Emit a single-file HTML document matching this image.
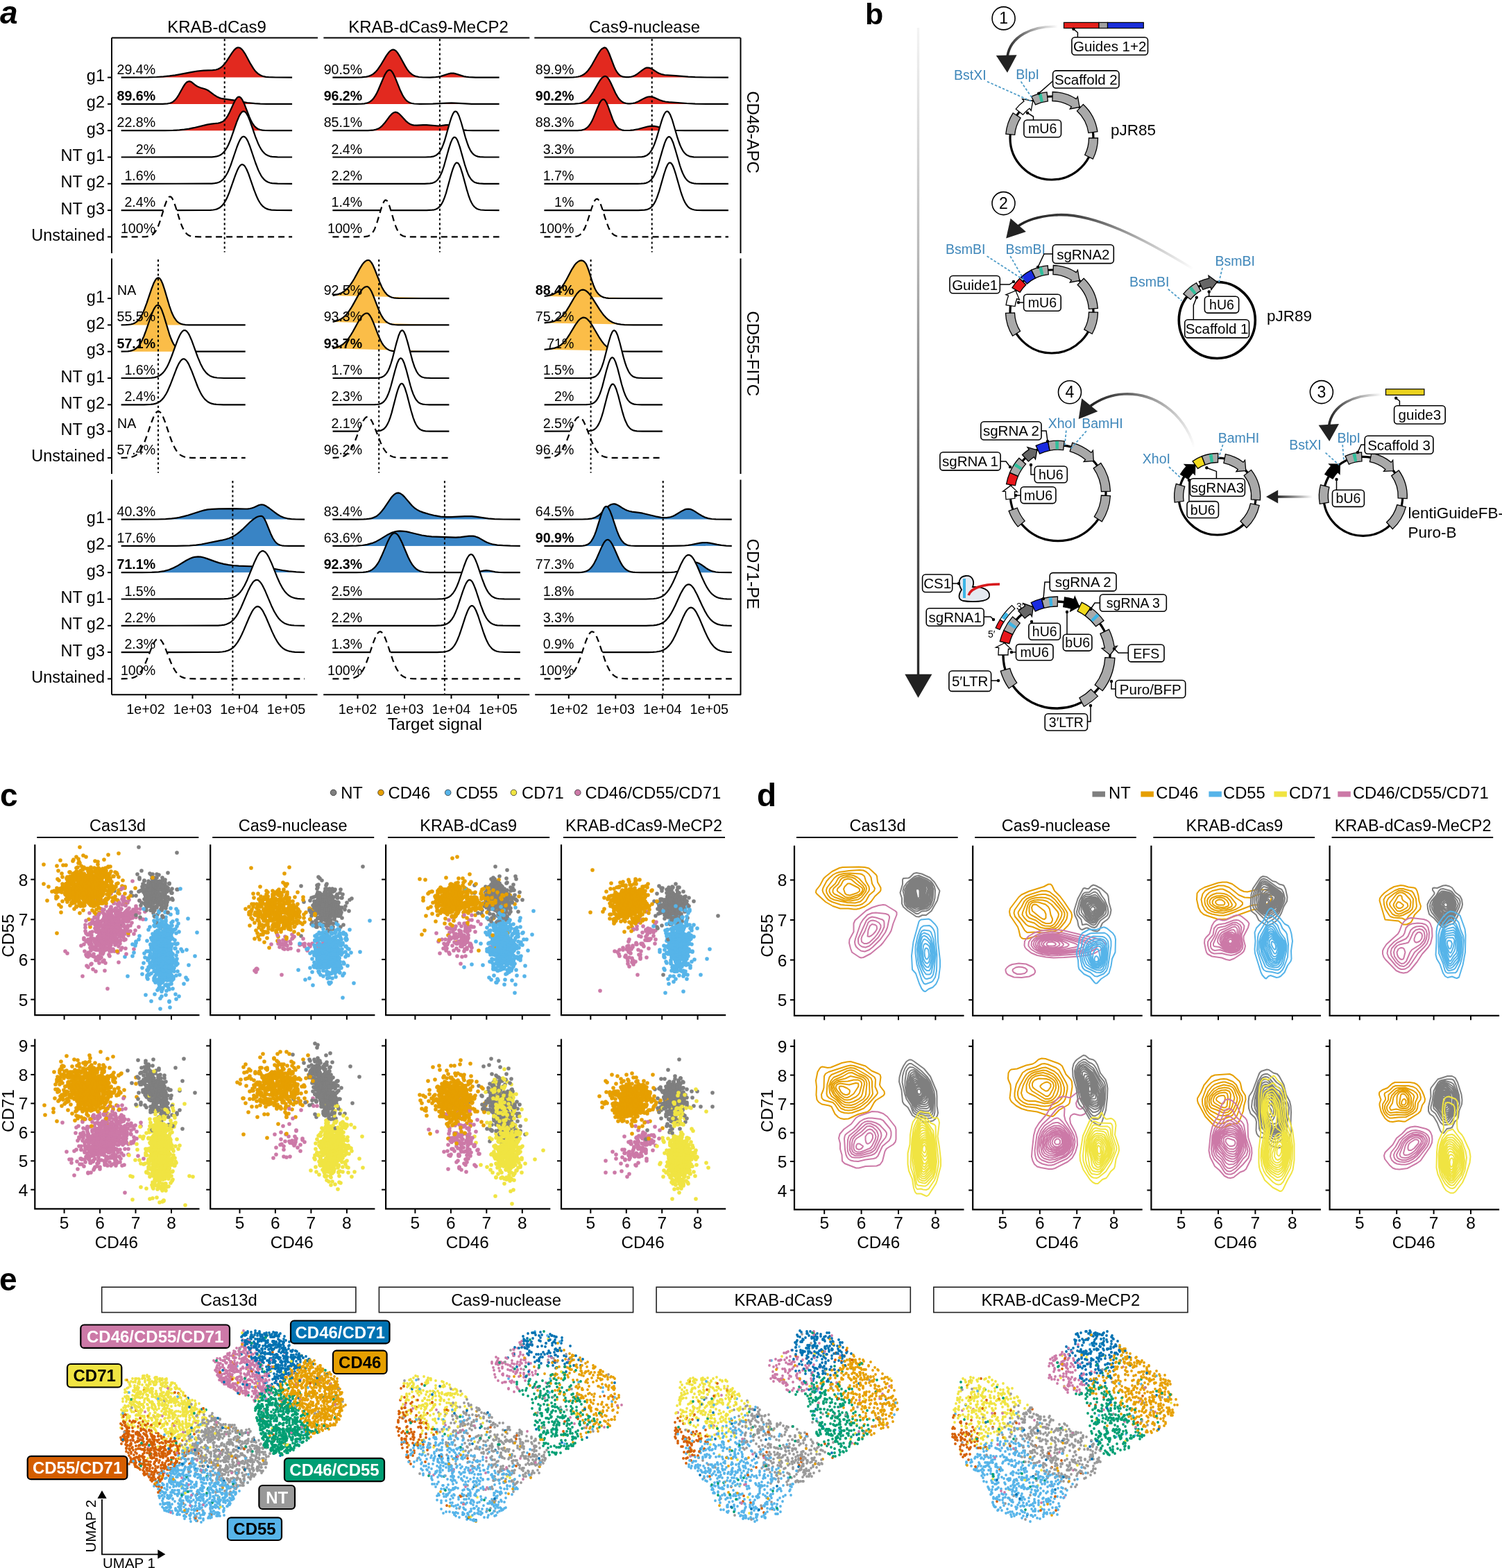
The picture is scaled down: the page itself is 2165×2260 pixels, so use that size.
<!DOCTYPE html>
<html><head><meta charset="utf-8"><title>Figure</title>
<style>html,body{margin:0;padding:0;background:#fff;}svg{display:block;}</style>
</head><body>
<svg width="2165" height="2260" viewBox="0 0 2165 2260">
<rect width="2165" height="2260" fill="#fff"/>
<text x="0" y="34" font-family="'Liberation Sans', Arial, sans-serif" font-size="46" font-weight="bold" font-style="italic">a</text>
<text x="312.6" y="46.5" font-family="'Liberation Sans', Arial, sans-serif" font-size="24" text-anchor="middle">KRAB-dCas9</text>
<text x="617.5" y="46.5" font-family="'Liberation Sans', Arial, sans-serif" font-size="24" text-anchor="middle">KRAB-dCas9-MeCP2</text>
<text x="929.0" y="46.5" font-family="'Liberation Sans', Arial, sans-serif" font-size="24" text-anchor="middle">Cas9-nuclease</text>
<line x1="161" y1="54.5" x2="458" y2="54.5" stroke="#000" stroke-width="2"/>
<line x1="466.4" y1="54.5" x2="763.3" y2="54.5" stroke="#000" stroke-width="2"/>
<line x1="770.3" y1="54.5" x2="1067.3" y2="54.5" stroke="#000" stroke-width="2"/>
<line x1="161" y1="1001.2" x2="457.6" y2="1001.2" stroke="#000" stroke-width="2"/>
<line x1="466.2" y1="1001.2" x2="763.2" y2="1001.2" stroke="#000" stroke-width="2"/>
<line x1="771.2" y1="1001.2" x2="1068.2" y2="1001.2" stroke="#000" stroke-width="2"/>
<line x1="161" y1="54.5" x2="161" y2="365" stroke="#000" stroke-width="2"/>
<line x1="1067.5" y1="54.5" x2="1067.5" y2="365" stroke="#000" stroke-width="2"/>
<line x1="161" y1="372.5" x2="161" y2="683" stroke="#000" stroke-width="2"/>
<line x1="1067.5" y1="372.5" x2="1067.5" y2="683" stroke="#000" stroke-width="2"/>
<line x1="161" y1="691.5" x2="161" y2="1001.2" stroke="#000" stroke-width="2"/>
<line x1="1067.5" y1="691.5" x2="1067.5" y2="1001.2" stroke="#000" stroke-width="2"/>
<text transform="translate(1077,190.6) rotate(90)" font-family="'Liberation Sans', Arial, sans-serif" font-size="24" text-anchor="middle">CD46-APC</text>
<text transform="translate(1077,509.7) rotate(90)" font-family="'Liberation Sans', Arial, sans-serif" font-size="24" text-anchor="middle">CD55-FITC</text>
<text transform="translate(1077,827.3) rotate(90)" font-family="'Liberation Sans', Arial, sans-serif" font-size="24" text-anchor="middle">CD71-PE</text>
<path d="M174.7 111.6l38.9-0.2 12-0.4 10-0.6 8.9-1 8-1.1 24-4.5 7.9-1.3 9-0.8 13-0.5 5-0.7 3-0.9 2-1 2.9-2 2-1.8 2-2.2 3-3.9 8-12.3 3-4 2-2 1-0.8 2-1 1-0.1 1 0 2 0.7 2 1.6 2 2.3 3 4.5 7.9 14.6 4 6.5 2 2.7 3 3.3 2 1.7 3 1.9 2 0.9 3 1 3 0.6 4 0.4 10 0.3 23.9 0.1" fill="#E2291F" stroke="#000" stroke-width="2.2" stroke-linejoin="round"/>
<path d="M174.7 149.9l59.9-0.1 6.9-0.4 4-0.9 2-0.8 2-1.1 2-1.7 2-2.1 2-2.6 2-3.2 6-10.8 3-4.8 2-2.3 1-0.8 1-0.6 2-0.5 2 0.4 2 1 5.9 4.7 3 1.8 3 1.2 7 1.9 3 1.3 3 1.8 7 5.3 4 2.6 4 1.9 3.9 1.1 16 2.2 20 3.6 10.9 1.2 8 0.4 9 0.2 36.9 0.1" fill="#E2291F" stroke="#000" stroke-width="2.2" stroke-linejoin="round"/>
<path d="M174.7 188.2l62.8-0.1 12-0.2 9-0.5 7-0.7 7-1.1 6.9-1.4 19-4.6 6-1 10-1.1 3-0.7 2.9-1.2 2-1.3 2-1.9 2-2.5 2-3.1 2-3.7 6-13.1 3-5.9 2-2.8 1-0.9 1-0.6 1-0.3 1 0.2 1 0.5 1 0.9 2 2.8 3 6.2 7 18 2.9 6.5 2 3.6 2 2.8 2 2.2 2 1.6 2 1.2 3 1 3 0.6 3 0.3 10 0.3 29.9 0" fill="#E2291F" stroke="#000" stroke-width="2.2" stroke-linejoin="round"/>
<path d="M174.7 226.5l125.7-0.1 5-0.1 4-0.4 3-0.5 3-0.9 3-1.5 2.9-2.3 3-3.5 3-4.7 2-4 3-7.1 9-25.7 3-7.4 2-3.8 2-2.6 1-0.8 1-0.5 1-0.1 1 0.3 1 0.6 1 0.9 1 1.3 2 3.5 2.9 7 8 23 4 10 2 4.2 2 3.5 2 2.9 3 3.3 2 1.6 3 1.7 3 1 3 0.6 8 0.5 20.9 0.1" fill="#fff" stroke="#000" stroke-width="2.2" stroke-linejoin="round"/>
<path d="M174.7 264.8l125.7-0.1 5-0.1 4-0.4 3-0.5 3-1 3-1.5 2.9-2.4 3-3.6 3-4.9 2-4.1 3-7.3 9-26.4 3-7.6 2-3.9 2-2.8 1-0.8 1-0.5 1-0.1 1 0.3 1 0.6 1 1 1 1.3 2 3.6 2.9 7.2 8 23.7 4 10.4 2 4.2 2 3.7 2 3 3 3.4 2 1.6 3 1.7 3 1 3 0.6 8 0.6 20.9 0.1" fill="#fff" stroke="#000" stroke-width="2.2" stroke-linejoin="round"/>
<path d="M174.7 303.1l123.7-0.1 5-0.1 4-0.4 3-0.5 3-0.9 3-1.5 2.9-2.4 3-3.4 3-4.8 2-4 3-7.1 9-25.6 3-7.4 2-3.8 2-2.6 1-0.8 1-0.5 1-0.1 1 0.3 1 0.6 1 0.9 1 1.3 2 3.5 3 7.1 7.9 22.9 4 10.1 2 4.2 2 3.5 2 2.9 3 3.3 2 1.5 3 1.7 3 1 4 0.7 8 0.4 21.9 0.1" fill="#fff" stroke="#000" stroke-width="2.2" stroke-linejoin="round"/>
<path d="M174.7 341.4l27.9 0 8-0.3 3-0.4 3-0.8 2-0.9 2-1.5 2-2 2-2.8 2-3.6 2-4.6 3-8.5 5.9-19.4 3-8 2-3.5 1-1.1 1-0.5 1-0.1 1 0.5 1 1 1 1.5 2 4.2 3 8.6 6 19.4 3 8 2 4.1 2 3.3 1 1.3 2 2.1 2 1.5 3 1.3 2 0.5 2.9 0.4 8 0.3 133.7 0" fill="#fff" stroke="#000" stroke-width="2.2" stroke-linejoin="round" stroke-dasharray="9 6"/>
<line x1="323.7" y1="56.0" x2="323.7" y2="363.5" stroke="#000" stroke-width="2" stroke-dasharray="3.2 3.6"/>
<path d="M479.4 111.6l31.9 0 10-0.2 6.9-0.8 3-0.7 3-1.1 3-1.7 2-1.5 3-2.9 2-2.3 4-5.7 8.9-14.8 3-4.1 2-2.1 2-1.4 2-0.7 1 0 1 0.2 2 1.1 1 0.9 2 2.3 3 4.7 8 14.6 2.9 4.7 2 2.6 2 2.2 3 2.5 3 1.7 3 1.1 4 0.8 6 0.5 9.9 0.1 8-0.4 4-0.5 3-0.6 11.9-3.8 3-0.6 2-0.1 2 0.1 3 0.6 12 3.8 3 0.6 3.9 0.5 10 0.4 33.9 0" fill="#E2291F" stroke="#000" stroke-width="2.2" stroke-linejoin="round"/>
<path d="M479.4 149.9l32.9 0 9-0.2 3.9-0.4 3-0.6 3-1 2-1.1 2-1.5 2-1.9 2-2.5 2-3.1 2-3.6 2-4.2 7-16.6 2.9-6.2 2-3.2 1-1.2 1-0.9 1-0.5 1-0.3 1 0.1 1 0.4 1 0.9 1 1.1 2 3.2 3 6.5 7 17.5 3 6.2 2 3.4 2 2.7 2.9 3 2 1.3 3 1.3 2 0.5 3 0.5 8 0.4 18.9-0.2 20-1.1 6.9-0.2 6 0.2 14 0.8 8.9 0.4 39.9 0.1" fill="#E2291F" stroke="#000" stroke-width="2.2" stroke-linejoin="round"/>
<path d="M479.4 188.2l50.8-0.1 7-0.4 5-1.1 4-1.7 2-1.3 2-1.7 4-4.3 6.9-9.3 3-3.4 2-1.7 1-0.6 2-0.8 1-0.1 2 0.4 1 0.4 2 1.3 3 2.9 6.9 7.6 3 2.6 2 1.3 2 1 2 0.7 2 0.5 5 0.2 9-0.4 4.9 0 17 1.3 4-0.3 7-1 2.9 0 2 0.3 3 0.9 7 3.3 3 1.2 3 0.9 4 0.6 5 0.4 8.9 0.3 37.9 0.1" fill="#E2291F" stroke="#000" stroke-width="2.2" stroke-linejoin="round"/>
<path d="M479.4 226.5l133.6 0 7.9-0.3 3-0.5 2-0.6 3-1.4 3-2.5 2-2.6 1-1.5 2-3.9 2-4.8 2-5.7 7.9-27.7 2-6.1 2-4.7 1-1.7 1-1.2 1-0.6 1-0.2 1 0.4 1 0.9 1 1.5 2 4.2 3 9 6 21.3 3 9.2 1.9 5 2 4.1 2 3.2 2 2.4 2 1.7 2 1.1 3 1.1 3 0.5 7 0.4 20.9 0" fill="#fff" stroke="#000" stroke-width="2.2" stroke-linejoin="round"/>
<path d="M479.4 264.8l132.6 0 7.9-0.4 3-0.5 2-0.6 3-1.6 3-2.7 3-4.4 2-4.1 2-5 2-6 6.9-24.8 3-9.3 2-4.5 1-1.5 1-1.1 1-0.5 1 0.1 1 0.6 1 1.1 2 3.7 3 8.6 7 24.9 3 9.2 1.9 4.9 2 4 2 3.1 2 2.2 2 1.7 2 1.1 3 0.9 3 0.5 7 0.4 21.9 0" fill="#fff" stroke="#000" stroke-width="2.2" stroke-linejoin="round"/>
<path d="M479.4 303.1l135.5 0 8-0.4 3-0.4 2-0.6 3-1.5 3-2.6 2-2.6 1-1.7 2-3.9 2-5 2-5.9 7.9-28.9 2-6.3 2-4.9 1-1.7 1-1.3 1-0.7 1-0.2 1 0.4 1 1 1 1.4 2 4.4 3 9.4 6 22 2.9 9.6 2 5.3 2 4.3 2 3.3 2 2.4 2 1.8 2 1.2 2 0.8 3 0.7 7 0.5 19.9 0.1" fill="#fff" stroke="#000" stroke-width="2.2" stroke-linejoin="round"/>
<path d="M479.4 341.4l44.9-0.1 4.9-0.6 2-0.6 2-1 2-1.6 2-2.4 2-3.4 1-2.1 3-7.9 6-20.3 2-6 2-4.5 1-1.4 0.9-0.9 1-0.2 1 0.4 1 1 1 1.6 2 4.8 2 6.1 5 17.2 2 5.9 2 4.9 2 3.7 2 2.7 2 1.9 3 1.6 3.9 0.9 7 0.3 127.6 0" fill="#fff" stroke="#000" stroke-width="2.2" stroke-linejoin="round" stroke-dasharray="9 6"/>
<line x1="633.9" y1="56.0" x2="633.9" y2="363.5" stroke="#000" stroke-width="2" stroke-dasharray="3.2 3.6"/>
<path d="M784.4 111.6l31.9 0 10-0.3 4-0.3 3-0.5 3-0.8 3-1.2 3-1.8 2-1.7 2-1.9 2-2.4 2-2.7 3-4.7 8-14.3 2.9-4.7 2-2.6 2-1.8 2-1 1-0.3 1 0.1 1 0.4 1 0.9 2 3.1 2 4.4 7 18.4 2 4.4 2 3.4 2 2.7 2 1.9 2 1.3 3 1.1 4 0.5 4-0.1 4-0.6 3-0.9 2-0.9 2.9-1.7 8-6.2 3-2 3-1.2 2-0.1 2 0.3 3 1.2 8 5.2 3 1.6 4 1.4 4 0.8 15.9 1.1 18 1.5 10 0.6 16 0.3 31.9 0.1" fill="#E2291F" stroke="#000" stroke-width="2.2" stroke-linejoin="round"/>
<path d="M784.4 149.9l33.9 0 10-0.2 7-0.7 3-0.7 3-1.2 2-1.1 2-1.4 2-1.7 2-2.2 2-2.5 3-4.5 8-13.9 2.9-4.6 2-2.4 2-1.8 2-0.9 1-0.2 1 0.1 1 0.4 1 0.8 1 1.1 2 2.9 2 3.8 7 15.2 3 5.3 2 2.9 2 2.2 3 2.4 2 1 3 0.9 3 0.4 3 0 4-0.4 3-0.7 4.9-1.9 8-4.4 3-1.4 3-1 3-0.2 2 0.2 3 0.8 9 3.9 4 1.4 4 0.9 5 0.6 25.9 1.9 12 0.6 16 0.2 31.9 0.1" fill="#E2291F" stroke="#000" stroke-width="2.2" stroke-linejoin="round"/>
<path d="M784.4 188.2l47.9-0.1 6-0.5 3-0.8 2-0.8 2-1.3 2-1.7 2-2.3 2-2.9 2-3.6 2-4.3 6-14.7 2.9-6.5 2-3.2 1-1.1 1-0.8 1-0.3 1 0 1 0.5 1 0.9 2 3.3 2 4.6 7 19.3 2 4.5 2 3.6 2 2.8 2 2 2 1.3 3 1.2 3 0.5 4 0.2 5-0.2 5-0.5 6.9-1.3 13-3.5 4-0.7 3-0.1 3 0.2 4 0.6 11 3.1 5 1.1 5 0.8 4.9 0.4 14 0.3 62.9 0" fill="#E2291F" stroke="#000" stroke-width="2.2" stroke-linejoin="round"/>
<path d="M784.4 226.5l131.8 0 8.9-0.4 3-0.5 2-0.7 3-1.5 3-2.6 3-4.1 2-3.7 2-4.6 3-8.5 7-23.7 2-6 2-4.9 1-1.8 1-1.5 1-1 1-0.4 1 0 1 0.5 1 1 2 3.3 3 7.8 6.9 23.6 2 6.2 2 5.5 2 4.6 2 3.7 2 2.9 3 3 2 1.4 3 1.2 3 0.6 3 0.4 9 0.2 40.9 0" fill="#fff" stroke="#000" stroke-width="2.2" stroke-linejoin="round"/>
<path d="M784.4 264.8l134.7 0 5-0.2 4-0.3 3-0.5 2-0.7 3-1.7 3-2.7 3-4.4 2-4 2-4.9 2-5.7 7-24.1 3-9.4 2-4.8 1-1.7 1-1.4 1-0.8 1-0.4 1 0.2 1 0.6 1 1.2 1 1.6 2 4.5 2.9 9.1 7 24.2 2 5.9 2 5.1 2 4.1 2 3.3 2 2.5 2 1.8 2 1.3 3 1.1 3 0.7 3 0.3 9 0.2 37.9 0" fill="#fff" stroke="#000" stroke-width="2.2" stroke-linejoin="round"/>
<path d="M784.4 303.1l135.7 0 9-0.4 3-0.6 2-0.6 3-1.5 3-2.7 3-4.2 2-3.9 2-4.8 3-8.8 7-24.6 3-9 2-4.3 1-1.5 1-1.1 1-0.5 1 0 1 0.5 1 1 1 1.4 1 2 1.9 5 2 6.3 7 24.5 2 6.1 2 5.3 2 4.4 2 3.4 2 2.7 2 1.9 2 1.4 3 1.3 3 0.7 3 0.3 9 0.3 36.9 0" fill="#fff" stroke="#000" stroke-width="2.2" stroke-linejoin="round"/>
<path d="M784.4 341.4l33.9 0 8-0.2 3-0.3 3-0.7 2-0.8 2-1.3 2-1.9 2-2.6 3-5.5 3-7.7 6-18.9 3-8.4 2-4 1-1.3 1-0.8 1-0.3 1 0.2 1 0.8 1 1.3 1.9 3.9 3 8.3 6 19 3 7.7 2 4 2 3 1 1.2 2 1.9 2 1.3 3 1.2 5 0.7 7 0.2 148.7 0" fill="#fff" stroke="#000" stroke-width="2.2" stroke-linejoin="round" stroke-dasharray="9 6"/>
<line x1="939.7" y1="56.0" x2="939.7" y2="363.5" stroke="#000" stroke-width="2" stroke-dasharray="3.2 3.6"/>
<path d="M174.6 468.4l7-0.2 3.9-0.3 3-0.4 3-0.8 3-1.3 2-1.3 2-1.7 2-2.2 2-2.8 1.9-3.4 2-4.1 2-4.7 3-8.1 7-20.8 3-7.7 2-3.9 1.9-2.8 1-0.8 1-0.6 1-0.1 1 0.3 1 0.7 1 1.3 1 1.6 2 4.4 3 8.9 6.9 23.4 3 8.5 2 4.6 2 3.8 3 4.3 2 1.9 3 2 2 0.8 3 0.8 2.9 0.4 5 0.2 81.6 0.1" fill="#FBBD48" stroke="#000" stroke-width="2.2" stroke-linejoin="round"/>
<path d="M174.6 506.7l9.9-0.4 3-0.4 3-0.8 3-1.2 2-1.2 3-2.6 2-2.4 2-2.9 1.9-3.6 3-6.6 3-7.9 8-23.2 3-7.1 2-3.5 1-1.3 0.9-1 1-0.6 1-0.3 1 0.1 1 0.6 1 1.1 1 1.5 2 4.1 3 8.5 7.9 26.2 2 5.5 2 4.7 2 3.9 3 4.3 2 2 3 2.1 2 0.9 3 0.7 2.9 0.5 5 0.2 82.6 0.1" fill="#FBBD48" stroke="#000" stroke-width="2.2" stroke-linejoin="round"/>
<path d="M174.6 545l33.8 0 10-0.4 4-0.5 3.9-1 3-1.4 3-1.9 3-2.9 2-2.5 3-4.7 2-3.9 1.9-4.3 3-7.5 9-24.4 3-6.6 2-3.4 2-2.3 1-0.8 0.9-0.4 1-0.1 1 0.2 1 0.5 1 0.8 2 2.4 2 3.5 3 6.8 8.9 24.4 4 9.6 3 5.9 2 3.2 3 3.8 3 2.8 3 2 2.9 1.2 3 0.8 4 0.6 10 0.5 30.8 0" fill="#fff" stroke="#000" stroke-width="2.2" stroke-linejoin="round"/>
<path d="M174.6 583.3l32.8 0 10-0.4 4-0.5 3-0.8 2.9-1.1 3-1.7 3-2.6 3-3.5 3-4.7 2-3.8 3.9-8.9 9-23.5 2-4.6 2-3.9 2-3 2-2.1 1-0.6 1-0.3 0.9 0 1 0.3 2 1.5 2 2.5 2 3.5 4 9.1 8.9 23.3 3 6.6 2 3.8 2 3.3 2 2.7 2 2.3 3 2.5 3 1.8 2.9 1.1 3 0.8 4 0.5 10 0.4 31.8 0" fill="#fff" stroke="#000" stroke-width="2.2" stroke-linejoin="round"/>
<path d="M174.6 659.9l7-0.2 3.9-0.3 3-0.4 3-0.8 3-1.3 2-1.2 2-1.7 2-2.2 2-2.7 1.9-3.4 2-4 2-4.7 3-8 7-20.5 3-7.5 2-3.9 1.9-2.7 1-0.9 1-0.5 1-0.1 1 0.2 1 0.6 1 0.9 2 2.9 2 4 3 7.6 5.9 17.7 3 8.2 3 7.1 2 4 2 3.3 3 3.8 2 1.9 3 2 2.9 1.2 3 0.8 4 0.5 4 0.2 77.6 0.1" fill="#fff" stroke="#000" stroke-width="2.2" stroke-linejoin="round" stroke-dasharray="9 6"/>
<line x1="228.0" y1="374.0" x2="228.0" y2="681.5" stroke="#000" stroke-width="2" stroke-dasharray="3.2 3.6"/>
<path d="M479.6 425.9l7-1.5 5-1.8 4-2.3 4-3.3 4-4.5 4-5.8 3-5 8-14.6 3.9-6.2 2-2.4 2-1.9 2-1.2 2-0.4 1 0 1 0.4 1 0.8 2 2.4 2 3.5 3 6.9 7 18.2 3 6.7 2 3.7 2 3.1 3 3.6 2 1.7 3 1.8 2 0.8 3 0.7 3 0.4 5 0.3 71.9 0.1" fill="#FBBD48" stroke="#000" stroke-width="2.2" stroke-linejoin="round"/>
<path d="M479.6 464l6-1.6 5-2.1 4-2.6 4-3.6 3-3.6 4-5.8 3-5.1 8-14.5 4-6.2 1.9-2.4 2-1.8 2-1.2 2-0.4 1 0 1 0.5 1 0.7 2 2.5 2 3.5 3 7 7 18.2 3 6.7 2 3.7 2 3.2 3 3.5 2 1.7 3 1.8 2 0.8 3 0.7 3 0.4 5 0.3 73.9 0.1" fill="#FBBD48" stroke="#000" stroke-width="2.2" stroke-linejoin="round"/>
<path d="M479.6 502.3l6-1.6 5-2.1 4-2.6 4-3.6 3-3.5 4-5.9 3-5 8-14.5 4-6.2 1.9-2.4 2-1.8 2-1.2 2-0.4 1 0 1 0.5 1 0.7 2 2.5 2 3.5 3 6.9 7 18.2 3 6.7 2 3.8 2 3.1 3 3.5 2 1.7 3 1.8 2 0.8 3 0.7 3 0.4 5 0.3 73.9 0.1" fill="#FBBD48" stroke="#000" stroke-width="2.2" stroke-linejoin="round"/>
<path d="M479.6 545l62.9-0.1 3-0.2 3-0.5 3-1.1 2-1.2 2-1.7 2-2.6 2-3.4 2-4.5 2-5.7 2-6.6 6-23.3 3-10.1 2-4.8 1-1.6 1-1 1-0.4 1 0.2 1 0.9 1 1.4 2 4.5 3 9.9 7 26.7 3 9.1 3 6.6 2 3.1 2 2.3 1.9 1.5 2 1.1 3 0.8 3 0.4 7 0.3 26 0" fill="#fff" stroke="#000" stroke-width="2.2" stroke-linejoin="round"/>
<path d="M479.6 583.3l60.9-0.1 3-0.2 3-0.5 3-1 2-1.2 2-1.7 2-2.5 2-3.4 2-4.4 2-5.5 2-6.5 6-22.6 3-9.9 2-4.6 1-1.5 1-1 1-0.4 1 0.2 1 0.9 1 1.4 2 4.4 3 9.6 6 22.7 2 6.6 2 5.6 3 6.4 2 3 2 2.2 2 1.5 1.9 1 3 0.8 3 0.4 7 0.3 28 0" fill="#fff" stroke="#000" stroke-width="2.2" stroke-linejoin="round"/>
<path d="M479.6 621.6l61.9-0.1 4-0.3 3-0.6 2-0.7 2-1.1 2-1.7 2-2.4 2-3.3 2-4.3 2-5.5 2-6.5 7-26.9 2-6.6 2-5.1 1-1.8 1-1.2 1-0.6 1 0 1 0.6 1 1.3 2 4.1 3 9.6 6 23.2 3 10.1 2 5.4 2 4.3 2 3.3 2 2.4 1.9 1.6 2 1.1 3 1 3 0.4 7 0.3 27 0" fill="#fff" stroke="#000" stroke-width="2.2" stroke-linejoin="round"/>
<path d="M479.6 659.8l8-0.4 3-0.4 3-0.8 3-1.2 2-1.3 2-1.6 2-2.1 2-2.6 2-3.1 3-5.9 3-6.9 7-18.1 2-4.7 1.9-4 2-3.1 1-1.1 1-0.9 1-0.5 1-0.2 1 0.1 1 0.5 1 0.7 2 2.4 2 3.4 3 6.7 9 22.9 3 6.4 2 3.5 2 2.9 3 3.5 2 1.7 3 1.7 3 1.2 3 0.6 4 0.5 4 0.2 69.9 0.1" fill="#fff" stroke="#000" stroke-width="2.2" stroke-linejoin="round" stroke-dasharray="9 6"/>
<line x1="546.2" y1="374.0" x2="546.2" y2="681.5" stroke="#000" stroke-width="2" stroke-dasharray="3.2 3.6"/>
<path d="M784.6 427l7-1.1 5-1.5 2.9-1.3 2-1.2 4-3.3 3-3.3 4-5.6 4-6.7 7.9-14.9 4-6.2 2-2.4 3-2.5 3-1.4 2-0.2 2 0.6 2 1.4 2 2.5 1 1.7 0.9 2.2 2 5.2 5 15.9 2 5.8 2 4.8 2 3.9 2 2.9 2 2.2 2 1.7 3 1.7 1.9 0.7 3 0.7 4 0.5 4 0.2 73.7 0.1" fill="#FBBD48" stroke="#000" stroke-width="2.2" stroke-linejoin="round"/>
<path d="M784.6 465.4l8-1 5.9-1.3 3-1.2 2-1 3-1.9 2-1.6 4-4.2 4-5.4 4-6.4 6.9-11.9 4-6 3-3.3 2-1.5 2-0.9 2-0.2 2 0.4 2 1 1.9 1.4 2 2 2 2.3 3 4.1 11 17.3 3 4.3 2.9 3.9 3 3.3 3 2.7 3 2.2 4 2.2 3 1.1 4 1.1 4.9 0.8 5 0.4 13 0.3 41.8 0" fill="#FBBD48" stroke="#000" stroke-width="2.2" stroke-linejoin="round"/>
<path d="M784.6 503.8l9-1 5.9-1.2 3-1 2-0.9 3-1.8 2-1.5 4-3.9 4-5.1 3.9-6.1 8-13.2 4-5.5 2-2.1 2-1.6 2-1 2-0.3 2 0.4 2 1 1.9 1.7 3 3.4 4 6.1 10 17 3 4.4 2.9 3.8 2 2.1 3 2.6 3 2.1 3 1.5 3 1 4 1 4 0.5 4.9 0.3 12 0.2 45.8 0" fill="#FBBD48" stroke="#000" stroke-width="2.2" stroke-linejoin="round"/>
<path d="M784.6 545l63.7-0.1 3-0.3 3-0.5 3-1 2-1.3 2-1.8 2-2.5 2-3.6 2-4.5 2-5.7 1.9-6.7 6-23.2 3-10 2-4.7 1-1.6 1-0.9 1-0.4 1 0.3 1 0.8 1 1.5 2 4.5 3 9.9 5.9 23.2 2 6.7 2 5.8 3 6.6 2 3.1 2 2.3 2 1.5 2 1 3 0.9 2.9 0.4 7 0.3 27.9 0" fill="#fff" stroke="#000" stroke-width="2.2" stroke-linejoin="round"/>
<path d="M784.6 583.3l60.8-0.1 2.9-0.2 3-0.5 3-1 2-1.1 2-1.7 2-2.4 2-3.4 2-4.3 2-5.5 2-6.5 5.9-22.8 3-10.1 2-5 1-1.7 1-1.1 1-0.6 1 0.1 1 0.7 1 1.3 2 4.2 3 9.4 5.9 23 3 9.9 2 5.3 2 4.2 2 3.2 2 2.3 2 1.7 2 1 3 1 3 0.4 7.9 0.3 29.9 0" fill="#fff" stroke="#000" stroke-width="2.2" stroke-linejoin="round"/>
<path d="M784.6 621.6l61.7-0.1 3-0.3 3-0.5 3-1 2-1.2 2-1.8 2-2.6 2-3.5 2-4.5 2-5.7 2-6.6 5.9-22.9 3-9.9 2-4.6 1-1.5 1-1 1-0.3 1 0.3 1 0.9 1 1.4 2 4.5 3 9.8 5.9 22.9 2 6.7 2 5.7 3 6.5 2 3 2 2.2 2 1.6 2 1 3 0.8 3 0.4 7.9 0.3 28.9 0" fill="#fff" stroke="#000" stroke-width="2.2" stroke-linejoin="round"/>
<path d="M784.6 659.8l8-0.4 3-0.4 2.9-0.7 3-1.3 2-1.2 2-1.6 2-2.1 2-2.6 2-3.1 3-5.8 3-6.9 7.9-20.5 3-6.3 2-3.2 1-1.1 1-0.9 1-0.5 1-0.3 1 0.1 1 0.4 1 0.7 2 2.3 2 3.4 3 6.5 8.9 22.9 3 6.4 2 3.6 2 3 3 3.5 2 1.7 3 1.8 2.9 1.2 3 0.7 4 0.5 4 0.2 72.7 0.1" fill="#fff" stroke="#000" stroke-width="2.2" stroke-linejoin="round" stroke-dasharray="9 6"/>
<line x1="851.6" y1="374.0" x2="851.6" y2="681.5" stroke="#000" stroke-width="2" stroke-dasharray="3.2 3.6"/>
<path d="M174.7 748.6l51.9-0.1 12-0.4 8.9-0.7 9-1.2 8-1.8 7-1.9 17.9-5.8 5-1.3 5-1 6-0.6 10-0.4 22.9-0.2 15 0.3 4-0.1 3-0.4 3-0.7 3-1.1 6.9-3.2 2-0.5 2-0.2 2 0.2 1 0.3 4 2 4 2.7 8 6.2 4 2.8 4 2.4 5 2.1 5 1.3 5.9 0.8 7 0.4 12 0.1" fill="#3984C5" stroke="#000" stroke-width="2.2" stroke-linejoin="round"/>
<path d="M174.7 786.9l77.8 0 12-0.2 9-0.3 9-0.8 7.9-1.1 29-5.8 6-1.5 4.9-1.5 4-1.7 4-2.2 4-2.7 4-3.2 4-3.7 10-9.7 5-4.2 3-2 3-1.5 2.9-0.8 2-0.2 1 0.1 1 0.4 1 0.8 2 2.8 2 4 7 17.3 3 6.3 3 4.6 2 2.3 2 1.6 2 1.1 2 0.7 2 0.5 3 0.3 7 0.3 22.9 0" fill="#3984C5" stroke="#000" stroke-width="2.2" stroke-linejoin="round"/>
<path d="M174.7 825.2l29.9 0 14-0.3 10-0.6 8-1.2 6.9-1.9 7-2.9 6-3.2 12-7.4 6-3 3-1.1 3-0.8 4.9-0.5 4 0.4 4 0.8 5 1.6 11 4 6 2 7 1.8 6.9 1.2 7 0.9 8 0.6 24 0.9 9.9 0.7 10 1.3 19 3.5 9 1.3 10.9 1.1 12 0.6" fill="#3984C5" stroke="#000" stroke-width="2.2" stroke-linejoin="round"/>
<path d="M174.7 863.5l141.7-0.1 7-0.2 5-0.4 3.9-0.7 3-0.8 4-1.8 3-2.1 2-1.8 2-2.2 3-4.1 3-5.1 4-8.3 10-24.6 4-8.6 2.9-4.9 2-2.2 2-1.2 1-0.3 1 0 2 0.8 2 1.7 2 2.6 2 3.4 4 8.6 8 20 4 9 4 7.5 2 3 2 2.6 2 2.2 3 2.6 2.9 1.9 3 1.3 3 0.8 4 0.7 4 0.4 6 0.2" fill="#fff" stroke="#000" stroke-width="2.2" stroke-linejoin="round"/>
<path d="M174.7 901.8l133.7-0.1 6-0.1 5-0.4 4-0.6 3-0.8 3.9-1.7 3-2 2-1.7 2-2 3-3.8 3-4.8 4-7.8 10-23.4 4-8.3 3-4.7 2-2.2 2-1.2 2-0.4 2 0.6 1.9 1.6 2 2.4 2 3.1 4 8.1 9 21.3 4 8.3 4 6.7 2 2.8 3 3.3 3 2.5 3 1.9 3 1.2 3 0.9 3.9 0.6 4 0.4 15 0.3" fill="#fff" stroke="#000" stroke-width="2.2" stroke-linejoin="round"/>
<path d="M174.7 940.1l134.7-0.1 6-0.1 5-0.4 4-0.6 4-1.1 3.9-1.8 3-2.1 2-1.8 2-2.2 3-4 3-5 3-5.9 3-6.6 8-18.9 4-8 2-3.1 2-2.3 2-1.5 2-0.5 1.9 0.4 2 1.4 2 2.3 2 3 4 8 9 21.2 4 8.4 4 6.9 2 2.8 3 3.5 3 2.6 3 1.9 3 1.3 2.9 0.9 4 0.7 4 0.4 14 0.3" fill="#fff" stroke="#000" stroke-width="2.2" stroke-linejoin="round"/>
<path d="M174.7 978.4l11-0.4 3-0.4 3-0.7 3-1.1 2-1.2 1.9-1.5 2-1.9 2-2.4 2-3 3-5.5 4-9.1 7-17.8 3-6.4 2-3.3 2-2.2 1-0.7 1-0.3 1-0.1 1 0.3 1 0.6 1 0.9 2 2.6 2 3.6 3 6.7 7.9 20.2 3 6.4 3 5.2 3 4 3 2.8 3 1.9 4 1.5 3 0.6 3 0.4 10 0.3 157.6 0" fill="#fff" stroke="#000" stroke-width="2.2" stroke-linejoin="round" stroke-dasharray="9 6"/>
<line x1="335.4" y1="693.0" x2="335.4" y2="999.7" stroke="#000" stroke-width="2" stroke-dasharray="3.2 3.6"/>
<path d="M479.4 748.6l34.9 0 10-0.2 4-0.2 4-0.5 3-0.6 3-1 3-1.3 3-2 2.9-2.6 2-2.1 5-6.4 9-13.4 2-2.5 2-2.1 2-1.7 2-1.1 1-0.3 2-0.2 1 0.2 2 0.7 3 2.1 3 3 8 9.4 2.9 3.2 3 2.8 4 2.8 4 2.1 5 1.9 9 2.6 8 2 8 1.4 7.9 0.5 7 0 20-0.9 10-0.1 6.9 0.7 17 2.5 9 0.8 13 0.4 23.9 0.1" fill="#3984C5" stroke="#000" stroke-width="2.2" stroke-linejoin="round"/>
<path d="M479.4 786.9l22.9 0 11-0.3 9-0.6 7-1.1 7-2 6-2.5 5.9-3.3 11-6.7 6-2.9 5-1.5 3-0.4 3-0.2 4 0.2 5 0.6 5 1 17.9 4.3 7 1.1 7 0.7 34.9 1.3 7-0.4 12-1.5 3-0.2 3 0.2 2.9 0.5 3 1 3 1.4 8 4.6 3 1.5 4 1.6 5 1.4 6 0.9 8 0.6 10.9 0.4 14 0.2" fill="#3984C5" stroke="#000" stroke-width="2.2" stroke-linejoin="round"/>
<path d="M479.4 825.2l33.9 0 10-0.3 4-0.5 3-0.6 3-1.1 3-1.6 3-2.4 2-2.1 3-4.1 2-3.3 3.9-8.1 9-21.2 3-5.8 2-3 2-1.9 1-0.6 1-0.3 1-0.1 1 0.3 2 1.3 2 2.3 2 3.3 3 6.1 9 21.2 3 6 2.9 4.9 3 3.8 3 2.8 3 1.9 3 1.3 5 1.1 8 0.6 57.9 0.1 5-0.2 3.9-0.3 4-0.7 7-1.4 4-0.4 4 0.3 9 1.8 6 0.7 7 0.2 22.9 0" fill="#3984C5" stroke="#000" stroke-width="2.2" stroke-linejoin="round"/>
<path d="M479.4 863.5l149.7 0 8.9-0.4 3-0.4 3-0.8 3-1.4 3-2.2 3-3.3 3-4.7 2-4 3-7.3 8-23.5 3-7.9 2-4.1 2-2.9 1-0.9 1-0.5 1-0.2 1 0.2 1 0.7 1 1 0.9 1.3 2 3.7 3 7.4 7 20.8 4 10.4 2 4.3 2 3.6 2 2.9 3 3.2 2 1.6 3 1.5 3 0.9 3 0.5 8 0.4 22.9 0.1" fill="#fff" stroke="#000" stroke-width="2.2" stroke-linejoin="round"/>
<path d="M479.4 901.8l147.7 0 9-0.4 2.9-0.5 3-0.8 3-1.4 3-2.2 3-3.4 3-4.9 2-4.1 3-7.4 8-24.1 3-8 2-4.2 2-3 1-0.9 1-0.6 1-0.1 1 0.3 1 0.6 1 1 1 1.4 1.9 3.8 3 7.6 7 21.3 4 10.7 2 4.3 2 3.7 2 3 3 3.2 2 1.6 3 1.6 3 0.9 3 0.5 8 0.4 24.9 0.1" fill="#fff" stroke="#000" stroke-width="2.2" stroke-linejoin="round"/>
<path d="M479.4 940.1l150.7 0 8.9-0.4 3-0.4 3-0.8 2-0.8 2-1.1 3-2.5 3-3.7 2-3.4 2-4 3-7.4 3-8.7 6-18.5 3-7.8 2-3.9 1-1.5 1-1.1 1-0.7 1-0.3 1 0.1 1 0.5 0.9 0.9 1 1.3 2 3.6 3 7.5 8 24.5 3 8 2 4.6 2 3.9 2 3.1 3 3.5 2 1.7 3 1.7 3 1 3 0.5 7.9 0.5 22 0.1" fill="#fff" stroke="#000" stroke-width="2.2" stroke-linejoin="round"/>
<path d="M479.4 978.4l20-0.1 3.9-0.2 4-0.4 3-0.7 3-1.2 3-1.8 2-1.8 3-3.6 2-3.1 2-3.8 2-4.5 4-10.7 7-20.8 3-7.6 2-3.8 2-2.6 1-0.8 0.9-0.4 1-0.1 1 0.3 1 0.7 1 1.1 2 3 2 4.2 3 7.9 8 23.7 3 7.5 3 6.1 3 4.7 3 3.3 3 2.2 3 1.5 3 0.8 3 0.5 3.9 0.3 6 0.2 149.7 0" fill="#fff" stroke="#000" stroke-width="2.2" stroke-linejoin="round" stroke-dasharray="9 6"/>
<line x1="640.9" y1="693.0" x2="640.9" y2="999.7" stroke="#000" stroke-width="2" stroke-dasharray="3.2 3.6"/>
<path d="M784.4 748.6l54.9-0.1 8-0.3 5.9-0.9 3-0.9 2-0.8 4-2.3 4-3.2 8-8.1 3-2.6 2-1.4 2-1 3-0.7 2 0.1 3 1 3 1.6 5.9 3.8 3 1.6 3 1.4 3 0.9 4 0.9 10 1.3 5 0.8 18.9 4.6 8 1.5 4 0.3 4 0 3-0.4 3-0.7 3-1 3-1.5 10-6.1 3-1.5 2.9-1 3-0.3 3 0.3 3 1.1 3 1.6 8 5.2 4 2.3 4 1.8 4 1.2 5 0.9 6 0.4 22.9 0.2" fill="#3984C5" stroke="#000" stroke-width="2.2" stroke-linejoin="round"/>
<path d="M784.4 786.9l52.9-0.1 3-0.2 3-0.5 3-1 2-1.1 2-1.6 1.9-2.3 3-5 2-4.5 2-5.3 7-22.2 2-5.6 2-4.3 1-1.6 1-1 1-0.6 1-0.1 1 0.4 1 0.9 1 1.3 2 3.7 3 7.8 7 20.9 3 7.4 2 3.9 2 3.1 2.9 3.3 2 1.5 3 1.4 2 0.6 3 0.4 7 0.4 49.9 0 14-0.2 6-0.2 5.9-0.7 5-0.8 12-2.4 4-0.5 3-0.1 3 0.1 4 0.6 10.9 2.2 6 1 7 0.7 8 0.2" fill="#3984C5" stroke="#000" stroke-width="2.2" stroke-linejoin="round"/>
<path d="M784.4 825.2l49.9-0.1 4-0.3 3-0.4 3-0.8 2-0.9 2-1.1 2-1.6 1.9-2 2-2.6 2-3.1 3-5.7 8-18.2 3-5.7 2-2.7 1-1 1-0.7 1-0.3 1-0.1 1 0.3 1 0.6 1 0.9 1 1.2 2 3.1 3 6 7 16 3 5.9 1.9 3.2 2 2.6 3 3 3 1.9 2 0.9 2 0.6 3 0.6 3 0.2 9 0.3 36.9 0 6-0.2 5-0.5 5-1 4-1.6 4-2.2 7.9-5.6 3-1.8 3-1.3 3-0.5 3 0.4 3 1.2 3 1.8 7 5 3 1.9 3 1.5 4 1.4 4 0.8 4.9 0.5 18 0.2" fill="#3984C5" stroke="#000" stroke-width="2.2" stroke-linejoin="round"/>
<path d="M784.4 863.5l146.7 0 11-0.5 3.9-0.5 3-0.7 4-1.5 2-1.1 2-1.4 2-1.7 2-2.1 3-3.9 3-4.9 3-5.7 3-6.6 8-18.6 4-7.8 2-2.9 1.9-2.2 2-1.3 2-0.3 2 0.7 2 1.5 2 2.5 2 3.2 4 8.1 7 16.4 4 8.6 3 5.6 2 3.2 2 2.8 2 2.3 2 2 3 2.3 2.9 1.6 3 1.1 3 0.7 4 0.6 5 0.3 7 0.2" fill="#fff" stroke="#000" stroke-width="2.2" stroke-linejoin="round"/>
<path d="M784.4 901.8l146.7 0 11-0.5 3.9-0.5 3-0.6 4-1.4 4-2.3 2-1.6 2-2 3-3.6 3-4.6 3-5.4 3-6.1 8-17.4 4-7.2 2-2.8 1.9-2 2-1.2 2-0.3 2 0.6 2 1.5 2 2.3 2 3 4 7.5 7 15.3 4 8.1 3 5.2 2 3 2 2.6 2 2.2 2 1.8 3 2.2 2.9 1.5 3 1 3 0.7 4 0.5 5 0.3 7 0.2" fill="#fff" stroke="#000" stroke-width="2.2" stroke-linejoin="round"/>
<path d="M784.4 940.1l149.7 0 7-0.2 4.9-0.4 4-0.6 3-0.7 4-1.7 2-1.2 2-1.5 3-2.9 3-3.8 3-4.8 3-5.8 3-6.5 8-18.9 3.9-8 2-3.2 2-2.3 2-1.5 2-0.5 2 0.5 2 1.4 2 2.3 2 3.1 4 8 8 18.9 4 8.6 4 7.1 2 2.8 2 2.5 2 2.1 2.9 2.4 2 1.2 3 1.3 3 0.9 4 0.7 4 0.4 6 0.2" fill="#fff" stroke="#000" stroke-width="2.2" stroke-linejoin="round"/>
<path d="M784.4 978.4l21-0.1 3.9-0.2 4-0.5 3-0.7 3-1.2 3-2 2-1.8 2-2.4 2-2.9 2-3.6 2-4.3 4-10.3 8-23.7 3-7.3 2-3.6 1-1.4 1-1 0.9-0.7 1-0.3 1 0.1 1 0.4 1 0.8 2 2.7 2 3.8 3 7.6 9 26.4 3 7.4 3 5.9 3 4.5 3 3.2 3 2.1 3 1.4 3 0.8 3 0.4 9.9 0.5 148.7 0" fill="#fff" stroke="#000" stroke-width="2.2" stroke-linejoin="round" stroke-dasharray="9 6"/>
<line x1="955.7" y1="693.0" x2="955.7" y2="999.7" stroke="#000" stroke-width="2" stroke-dasharray="3.2 3.6"/>
<line x1="155" y1="111.6" x2="161" y2="111.6" stroke="#000" stroke-width="2"/>
<text x="151" y="117.1" font-family="'Liberation Sans', Arial, sans-serif" font-size="23.5" text-anchor="end">g1</text>
<line x1="155" y1="149.9" x2="161" y2="149.9" stroke="#000" stroke-width="2"/>
<text x="151" y="155.4" font-family="'Liberation Sans', Arial, sans-serif" font-size="23.5" text-anchor="end">g2</text>
<line x1="155" y1="188.2" x2="161" y2="188.2" stroke="#000" stroke-width="2"/>
<text x="151" y="193.7" font-family="'Liberation Sans', Arial, sans-serif" font-size="23.5" text-anchor="end">g3</text>
<line x1="155" y1="226.5" x2="161" y2="226.5" stroke="#000" stroke-width="2"/>
<text x="151" y="232" font-family="'Liberation Sans', Arial, sans-serif" font-size="23.5" text-anchor="end">NT g1</text>
<line x1="155" y1="264.8" x2="161" y2="264.8" stroke="#000" stroke-width="2"/>
<text x="151" y="270.3" font-family="'Liberation Sans', Arial, sans-serif" font-size="23.5" text-anchor="end">NT g2</text>
<line x1="155" y1="303.1" x2="161" y2="303.1" stroke="#000" stroke-width="2"/>
<text x="151" y="308.6" font-family="'Liberation Sans', Arial, sans-serif" font-size="23.5" text-anchor="end">NT g3</text>
<line x1="155" y1="341.4" x2="161" y2="341.4" stroke="#000" stroke-width="2"/>
<text x="151" y="346.9" font-family="'Liberation Sans', Arial, sans-serif" font-size="23.5" text-anchor="end">Unstained</text>
<line x1="155" y1="430.1" x2="161" y2="430.1" stroke="#000" stroke-width="2"/>
<text x="151" y="435.6" font-family="'Liberation Sans', Arial, sans-serif" font-size="23.5" text-anchor="end">g1</text>
<line x1="155" y1="468.4" x2="161" y2="468.4" stroke="#000" stroke-width="2"/>
<text x="151" y="473.9" font-family="'Liberation Sans', Arial, sans-serif" font-size="23.5" text-anchor="end">g2</text>
<line x1="155" y1="506.7" x2="161" y2="506.7" stroke="#000" stroke-width="2"/>
<text x="151" y="512.2" font-family="'Liberation Sans', Arial, sans-serif" font-size="23.5" text-anchor="end">g3</text>
<line x1="155" y1="545" x2="161" y2="545" stroke="#000" stroke-width="2"/>
<text x="151" y="550.5" font-family="'Liberation Sans', Arial, sans-serif" font-size="23.5" text-anchor="end">NT g1</text>
<line x1="155" y1="583.3" x2="161" y2="583.3" stroke="#000" stroke-width="2"/>
<text x="151" y="588.8" font-family="'Liberation Sans', Arial, sans-serif" font-size="23.5" text-anchor="end">NT g2</text>
<line x1="155" y1="621.6" x2="161" y2="621.6" stroke="#000" stroke-width="2"/>
<text x="151" y="627.1" font-family="'Liberation Sans', Arial, sans-serif" font-size="23.5" text-anchor="end">NT g3</text>
<line x1="155" y1="659.9" x2="161" y2="659.9" stroke="#000" stroke-width="2"/>
<text x="151" y="665.4" font-family="'Liberation Sans', Arial, sans-serif" font-size="23.5" text-anchor="end">Unstained</text>
<line x1="155" y1="748.6" x2="161" y2="748.6" stroke="#000" stroke-width="2"/>
<text x="151" y="754.1" font-family="'Liberation Sans', Arial, sans-serif" font-size="23.5" text-anchor="end">g1</text>
<line x1="155" y1="786.9" x2="161" y2="786.9" stroke="#000" stroke-width="2"/>
<text x="151" y="792.4" font-family="'Liberation Sans', Arial, sans-serif" font-size="23.5" text-anchor="end">g2</text>
<line x1="155" y1="825.2" x2="161" y2="825.2" stroke="#000" stroke-width="2"/>
<text x="151" y="830.7" font-family="'Liberation Sans', Arial, sans-serif" font-size="23.5" text-anchor="end">g3</text>
<line x1="155" y1="863.5" x2="161" y2="863.5" stroke="#000" stroke-width="2"/>
<text x="151" y="869" font-family="'Liberation Sans', Arial, sans-serif" font-size="23.5" text-anchor="end">NT g1</text>
<line x1="155" y1="901.8" x2="161" y2="901.8" stroke="#000" stroke-width="2"/>
<text x="151" y="907.3" font-family="'Liberation Sans', Arial, sans-serif" font-size="23.5" text-anchor="end">NT g2</text>
<line x1="155" y1="940.1" x2="161" y2="940.1" stroke="#000" stroke-width="2"/>
<text x="151" y="945.6" font-family="'Liberation Sans', Arial, sans-serif" font-size="23.5" text-anchor="end">NT g3</text>
<line x1="155" y1="978.4" x2="161" y2="978.4" stroke="#000" stroke-width="2"/>
<text x="151" y="983.9" font-family="'Liberation Sans', Arial, sans-serif" font-size="23.5" text-anchor="end">Unstained</text>
<text x="224.1" y="106.6" font-family="'Liberation Sans', Arial, sans-serif" font-size="19.6" text-anchor="end">29.4%</text>
<text x="224.1" y="144.9" font-family="'Liberation Sans', Arial, sans-serif" font-size="19.6" text-anchor="end" font-weight="bold">89.6%</text>
<text x="224.1" y="183.2" font-family="'Liberation Sans', Arial, sans-serif" font-size="19.6" text-anchor="end">22.8%</text>
<text x="224.1" y="221.5" font-family="'Liberation Sans', Arial, sans-serif" font-size="19.6" text-anchor="end">2%</text>
<text x="224.1" y="259.8" font-family="'Liberation Sans', Arial, sans-serif" font-size="19.6" text-anchor="end">1.6%</text>
<text x="224.1" y="298.1" font-family="'Liberation Sans', Arial, sans-serif" font-size="19.6" text-anchor="end">2.4%</text>
<text x="224.1" y="336.4" font-family="'Liberation Sans', Arial, sans-serif" font-size="19.6" text-anchor="end">100%</text>
<text x="522.2" y="106.6" font-family="'Liberation Sans', Arial, sans-serif" font-size="19.6" text-anchor="end">90.5%</text>
<text x="522.2" y="144.9" font-family="'Liberation Sans', Arial, sans-serif" font-size="19.6" text-anchor="end" font-weight="bold">96.2%</text>
<text x="522.2" y="183.2" font-family="'Liberation Sans', Arial, sans-serif" font-size="19.6" text-anchor="end">85.1%</text>
<text x="522.2" y="221.5" font-family="'Liberation Sans', Arial, sans-serif" font-size="19.6" text-anchor="end">2.4%</text>
<text x="522.2" y="259.8" font-family="'Liberation Sans', Arial, sans-serif" font-size="19.6" text-anchor="end">2.2%</text>
<text x="522.2" y="298.1" font-family="'Liberation Sans', Arial, sans-serif" font-size="19.6" text-anchor="end">1.4%</text>
<text x="522.2" y="336.4" font-family="'Liberation Sans', Arial, sans-serif" font-size="19.6" text-anchor="end">100%</text>
<text x="827.4" y="106.6" font-family="'Liberation Sans', Arial, sans-serif" font-size="19.6" text-anchor="end">89.9%</text>
<text x="827.4" y="144.9" font-family="'Liberation Sans', Arial, sans-serif" font-size="19.6" text-anchor="end" font-weight="bold">90.2%</text>
<text x="827.4" y="183.2" font-family="'Liberation Sans', Arial, sans-serif" font-size="19.6" text-anchor="end">88.3%</text>
<text x="827.4" y="221.5" font-family="'Liberation Sans', Arial, sans-serif" font-size="19.6" text-anchor="end">3.3%</text>
<text x="827.4" y="259.8" font-family="'Liberation Sans', Arial, sans-serif" font-size="19.6" text-anchor="end">1.7%</text>
<text x="827.4" y="298.1" font-family="'Liberation Sans', Arial, sans-serif" font-size="19.6" text-anchor="end">1%</text>
<text x="827.4" y="336.4" font-family="'Liberation Sans', Arial, sans-serif" font-size="19.6" text-anchor="end">100%</text>
<text x="169.1" y="425.1" font-family="'Liberation Sans', Arial, sans-serif" font-size="19.6">NA</text>
<text x="224.1" y="463.4" font-family="'Liberation Sans', Arial, sans-serif" font-size="19.6" text-anchor="end">55.5%</text>
<text x="224.1" y="501.7" font-family="'Liberation Sans', Arial, sans-serif" font-size="19.6" text-anchor="end" font-weight="bold">57.1%</text>
<text x="224.1" y="540" font-family="'Liberation Sans', Arial, sans-serif" font-size="19.6" text-anchor="end">1.6%</text>
<text x="224.1" y="578.3" font-family="'Liberation Sans', Arial, sans-serif" font-size="19.6" text-anchor="end">2.4%</text>
<text x="169.1" y="616.6" font-family="'Liberation Sans', Arial, sans-serif" font-size="19.6">NA</text>
<text x="224.1" y="654.9" font-family="'Liberation Sans', Arial, sans-serif" font-size="19.6" text-anchor="end">57.4%</text>
<text x="522.2" y="425.1" font-family="'Liberation Sans', Arial, sans-serif" font-size="19.6" text-anchor="end">92.5%</text>
<text x="522.2" y="463.4" font-family="'Liberation Sans', Arial, sans-serif" font-size="19.6" text-anchor="end">93.3%</text>
<text x="522.2" y="501.7" font-family="'Liberation Sans', Arial, sans-serif" font-size="19.6" text-anchor="end" font-weight="bold">93.7%</text>
<text x="522.2" y="540" font-family="'Liberation Sans', Arial, sans-serif" font-size="19.6" text-anchor="end">1.7%</text>
<text x="522.2" y="578.3" font-family="'Liberation Sans', Arial, sans-serif" font-size="19.6" text-anchor="end">2.3%</text>
<text x="522.2" y="616.6" font-family="'Liberation Sans', Arial, sans-serif" font-size="19.6" text-anchor="end">2.1%</text>
<text x="522.2" y="654.9" font-family="'Liberation Sans', Arial, sans-serif" font-size="19.6" text-anchor="end">96.2%</text>
<text x="827.4" y="425.1" font-family="'Liberation Sans', Arial, sans-serif" font-size="19.6" text-anchor="end" font-weight="bold">88.4%</text>
<text x="827.4" y="463.4" font-family="'Liberation Sans', Arial, sans-serif" font-size="19.6" text-anchor="end">75.2%</text>
<text x="827.4" y="501.7" font-family="'Liberation Sans', Arial, sans-serif" font-size="19.6" text-anchor="end">71%</text>
<text x="827.4" y="540" font-family="'Liberation Sans', Arial, sans-serif" font-size="19.6" text-anchor="end">1.5%</text>
<text x="827.4" y="578.3" font-family="'Liberation Sans', Arial, sans-serif" font-size="19.6" text-anchor="end">2%</text>
<text x="827.4" y="616.6" font-family="'Liberation Sans', Arial, sans-serif" font-size="19.6" text-anchor="end">2.5%</text>
<text x="827.4" y="654.9" font-family="'Liberation Sans', Arial, sans-serif" font-size="19.6" text-anchor="end">96.4%</text>
<text x="224.1" y="743.6" font-family="'Liberation Sans', Arial, sans-serif" font-size="19.6" text-anchor="end">40.3%</text>
<text x="224.1" y="781.9" font-family="'Liberation Sans', Arial, sans-serif" font-size="19.6" text-anchor="end">17.6%</text>
<text x="224.1" y="820.2" font-family="'Liberation Sans', Arial, sans-serif" font-size="19.6" text-anchor="end" font-weight="bold">71.1%</text>
<text x="224.1" y="858.5" font-family="'Liberation Sans', Arial, sans-serif" font-size="19.6" text-anchor="end">1.5%</text>
<text x="224.1" y="896.8" font-family="'Liberation Sans', Arial, sans-serif" font-size="19.6" text-anchor="end">2.2%</text>
<text x="224.1" y="935.1" font-family="'Liberation Sans', Arial, sans-serif" font-size="19.6" text-anchor="end">2.3%</text>
<text x="224.1" y="973.4" font-family="'Liberation Sans', Arial, sans-serif" font-size="19.6" text-anchor="end">100%</text>
<text x="522.2" y="743.6" font-family="'Liberation Sans', Arial, sans-serif" font-size="19.6" text-anchor="end">83.4%</text>
<text x="522.2" y="781.9" font-family="'Liberation Sans', Arial, sans-serif" font-size="19.6" text-anchor="end">63.6%</text>
<text x="522.2" y="820.2" font-family="'Liberation Sans', Arial, sans-serif" font-size="19.6" text-anchor="end" font-weight="bold">92.3%</text>
<text x="522.2" y="858.5" font-family="'Liberation Sans', Arial, sans-serif" font-size="19.6" text-anchor="end">2.5%</text>
<text x="522.2" y="896.8" font-family="'Liberation Sans', Arial, sans-serif" font-size="19.6" text-anchor="end">2.2%</text>
<text x="522.2" y="935.1" font-family="'Liberation Sans', Arial, sans-serif" font-size="19.6" text-anchor="end">1.3%</text>
<text x="522.2" y="973.4" font-family="'Liberation Sans', Arial, sans-serif" font-size="19.6" text-anchor="end">100%</text>
<text x="827.4" y="743.6" font-family="'Liberation Sans', Arial, sans-serif" font-size="19.6" text-anchor="end">64.5%</text>
<text x="827.4" y="781.9" font-family="'Liberation Sans', Arial, sans-serif" font-size="19.6" text-anchor="end" font-weight="bold">90.9%</text>
<text x="827.4" y="820.2" font-family="'Liberation Sans', Arial, sans-serif" font-size="19.6" text-anchor="end">77.3%</text>
<text x="827.4" y="858.5" font-family="'Liberation Sans', Arial, sans-serif" font-size="19.6" text-anchor="end">1.8%</text>
<text x="827.4" y="896.8" font-family="'Liberation Sans', Arial, sans-serif" font-size="19.6" text-anchor="end">3.3%</text>
<text x="827.4" y="935.1" font-family="'Liberation Sans', Arial, sans-serif" font-size="19.6" text-anchor="end">0.9%</text>
<text x="827.4" y="973.4" font-family="'Liberation Sans', Arial, sans-serif" font-size="19.6" text-anchor="end">100%</text>
<line x1="210" y1="1001" x2="210" y2="1007" stroke="#000" stroke-width="2"/>
<text x="210" y="1028.5" font-family="'Liberation Sans', Arial, sans-serif" font-size="19.8" text-anchor="middle">1e+02</text>
<line x1="277.5" y1="1001" x2="277.5" y2="1007" stroke="#000" stroke-width="2"/>
<text x="277.5" y="1028.5" font-family="'Liberation Sans', Arial, sans-serif" font-size="19.8" text-anchor="middle">1e+03</text>
<line x1="345" y1="1001" x2="345" y2="1007" stroke="#000" stroke-width="2"/>
<text x="345" y="1028.5" font-family="'Liberation Sans', Arial, sans-serif" font-size="19.8" text-anchor="middle">1e+04</text>
<line x1="412.5" y1="1001" x2="412.5" y2="1007" stroke="#000" stroke-width="2"/>
<text x="412.5" y="1028.5" font-family="'Liberation Sans', Arial, sans-serif" font-size="19.8" text-anchor="middle">1e+05</text>
<line x1="515.5" y1="1001" x2="515.5" y2="1007" stroke="#000" stroke-width="2"/>
<text x="515.5" y="1028.5" font-family="'Liberation Sans', Arial, sans-serif" font-size="19.8" text-anchor="middle">1e+02</text>
<line x1="583" y1="1001" x2="583" y2="1007" stroke="#000" stroke-width="2"/>
<text x="583" y="1028.5" font-family="'Liberation Sans', Arial, sans-serif" font-size="19.8" text-anchor="middle">1e+03</text>
<line x1="650.5" y1="1001" x2="650.5" y2="1007" stroke="#000" stroke-width="2"/>
<text x="650.5" y="1028.5" font-family="'Liberation Sans', Arial, sans-serif" font-size="19.8" text-anchor="middle">1e+04</text>
<line x1="718" y1="1001" x2="718" y2="1007" stroke="#000" stroke-width="2"/>
<text x="718" y="1028.5" font-family="'Liberation Sans', Arial, sans-serif" font-size="19.8" text-anchor="middle">1e+05</text>
<line x1="819.8" y1="1001" x2="819.8" y2="1007" stroke="#000" stroke-width="2"/>
<text x="819.8" y="1028.5" font-family="'Liberation Sans', Arial, sans-serif" font-size="19.8" text-anchor="middle">1e+02</text>
<line x1="887.3" y1="1001" x2="887.3" y2="1007" stroke="#000" stroke-width="2"/>
<text x="887.3" y="1028.5" font-family="'Liberation Sans', Arial, sans-serif" font-size="19.8" text-anchor="middle">1e+03</text>
<line x1="954.8" y1="1001" x2="954.8" y2="1007" stroke="#000" stroke-width="2"/>
<text x="954.8" y="1028.5" font-family="'Liberation Sans', Arial, sans-serif" font-size="19.8" text-anchor="middle">1e+04</text>
<line x1="1022.3" y1="1001" x2="1022.3" y2="1007" stroke="#000" stroke-width="2"/>
<text x="1022.3" y="1028.5" font-family="'Liberation Sans', Arial, sans-serif" font-size="19.8" text-anchor="middle">1e+05</text>
<text x="626.8" y="1051.7" font-family="'Liberation Sans', Arial, sans-serif" font-size="24" text-anchor="middle">Target signal</text>
<text x="1247" y="35" font-family="'Liberation Sans', Arial, sans-serif" font-size="43" font-weight="bold">b</text>
<defs>
<linearGradient id="gv" x1="0" y1="40" x2="0" y2="975" gradientUnits="userSpaceOnUse"><stop offset="0" stop-color="#f4f4f4"/><stop offset="0.35" stop-color="#b8b8b8"/><stop offset="0.75" stop-color="#555"/><stop offset="1" stop-color="#2a2a2a"/></linearGradient>
<linearGradient id="g1" x1="1525" y1="0" x2="1450" y2="0" gradientUnits="userSpaceOnUse"><stop offset="0" stop-color="#fff"/><stop offset="0.45" stop-color="#aaa"/><stop offset="1" stop-color="#222"/></linearGradient>
<linearGradient id="g2" x1="1720" y1="390" x2="1470" y2="320" gradientUnits="userSpaceOnUse"><stop offset="0" stop-color="#fff"/><stop offset="0.3" stop-color="#bbb"/><stop offset="0.7" stop-color="#444"/><stop offset="1" stop-color="#222"/></linearGradient>
<linearGradient id="g4" x1="1722" y1="645" x2="1570" y2="590" gradientUnits="userSpaceOnUse"><stop offset="0" stop-color="#fff"/><stop offset="0.5" stop-color="#999"/><stop offset="1" stop-color="#222"/></linearGradient>
<linearGradient id="g3" x1="1992" y1="0" x2="1915" y2="0" gradientUnits="userSpaceOnUse"><stop offset="0" stop-color="#fff"/><stop offset="0.5" stop-color="#999"/><stop offset="1" stop-color="#222"/></linearGradient>
<linearGradient id="gh" x1="1892" y1="0" x2="1840" y2="0" gradientUnits="userSpaceOnUse"><stop offset="0" stop-color="#fff"/><stop offset="1" stop-color="#222"/></linearGradient>
</defs>
<rect x="1321.8" y="40" width="3.4" height="935" fill="url(#gv)"/>
<path d="M1304.3 971.8L1343.4 971.8L1323.5 1005.7Z" fill="#222"/>
<circle cx="1446.6" cy="26.4" r="16.5" fill="#fff" stroke="#000" stroke-width="1.6"/><text x="1446.6" y="34.4" font-family="'Liberation Sans', Arial, sans-serif" font-size="23" text-anchor="middle">1</text>
<circle cx="1446.5" cy="293.1" r="16.5" fill="#fff" stroke="#000" stroke-width="1.6"/><text x="1446.5" y="301.1" font-family="'Liberation Sans', Arial, sans-serif" font-size="23" text-anchor="middle">2</text>
<circle cx="1542" cy="565.3" r="16.5" fill="#fff" stroke="#000" stroke-width="1.6"/><text x="1542" y="573.3" font-family="'Liberation Sans', Arial, sans-serif" font-size="23" text-anchor="middle">4</text>
<circle cx="1904.9" cy="565.1" r="16.5" fill="#fff" stroke="#000" stroke-width="1.6"/><text x="1904.9" y="573.1" font-family="'Liberation Sans', Arial, sans-serif" font-size="23" text-anchor="middle">3</text>
<path d="M1524 38.3C1488 37 1456 52 1452 82" fill="none" stroke="url(#g1)" stroke-width="3.6"/>
<path d="M1435.8 80L1465.6 79.2L1452 104.8Z" fill="#222"/>
<path d="M1719 387C1650 345 1575 305 1520 310C1495 312 1478 318 1466 327" fill="none" stroke="url(#g2)" stroke-width="3.6"/>
<path d="M1456.6 314.7L1478.9 333.9L1450.2 343.5Z" fill="#222"/>
<path d="M1721.4 644C1705 592 1662 566 1620 568C1600 569 1586 575 1572 585" fill="none" stroke="url(#g4)" stroke-width="3.6"/>
<path d="M1559.2 574.3L1582.3 593L1554.7 604.1Z" fill="#222"/>
<path d="M1991 569C1952 568 1920 583 1915.5 614" fill="none" stroke="url(#g3)" stroke-width="3.6"/>
<path d="M1900.6 612.7L1930 611L1916.2 636Z" fill="#222"/>
<line x1="1891" y1="716" x2="1840" y2="716" stroke="url(#gh)" stroke-width="3.4"/>
<path d="M1825 716L1842.2 706.3L1842.2 725.6Z" fill="#222"/>
<rect x="1533.5" y="32.4" width="50.5" height="8.2" fill="#E3211C" stroke="#000" stroke-width="1.2"/>
<rect x="1584" y="32.4" width="12.5" height="8.2" fill="#A0A0A0" stroke="#000" stroke-width="1.2"/>
<rect x="1596.5" y="32.4" width="51.8" height="8.2" fill="#1B2FD8" stroke="#000" stroke-width="1.2"/>
<rect x="1997.5" y="560.8" width="55.4" height="8.6" fill="#EAD21E" stroke="#000" stroke-width="1.2"/>
<circle cx="1516" cy="199" r="60" fill="none" stroke="#000" stroke-width="3.2"/>
<path d="M1449.8 193.2A66.5 66.5 0 0 1 1460.2 162.8L1471.1 169.9A53.5 53.5 0 0 0 1462.7 194.3Z" fill="#A9A9A9" stroke="#000" stroke-width="1.3" stroke-linejoin="miter"/>
<path d="M1464.3 157.2A66.5 66.5 0 0 1 1476 145.8L1473.7 142.7L1488.8 145.5L1486.2 159.4L1483.9 156.2A53.5 53.5 0 0 0 1474.4 165.3Z" fill="#fff" stroke="#000" stroke-width="1.3" stroke-linejoin="miter"/>
<path d="M1486.8 139.2A66.5 66.5 0 0 1 1509 132.9L1510.4 145.8A53.5 53.5 0 0 0 1492.5 150.9Z" fill="#A9A9A9" stroke="#000" stroke-width="1.3" stroke-linejoin="miter"/>
<path d="M1496.6 136.1A65.8 65.8 0 0 1 1501.4 134.8L1503.9 146.2A54.2 54.2 0 0 0 1500 147.2Z" fill="#2FBF9B" stroke="#000" stroke-width="0" stroke-linejoin="miter"/>
<path d="M1517.2 132.5A66.5 66.5 0 0 1 1551.3 142.6L1553.4 139.3L1556.1 154.4L1542.3 157L1544.4 153.7A53.5 53.5 0 0 0 1516.9 145.5Z" fill="#A9A9A9" stroke="#000" stroke-width="1.3" stroke-linejoin="miter"/>
<path d="M1561.4 150.4A66.5 66.5 0 0 1 1581.9 189.7L1569 191.6A53.5 53.5 0 0 0 1552.5 159.9Z" fill="#A9A9A9" stroke="#000" stroke-width="1.3" stroke-linejoin="miter"/>
<path d="M1582.5 199A66.5 66.5 0 0 1 1575.3 229.2L1563.7 223.3A53.5 53.5 0 0 0 1569.5 199Z" fill="#A9A9A9" stroke="#000" stroke-width="1.3" stroke-linejoin="miter"/>
<circle cx="1516" cy="449" r="60" fill="none" stroke="#000" stroke-width="3.2"/>
<path d="M1459.6 484.2A66.5 66.5 0 0 1 1449.5 451.3L1462.5 450.9A53.5 53.5 0 0 0 1470.6 477.4Z" fill="#A9A9A9" stroke="#000" stroke-width="1.3" stroke-linejoin="miter"/>
<path d="M1450.1 439.7A66.5 66.5 0 0 1 1453.6 426.1L1449.9 424.8L1464 419L1469.4 432L1465.8 430.6A53.5 53.5 0 0 0 1463 441.6Z" fill="#fff" stroke="#000" stroke-width="1.3" stroke-linejoin="miter"/>
<path d="M1459 414.7A66.5 66.5 0 0 1 1469.8 401.2L1478.8 410.5A53.5 53.5 0 0 0 1470.1 421.4Z" fill="#E8161B" stroke="#000" stroke-width="1.3" stroke-linejoin="miter"/>
<path d="M1471.5 399.6A66.5 66.5 0 0 1 1486.8 389.2L1492.5 400.9A53.5 53.5 0 0 0 1480.2 409.2Z" fill="#1A2BE0" stroke="#000" stroke-width="1.3" stroke-linejoin="miter"/>
<path d="M1486.8 389.2A66.5 66.5 0 0 1 1510.2 382.8L1511.3 395.7A53.5 53.5 0 0 0 1492.5 400.9Z" fill="#A9A9A9" stroke="#000" stroke-width="1.3" stroke-linejoin="miter"/>
<path d="M1497.2 385.9A65.8 65.8 0 0 1 1502 384.7L1504.5 396A54.2 54.2 0 0 0 1500.5 397.1Z" fill="#2FBF9B" stroke="#000" stroke-width="0" stroke-linejoin="miter"/>
<path d="M1518.3 382.5A66.5 66.5 0 0 1 1551.3 392.6L1553.4 389.3L1556.1 404.4L1542.3 407L1544.4 403.7A53.5 53.5 0 0 0 1517.9 395.5Z" fill="#A9A9A9" stroke="#000" stroke-width="1.3" stroke-linejoin="miter"/>
<path d="M1562.2 401.2A66.5 66.5 0 0 1 1582.3 444.4L1569.4 445.3A53.5 53.5 0 0 0 1553.2 410.5Z" fill="#A9A9A9" stroke="#000" stroke-width="1.3" stroke-linejoin="miter"/>
<path d="M1582.5 450.2A66.5 66.5 0 0 1 1574.2 481.2L1562.8 474.9A53.5 53.5 0 0 0 1569.5 449.9Z" fill="#A9A9A9" stroke="#000" stroke-width="1.3" stroke-linejoin="miter"/>
<circle cx="1754.3" cy="461.5" r="55" fill="none" stroke="#000" stroke-width="3.6"/>
<path d="M1705.8 423.6A61.5 61.5 0 0 1 1724.5 407.7L1730.8 419.1A48.5 48.5 0 0 0 1716.1 431.6Z" fill="#A9A9A9" stroke="#000" stroke-width="1.3" stroke-linejoin="miter"/>
<path d="M1713.9 416.1A60.8 60.8 0 0 1 1717.7 412.9L1724.7 422.2A49.2 49.2 0 0 0 1721.6 424.8Z" fill="#2FBF9B" stroke="#000" stroke-width="0" stroke-linejoin="miter"/>
<path d="M1728.3 405.8A61.5 61.5 0 0 1 1742.7 401.1L1742 397.3L1754.3 406.5L1745.9 417.7L1745.2 413.9A48.5 48.5 0 0 0 1733.8 417.5Z" fill="#666666" stroke="#000" stroke-width="1.3" stroke-linejoin="miter"/>
<circle cx="1525" cy="710.7" r="69" fill="none" stroke="#000" stroke-width="3.2"/>
<path d="M1467.2 759.2A75.5 75.5 0 0 1 1454.1 736.5L1466.3 732.1A62.5 62.5 0 0 0 1477.1 750.9Z" fill="#A9A9A9" stroke="#000" stroke-width="1.3" stroke-linejoin="miter"/>
<path d="M1450.1 719.9A75.5 75.5 0 0 1 1449.5 708.3L1445.6 708.2L1456.8 699.9L1466.4 708.9L1462.5 708.7A62.5 62.5 0 0 0 1463 718.3Z" fill="#fff" stroke="#000" stroke-width="1.3" stroke-linejoin="miter"/>
<path d="M1450.6 697.6A75.5 75.5 0 0 1 1455.5 681.2L1467.5 686.3A62.5 62.5 0 0 0 1463.4 699.8Z" fill="#E8161B" stroke="#000" stroke-width="1.3" stroke-linejoin="miter"/>
<path d="M1455.5 681.2A75.5 75.5 0 0 1 1468.9 660.2L1478.6 668.9A62.5 62.5 0 0 0 1467.5 686.3Z" fill="#A9A9A9" stroke="#000" stroke-width="1.3" stroke-linejoin="miter"/>
<path d="M1461.3 671.5A74.8 74.8 0 0 1 1464 667.5L1473.4 674.2A63.2 63.2 0 0 0 1471.2 677.6Z" fill="#2FBF9B" stroke="#000" stroke-width="0" stroke-linejoin="miter"/>
<path d="M1473.5 655.5A75.5 75.5 0 0 1 1483.2 647.9L1481 644.6L1494.8 648.7L1492.5 661.9L1490.4 658.7A62.5 62.5 0 0 0 1482.4 665Z" fill="#666666" stroke="#000" stroke-width="1.3" stroke-linejoin="miter"/>
<path d="M1493.1 642.3A75.5 75.5 0 0 1 1510.6 636.6L1513.1 649.3A62.5 62.5 0 0 0 1498.6 654.1Z" fill="#1A2BE0" stroke="#000" stroke-width="1.3" stroke-linejoin="miter"/>
<path d="M1510.6 636.6A75.5 75.5 0 0 1 1534.2 635.8L1532.6 648.7A62.5 62.5 0 0 0 1513.1 649.3Z" fill="#A9A9A9" stroke="#000" stroke-width="1.3" stroke-linejoin="miter"/>
<path d="M1521.1 636A74.8 74.8 0 0 1 1526 635.9L1525.8 647.5A63.2 63.2 0 0 0 1521.7 647.6Z" fill="#2FBF9B" stroke="#000" stroke-width="0" stroke-linejoin="miter"/>
<path d="M1545.8 638.1A75.5 75.5 0 0 1 1572.9 652.3L1575.4 649.3L1576.3 664.5L1562.2 665.4L1564.6 662.4A62.5 62.5 0 0 0 1542.2 650.6Z" fill="#A9A9A9" stroke="#000" stroke-width="1.3" stroke-linejoin="miter"/>
<path d="M1586.8 667.4A75.5 75.5 0 0 1 1600.5 708.1L1587.5 708.5A62.5 62.5 0 0 0 1576.2 674.9Z" fill="#A9A9A9" stroke="#000" stroke-width="1.3" stroke-linejoin="miter"/>
<path d="M1600.4 714.7A75.5 75.5 0 0 1 1588.3 751.8L1577.4 744.7A62.5 62.5 0 0 0 1587.4 714Z" fill="#A9A9A9" stroke="#000" stroke-width="1.3" stroke-linejoin="miter"/>
<circle cx="1754.6" cy="715.5" r="55.5" fill="none" stroke="#000" stroke-width="3.2"/>
<path d="M1693.2 724.1A62 62 0 0 1 1695.3 697.4L1707.7 701.2A49 49 0 0 0 1706.1 722.3Z" fill="#A9A9A9" stroke="#000" stroke-width="1.3" stroke-linejoin="miter"/>
<path d="M1701.5 683.6A62 62 0 0 1 1710.2 672.2L1707.4 669.5L1722.8 670L1722.3 684L1719.5 681.3A49 49 0 0 0 1712.6 690.3Z" fill="#000" stroke="#000" stroke-width="1.3" stroke-linejoin="miter"/>
<path d="M1719 664.7A62 62 0 0 1 1732.4 657.6L1737 669.8A49 49 0 0 0 1726.5 675.4Z" fill="#F2DA1C" stroke="#000" stroke-width="1.3" stroke-linejoin="miter"/>
<path d="M1732.4 657.6A62 62 0 0 1 1755.7 653.5L1755.5 666.5A49 49 0 0 0 1737 669.8Z" fill="#A9A9A9" stroke="#000" stroke-width="1.3" stroke-linejoin="miter"/>
<path d="M1742.7 655.4A61.3 61.3 0 0 1 1747.6 654.6L1748.9 666.1A49.7 49.7 0 0 0 1744.9 666.8Z" fill="#2FBF9B" stroke="#000" stroke-width="0" stroke-linejoin="miter"/>
<path d="M1766.4 654.6A62 62 0 0 1 1792.1 666.2L1794.5 663.1L1795.8 678.4L1781.9 679.6L1784.3 676.5A49 49 0 0 0 1763.9 667.4Z" fill="#A9A9A9" stroke="#000" stroke-width="1.3" stroke-linejoin="miter"/>
<path d="M1803.5 677.3A62 62 0 0 1 1816.4 720.9L1803.4 719.8A49 49 0 0 0 1793.2 685.3Z" fill="#A9A9A9" stroke="#000" stroke-width="1.3" stroke-linejoin="miter"/>
<path d="M1815.2 728.4A62 62 0 0 1 1796.9 760.8L1788 751.3A49 49 0 0 0 1802.5 725.7Z" fill="#A9A9A9" stroke="#000" stroke-width="1.3" stroke-linejoin="miter"/>
<circle cx="1964.8" cy="715.3" r="57" fill="none" stroke="#000" stroke-width="3.2"/>
<path d="M1902.3 726.3A63.5 63.5 0 0 1 1903.5 698.9L1916 702.2A50.5 50.5 0 0 0 1915.1 724.1Z" fill="#A9A9A9" stroke="#000" stroke-width="1.3" stroke-linejoin="miter"/>
<path d="M1909.8 683.5A63.5 63.5 0 0 1 1918.8 671.6L1915.9 668.9L1931.3 669.2L1931 683.2L1928.2 680.5A50.5 50.5 0 0 0 1921.1 690Z" fill="#000" stroke="#000" stroke-width="1.3" stroke-linejoin="miter"/>
<path d="M1939 657.3A63.5 63.5 0 0 1 1962.6 651.8L1963 664.8A50.5 50.5 0 0 0 1944.3 669.2Z" fill="#A9A9A9" stroke="#000" stroke-width="1.3" stroke-linejoin="miter"/>
<path d="M1949.4 654.4A62.8 62.8 0 0 1 1954.3 653.4L1956.2 664.8A51.2 51.2 0 0 0 1952.3 665.7Z" fill="#2FBF9B" stroke="#000" stroke-width="0" stroke-linejoin="miter"/>
<path d="M1976.9 653A63.5 63.5 0 0 1 2005.2 666.3L2007.7 663.3L2008.5 678.7L1994.5 679.4L1997 676.4A50.5 50.5 0 0 0 1974.4 665.7Z" fill="#A9A9A9" stroke="#000" stroke-width="1.3" stroke-linejoin="miter"/>
<path d="M2016.2 678A63.5 63.5 0 0 1 2028.2 718.6L2015.2 717.9A50.5 50.5 0 0 0 2005.7 685.6Z" fill="#A9A9A9" stroke="#000" stroke-width="1.3" stroke-linejoin="miter"/>
<path d="M2026.4 730.7A63.5 63.5 0 0 1 2007.3 762.5L1998.6 752.8A50.5 50.5 0 0 0 2013.8 727.5Z" fill="#A9A9A9" stroke="#000" stroke-width="1.3" stroke-linejoin="miter"/>
<circle cx="1523" cy="944" r="77" fill="none" stroke="#000" stroke-width="3.4"/>
<path d="M1454.2 992.2A84 84 0 0 1 1442.3 967.2L1455.7 963.3A70 70 0 0 0 1465.7 984.2Z" fill="#A9A9A9" stroke="#000" stroke-width="1.3" stroke-linejoin="miter"/>
<path d="M1439 944A84 84 0 0 1 1439.7 933.5L1435.5 933L1448 926.7L1457.7 935.8L1453.5 935.3A70 70 0 0 0 1453 944Z" fill="#fff" stroke="#000" stroke-width="1.3" stroke-linejoin="miter"/>
<path d="M1441.3 924.4A84 84 0 0 1 1446.9 908.5L1459.6 914.4A70 70 0 0 0 1454.9 927.7Z" fill="#E8161B" stroke="#000" stroke-width="1.3" stroke-linejoin="miter"/>
<path d="M1446.9 908.5A84 84 0 0 1 1459.6 888.9L1470.2 898.1A70 70 0 0 0 1459.6 914.4Z" fill="#A9A9A9" stroke="#000" stroke-width="1.3" stroke-linejoin="miter"/>
<path d="M1452.5 899.7A83.3 83.3 0 0 1 1455.2 895.7L1465.4 903A70.7 70.7 0 0 0 1463.1 906.4Z" fill="#3DB5E6" stroke="#000" stroke-width="0" stroke-linejoin="miter"/>
<path d="M1467.9 880.6A84 84 0 0 1 1477.6 873.4L1475.3 869.8L1489.2 874.8L1487.4 888.7L1485.1 885.1A70 70 0 0 0 1477.1 891.2Z" fill="#666666" stroke="#000" stroke-width="1.3" stroke-linejoin="miter"/>
<path d="M1486.2 868.5A84 84 0 0 1 1501.3 862.9L1504.9 876.4A70 70 0 0 0 1492.3 881.1Z" fill="#1A2BE0" stroke="#000" stroke-width="1.3" stroke-linejoin="miter"/>
<path d="M1501.3 862.9A84 84 0 0 1 1524.5 860L1524.2 874A70 70 0 0 0 1504.9 876.4Z" fill="#A9A9A9" stroke="#000" stroke-width="1.3" stroke-linejoin="miter"/>
<path d="M1511.6 861.5A83.3 83.3 0 0 1 1516.4 861L1517.4 873.5A70.7 70.7 0 0 0 1513.3 874Z" fill="#3DB5E6" stroke="#000" stroke-width="0" stroke-linejoin="miter"/>
<path d="M1534.7 860.8A84 84 0 0 1 1548 863.8L1549.3 859.8L1555.5 874.2L1542.6 881.2L1543.9 877.2A70 70 0 0 0 1532.7 874.7Z" fill="#000" stroke="#000" stroke-width="1.3" stroke-linejoin="miter"/>
<path d="M1559.2 868.2A84 84 0 0 1 1572.4 876L1564.1 887.4A70 70 0 0 0 1553.1 880.8Z" fill="#F2DA1C" stroke="#000" stroke-width="1.3" stroke-linejoin="miter"/>
<path d="M1572.4 876A84 84 0 0 1 1591 894.6L1579.6 902.9A70 70 0 0 0 1564.1 887.4Z" fill="#A9A9A9" stroke="#000" stroke-width="1.3" stroke-linejoin="miter"/>
<path d="M1581.1 884.3A83.3 83.3 0 0 1 1584.5 887.8L1575.2 896.3A70.7 70.7 0 0 0 1572.3 893.3Z" fill="#3DB5E6" stroke="#000" stroke-width="0" stroke-linejoin="miter"/>
<path d="M1598.5 907.2A84 84 0 0 1 1606.1 931.8L1610.3 931.2L1600 944L1588.1 934.5L1592.3 933.9A70 70 0 0 0 1585.9 913.3Z" fill="#A9A9A9" stroke="#000" stroke-width="1.3" stroke-linejoin="miter"/>
<path d="M1606.9 948.4A84 84 0 0 1 1589.2 995.7L1578.2 987.1A70 70 0 0 0 1592.9 947.7Z" fill="#A9A9A9" stroke="#000" stroke-width="1.3" stroke-linejoin="miter"/>
<path d="M1582.4 1003.4A84 84 0 0 1 1562.4 1018.2L1555.9 1005.8A70 70 0 0 0 1572.5 993.5Z" fill="#A9A9A9" stroke="#000" stroke-width="1.3" stroke-linejoin="miter"/>
<path d="M1435.1 904.9A96.2 96.2 0 0 1 1441.4 893L1446.9 896.4A89.8 89.8 0 0 0 1441 907.5Z" fill="#E8161B" stroke="#000" stroke-width="1.2" stroke-linejoin="miter"/>
<path d="M1441.4 893A96.2 96.2 0 0 1 1458.6 872.5L1462.9 877.3A89.8 89.8 0 0 0 1446.9 896.4Z" fill="#f2f2f2" stroke="#000" stroke-width="1.2" stroke-linejoin="miter"/>
<path d="M1443.8 890.6A95.5 95.5 0 0 1 1449.8 882.6L1453.7 885.8A90.5 90.5 0 0 0 1448 893.4Z" fill="#3DB5E6" stroke="#000" stroke-width="0" stroke-linejoin="miter"/>
<text x="1465" y="879" font-family="'Liberation Sans', Arial, sans-serif" font-size="14">3′</text>
<text x="1424" y="919" font-family="'Liberation Sans', Arial, sans-serif" font-size="14">5′</text>
<path d="M1386 850C1380 840 1382 831 1392 830C1402 829 1405 838 1402 846C1415 845 1428 850 1426 860C1424 868 1400 868 1388 866C1380 864 1382 856 1386 850Z" fill="#e4e9f0" stroke="#000" stroke-width="1.8"/>
<path d="M1390 834L1390 862" stroke="#3DB5E6" stroke-width="4"/>
<path d="M1396 858C1400 846 1420 842 1441 842" fill="none" stroke="#D7191C" stroke-width="3.5"/>
<text x="1601" y="195" font-family="'Liberation Sans', Arial, sans-serif" font-size="22.5">pJR85</text>
<text x="1826" y="463" font-family="'Liberation Sans', Arial, sans-serif" font-size="22.5">pJR89</text>
<text x="2029.5" y="746.9" font-family="'Liberation Sans', Arial, sans-serif" font-size="22.5">lentiGuideFB-</text>
<text x="2029.5" y="775.4" font-family="'Liberation Sans', Arial, sans-serif" font-size="22.5">Puro-B</text>
<text x="1375" y="115" font-family="'Liberation Sans', Arial, sans-serif" font-size="19.5" fill="#3F87BA">BstXI</text>
<text x="1464.3" y="113.8" font-family="'Liberation Sans', Arial, sans-serif" font-size="19.5" fill="#3F87BA">BlpI</text>
<text x="1363" y="366.2" font-family="'Liberation Sans', Arial, sans-serif" font-size="19.5" fill="#3F87BA">BsmBI</text>
<text x="1449.5" y="366.2" font-family="'Liberation Sans', Arial, sans-serif" font-size="19.5" fill="#3F87BA">BsmBI</text>
<text x="1751.6" y="383.2" font-family="'Liberation Sans', Arial, sans-serif" font-size="19.5" fill="#3F87BA">BsmBI</text>
<text x="1627.9" y="413" font-family="'Liberation Sans', Arial, sans-serif" font-size="19.5" fill="#3F87BA">BsmBI</text>
<text x="1510.7" y="616.8" font-family="'Liberation Sans', Arial, sans-serif" font-size="19.5" fill="#3F87BA">XhoI</text>
<text x="1559.2" y="616.8" font-family="'Liberation Sans', Arial, sans-serif" font-size="19.5" fill="#3F87BA">BamHI</text>
<text x="1646.8" y="667.5" font-family="'Liberation Sans', Arial, sans-serif" font-size="19.5" fill="#3F87BA">XhoI</text>
<text x="1755.7" y="638.4" font-family="'Liberation Sans', Arial, sans-serif" font-size="19.5" fill="#3F87BA">BamHI</text>
<text x="1858.2" y="648.2" font-family="'Liberation Sans', Arial, sans-serif" font-size="19.5" fill="#3F87BA">BstXI</text>
<text x="1927.4" y="637.8" font-family="'Liberation Sans', Arial, sans-serif" font-size="19.5" fill="#3F87BA">BlpI</text>
<line x1="1423" y1="117.6" x2="1486" y2="145.7" stroke="#4E9CC8" stroke-width="1.8" stroke-dasharray="3.5 2.5"/>
<line x1="1471.6" y1="117.6" x2="1487.8" y2="141.4" stroke="#4E9CC8" stroke-width="1.8" stroke-dasharray="3.5 2.5"/>
<line x1="1422.6" y1="369.2" x2="1475.6" y2="403.4" stroke="#4E9CC8" stroke-width="1.8" stroke-dasharray="3.5 2.5"/>
<line x1="1456.2" y1="369.2" x2="1474.8" y2="401.2" stroke="#4E9CC8" stroke-width="1.8" stroke-dasharray="3.5 2.5"/>
<line x1="1762" y1="386" x2="1756.9" y2="407" stroke="#4E9CC8" stroke-width="1.8" stroke-dasharray="3.5 2.5"/>
<line x1="1683.8" y1="416.8" x2="1703.2" y2="433.2" stroke="#4E9CC8" stroke-width="1.8" stroke-dasharray="3.5 2.5"/>
<line x1="1536.8" y1="620.5" x2="1534.6" y2="644.4" stroke="#4E9CC8" stroke-width="1.8" stroke-dasharray="3.5 2.5"/>
<line x1="1565.9" y1="621.3" x2="1543.5" y2="646.6" stroke="#4E9CC8" stroke-width="1.8" stroke-dasharray="3.5 2.5"/>
<line x1="1685" y1="673" x2="1701" y2="688" stroke="#4E9CC8" stroke-width="1.8" stroke-dasharray="3.5 2.5"/>
<line x1="1762.6" y1="641" x2="1756.6" y2="660" stroke="#4E9CC8" stroke-width="1.8" stroke-dasharray="3.5 2.5"/>
<line x1="1910.6" y1="652.6" x2="1930" y2="670" stroke="#4E9CC8" stroke-width="1.8" stroke-dasharray="3.5 2.5"/>
<line x1="1935.2" y1="641" x2="1937" y2="664" stroke="#4E9CC8" stroke-width="1.8" stroke-dasharray="3.5 2.5"/>
<path d="M1553.4 53.7 1553.4 47 1547.4 41.7" fill="none" stroke="#000" stroke-width="1.5"/><circle cx="1547.4" cy="41.7" r="2.2" fill="#000"/>
<path d="M1517.6 116.7 1497.2 134.6" fill="none" stroke="#000" stroke-width="1.5"/><circle cx="1497.2" cy="134.6" r="2.2" fill="#000"/>
<path d="M1489.5 173 1489.5 168 1481 162.7" fill="none" stroke="#000" stroke-width="1.5"/><circle cx="1481" cy="162.7" r="2.2" fill="#000"/>
<path d="M1517.3 366 1505 366 1496 385" fill="none" stroke="#000" stroke-width="1.5"/><circle cx="1496" cy="385" r="2.2" fill="#000"/>
<path d="M1441.3 410 1455 410 1461 406" fill="none" stroke="#000" stroke-width="1.5"/><circle cx="1461" cy="406" r="2.2" fill="#000"/>
<path d="M1475.6 436 1468 436" fill="none" stroke="#000" stroke-width="1.5"/><circle cx="1468" cy="436" r="2.2" fill="#000"/>
<path d="M1742.7 427.2 1742.7 420.5" fill="none" stroke="#000" stroke-width="1.5"/><circle cx="1742.7" cy="420.5" r="2.2" fill="#000"/>
<path d="M1720.3 460.8 1720.3 440 1724.8 428.7" fill="none" stroke="#000" stroke-width="1.5"/><circle cx="1724.8" cy="428.7" r="2.2" fill="#000"/>
<path d="M1501 621 1508 621 1510 636" fill="none" stroke="#000" stroke-width="1.5"/><circle cx="1510" cy="636" r="2.2" fill="#000"/>
<path d="M1442.1 665 1450 665 1456 673" fill="none" stroke="#000" stroke-width="1.5"/><circle cx="1456" cy="673" r="2.2" fill="#000"/>
<path d="M1491.3 684 1486 684 1486 670" fill="none" stroke="#000" stroke-width="1.5"/><circle cx="1486" cy="670" r="2.2" fill="#000"/>
<path d="M1471.2 714 1464 714" fill="none" stroke="#000" stroke-width="1.5"/><circle cx="1464" cy="714" r="2.2" fill="#000"/>
<path d="M1753.4 689.8 1753.4 679.4 1739.3 674.2" fill="none" stroke="#000" stroke-width="1.5"/><circle cx="1739.3" cy="674.2" r="2.2" fill="#000"/>
<path d="M1713.9 722.6 1713.9 692" fill="none" stroke="#000" stroke-width="1.5"/><circle cx="1713.9" cy="692" r="2.2" fill="#000"/>
<path d="M2017.4 584.7 2017.4 578 2012.2 573.8" fill="none" stroke="#000" stroke-width="1.5"/><circle cx="2012.2" cy="573.8" r="2.2" fill="#000"/>
<path d="M1967.2 641 1962 641 1957 652" fill="none" stroke="#000" stroke-width="1.5"/><circle cx="1957" cy="652" r="2.2" fill="#000"/>
<path d="M1926.5 706.2 1926.5 691" fill="none" stroke="#000" stroke-width="1.5"/><circle cx="1926.5" cy="691" r="2.2" fill="#000"/>
<path d="M1372.7 841 1382 841" fill="none" stroke="#000" stroke-width="1.5"/><circle cx="1382" cy="841" r="2.2" fill="#000"/>
<path d="M1418.2 889 1428 889 1432 893" fill="none" stroke="#000" stroke-width="1.5"/><circle cx="1432" cy="893" r="2.2" fill="#000"/>
<path d="M1513.2 839 1506 839 1504 863" fill="none" stroke="#000" stroke-width="1.5"/><circle cx="1504" cy="863" r="2.2" fill="#000"/>
<path d="M1491 910 1487 910 1487 896" fill="none" stroke="#000" stroke-width="1.5"/><circle cx="1487" cy="896" r="2.2" fill="#000"/>
<path d="M1538 914.2 1538 882" fill="none" stroke="#000" stroke-width="1.5"/><circle cx="1538" cy="882" r="2.2" fill="#000"/>
<path d="M1464.5 940 1458 940" fill="none" stroke="#000" stroke-width="1.5"/><circle cx="1458" cy="940" r="2.2" fill="#000"/>
<path d="M1428.6 981 1439 981" fill="none" stroke="#000" stroke-width="1.5"/><circle cx="1439" cy="981" r="2.2" fill="#000"/>
<path d="M1585.4 869 1578 869 1572 878" fill="none" stroke="#000" stroke-width="1.5"/><circle cx="1572" cy="878" r="2.2" fill="#000"/>
<path d="M1626.3 941 1612 941 1606 935" fill="none" stroke="#000" stroke-width="1.5"/><circle cx="1606" cy="935" r="2.2" fill="#000"/>
<path d="M1608 993 1602 993 1602 982" fill="none" stroke="#000" stroke-width="1.5"/><circle cx="1602" cy="982" r="2.2" fill="#000"/>
<path d="M1567.5 1040 1572 1040 1572 1017" fill="none" stroke="#000" stroke-width="1.5"/><circle cx="1572" cy="1017" r="2.2" fill="#000"/>
<rect x="1544.9" y="53.7" width="109.6" height="25.5" rx="4.5" fill="#fff" stroke="#000" stroke-width="1.6"/><text x="1599.7" y="73.8" font-family="'Liberation Sans', Arial, sans-serif" font-size="20.5" text-anchor="middle">Guides 1+2</text>
<rect x="1517.6" y="101.9" width="95.4" height="25.1" rx="4.5" fill="#fff" stroke="#000" stroke-width="1.6"/><text x="1565.3" y="121.8" font-family="'Liberation Sans', Arial, sans-serif" font-size="20.5" text-anchor="middle">Scaffold 2</text>
<rect x="1475.9" y="173" width="53.6" height="24.7" rx="4.5" fill="#fff" stroke="#000" stroke-width="1.6"/><text x="1502.7" y="192.4" font-family="'Liberation Sans', Arial, sans-serif" font-size="19.5" text-anchor="middle">mU6</text>
<rect x="1517.3" y="352.7" width="88" height="26.9" rx="4.5" fill="#fff" stroke="#000" stroke-width="1.6"/><text x="1561.3" y="373.5" font-family="'Liberation Sans', Arial, sans-serif" font-size="20.5" text-anchor="middle">sgRNA2</text>
<rect x="1369" y="397.5" width="72.3" height="25.3" rx="4.5" fill="#fff" stroke="#000" stroke-width="1.6"/><text x="1405.2" y="417.5" font-family="'Liberation Sans', Arial, sans-serif" font-size="20.5" text-anchor="middle">Guide1</text>
<rect x="1475.6" y="424.3" width="53.6" height="23.9" rx="4.5" fill="#fff" stroke="#000" stroke-width="1.6"/><text x="1502.4" y="443.3" font-family="'Liberation Sans', Arial, sans-serif" font-size="19.5" text-anchor="middle">mU6</text>
<rect x="1736.4" y="427.2" width="49.2" height="23.9" rx="4.5" fill="#fff" stroke="#000" stroke-width="1.6"/><text x="1761" y="446.2" font-family="'Liberation Sans', Arial, sans-serif" font-size="19.5" text-anchor="middle">hU6</text>
<rect x="1707.7" y="460.8" width="92.8" height="26.1" rx="4.5" fill="#fff" stroke="#000" stroke-width="1.6"/><text x="1754.1" y="481.2" font-family="'Liberation Sans', Arial, sans-serif" font-size="20.5" text-anchor="middle">Scaffold 1</text>
<rect x="1413.8" y="607.8" width="87.2" height="26.2" rx="4.5" fill="#fff" stroke="#000" stroke-width="1.6"/><text x="1457.4" y="628.3" font-family="'Liberation Sans', Arial, sans-serif" font-size="20.5" text-anchor="middle">sgRNA 2</text>
<rect x="1354.9" y="651.8" width="87.2" height="26.1" rx="4.5" fill="#fff" stroke="#000" stroke-width="1.6"/><text x="1398.5" y="672.2" font-family="'Liberation Sans', Arial, sans-serif" font-size="20.5" text-anchor="middle">sgRNA 1</text>
<rect x="1491.3" y="672" width="47" height="23.8" rx="4.5" fill="#fff" stroke="#000" stroke-width="1.6"/><text x="1514.8" y="690.9" font-family="'Liberation Sans', Arial, sans-serif" font-size="19.5" text-anchor="middle">hU6</text>
<rect x="1471.2" y="701.8" width="50.7" height="23.8" rx="4.5" fill="#fff" stroke="#000" stroke-width="1.6"/><text x="1496.6" y="720.7" font-family="'Liberation Sans', Arial, sans-serif" font-size="19.5" text-anchor="middle">mU6</text>
<rect x="1715.4" y="689.8" width="79" height="25.4" rx="4.5" fill="#fff" stroke="#000" stroke-width="1.6"/><text x="1754.9" y="709.9" font-family="'Liberation Sans', Arial, sans-serif" font-size="20.5" text-anchor="middle">sgRNA3</text>
<rect x="1711" y="722.6" width="45.4" height="23.9" rx="4.5" fill="#fff" stroke="#000" stroke-width="1.6"/><text x="1733.7" y="741.6" font-family="'Liberation Sans', Arial, sans-serif" font-size="19.5" text-anchor="middle">bU6</text>
<rect x="2009.6" y="584.7" width="73.6" height="26.3" rx="4.5" fill="#fff" stroke="#000" stroke-width="1.6"/><text x="2046.4" y="605.2" font-family="'Liberation Sans', Arial, sans-serif" font-size="20.5" text-anchor="middle">guide3</text>
<rect x="1967.2" y="628.3" width="98.7" height="25.9" rx="4.5" fill="#fff" stroke="#000" stroke-width="1.6"/><text x="2016.6" y="648.6" font-family="'Liberation Sans', Arial, sans-serif" font-size="20.5" text-anchor="middle">Scaffold 3</text>
<rect x="1920.5" y="706.2" width="45.9" height="24.2" rx="4.5" fill="#fff" stroke="#000" stroke-width="1.6"/><text x="1943.5" y="725.3" font-family="'Liberation Sans', Arial, sans-serif" font-size="19.5" text-anchor="middle">bU6</text>
<rect x="1329.6" y="828" width="43.1" height="25.5" rx="4.5" fill="#fff" stroke="#000" stroke-width="1.6"/><text x="1351.2" y="848.1" font-family="'Liberation Sans', Arial, sans-serif" font-size="20.5" text-anchor="middle">CS1</text>
<rect x="1335.2" y="876.7" width="83" height="25.5" rx="4.5" fill="#fff" stroke="#000" stroke-width="1.6"/><text x="1376.7" y="896.8" font-family="'Liberation Sans', Arial, sans-serif" font-size="20.5" text-anchor="middle">sgRNA1</text>
<rect x="1513.2" y="825.6" width="95.8" height="26.3" rx="4.5" fill="#fff" stroke="#000" stroke-width="1.6"/><text x="1561.1" y="846.1" font-family="'Liberation Sans', Arial, sans-serif" font-size="20.5" text-anchor="middle">sgRNA 2</text>
<rect x="1482.9" y="898.2" width="45.5" height="24" rx="4.5" fill="#fff" stroke="#000" stroke-width="1.6"/><text x="1505.7" y="917.2" font-family="'Liberation Sans', Arial, sans-serif" font-size="19.5" text-anchor="middle">hU6</text>
<rect x="1532.4" y="914.2" width="41.5" height="23.9" rx="4.5" fill="#fff" stroke="#000" stroke-width="1.6"/><text x="1553.2" y="933.2" font-family="'Liberation Sans', Arial, sans-serif" font-size="19.5" text-anchor="middle">bU6</text>
<rect x="1464.5" y="928.6" width="53.5" height="23.1" rx="4.5" fill="#fff" stroke="#000" stroke-width="1.6"/><text x="1491.2" y="947.2" font-family="'Liberation Sans', Arial, sans-serif" font-size="19.5" text-anchor="middle">mU6</text>
<rect x="1367.9" y="967" width="60.7" height="29.4" rx="4.5" fill="#fff" stroke="#000" stroke-width="1.6"/><text x="1398.2" y="989.1" font-family="'Liberation Sans', Arial, sans-serif" font-size="20.5" text-anchor="middle">5′LTR</text>
<rect x="1585.4" y="856.7" width="95.9" height="24.6" rx="4.5" fill="#fff" stroke="#000" stroke-width="1.6"/><text x="1633.3" y="876" font-family="'Liberation Sans', Arial, sans-serif" font-size="19.5" text-anchor="middle">sgRNA 3</text>
<rect x="1626.3" y="929" width="51.7" height="24.9" rx="4.5" fill="#fff" stroke="#000" stroke-width="1.6"/><text x="1652.2" y="948.5" font-family="'Liberation Sans', Arial, sans-serif" font-size="19.5" text-anchor="middle">EFS</text>
<rect x="1608" y="980.5" width="100.7" height="25.3" rx="4.5" fill="#fff" stroke="#000" stroke-width="1.6"/><text x="1658.3" y="1000.5" font-family="'Liberation Sans', Arial, sans-serif" font-size="20.5" text-anchor="middle">Puro/BFP</text>
<rect x="1506.2" y="1028.8" width="61.3" height="24.2" rx="4.5" fill="#fff" stroke="#000" stroke-width="1.6"/><text x="1536.8" y="1047.9" font-family="'Liberation Sans', Arial, sans-serif" font-size="19.5" text-anchor="middle">3′LTR</text>
<text x="0" y="1162" font-family="'Liberation Sans', Arial, sans-serif" font-size="46" font-weight="bold">c</text>
<defs>
<marker id="mk0" markerWidth="7.6" markerHeight="7.6" refX="3.8" refY="3.8" markerUnits="userSpaceOnUse" overflow="visible"><circle cx="3.8" cy="3.8" r="2.8" fill="#7F7F7F"/></marker>
<marker id="mk1" markerWidth="7.6" markerHeight="7.6" refX="3.8" refY="3.8" markerUnits="userSpaceOnUse" overflow="visible"><circle cx="3.8" cy="3.8" r="2.8" fill="#E69F00"/></marker>
<marker id="mk2" markerWidth="7.6" markerHeight="7.6" refX="3.8" refY="3.8" markerUnits="userSpaceOnUse" overflow="visible"><circle cx="3.8" cy="3.8" r="2.8" fill="#56B4E9"/></marker>
<marker id="mk3" markerWidth="7.6" markerHeight="7.6" refX="3.8" refY="3.8" markerUnits="userSpaceOnUse" overflow="visible"><circle cx="3.8" cy="3.8" r="2.8" fill="#F0E442"/></marker>
<marker id="mk4" markerWidth="7.6" markerHeight="7.6" refX="3.8" refY="3.8" markerUnits="userSpaceOnUse" overflow="visible"><circle cx="3.8" cy="3.8" r="2.8" fill="#CC79A7"/></marker>
</defs>
<circle cx="480.6" cy="1142.4" r="4.3" fill="#7F7F7F" stroke="#333" stroke-width="0.8"/>
<text x="491.2" y="1151.3" font-family="'Liberation Sans', Arial, sans-serif" font-size="23.8">NT</text>
<circle cx="549" cy="1142.4" r="4.3" fill="#E69F00" stroke="#333" stroke-width="0.8"/>
<text x="559.5" y="1151.3" font-family="'Liberation Sans', Arial, sans-serif" font-size="23.8">CD46</text>
<circle cx="645.7" cy="1142.4" r="4.3" fill="#56B4E9" stroke="#333" stroke-width="0.8"/>
<text x="657" y="1151.3" font-family="'Liberation Sans', Arial, sans-serif" font-size="23.8">CD55</text>
<circle cx="740.4" cy="1142.4" r="4.3" fill="#F0E442" stroke="#333" stroke-width="0.8"/>
<text x="752" y="1151.3" font-family="'Liberation Sans', Arial, sans-serif" font-size="23.8">CD71</text>
<circle cx="832.8" cy="1142.4" r="4.3" fill="#CC79A7" stroke="#333" stroke-width="0.8"/>
<text x="843.4" y="1151.3" font-family="'Liberation Sans', Arial, sans-serif" font-size="23.8">CD46/CD55/CD71</text>
<path d="M50.3 1217.3V1463.2H287.5" fill="none" stroke="#000" stroke-width="2.2"/>
<line x1="44.3" y1="1440.6" x2="50.3" y2="1440.6" stroke="#000" stroke-width="2"/>
<text x="40.5" y="1449.6" font-family="'Liberation Sans', Arial, sans-serif" font-size="24.5" text-anchor="end">5</text>
<line x1="44.3" y1="1382.9" x2="50.3" y2="1382.9" stroke="#000" stroke-width="2"/>
<text x="40.5" y="1391.9" font-family="'Liberation Sans', Arial, sans-serif" font-size="24.5" text-anchor="end">6</text>
<line x1="44.3" y1="1325.3" x2="50.3" y2="1325.3" stroke="#000" stroke-width="2"/>
<text x="40.5" y="1334.3" font-family="'Liberation Sans', Arial, sans-serif" font-size="24.5" text-anchor="end">7</text>
<line x1="44.3" y1="1267.6" x2="50.3" y2="1267.6" stroke="#000" stroke-width="2"/>
<text x="40.5" y="1276.6" font-family="'Liberation Sans', Arial, sans-serif" font-size="24.5" text-anchor="end">8</text>
<line x1="92.6" y1="1463.2" x2="92.6" y2="1469.7" stroke="#000" stroke-width="2"/>
<line x1="144.1" y1="1463.2" x2="144.1" y2="1469.7" stroke="#000" stroke-width="2"/>
<line x1="195.5" y1="1463.2" x2="195.5" y2="1469.7" stroke="#000" stroke-width="2"/>
<line x1="247" y1="1463.2" x2="247" y2="1469.7" stroke="#000" stroke-width="2"/>
<path d="M303.2 1217.3V1463.2H540.4" fill="none" stroke="#000" stroke-width="2.2"/>
<line x1="297.2" y1="1440.6" x2="303.2" y2="1440.6" stroke="#000" stroke-width="2"/>
<line x1="297.2" y1="1382.9" x2="303.2" y2="1382.9" stroke="#000" stroke-width="2"/>
<line x1="297.2" y1="1325.3" x2="303.2" y2="1325.3" stroke="#000" stroke-width="2"/>
<line x1="297.2" y1="1267.6" x2="303.2" y2="1267.6" stroke="#000" stroke-width="2"/>
<line x1="345.5" y1="1463.2" x2="345.5" y2="1469.7" stroke="#000" stroke-width="2"/>
<line x1="396.9" y1="1463.2" x2="396.9" y2="1469.7" stroke="#000" stroke-width="2"/>
<line x1="448.4" y1="1463.2" x2="448.4" y2="1469.7" stroke="#000" stroke-width="2"/>
<line x1="499.9" y1="1463.2" x2="499.9" y2="1469.7" stroke="#000" stroke-width="2"/>
<path d="M556.1 1217.3V1463.2H793.3" fill="none" stroke="#000" stroke-width="2.2"/>
<line x1="550.1" y1="1440.6" x2="556.1" y2="1440.6" stroke="#000" stroke-width="2"/>
<line x1="550.1" y1="1382.9" x2="556.1" y2="1382.9" stroke="#000" stroke-width="2"/>
<line x1="550.1" y1="1325.3" x2="556.1" y2="1325.3" stroke="#000" stroke-width="2"/>
<line x1="550.1" y1="1267.6" x2="556.1" y2="1267.6" stroke="#000" stroke-width="2"/>
<line x1="598.4" y1="1463.2" x2="598.4" y2="1469.7" stroke="#000" stroke-width="2"/>
<line x1="649.9" y1="1463.2" x2="649.9" y2="1469.7" stroke="#000" stroke-width="2"/>
<line x1="701.3" y1="1463.2" x2="701.3" y2="1469.7" stroke="#000" stroke-width="2"/>
<line x1="752.8" y1="1463.2" x2="752.8" y2="1469.7" stroke="#000" stroke-width="2"/>
<path d="M809 1217.3V1463.2H1046.2" fill="none" stroke="#000" stroke-width="2.2"/>
<line x1="803" y1="1440.6" x2="809" y2="1440.6" stroke="#000" stroke-width="2"/>
<line x1="803" y1="1382.9" x2="809" y2="1382.9" stroke="#000" stroke-width="2"/>
<line x1="803" y1="1325.3" x2="809" y2="1325.3" stroke="#000" stroke-width="2"/>
<line x1="803" y1="1267.6" x2="809" y2="1267.6" stroke="#000" stroke-width="2"/>
<line x1="851.3" y1="1463.2" x2="851.3" y2="1469.7" stroke="#000" stroke-width="2"/>
<line x1="902.8" y1="1463.2" x2="902.8" y2="1469.7" stroke="#000" stroke-width="2"/>
<line x1="954.2" y1="1463.2" x2="954.2" y2="1469.7" stroke="#000" stroke-width="2"/>
<line x1="1005.6" y1="1463.2" x2="1005.6" y2="1469.7" stroke="#000" stroke-width="2"/>
<text transform="translate(19.5,1348.6) rotate(-90)" font-family="'Liberation Sans', Arial, sans-serif" font-size="24.3" text-anchor="middle">CD55</text>
<path d="M50.3 1497.4V1742.3H287.5" fill="none" stroke="#000" stroke-width="2.2"/>
<line x1="44.3" y1="1714.7" x2="50.3" y2="1714.7" stroke="#000" stroke-width="2"/>
<text x="40.5" y="1723.7" font-family="'Liberation Sans', Arial, sans-serif" font-size="24.5" text-anchor="end">4</text>
<line x1="44.3" y1="1673.3" x2="50.3" y2="1673.3" stroke="#000" stroke-width="2"/>
<text x="40.5" y="1682.3" font-family="'Liberation Sans', Arial, sans-serif" font-size="24.5" text-anchor="end">5</text>
<line x1="44.3" y1="1631.8" x2="50.3" y2="1631.8" stroke="#000" stroke-width="2"/>
<text x="40.5" y="1640.8" font-family="'Liberation Sans', Arial, sans-serif" font-size="24.5" text-anchor="end">6</text>
<line x1="44.3" y1="1590.4" x2="50.3" y2="1590.4" stroke="#000" stroke-width="2"/>
<text x="40.5" y="1599.4" font-family="'Liberation Sans', Arial, sans-serif" font-size="24.5" text-anchor="end">7</text>
<line x1="44.3" y1="1548.9" x2="50.3" y2="1548.9" stroke="#000" stroke-width="2"/>
<text x="40.5" y="1557.9" font-family="'Liberation Sans', Arial, sans-serif" font-size="24.5" text-anchor="end">8</text>
<line x1="44.3" y1="1507.4" x2="50.3" y2="1507.4" stroke="#000" stroke-width="2"/>
<text x="40.5" y="1516.4" font-family="'Liberation Sans', Arial, sans-serif" font-size="24.5" text-anchor="end">9</text>
<line x1="92.6" y1="1742.3" x2="92.6" y2="1748.8" stroke="#000" stroke-width="2"/>
<text x="92.6" y="1770.5" font-family="'Liberation Sans', Arial, sans-serif" font-size="24.5" text-anchor="middle">5</text>
<line x1="144.1" y1="1742.3" x2="144.1" y2="1748.8" stroke="#000" stroke-width="2"/>
<text x="144.1" y="1770.5" font-family="'Liberation Sans', Arial, sans-serif" font-size="24.5" text-anchor="middle">6</text>
<line x1="195.5" y1="1742.3" x2="195.5" y2="1748.8" stroke="#000" stroke-width="2"/>
<text x="195.5" y="1770.5" font-family="'Liberation Sans', Arial, sans-serif" font-size="24.5" text-anchor="middle">7</text>
<line x1="247" y1="1742.3" x2="247" y2="1748.8" stroke="#000" stroke-width="2"/>
<text x="247" y="1770.5" font-family="'Liberation Sans', Arial, sans-serif" font-size="24.5" text-anchor="middle">8</text>
<text x="167.9" y="1799.2" font-family="'Liberation Sans', Arial, sans-serif" font-size="24.3" text-anchor="middle">CD46</text>
<path d="M303.2 1497.4V1742.3H540.4" fill="none" stroke="#000" stroke-width="2.2"/>
<line x1="297.2" y1="1714.7" x2="303.2" y2="1714.7" stroke="#000" stroke-width="2"/>
<line x1="297.2" y1="1673.3" x2="303.2" y2="1673.3" stroke="#000" stroke-width="2"/>
<line x1="297.2" y1="1631.8" x2="303.2" y2="1631.8" stroke="#000" stroke-width="2"/>
<line x1="297.2" y1="1590.4" x2="303.2" y2="1590.4" stroke="#000" stroke-width="2"/>
<line x1="297.2" y1="1548.9" x2="303.2" y2="1548.9" stroke="#000" stroke-width="2"/>
<line x1="297.2" y1="1507.4" x2="303.2" y2="1507.4" stroke="#000" stroke-width="2"/>
<line x1="345.5" y1="1742.3" x2="345.5" y2="1748.8" stroke="#000" stroke-width="2"/>
<text x="345.5" y="1770.5" font-family="'Liberation Sans', Arial, sans-serif" font-size="24.5" text-anchor="middle">5</text>
<line x1="396.9" y1="1742.3" x2="396.9" y2="1748.8" stroke="#000" stroke-width="2"/>
<text x="396.9" y="1770.5" font-family="'Liberation Sans', Arial, sans-serif" font-size="24.5" text-anchor="middle">6</text>
<line x1="448.4" y1="1742.3" x2="448.4" y2="1748.8" stroke="#000" stroke-width="2"/>
<text x="448.4" y="1770.5" font-family="'Liberation Sans', Arial, sans-serif" font-size="24.5" text-anchor="middle">7</text>
<line x1="499.9" y1="1742.3" x2="499.9" y2="1748.8" stroke="#000" stroke-width="2"/>
<text x="499.9" y="1770.5" font-family="'Liberation Sans', Arial, sans-serif" font-size="24.5" text-anchor="middle">8</text>
<text x="420.8" y="1799.2" font-family="'Liberation Sans', Arial, sans-serif" font-size="24.3" text-anchor="middle">CD46</text>
<path d="M556.1 1497.4V1742.3H793.3" fill="none" stroke="#000" stroke-width="2.2"/>
<line x1="550.1" y1="1714.7" x2="556.1" y2="1714.7" stroke="#000" stroke-width="2"/>
<line x1="550.1" y1="1673.3" x2="556.1" y2="1673.3" stroke="#000" stroke-width="2"/>
<line x1="550.1" y1="1631.8" x2="556.1" y2="1631.8" stroke="#000" stroke-width="2"/>
<line x1="550.1" y1="1590.4" x2="556.1" y2="1590.4" stroke="#000" stroke-width="2"/>
<line x1="550.1" y1="1548.9" x2="556.1" y2="1548.9" stroke="#000" stroke-width="2"/>
<line x1="550.1" y1="1507.4" x2="556.1" y2="1507.4" stroke="#000" stroke-width="2"/>
<line x1="598.4" y1="1742.3" x2="598.4" y2="1748.8" stroke="#000" stroke-width="2"/>
<text x="598.4" y="1770.5" font-family="'Liberation Sans', Arial, sans-serif" font-size="24.5" text-anchor="middle">5</text>
<line x1="649.9" y1="1742.3" x2="649.9" y2="1748.8" stroke="#000" stroke-width="2"/>
<text x="649.9" y="1770.5" font-family="'Liberation Sans', Arial, sans-serif" font-size="24.5" text-anchor="middle">6</text>
<line x1="701.3" y1="1742.3" x2="701.3" y2="1748.8" stroke="#000" stroke-width="2"/>
<text x="701.3" y="1770.5" font-family="'Liberation Sans', Arial, sans-serif" font-size="24.5" text-anchor="middle">7</text>
<line x1="752.8" y1="1742.3" x2="752.8" y2="1748.8" stroke="#000" stroke-width="2"/>
<text x="752.8" y="1770.5" font-family="'Liberation Sans', Arial, sans-serif" font-size="24.5" text-anchor="middle">8</text>
<text x="673.7" y="1799.2" font-family="'Liberation Sans', Arial, sans-serif" font-size="24.3" text-anchor="middle">CD46</text>
<path d="M809 1497.4V1742.3H1046.2" fill="none" stroke="#000" stroke-width="2.2"/>
<line x1="803" y1="1714.7" x2="809" y2="1714.7" stroke="#000" stroke-width="2"/>
<line x1="803" y1="1673.3" x2="809" y2="1673.3" stroke="#000" stroke-width="2"/>
<line x1="803" y1="1631.8" x2="809" y2="1631.8" stroke="#000" stroke-width="2"/>
<line x1="803" y1="1590.4" x2="809" y2="1590.4" stroke="#000" stroke-width="2"/>
<line x1="803" y1="1548.9" x2="809" y2="1548.9" stroke="#000" stroke-width="2"/>
<line x1="803" y1="1507.4" x2="809" y2="1507.4" stroke="#000" stroke-width="2"/>
<line x1="851.3" y1="1742.3" x2="851.3" y2="1748.8" stroke="#000" stroke-width="2"/>
<text x="851.3" y="1770.5" font-family="'Liberation Sans', Arial, sans-serif" font-size="24.5" text-anchor="middle">5</text>
<line x1="902.8" y1="1742.3" x2="902.8" y2="1748.8" stroke="#000" stroke-width="2"/>
<text x="902.8" y="1770.5" font-family="'Liberation Sans', Arial, sans-serif" font-size="24.5" text-anchor="middle">6</text>
<line x1="954.2" y1="1742.3" x2="954.2" y2="1748.8" stroke="#000" stroke-width="2"/>
<text x="954.2" y="1770.5" font-family="'Liberation Sans', Arial, sans-serif" font-size="24.5" text-anchor="middle">7</text>
<line x1="1005.6" y1="1742.3" x2="1005.6" y2="1748.8" stroke="#000" stroke-width="2"/>
<text x="1005.6" y="1770.5" font-family="'Liberation Sans', Arial, sans-serif" font-size="24.5" text-anchor="middle">8</text>
<text x="926.6" y="1799.2" font-family="'Liberation Sans', Arial, sans-serif" font-size="24.3" text-anchor="middle">CD46</text>
<text transform="translate(19.5,1601) rotate(-90)" font-family="'Liberation Sans', Arial, sans-serif" font-size="24.3" text-anchor="middle">CD71</text>
<line x1="53.3" y1="1206.9" x2="286.3" y2="1206.9" stroke="#000" stroke-width="2"/>
<text x="169.6" y="1197.7" font-family="'Liberation Sans', Arial, sans-serif" font-size="23.5" text-anchor="middle">Cas13d</text>
<line x1="306.2" y1="1206.9" x2="539.2" y2="1206.9" stroke="#000" stroke-width="2"/>
<text x="422.2" y="1197.7" font-family="'Liberation Sans', Arial, sans-serif" font-size="23.5" text-anchor="middle">Cas9-nuclease</text>
<line x1="559.1" y1="1206.9" x2="792.1" y2="1206.9" stroke="#000" stroke-width="2"/>
<text x="675.1" y="1197.7" font-family="'Liberation Sans', Arial, sans-serif" font-size="23.5" text-anchor="middle">KRAB-dCas9</text>
<line x1="812" y1="1206.9" x2="1045" y2="1206.9" stroke="#000" stroke-width="2"/>
<text x="928" y="1197.7" font-family="'Liberation Sans', Arial, sans-serif" font-size="23.5" text-anchor="middle">KRAB-dCas9-MeCP2</text>
<path d="M177 1292l-17-4-66 0 43 15 27-3 0 2 5-5 2 5 0 4 11-5 4-4 23 17-11 1-9 3 0-4 0 4-5-5 0-2-1 7 0-1-1-2-3 4 0-2-4-7-1 8-5-6-1-1-1 6 0-6-7 6-2-6-1 6-7 1 0-7-2 3-9 4-10-2 0 16 4-6 1 2 1 2 7-1 4-1 3-3 1-3 1 5 0 1 2-3 0 6 1 0 0-6 0-2 1 1 1 1 0 5 2 1 0 1 4-7 0 6 1-10 0 3 0 3 5-4 1 8 1 0 0-8 1 4 0-4 2 9 1-2 3 1 0-2 0 0 4-6 4-1 0 6 0-1 3-3 6-3 1 20-13-2-2 2-5-6-1-2-1 2 0 4 0 1 0-6-1 3-1-1-1 1-2 0 0-3 0 6-2 1 0-3 0 2-1 1 0-6-1 3 0-2 0 0-1 6-1-8 0 3-1 3-1 3-1-5 0 3 0-6-1 3-1-3-1-2 0 2 0 4 0-5-1 8 0-6-1 3-3-3-1 1-1 4 0 0-1-5 0-2-3 9 0-2-3-8 0 10-2-2-1 2 0-9-2 4-14-5 0 9 0-5 2 19 13-2 2 2 1-6 2 2 1-3 1-1 1 2 0-1 0 3 0 2 1-7 0 5 2 4 1-10 1 6 0-2 1 6 0-8 0 2 1 2 3-7 1 3 2 6 1 0 0 0 1-3 1-2 1 1 1 1 1-6 6 0 1-1 0 6 1 6 1-10 0 4 3-5 3 1 1 8 4-6 35 18-44 0-3-6-5-3 0 3-4-2-4-2 0 6-1 5 0 0 0-9-1 7 0-3 0 1 0-4-3 7 0-7-3 0 0-1-3-1-4 4 0 5-4-3 0-2-1-3-2 7 0 2-1-11 0 2-1 9 0-2-1 3-3-7-1-4-3 2-4-2-27 17 25-3 16-2 7 5 4-3 2-3 7 3 5-3 2 3 5 2 1 14-21-3-4-4-8 4-11 10-8 13" fill="none" stroke="none" marker-start="url(#mk4)" marker-mid="url(#mk4)" marker-end="url(#mk4)"/>
<path d="M226 1260l8 9-2 2-7-1-1 2-2-3-2-9-19 7-3-7 7 23 0-5 7 3 1-2 1-6 0 2 0 6 1 0 1-2 0 1 0 0 1-5 2-2 0 8 0-9 0 0 1 10 0-5 1 4 0-4 1 1 1 3 3-3 1 4 0-1 1 2 1-1 1-8 1 6 1-8 1 2 1 5 0 1 1-4 1 7 2-2 0 1 2-1 2-1 2-6 4 7-1 6-1-3-4 9-1 1-3-2 0-5-2 2-6-1-1 1-2 3-1-1 0-6-1 8 0-2-1 0 0 4 0-2 0-1 0-5-1 9-1-3-2-7 0-1-1 5 0-4-1-2-1 8 0-1-1 4-4-4 0-5-21 5-26-7 39 17 4 1 2 2 1-2 3-2 0 3 0-6 0 2 1-1 0 8 2-10 0 8 1-1 1-5 0-2 1 3 1 2 1 0 1 6 0-8 1-1 7 4 2 4 3-6 1-1 3 6 1-5-14 18-4-6-2 1 0 3-1-7-9-1 0 4-35 19 62 7" fill="none" stroke="none" marker-start="url(#mk0)" marker-mid="url(#mk0)" marker-end="url(#mk0)"/>
<path d="M256 1313l-2-3-8 8 0-9-4 7-4-1-14 5-2 0-12 5 17 4 0-3 5 4 0-5 2 5 0-2 0-7 5 11 16-6-4 14-3 3-3-3-2-4-2 3-1-3-2-3 0 10-7-10 0 5-3-3 0-1 0 0-1 7-4-6-7 1-16 18 1-5 18 6 1-9 4-1 1 11 0-2 1-8 1 4 1 0 0-2 0 4 1-7 1 9 0-4 1-2 0 4 0 1 1 3 0-1 1-10 1 5 2 5 1-9 0 4 0 5 1-9 1 0 0 9 0-3 2-5 3 7 0-6 1 7 1-10 1 5 7 11-1 6-1 0-6 1-1-1-2 1 0-8-1-1-2-1-1 3 0 1-1-1 0 6-1-6-1-1 0-1-1 6-2 2 0-8-2 3 0 5-1 1-1-1-1 0-2-3-1-4-1 8-3-10-1 8-2 0-2 11 0-6 1 3 0 5 2-11 3 8 2 2 1-9 1 0 2 11 0-5 1 3 0-8 1-1 1-1 0 7 1-4 0 6 0 1 1-10 0 11 0-6 0 5 1-5 0 5 0-3 0-1 1-4 0 9 1-6 0-1 0-4 1 8 0-2 0-6 1 6 1-1 0 0 4 3 2 3 2-4 0-2 1 4 1-2 5 2 9-6 9 20-17-9-1 9-4-6-1-4 0 7-2 3-3-8 0 6-1-2-1 2 0-7 0 0-1 7-2-4 0 6-1-10 0 3 0 1-1-4 0 5 0-4-1-1 0 1 0-1 0 6-1-6-1 7-1-2 0-3 0-3-1 11-1-3 0 1 0-1-1-8 0 11 0 0-1-3-1-6 0 5-1-5-1 9-1-9-1 0-2 10-2 0 0 0-13-4-2 7 9 9 3-10 5 6 3 1 3-5 1 3 0 2 0 1 1-7 1 6 2-5 0 8 1-5 1-6 1 1 0 0 0 6 1-7 1 10 1-8 0 0 1 5 1 0 0-1 0 4 1-8 0 6 1-3 1 4 1-8 0 4 1 3 1-7 1-1 2 6 1-4 0 5 17 9-9-4-9 4 0-1-2 2-3 3-1-3-1-4-1 4-1-1 0 1-1-2-1-3-3 4-1 0 0 2-1-7 0 6 0 1-1 2 0-3-1-2-1 3-2 1-5 4-2-6 8 10 2-3 1 7 1 2 1-2 3-4 3 1 3 5 21-8-32 11-2 10 0 15" fill="none" stroke="none" marker-start="url(#mk2)" marker-mid="url(#mk2)" marker-end="url(#mk2)"/>
<path d="M137 1241l-32 0-18-1 13 17 5 3 11-3 2-3 1-4 6 2 6 0 5 4 0-5 2 7 5-2 0 3 3-3 1-2 1-2 2 3 0 0 2 2 4-7 2 9 11 1-8 11-2-5-2-5-1 8 0-1-2 3-3-9-5 0 0 2-3 2-2-6 0 6-1 5-1-1-1 1-3-2 0-2 0 4-2 1-1-10-2 6-1-2-1 6 0-6 0 1-2-1 0-4-1 8-1-6-1 8 0-7 0 7-1-3 0-8-2 3 0 6-2 1-1-2-1-5-1 7-2 0-2-10 0 4 0-4-2 4-2 0 0 1-1 1 0 1 0 3-1-9-4 7 0-3 0 5-3 0 0 1-1-8 0 4-12 1-2-2-20 7 19 9 4-2 8 2 1-9 0 3 1 5 2 1 0-10 4 9 2-7 1 5 2-6 0 10 2-10 1 5 0-1 0 3 1-2 1 0 1 3 0-3 0 1 1-7 1 11 0-3 3 2 0-8 1 5 0 0 0-2 0 1 1-5 0 2 1 8 1-5 0-7 3 5 1 1 0-1 1 2 1 1 1 3 1-3 0-3 0-4 2 0 2 8 0-5 1 1 2-1 0 4 0-5 1 6 1 0 0-5 1 6 0-8 0 4 1 5 0-3 1 3 0 0 1-10 1 2 0 6 0-1 1 0 0-4 1 7 0-4 1-2 1 1 1-6 1 12 1-5 6 0 2 1 1-6 2 6 1 3 5-9 3 9 3-1 6-4 8 13-8-3-14 4-7-6-2 7-4 2-6-4-2-4 0 8-1-9-1 4-1-4-1-2-1 9-1-3-1-3-2-2-1 0 0 2-3 7-1-5-2-5-1 2 0 9-1-10 0 8 0-1 0-4-2 0-1 5 0 1-1-10 0 9-1-7 0 3 0 6-1-2 0-8 0 4-1-3-1 5-3 0-1-6-2 0 0 3 0 5-4-2 0-5-1 6-1 3 0-4 0-5-1-2-1 3 0 5-1 1 0-8 0 5-1 0-3 2-1-7-1 7-1 0-2-2-1-1-11 4-2 2 15 1 4 0 4 4 0 2 3-1 7-1 1 5 5-9 1 2 0 4 2-6 0 0 2 0 4 6 1 2 2-3 3 1 0-5 3 4 1 3 1 0 1-7 1 2 2-3 1 0 6 4 15-4 4 2-27 17-4-4-6 1-13 0-13-2-25 35 87 26" fill="none" stroke="none" marker-start="url(#mk1)" marker-mid="url(#mk1)" marker-end="url(#mk1)"/>
<path d="M191 1270l-13 26-2 0-16 11 9-4 7 1 5-5 3 2 17-3 0 18-7-3-2-2-4 5-2 4-2-4-1-4-4 4-1 2-2 1-2-3-3-3-2 3-2 1-1-7-1 3-2-1-3 4-1 3-6 0-3-2-2-2-2-5-3 7-7 5 1 1 3 5 1-5 3 5 1 1 0 1 0-1 3-3 2-3 1 8 1 0 1-7 1 8 0-11 1 10 1-4 1-1 0 6 2-7 0 2 0-2 1 3 0-5 1 3 0-3 1 6 1 3 1-4 0-5 3 8 0-7 0 7 1-10 0 2 2 9 1-7 1 3 2 1 2-9 1 7 0 0 5 1 0-2 9-3 5-1 6 2 4 1-22 9-2 6-1-1-1-2 0 6-2-9-6 10-1-11-1 1-2 0-1 7 0-8 0 2-1 1-2-1 0 2-1-1-1-1-1 0-1 5 0-2 0 5 0-3-1-7-1 8-1 2 0-5-1 2-1-8 0 11-1 0 0-9-1 9-2-2 0 3-1-2-1-7-1-1-1 7-1-6-4 2-2 6 0 0 0-4-2 3-1-9-4 10-3 1-9 10 5-7 2 0 3 5 1-4 3 5 7-2 1-5 0 9 0-8 1 1 1 5 0 1 0 2 4-3 1-2 0 3 0-8 0-1 1 1 0 4 1 0 1-6 1 8 0-5 0-3 1 12 0-9 1-1 0-2 1 11 0-9 2 3 1-4 0 2 0-3 2 10 1-5 1-2 1-3 1 5 0-2 0 5 1-7 1 0 0 8 1-6 8 2 1 2 3 16-11-10-3-1-1 6-8-4 0 0-2 1-2 1-3 3-2 1-1-4-1 4 0 0 0-1-1-7 0 5-3-1 0-2-1-2-2 2-1 10-1-7-1-5-4 10-3 0 0-9-1 4-5 15 3-3 0 6 4-9 4 5 5-6 2 9 3-7 1-1 1 1 1-3 0 1 26 0 19-1-41 20-9 0-2-4-2-3-14 11 13 8 17 25" fill="none" stroke="none" marker-start="url(#mk4)" marker-mid="url(#mk4)" marker-end="url(#mk4)"/>
<path d="M255 1229l-51 26 12 4 26-1-7 11-1-4-4 5-1-9-3 10-1-1 0 0-2-5 0 7-15-3 0 1-7-5 5 14 3 3 1 2 1-2 1-4 3 5 0-6 0 5 1-10 0 12 2-8 0 5 1 1 2 0 0 1 1-4 0 0 1 5 0-11 1 9 1 0 0-3 2 0 0-3 0 2 0 3 2 0 0-3 4 3 1-2 1 2 0-5 0 4 2-2 1-4 0 4 1 5 17-1-8 13-10 0 0-6-1 0-2 1-2-2 0 6-1 1 0-3-2 2-1-2-3-1-1 4 0-2 0-2-1 2 0 2 0-3-1 4-1-8 0 1 0 2 0-6-2 0-1 8-1-6-1 3 0 0-2 5-3-1 0-3-2 1-1-3-2-3-5-2-2 1-4 6-7-5 12 12 9-1 2 4 0-3 3 2 1 3 1-1 1-2 3 2 0-5 0 2 0 8 1-10 2 1 1-1 1 11 0-7 0 5 2-5 2-3 0 3 2 2 0-2 0 2 0-6 0 1 3 4 2-1 2 3 1-1 9-6-16 15-11 0 1 9 9 16" fill="none" stroke="none" marker-start="url(#mk0)" marker-mid="url(#mk0)" marker-end="url(#mk0)"/>
<path d="M256 1316l-17-2-10 1 0-2-7 14 17-5 10 6 35 16-31-5-4 4-3-4-2 0-3-5 0 2-1 5 0 2-1-6-2 6-1-7-1-3 0 9-5-7-1 9-4-11-7 19 3 1 3 0 1-8 0 3 1 7 1-2 0-2 1 3 1-8 1 0 2 5 0 3 1-6 1 0 0 8 0-9 2 8 0-7 4 7 1-7 1-3 1 9 0-3 1 2 0-8 2 4 3 4 3 2 9 13-9-8-5 4-2-4-2-2-1-1-1 8 0-6 0 6 0-7 0 5-1 2-1-4 0-2 0 6 0-3-1-1-1 3 0 1 0 0-1-5 0 0-2 6 0-1 0 2-1-9 0 3 0 0-1 5-1-9 0 1 0 5-2-6 0 9 0-5-2 1 0 6-1-1-1 0 0-3-1-2 0 4 0-2-3 2-1-3 0 0-3-1 0-1-5-5-16 3-16 20 13-6 28-4 1 5 2-3 0 3 1-4 1 5 3-4 1 2 1 7 0-3 1-5 1-3 0 0 0 4 1 6 1-1 0 1 2-6 0-3 0 4 1 2 0 3 0-10 1 1 0 4 0-5 0 4 1-1 1 2 0-1 0 3 0 3 0-4 0 2 1 2 1-7 0 7 0-6 3 0 0-3 0 7 1-3 9-2 13-3 12 9-27 8-1 4-1-6-4-3-2 6 0-6-2 5-1-6 0 8 0-8 0 6-3 3 0-5 0 6-1-5-1-2 0 8-1-10-1 5 0-4-1 2 0 3 0-3-1-2-1 0 0 7 0-2-1-6 0 9 0 2 0-6-1 0-1 4 0-8 0-1-1 0 0 0-1 1-2 0-1-1-1 3 0 1-2 0 0 3-2-7-4 7-3-7-8 23 9-10 0 3 7-2 4-3 7 9 0 1 1-9 1 7 2-3 2-4 0 5 1-2 0 2 0-2 1-1 1-2 0 6 1-6 1 7 3 0 2-7 8 7-8 7-1-2 0 8-1-8-2 4-4 0 0 2-1 1-1-6-1 6 0-3-5 2-2-1 0-3-2 8-2-11-1 11 0-2-1-7-1 2-10 3-1-5 0 3 17 15 0-6 5 7 9-1 4-6-8 16-6 2-10-3-13 1 8 9 26 1 0-1" fill="none" stroke="none" marker-start="url(#mk2)" marker-mid="url(#mk2)" marker-end="url(#mk2)"/>
<path d="M115 1221l9 14 26 4-9 3 0 4-27-4-1 2-29 11 17 2 5 2 2-1 0 1 3-3 1-6 4 5 2 4 2-6 1 6 10 0 0-9 1 9 1-3 5-1 3 2 1-1 2-3 0 6 9-4 3-6 3 0 1 7 17 13-6-5-12 4-1-8-8 4-1-1-1-3-1 7 0-6-2 0 0 3-2 8-1-11-5 4 0 2 0 3-1-4-1-4-2 2-1-2 0 10-1-4 0 2-1-5 0 7-1-2 0-7 0 5 0-7 0 4 0 0-1-1 0 7-1-2 0-6-1 3-1 1-1-1 0 4-2-3 0 4-1-11 0 10-2 0-1-7 0 7 0-4-1 5-1-3 0 2-3 1 0-6-1 4-1-6-3 6-6-2-1 2-5-3-9 15 4 1 4 2 0-10 1 9 3-6 0 6 0-10 1 8 0 2 0 1 1-10 2 7 3-1 0 0 1-2 1 1 0 5 1-5 0 3 4-8 1 1 1 1 0 6 0 0 0 0 1-2 1 2 0-5 1-2 0 3 0-6 1 11 1-6 0 4 0 3 1-6 1-2 0 2 2-2 1 7 0-5 0 0 0 0 1 5 1-5 1 0 0-1 1-5 0 8 1-7 0-1 0 6 0 3 0-5 1 5 0-1 0 4 0-6 2-5 0 9 0-3 1 4 0-5 2-1 0 2 1 5 0-2 0-3 2-1 0 3 0-1 1-6 2 9 1-2 1-5 0 0 1 7 0-3 0-4 1 7 0-4 0 1 1 2 1-8 0 10 4-1 2-5 1-2 3 4 2-3 2 6 3-2 1-3 10-1 4 3 5 14-24-9-5 10 0-6 0-5-2 5-6 1-3-4-1 1-1 6-1-3-1-5 0 4 0 3-1-5 0-1-2 9 0-4-2 4-1-6 0 2-1-1-1-2 0-1 0 1-2-2-1 3-1-2 0-1-1 0 0 3 0 0-1 0-1-1 0-3-1 3-3 3 0-5-1 6-1-7 0 6-1 0 0 0-1 0 0 0 0 3-1-7-2 4-1 1-1-7-1 3-2-2-1 7-2-7-1 1-1 7 0-9 0 6-3-7-1 9 0-4-4 3-2-3-6-3-7 0 0 6-1 0-1-6-2-2-10 14 22 1 7 1 2-4 2 9 4-9 3 3 0 2 1-4 1 1 4-1 1 6 4 2 1 1 7-6 1-2 1 2 1-3 0 0 1 8 3 1 1-10 1 10 0-8 1-1 3 1 1 3 1 7 1-8 7-1 1 2 3-4 27 7-43 13-2-2-8 10 2 11 55 9" fill="none" stroke="none" marker-start="url(#mk1)" marker-mid="url(#mk1)" marker-end="url(#mk1)"/>
<path d="M175 1281l2-1 2 14-43 1-26 12 35-10 6 1 2 8 7 2 12-7 6-1 0-2 3 7 0 0 15 1 6 4-5 0-1-1-1 7-2-2-2 5-5-10-3 4-1 6 0-2-1-3-7-4 0 1 0 8-1 0-4-2 0 3-1-9-1-2-6 3 0 7-1-3 0-4-2 3 0-1-3 0-1 5 0 1-12-1-18 8 8 3 0 1 7-2 0 0 1 3 1-5 3 5 5-6 2 6 2-8 0 3 1 3 3-8 0 8 2-2 1 1 0-1 0-3 0-2 1 8 1-4 4-2 3 0 0 3 1-4 2 5 2 1 0-8 1 6 1-1 2-4 1 4 0-1 1 0 1-3 0 4 3-3 6 6 10 6-12 6 0-8-3 8-1-5-3 4-1-5-2-3 0 0-1 9-2-1-3 2-1-4 0-5-1 6 0-4 0-4 0 7-2 3 0-9 0 4-2 0-1 5 0-2-1-8 0 8 0 4 0-11-1 0-1 0 0 1 0 4-1 2-1 1 0 3 0-8-2-1-1 7 0-7 0-2-2 10 0-8 0 1 0 0 0 5-2-5-1 5-1-2-2 2-1-1-5-5-13-3-9 20 3-7 3 9 6-1 5 2 2 0 0-3 2-1 1-2 0 0 0 5 0-1 0 2 1-8 0 5 1 1 3-4 1 4 0 0 1 0 0 2 1-8 0 5 0 2 0 2 2-1 0-1 0 0 1-2 0-2 1-5 1 2 1-3 0 3 0-1 1 2 1 4 1-1 0-1 0-4 0 1 2 1 1 1 2 6 0-8 1 1 0 0 2 5 1 2 5 0 2-7 3 7 14-9-22 18-4-5-5-1-4-2 0 5-3 7 0-7 0-1 0-2-1 10-1-8-1 7 0-9-1 1 0-1 0 4-1-3-2 5-2-4 0 3 0-6-1 7-3-4 0 1-3-3-3-1-1 10-3-4-3-6-8 4-4 2-23 8 31 7 2-3 2 0 1 2 4 1 2 1 6-10 2 10 4-4 0-3 1-4 0 5 3-4 0 0 5 7 1 2 3-7 21 4-34 11-4-4-5-2-7 9-1 1 3 7 17 2" fill="none" stroke="none" marker-start="url(#mk4)" marker-mid="url(#mk4)" marker-end="url(#mk4)"/>
<path d="M200 1221l38 47-12 3 0-6-6 5 0 1-1-5-1 6 0-11-4 9-10 13 2-9 2 8 1-6 3 6 2 1 1-8 0 6 0 1 1 1 1-5 0-1 1 2 0-2 1-3 2 0 0 4 1 0 0 4 1 1 1 0 1 0 0-3 0-5 0 3 0 3 1-1 0 4 0-9 1 1 0 7 1-7 0 6 1-4 0-6 1 5 1-1 2 7 1-4 0-1 1 5 1-6 2-5 2 6 2 5 0-3 2-7 11 9-7 5-4 9-3-11-1 8-2 1 0 0-2-9-2 9 0-4-1-1-2 0-1 6 0-5 0 0-1-1-1-3-1 4 0 2-2-6 0 5 0 0-2-3-1 5 0 0 0-2-1 4 0-10-1 10 0-9-1 1-2 6 0-6-1 8 0 0-1-8 0 6-1 1-1-4 0-3-2 1-1 4-1-3-6 16 5-9 1 6 1-6 0 8 1-6 0-2 7 11 4-11 2 12 1-10 0 1 2-2 0 4 0 0 2 1 0 2 0-7 2 4 0-1 1 1 5 6 3-8 2 16-3-6-5 1 0 10-2-10-14 2-1 0-21 7 6 3 23 8 10-8" fill="none" stroke="none" marker-start="url(#mk0)" marker-mid="url(#mk0)" marker-end="url(#mk0)"/>
<path d="M260 1281l-53 29 16 19 3-7 13 4 0 2 8 2 10 1 14-7-13 19-3-8-7-1 0 6-3-5-3 9 0-3-4-5-1 5 0-6 0 1-6 1 0 2-2-6-1 10-4 0-1-9-1 0-8 6 4 12 3-3 1 2 2 2 2-2 2 5 1-9 0 3 0 5 0-1 1-2 0-2 0-1 1-3 0 9 0-10 0 0 1 3 0 7 0-9 2 0 0 9 0-3 1-2 0 1 1 2 0-3 0-2 0 6 1-9 1 9 0 1 4-8 0 8 2-3 3-6 7-1 2 15-8 1-4 5 0 0 0 1 0-2-1 2 0-4-2 1-2-1 0 1 0-1-1-4 0-3-3 2 0 2-1 2 0 1 0 0 0 5 0-6 0-3-2 8 0-11-1 9 0-4 0 4-1-4 0 0-1 3 0 1-1-7 0 2 0-2 0 7 0-3 0-3-1-1-1 9 0-2-1-5-1 5 0-5-1-3 0 4-5 5-22-9-1 6-4-2 0 17 17-4 3-3 3 0 7 7 1-8 0 9 1-2 2-3 1-2 1 7 0-10 1 9 0-1 1-5 0 4 1 0 0 3 0-7 0-4 1 3 1-3 0 3 0 0 1 9 0-7 0-3 0-1 2 4 0 0 0 4 0-5 1-2 0 2 0-4 1 8 0-7 0 3 1 1 0-5 0 9 1-9 0 10 1-10 0 8 0-2 1 0 0-4 1 5 0 1 1-5 1-2 1 5 1 1 1 2 0 0 9 12-9-3-4-4 0 4-2-2 0-3-2 4 0 5-1-1 0-7 0 6 0-3-1-2-1 9-1-7 0-5-1 9 0-7-2 8 0-9 0 0-1 3-1 8 0-10-1 0 0 2 0 0-1 2 0 2-2 2 0-2 0 0-1-4-1 4-4-3-3 3 0-8 0 11-3-8-1 1-4-4 3 18 1 1 3-7 2 11 6-5 1 2 1-7 1 2 0-1 1 4 0 3 0-7 1 9 4-7 0-3 0 10 0-11 1 5 0 0 0 0 1-2 0 6 1-2 0-5 1 0 1-1 0 6 1-4 1 3 1 6 2-4 1 0 0-6 4 1 1 4 21 13-16-6-4 5-2 2-5-7-2 7-3-8-3 10-1-7-2 4-1 1-1-8-4 7-4 1-7-8-31 2 43 20 3-3 1 1 3-9 6 12 0-9 4 0 5 6 9 11-4 4-1-7-8 19" fill="none" stroke="none" marker-start="url(#mk2)" marker-mid="url(#mk2)" marker-end="url(#mk2)"/>
<path d="M110 1235l10-2 36-1 15-2-56 14-2-6-7 1-11 8-4 0-9 1-19-2 26 13 21-3 0-5 7-3 0 12 4 0 0-10 6 2 0 4 1 3 1 0 0 0 0-4 2-2 0 5 7-6 1 4 2 0 1-5 5 6 2 1 3-7 2 8 12-2 2 1 52 7-56-2-1 0-3 8-1 0-1-4-1-3-3-2 0 5 0 1 0 2-1-6-6-1 0-1-1 8-2-3 0 3-2-4 0 3-2 1-1-8-1 4-1-1-1 1 0 2-2 0-1-1 0 3-1-1 0-5-1-3-2 10-1 1-1-9-1 9-2-4 0 0-1-5 0 7 0-8-1-1 0 8 0-1-1-5-1 4-1 1 0-4-1-1 0 6-1-8-2 11 0-6 0 0 0 2 0 0-1-8-1 4 0-3-6 3-2 8 0-8-1 3-3-4-2 2-9-1-20 14 12 2 6 1 2-3 0-4 3 5 1 2 1-6 2 6 0-3 1-5 1 7 0-7 1 6 1 3 4-4 1 3 2 3 0-5 1 4 1-3 0-5 1 3 0 1 0 0 2-2 3 2 1 5 0-12 1 7 2-1 0 0 1 3 1 3 0-10 1 4 2 5 1-3 1 2 0-8 2 8 0-9 3 8 0 1 0-4 1 2 0-8 0 6 1-3 0 3 1 5 2-1 0-10 2 8 2 3 2-2 0-4 1-4 0 2 0 4 1-2 1-2 1 4 0 1 1-8 0 10 0-3 1-2 3-3 1-2 3 12 2-3 1-2 3-2 0 6 5-5 3-5 25 7-23 8-2-1-8 7 0-10-4 5-2-4-7 3-3-3-1 4 0 3-1 0-2-8 0 5 0-4 0 1 0-1-2 7 0-8 0 3 0-1-1 7-1 1-1-3-1-6 0 3-2 7 0-3-1-1 0-3-1 3 0-5-2 6-1 1 0 0 0-3-1-2 0 4-1 1-1-2 0-5 0 2-1 4 0 3 0-8-1 1 0 4 0 1 0-8-1 8-1 1-1-8 0 2-1 7-2-3 0 0 0 0-1-4-2-2-1 2-2 7-1-1 0-4-1-4-2 1-1 6 0-6 0-2-1 1-1 0 0 7 0 1-8-5-2 7-1-9-8-2-11 0 10 19 3 3 15-6 7 5 0 1 4-5 2 4 0-5 4 4 0-1 1-3 1 4 2-5 4 2 3 0 2 2 1-4 1-1 7 4 0-7 3 0 1 4 0 2 2 0 3-5 1 1 1 4 9-3-19 10-28 7-27-1" fill="none" stroke="none" marker-start="url(#mk1)" marker-mid="url(#mk1)" marker-end="url(#mk1)"/>
<path d="M459 1365l0-1-1-5-13 2-26 6-5-4-1-1-1-4 0-1-1 5-2 0-1 5-1-7-4-3 27 13-61 31 2-4" fill="none" stroke="none" marker-start="url(#mk4)" marker-mid="url(#mk4)" marker-end="url(#mk4)"/>
<path d="M461 1266l-27 11 41 4 1 1 3-1 14 13-1 0-2-7-4 5-4-8-1 9-1-8-1 0 0 10-1-4-4 5-1-3 0-3-5-4-3 4-2-1-1 4-3-1 0 2-2-5-19 11 9-2 6 1 0 4 3-3 3 0 1 6 0 0 1-8 2-1 0 5 0-4 0 0 3 7 1 1 1-9 1 9 0 0 0-8 1 10 0-5 1 3 0 1 1-10 0 1 2-1 0 2 0 1 1 1 0-2 1 8 0-9 0 3 1-3 0 8 0 0 1 1 0-5 0 1 4-2 0-2 18 2-7 7-1 7-1-3 0 6-4 2-2-3-1-9-2 0-1 3-2 2 0 3 0-7 0 3-1 5 0-4 0-4 0 3-1-1 0 6-1-9 0 8 0 4-1-12 0 10-1-5 0-2-1 9 0-9 0 7-1-9 0 8 0-4-1 3-1-4 0 4 0-1 0 1-1-5-1 3-1-1 0 7-1-5-1 1 0-6 0 6-1-5-7-1-2 7 0-1-5-5-1 9 1 9 7 1 1-6 0-1 1 8 4-11 4 2 0 10 1-6 1-3 1 2 1-4 0 6 1-1 1 2 3 3 1-5 8 3-12 5-1 6 0-8-3 1-2 0-33 16 44 14-5 15 8-1" fill="none" stroke="none" marker-start="url(#mk0)" marker-mid="url(#mk0)" marker-end="url(#mk0)"/>
<path d="M484 1331l-1 10-12 2-6 1 3 0 3 9 0-7 1 1 1 8 2-5 1 5 2-9 1 7 1 2 0-2 3-8 0 7 1-2 3-1 2-3 1 4 0-2 2 6 3-8 3 7 1 0 0 11-1 0-4-3 0-2-2 3-1 1-3-6 0 2-2 7 0 0-5 0 0-4-1-2-1 7 0-11-4 11-1 0-1-7 0 2-1-3 0 6-1-7-4 2 0-3 0 4-1 5 0 2-1-6-1 4-2-3-1-3 0 6-7-10 1 18 1-2 1-3 2 10 2-7 1-1 1 3 2-2 0-4 1 9 0 0 0-1 0-1 1-5 1 8 0-8 1 4 0-1 2-3 1 0 3 6 0-1 1-3 0 6 0-9 1 1 0 5 1-2 1 5 0-10 0 12 2-3 2-5 1 3 0-2 0 0 1-1 0-3 1 8 0 2 1-4 2-1 3 2 6 3 8-6-11 14-7 3-2-5-1 0 0-5-1 10-1-6 0-3-2 6-1-2 0-3-2 7 0-4-1-3 0 10 0-2-1 2 0-9-1 4 0-4 0 7-1-10 0 1 0 7 0-2-1 4-1 2 0-7-1-1 0 2-2 3-1-7-2 6-1 1-1-9-1 4 0-4-1 8 0-4-1 3 0 3-1-7-2 3 0 5-8-9-3 13 10 0 2-1 1 6 2-5 9 5 1 3 0-2 2 3 1-2 2 1 3-4 0-3 1 2 0-1 1-3 1 9 0-2 1-8 1 5 0-4 1 6 4 2 11-10-22 18-4-1-4-4" fill="none" stroke="none" marker-start="url(#mk2)" marker-mid="url(#mk2)" marker-end="url(#mk2)"/>
<path d="M362 1251l46 21 4 5 17 9-12 8-3-8-1 4-1 3-2 2-5-2-2 3-4-8-6 1 0 6-7-9 0 10-2-12-2 12-1-3-15 1-7 13 12 0 5-10 3 0 4 6 1 4 2-2 1-1 2 2 0-5 2-4 5 0 1 6 0-4 3-2 3 1 0 3 0 3 2 2 0-8 3-1 0 2 1 9 5-11 0 0 2 2 1 3 2 5 1-1 1-1 9 12-1 0-1-2-4-6-5 2-1 4-3-4-2 0-4 1-1-3-5 0 0 8-2-6 0 8-2-4-1 4-1-4 0 1-1 0 0-1-7 2 0-8 0 0-1 9-1-9 0 7 0-2 0-2-2 3 0 0-1-4 0 6-4-5 0-2-5 6-2-4-6 6-4-7-1 12 5 7 4-4 1-5 1 6 5-7 2 7 2 0 0-5 6 5 0-6 1 4 3 1 3 0 4-1 2 6 0-1 1-10 1 8 1-1 3-3 1 3 0 2 3-5 0 3 4-1 0 4 1-7 1 5 2-3 0 6 0-10 0 0 1 4 2-4 0 10 6 0 5-1 3 2-11 3-7 2-2 2 0-5-4 0-2 4 0-4-1 2-3 3-1 0 0 4-4-8-3 8-4-11-1 5-7 7-7-8 0 6-1-9-4 0-5 8 10 6 9 19-7-8" fill="none" stroke="none" marker-start="url(#mk1)" marker-mid="url(#mk1)" marker-end="url(#mk1)"/>
<path d="M408 1355l58 3-3 8-8-3-16 1-4-3-16-1-9 8-3-6-4 3-2-5-10 1 24 7-45 28" fill="none" stroke="none" marker-start="url(#mk4)" marker-mid="url(#mk4)" marker-end="url(#mk4)"/>
<path d="M523 1249l-59 20-5-5-2 12 1 3 11 5 1 0 1-10 0 8 12 0 11 7-7 5-1-5-9 1-1-6 0 10 0-6-2 7-5-3-3 4-5-9 0 2-2 3-1-6-6 7-3 1 2 11 3-5 2 6 0-7 1 4 0-1 2 5 0-2 0-4 2 5 0 1 0-6 1 6 1-8 0 7 0-10 2 2 0 10 0-5 1 3 0-1 0 0 1 1 0 2 0-6 1-2 1 6 2-2 0-1 0-3 1 8 0-9 0 8 0-9 1 9 1 0 1-2 1-8 1 6 0 3 0-7 1 8 0-1 1 1 0-10 1 6 5 1 0 1 1-2 2-2 10 5-8 14-3-10 0-1-1 2 0 0-2 8 0-10-3 3 0-4-1 9 0-5-2 7 0-5-2-1-1 4 0-8 0 4-2 3 0 3 0-8 0-2-2-1 0 11 0-8 0-3 0 9-1 0-1-9-2 5 0-3 0 4 0-2 0 0 0 1 0 1-1 4-1-5 0 7 0-7-1-4-1 7-1 2-1-8-3 6-1 0-1 1-2 1 0-4-2 0-3 0-1-3-1 14 9 6 6-9 0 2 0-2 0 0 1 1 2 1 2 0 3-3 0 2 0 1 1 0 0 3 3-3 2 5 6-9 0 5 7-5 4 3 2 10-16 5 0 1-2-2-2 5-4-7-3-2-11 3-2-2 12 14 15 12" fill="none" stroke="none" marker-start="url(#mk0)" marker-mid="url(#mk0)" marker-end="url(#mk0)"/>
<path d="M533 1327l-44 13-2-7-33 23 0-1 2-5 1 4 2 1 1-11 3 7 1 4 3-3 1-3 6 1 0 2 1 3 3 0 1-10 2 6 2 5 8-4 8 0 0 3 0-7 2 19-9-5-5-6 0 11-2-5-1-4 0 10-1-10 0 8-1-3 0 2-1 3 0-4 0-1-1-2-1 5-1 0 0 0 0 2 0-2 0-1-1-1-1 3-1-2 0-1 0-1 0 4-1-7 0 5-2 3-2-9-1 3-1-1-2 6-1-4-1 3-5-4-12 12 6 3 0-4 0 2 3 2 1-4 4 2 0 0 1-6 2 9 3-8 1 1 0-2 1 8 0-3 0-5 1 9 1-9 0 11 1-4 0 3 0-5 4 6 1 0 1-3 0-9 1 2 0 10 3-3 0 2 0-5 1 4 2-6 1 5 2 3 2-10 8 2 2 4 2 1-6 12-5 2-1-5-1-5-1 1-5 6 0-5-3 7 0-4 0-3 0 6 0-7-2 6-1-2 0 1-1 0-1 5 0-8-1 5 0-4 0 1-1 1 0-2-2-1 0 0 0-2-1-2-1 2 0 3-1 6-6-5-3 1-1-6-3 9-25 8 22-6 7 8 4-7 3 0 5 2 3-1 6 6 1-2 3-2 12 7-12 5-9-4-3 6-6-3-15 13 24-2 19 20" fill="none" stroke="none" marker-start="url(#mk2)" marker-mid="url(#mk2)" marker-end="url(#mk2)"/>
<path d="M410 1259l7-9-42 28 36-4 0 1 3-1 23 19-21 2-2-6-1 3-7-2 0 0-1-3-2-1-3-2-3 11-1-8-3 5-9-3-11 7-1-8-9 15 2 4 1-4 4 0 5-3 2 6 2-4 0-5 4 8 3-5 0-1 0 4 0 4 3-2 0-2 2-6 2 3 1 5 2-7 1 9 5-9 0 5 1 0 1 2 1 0 2-1 2 0 7-1 1-3 0-1 6 5 4 3 2-4 23 7-6-1-5 6-3 3-6-4-2-3-5 8-1 0 0-10-6 10-1-11-1 6 0-6-1 10-4-3-1-5-2-1-1 6 0-2-1 2-2 4-2 1-1-4 0 4 0-4-1-3 0 3-1 3-1-4-1-6-2 9-1-8-1 8-5-6-1-4-1 10-1-2-3-4-1 6-7 0-5-1-1-2-6-1-1 4 13 12 6-8 2 1 1 4 9 0 3-3 0-1 2-1 0 1 1-2 3 4 1 0 0 0 9-2 1 8 0 0 1-8 0 9 5-4 2-5 2 2 2 4 0 0 3-6 2-3 2 0 1 2 7 7-15 7-6-1-5-3-4 1 0 0-1 4-6-3 0 5-1-4-6 1-2-2-6 5-4-6 0 10-6-9 0 6-4-3-13-3 11 11 1 5 2 4 11-2 14-7 2 5 21 2-22 4" fill="none" stroke="none" marker-start="url(#mk1)" marker-mid="url(#mk1)" marker-end="url(#mk1)"/>
<path d="M400 1348l2 8 9-6 10 3 0-6 3 3 13 3 53 7-40 0-3 4-8-4-7 2-14-5-6 0-7 4 38 9-76 29 2-2 37 8" fill="none" stroke="none" marker-start="url(#mk4)" marker-mid="url(#mk4)" marker-end="url(#mk4)"/>
<path d="M457 1281l2-6 10 6 1-5 1 5 20 1 16 13-21-1-1-3-9-1-1-6-2 6-1 0 0-2-1 6 0 1-3-7 0 5-5 3 0-3 0 3-2-4-1 0-5 0-3 13 6-8 0 4 0-3 0 7 1 2 1-2 1-2 0-2 1 2 0 4 1-6 0 1 0 5 0-5 1 2 1 3 0-4 1-6 0 3 2 1 0-1 0 3 0-5 1-1 0 1 1 8 1-5 0 4 1-4 0 2 2 5 0-1 1-6 0 7 0-11 1 4 0 5 1 0 1-2 1 1 2-1 0 4 0-4 1 0 2-4 1 5 2-5 0 5 1 2 16-10-1 16-6-2-6 3-1-6-1 8-3-1-2 5 0-6 0-4-2 0-1 0 0 5-1 3 0-4-4-1-1-3-2 4-1-1 0-1 0-1 0 7-1 2 0-3-1 3 0-9 0 3-1-4 0 1-1 7-1-4 0-1 0 6 0-8 0 0-3 5 0-6 0 8-1-5 0 1-3-1-3 0-1 1 0-5 0 1-1 9-1-4-1-6-2 8-2-2-1 0-2-3 9 15 0 5 5-10 3 6 2-3 1-2 4 4 1 0 2 3 2-4 2-5 3 10 2-8 9 13-11 0-17-1-7 1-1-1-1-1-5-2" fill="none" stroke="none" marker-start="url(#mk0)" marker-mid="url(#mk0)" marker-end="url(#mk0)"/>
<path d="M461 1332l43 8-9 4-6-4-2-1-3 4-6-6-12 2-1-5-14 0 3 15 3-2 2 8 0-1 1-2 1-6 3 6 1-5 2 1 1 7 1 0 2-6 1 3 5-8 6 12 1-5 3 5 3-11 8 1 2 8 3 14-10 0-2-9-1 2-2-2 0 2-3-3 0 4 0 0-1 4 0-4 0 6-2-10-1 6-1-6-1 3 0-1-1 1-2-3-1-1-3 9 0 1 0-6-2 1 0 4-2-3-2 0-2 1 0 0-3-3-7 4-1-3-9 5-2 1-10-8 18 12 5-3 0 0 2 11 1-5 1-3 1 3 1-6 2 0 3 4 0 0 0 5 1 0 1-7 0-1 1 2 2 0 0 5 1-2 1-2 1-4 1 5 0 1 0 3 0-2 1-7 1 7 0-1 1 3 1-5 0-4 2 10 0-10 0 4 0 3 2-6 1 8 0-2 3-7 0 7 2-7 0 0 2 5 3-1 25-1-30 9 0 6-1 0 0-5-2 6-3-5 0 8-1-9-1 2-2 3 0-2-1-1-2 2 0-4 0-1 0 4-1-3 0 8 0-5 0 2-1-5-2-2 0 9-1-7 0 4 0 2-2-3-1 4-1 1 0-2-1-3-3-3-3 8 0-10-3 3-4 4-3 14 3-7 7 8 3-8 3 5 1-4 1-3 3 9 7 2 3-7 1-3 1 4 5-2 0-3 1 9 0-4 3-2 2 11-20 10-12-11-16 5-6 2 35 5 2-1 33 1" fill="none" stroke="none" marker-start="url(#mk2)" marker-mid="url(#mk2)" marker-end="url(#mk2)"/>
<path d="M393 1284l9-2 7 0 16 11-16-8-6 6-2-1-5-4-1 4-9 2 0 0-10 0-11-4 9 16 1 3 2-7 1 2 2-6 4 12 1-5 1 5 1-11 1 5 0 4 1-3 0-2 0 3 2 3 0-4 1 0 1-5 1 8 2-9 1 4 4 6 1-5 1 4 1 1 1-1 1-2 2 3 3-6 2 1 4 4 0-8 3 10 2-9 1 7 14-9 17 20 0 2-23-3-2-6-3 4-1 2-1 1-1-5-1 6 0-4-2 3-3 0-3-7-1 1-1 5-3-1-5-2-1 3 0 0-5-1-1 1-1-8 0 11-1-5-1-6-2 7-1-4-4 5-2 4-2-8-2 2-5 3-1-3-3-1 0 4 0-2-2-6-1 9-1 1-8-5-1 4 0-3-5-5 10 15 9-3 5 1 1 0 2-2 1 0 1 5 2 2 1 1 4-7 6 9 4-3 2-1 1-6 0 9 1-7 0 6 1-8 1 2 2 2 0 2 0-2 2-4 1 7 5-5 2 2 1-4 7 7 4-1 8-4 9 2-11 16-12 2-5-3-3-3-1-4 0 3-16 0-1-2 0-2 0 9-3-6-2 5-1 0-5-4-1-4-6 4-5-3-8 20 9-6 4-3 4 0 29 7 0 2 17-7" fill="none" stroke="none" marker-start="url(#mk1)" marker-mid="url(#mk1)" marker-end="url(#mk1)"/>
<path d="M647 1326l5-4 10 9 9 0 22 1-10 4-10 0 0 7-1-7-15-1-1 4-3 4-5 1-19 1 8 9 13-1 10-3 2-4 2 10 1-5 4-1 0 4 1 1 0-4 4 3 37 10-4 1-34 3-5-7 0-2-1 3-1-6 0 8-1-2-1-6 0 4-4-1-2 8-13-6-3 2-3 4-7-10 11 13 5 5 23 3" fill="none" stroke="none" marker-start="url(#mk4)" marker-mid="url(#mk4)" marker-end="url(#mk4)"/>
<path d="M718 1270l-18 8 2 5 5-3 1 4 0-9 2 8 0 0 2-7 2 0 1-3 3 4 3 7 1-3 0-5 9-4 0 11 8 0 10 3-7 4-6 2-1-1-1 1 0-1-1 2 0-3-1 2-1 0-3 1-2 0 0 2-2-9 0-1-1 3 0 5-3 0-1-7-1 8-1-9 0 2-1 4 0 0 0 4-1-11-1 6-1 4-1 2-1-10 0-2-2 12-1-11 0 7-1-3-7-2 0-1-3 6-13-5 12 15 4-1 0-3 2 1 0 8 3 0 1-10 0 8 1 0 3-2 1-6 1 10 0 0 0-7 1 3 0-1 1 5 0 0 0-8 0 9 1-1 1-5 0 2 1-4 1 7 0 0 1-11 1 7 1 1 0 1 1-7 1 2 0 2 0 1 4-6 2 0 1 5 2 1 0 2 5-9 6 0 10 1-6 17-13 3-5-5-1 0-5 7-2-1 0-3 0-6-2 0 0 4-2 1-1-3-2 1-3 6-3-8-4 3 0 12 8-2 5-3 3 8 3-6 6 2" fill="none" stroke="none" marker-start="url(#mk0)" marker-mid="url(#mk0)" marker-end="url(#mk0)"/>
<path d="M710 1301l12-1 21 8-18 6-5 9 4 6 1-1 0-2 2-2 1 7 4-7 3 2 5 6 6 10-1-5-3 5-7 0 0-7-3 3 0-2-1 6-4-3-1-6 0 8-1-8-1 3 0 5-1 3 0-1-5-3 0-1-3-6-4 2-5-2-4 4-2 7 2 3 8 6 0-1 4-4 1 2 1 4 0-2 0 0 1 3 1-5 0 4 0-1 1-7 0 10 1-10 0 7 1-3 0 1 1-5 1 10 2-2 2-8 0 8 0-10 1 6 0-5 5-1 3 10 2-6 1-2 4 6 1-7 3 5 7-6-4 17-3-4-6 10-1-9 0 1-1 2-1-4-2-1-1 1 0 3-2-2-2 7 0-6 0 6-1 1 0-4-1 5 0 1-1-9 0-2 0 1 0 4-1-3 0 3-1 0 0 5-1-7 0-1-1-3-1 8-1 0-1-4-1 2-1-4-1 0 0 3 0 2-1-2-1-4-3 10 0-7-1 6 0-4-2-3-3 17 4-4 1-2 2 7 1-8 4 0 0 5 2-2 0-4 1 6 0 4 0 0 3-2 0 3 0-6 1 7 3-10 1 2 1 5 2-2 0 0 1-5 0-2 1 1 1 11 1-7 1 3 1-4 2-3 9 15-10 1 0 0-3 5-1-7-1 0 0 5-3-3 0-3-1-1 0 10-2-9 0 6-5-4 0 3-2 2-1-7-2 8-1 1 0-7-7 6-2-8 2 14 1 0 6 3 8-3 0 0 5 7 2-3 2-4 5-3 17-1-39 21-13-4 10 7 12 3 16 0" fill="none" stroke="none" marker-start="url(#mk2)" marker-mid="url(#mk2)" marker-end="url(#mk2)"/>
<path d="M659 1235l-7 2 27 34-12-5-54 2 24 16 11-1 1-8 1-1 2 4 0-1 5-1 5 7 1-4 0 4 5-11 1 10 8-8 20 7 9 1 27 7-8-1-4 7-1-5-1 2-1 3-1-2-2-3 0 6-3-9 0 4-1 4-1-2-2-8-1 9-2-1-11 3-1-8-6 6-1 0-3-1-2 2-1-8-7 9-2-5-1-6-2 8-2 2-3 1 0-2-1-1 0 0-2-6-2-2-1 10-1-5-2 2 0 3-1-2-1-9 0 5 0-4 0 9-1 0 0 1 0 0-4-1 0 1-1-1 0-2-4-1 0-5-1 9-5-1-4-1-1 2 0-8 0 4-3 0 0 3-6-9-12 13 18 1 2-3 2 10 1-1 1-7 1-1 2 8 2-1 1-3 1 6 0-3 0-1 2-5 1 0 0-2 1 7 0-6 0 4 2 0 1 2 1 3 2-3 0-2 1 5 1-6 0 0 1 7 0-9 4 4 0 3 1 0 0-5 1 2 1-1 2 2 1-3 0 4 1 1 0 3 0-4 0-3 1 4 1-3 0 5 3-1 0-5 4 5 2-4 1-2 1 4 0-8 3 8 1-5 2 0 2 8 3-7 2 1 2 4 5-3 2-1 3-1 2 3 5-2 2 0 1-4 1 4 1 1 4 5 4-5 2 4 12-6 0 0 1 0 4 3-34 6-6 6-17-3 0 7-3-10-3 4-2-3-13 0-1-1-2 3 0 0 0 2-1-4 0 6-1-5-2 6-7-5-1 0 0-1 0-3 0 7-1-5-2 3-4-2-1 4-4-4-7-2-13 0 11 19 14-4 13-2 1-2 12 1-19 11" fill="none" stroke="none" marker-start="url(#mk1)" marker-mid="url(#mk1)" marker-end="url(#mk1)"/>
<path d="M669 1331l7-5 4 0 5 17-5-7-3 5-5-1-1-2-27-1-2 17 11-3 4-5 0 5 8-5 3 4 1-2 1 8 0-1 1 0 1-4 2-7 1 8 4 12-6 2-3-7-4 3-1 0-1-5 0 7-3-7-2 3-1 0-3-2-8-1-3 10-10 7 13-1 7-3 5 8 2-8 5 9" fill="none" stroke="none" marker-start="url(#mk4)" marker-mid="url(#mk4)" marker-end="url(#mk4)"/>
<path d="M714 1249l30 18-1-4-13 3-10-3-9 2-3 2-24 9 25 3 2-1 1 5 1-9 0 5 3-4 3 5 3-1 1 4 13 1 3-4 1-5-10 16 0 0-1 3 0-8-1-1 0 3-1 3-2 4 0-11-1 3 0 3 0-1-5 2 0 3-1-10-1 12 0-4-1-7 0 11 0-2 0-3-1 4-1-4-5 1-2-1-3 4-1 0-5 11 2-3 1 5 9-4 1 2 0-9 1 2 0 3 1-1 2-4 0 8 1-4 0-1 0-1 1-3 0 9 0-5 0 0 1 6 1-4 0 5 0-9 1 1 0 7 1-4 2-2 1 2 1 3 1-6 1-1 0 0 1 1 0 2 0 7 1-3 0-1 2-4 0 7 1-10 1 9 2-6 3 1 7-3-10 12-5 0 0 4-7-5-2-1 0 6-3-4-3 1-3 0-2-2-15 3-1 5 18 3 6 8 1-7" fill="none" stroke="none" marker-start="url(#mk0)" marker-mid="url(#mk0)" marker-end="url(#mk0)"/>
<path d="M735 1301l-9 10-4 7-4 1-7 12 7-4 4-1 7 6 21-9-7 18-6-3-1-5-1 2-5 1-1 2-5 4 0-7-1-2-2 7 0 2-1 2 0-6-4 3-1-4-3 1 0 3-5 0-2 6 5 8 0-3 2 2 0 2 3-1 2-3 3-6 0 10 1-4 0 1 1-6 1 7 0 0 0-4 1-3 0-1 2 4 0 4 1-3 2 2 0 2 1-7 0 1 2 6 4-3 6 3 3-5 10 4 4 0 8-7-14 15-8 5-3-6-2 2-1 0 0 0-1-7 0 8-3 4-2-11-1 5 0-5 0 9-2 1 0-9 0-2 0 7-1 2 0-8 0 9-1-4 0-2 0 6-1-4-1-6 0 9 0-2 0-4 0 4-3-4 0 4-1 4-2-7-1 4 0-2 0-1-2 4-1-2-1-2 0 2-2 1-2-2-3-4-3 1-19-2 21 16 3-4 1 4 4 0 2 2 1 4 0-4 3 3 2-6 2 5 1-1 1 2 2-7 0 4 0-5 1 6 1-6 0 4 0-4 1 10 1 0 1-12 3 5 4-3 10 8-4 4-7 9-1-8 0 4-6-7-1 5 0 4-1-7-1 9-1-3-1-6-2 1-1 1 0-3-1 3 0 1-1 6-2-4-2 0 0 2-1-4-2 3-2-5-4 0-1 4-3-1-10 5 25 7 1-5 1 4 4-3 7 7 0-6 0 3 10 0-27 13-5-5 30 25" fill="none" stroke="none" marker-start="url(#mk2)" marker-mid="url(#mk2)" marker-end="url(#mk2)"/>
<path d="M719 1268l-42-8-34 5-38 2 26 17 2-2 1 0 5 1 1-1 1 0 2 0 1 0 3-2 1-1 5 1 0-2 2 4 0-5 2 5 2-3 0-2 1 7 1-7 2 4 0-1 4-4 5 5 3 2 28-4 19 2 13 9-10-6-1 3-1 2-2-1-3 0 0 5 0-6-4 7-1-2-1-3-6 3-3-3-1 3 0 3-1-7-2 7-5-7-9 5-4 1-2-1-2-9-3 8 0-4-2-3-2 0-3 8-1-5-3-3-1 8 0-5-1 7-2-8 0 5-1 2-1-6-2 4-1-5 0 1-3 7-2-7-2 1-1 6-1-1-1-2-2-3-1-2 0 9-2-11-2 6-3 4 0-10-2 1-9-1 10 13 6 3 0 2 1-6 2 7 1 0 1 0 1-2 1 5 0-9 1 3 1 1 1 0 0 0 1 2 1-3 1-3 0 2 0 0 0-2 0 9 1-4 1-4 1-2 1 3 0 3 1-2 0 6 1-4 0 2 1-1 1-6 0 5 1 0 0 4 4-3 2 2 1 0 3-5 4 6 0-8 3 3 2-5 1 4 2-4 1 6 1 5 2-5 0-4 0 2 1-4 4 9 1-1 2-2 6-5 7 2 1 0 2 3 1 3 4-3 8 0 0-2 2-3 0 1 3 5-14 5-4 0-15 11-16-10-5 6-3-2-4 1-5-6-2 1 0 2 0-2-1-1-1 8-2 2 0-8-2 0-2-1-1 10 0-6-1-6-3 3-4 3-3-4 0 4-4-4 0 4-4-1-2 6-8-2 31 10 2-6 12-1 6 10 36-6-36 10-66 13 38 1 85-3-16 19-57-6" fill="none" stroke="none" marker-start="url(#mk1)" marker-mid="url(#mk1)" marker-end="url(#mk1)"/>
<path d="M680 1319l-11 0 20 9-10 7-3 2-5-2-1 7-5-7-1 7-2-1-8-2-3-3-1 3-4-1 1 16 1-4 7-3 0 5 1 0 2 0 6-8 1 5 1 3 1 1 8-5 5 18-1-4-1-2-1 3-3-5-3 0 0 1-1 9 0-7-9-4 0 2-4 0-5 4-7-3-1 2-4-2 29 11 10 0-15 18" fill="none" stroke="none" marker-start="url(#mk4)" marker-mid="url(#mk4)" marker-end="url(#mk4)"/>
<path d="M731 1254l-17 16-1-3-3 4-7 13 2-6 1 1 1 2 1-5 4-1 2-3 0 5 0 5 1-3 3-7 1 10 0 2 1-4 0-7 3 9 1-1 0-3 1 6 2-3 3-8 6 6 5 4-1 11-1 1-2-1-1 0-3-2 0-3 0 1-2-1-1-2-1 4 0 1-1-7 0 7 0-1 0 5-1-10-1 6-1 1-1 1 0-4-1 2-1-1 0-5-1 1 0 8-1-4 0-4-1 7-3-8-1 9-1-4-1-4-1-1-1 9-1-9-2 4-1 5 0-7-4 4 0-1-2-1 1 8 4 8 5-1 1 2 0-5 1 4 1-9 1 10 0-7 1 7 0-6 0 3 2-2 1-1 0 0 0-2 0 6 2-7 0 3 2 6 0-11 1 0 1 11 1-6 1-5 0 6 1-3 6 6 0-4 4-1-2 14 0-5-7 1-1-1 0 9-1-10-2 7-2-5 0 5-4 2 0 1-2-10-4 2-3-2-4 9-1-7-16 6 19 12 1-5 7 6 3 1 1-2 6-5 4 3 1-5" fill="none" stroke="none" marker-start="url(#mk0)" marker-mid="url(#mk0)" marker-end="url(#mk0)"/>
<path d="M670 1280l52 27 47 6-43 6 0-7-4 6-2-2-10-6-8 13 17 9 1-9 2 8 11-2 0 0 1-1 15-1 1 9-8 3-12-3-4 1-1 6 0-2-1-4-2-2-2 1-1 5-1-1-3 4-1-10-9 8-1 4 2-1 1 5 5-2 4 6 1 1 2-10 3 3 0 1 0 4 1-2 0-1 0 4 0-1 1-2 0-5 0 8 2 1 2-4 1 1 0 4 1-11 2 4 0 4 4 2 5-10 6 1 6-1-2 13-3 8-3-3-3 0 0 4 0-2-1-1-1-1-1 1-1-8 0 9 0-7-1-2-2 12 0-3-1-3 0-3-1 8-1-3-1-2 0-5-3 5 0 1 0-3-1-1 0 2 0-2-3-2 0 3-1 2 0-4-1 9-1-8 0 3 0 4-4-8 0 5 0 4-1-6-1-5-1 1-1 1-1 4 0-1-3-1-3 6-1 1-1-7-11 0 9 11 0-3 3 4 0-2 2-2 2 7 2 1 1-1 1-3 0-2 1 1 1 4 3-7 2 5 0-1 0 0 0-1 2 0 0 1 1-3 0 6 0-4 1 6 0-6 0 8 1-1 0 2 1-3 0-2 1-1 0-2 1-3 1 2 0 7 0-6 1 5 1-3 0 6 0-5 0-2 2 1 0-2 1 3 1 5 0-5 1-6 0-1 0 1 3 2 1 6 2 2 3 1 0-1 2-6 2 6 12-9-11 11-8 0 0 8-4-6-3 5-2-6-3-1 0 1 0 3 0 3-2-2-1-4-1 0-1 6-1-2-4-2-1-2 0 1-2-3 0 5-3 4-34 1-11 4 42 3 0-4 3 4 1-2 2 4 2-6 7 2 3 9 2-6 5 0 1 1 1-3 18 11-11-1-7 7-10-1-12 4-8-4" fill="none" stroke="none" marker-start="url(#mk2)" marker-mid="url(#mk2)" marker-end="url(#mk2)"/>
<path d="M670 1270l-9-4-28 16 2-3 2 2 0 2 8 1 4-1 2-8 1 0 1 9 3-6 1 0 0-5 3-1 9 7 17-5 9 8 9-2 7 3 37 9-18-3-4 2-2-1-1 6-1-2-5-8-8 8-4-8 0-1-2 9-4 1-3-4-2-6 0 8-9-7-12 7 0 1-3-8-3 8-1-8-1 6 0-4-1 3-2 3 0 0-1-3-2 4-1-1-1-8 0 5-3 3-4-2 0 2-1-1 0 1-1-3-2 3 0-6-1 2-1-2-3-2-1 3-1 2-2 1 0 2-2-8-4 5-4 1-8-6-2 2-7 6 11 13 3-6 5 5 0-4 1 4 2-4 2-6 1 4 2 0 1-1 2-3 1 4 0 4 1-3 0 7 2-11 0 3 1 7 0-2 1-1 0-3 1 2 0-5 1 4 2-4 2 1 0 8 0-10 1 5 1 1 0-6 0 10 1-1 0-3 0-5 1-1 0-1 1 4 0-1 1 4 2-3 1 3 3-1 0 4 0-1 1-3 0-5 6 8 1-3 0 4 1-3 1 2 1-8 2 5 8-1 0 3 16 1 1-2 2-6 6 7 1-3 3 0 0-3 15 7-5 8-30-3-2 0-3-1-3 2-10 1-2 2-4-4 0-2 0 5-6-4-6 7-1 4-3-12-9 10-1-4 0 3-1-5-1-2-2 3-3-1 0-1-2 5-5-3-16 7 27 11 10-10 4 0 2-1 16 3-21 11-40 7 21 14 77-7-20 22" fill="none" stroke="none" marker-start="url(#mk1)" marker-mid="url(#mk1)" marker-end="url(#mk1)"/>
<path d="M932 1314l-10 10 22 8-7 8 0-1-3-1-7-3-9 0 6 15 6 5 3 0 11 5-16 4-2-4-1 1-1-1-7 1-5 2 0 2-6-8-8 9-8 6 2 3 16-2 12-4 3 7 0 6-9 5-2-3-8-3 15 24" fill="none" stroke="none" marker-start="url(#mk4)" marker-mid="url(#mk4)" marker-end="url(#mk4)"/>
<path d="M954 1284l1-4 6 2 15 1 9 2-4 7-6 3-2-5 0 2-1 3-1-2 0-4-1 1 0 4-1-2 0 2-3-4-1 5-2-1-1-2 0 1-8 3-11 3 5 2 2 3 1-4 3 6 2 1 1-8 2-2 1 9 1-2 1-3 3-1 1 2 1 1 1 2 0-6 0 5 1-6 1 5 1-6 0 6 2-3 0 0 0 5 1-5 0 7 0-10 0 9 1-3 1 1 0-7 0 6 1 4 3-10 1 1 2 6 8 0-3 9-6 4-1-6 0-2-2 2-3 4 0-3-1 7-1-10 0 1 0 1 0 5-1-7 0 0 0 7-1-3 0-2 0 7 0-1 0-8-2-1-2 6 0-3-1 6-1-3 0 4-1-8 0 6-1 1 0-1-2-4-2-1-2 8-2-4-11 5 21 12 1-9 1 2 0 5 0-4 0 1 0-4 4-2 4 2 3-1 0 6 0-5 2-3 1 0 9 3" fill="none" stroke="none" marker-start="url(#mk0)" marker-mid="url(#mk0)" marker-end="url(#mk0)"/>
<path d="M983 1311l-6 7-8-2-2 2-64-10 63 19 6-1 2 6 3-6 2-1 1 2 0-1 2 1 1-3 0 1 5 4 1 0 0 0 1-8 0 5 10 7-3 8-7-7-4 3 0 0-2 5 0-5 0 1-1 1-1-1 0 1 0-2-1-4-1 5-1 4-6-4-2 0 0-1-1 4-2-2-6 1-3 1 3 13 5-4 0-1 1 7 1-8 0 1 1-3 0 8 1-4 0-3 0 7 1-3 1 2 1-2 0-3 1 2 0-1 4 0 0 2 1-6 1 8 0-3 0 6 1-6 1 0 0-3 1 2 0 1 0-3 0 5 1-3 0 4 0-5 0 8 1-10 0 3 1 6 0-4 0 3 0-1 1 1 1-5 1-2 3 7 1-4 2 3 4-3-6 10-2 1-1-1-1-3-2 4 0 2-1 1 0 4-3-10 0 0-3 5 0-5-1 0 0 5 0-4-1 4 0 1-1-6 0 1 0 0-1 1 0 4-1 2 0-4 0-6 0 1 0 2 0 5-1-4 0 4 0-6-1 1-1-2 0 10 0-1-1-1 0-4-1-4 0 4-1 0 0 1-2-3-1 7 0-10-1 3-1 0-2 7-5 14 0-11 7 5 0-1 3-3 0 4 4-5 0-1 1 9 2 1 1-1 0 1 1 2 1-7 0-4 0 7 1-5 0-1 0 9 1-1 1-6 1-2 0 1 1 2 0 0 0-3 2-2 0 8 0-6 2 0 0 8 1-8 1 4 0 4 0 0 1-7 0 7 3-10 5 4 0-1-3 21-4-2-2-8-8 8-1-7-1 4-1-3 0 5-1-5 0 3-1-1-1 6-1-11 0 5-1-5-16 15 11 3 13-5 0 4 0 1 1-7 1 8 0-7-9 18-3 4-8-4 22 18" fill="none" stroke="none" marker-start="url(#mk2)" marker-mid="url(#mk2)" marker-end="url(#mk2)"/>
<path d="M922 1268l-6-1 0 3-9 1-1-3-8 3-6 7 1 0 4 5 0-7 11 6 0 1 1 0 2-1 4-2 8 4 11-10 5 10-5 6-3 1-1-2-2 7-2-7-4 7 0-2-1-8 0 5 0 4 0-10-2 10-1-9-1 7-1-2 0 0-1 3 0-9-2 4 0 0-1-4-1 9-1-8 0 5 0 0-1-5 0 6-1-4-1 5-1 3-1 0-1-6-3 5 0-6-2 0-1-1-1 1 0 6-1-4-1-2 0 2-3-1-15 4-3-9 5 17 4 2 2 3 0-9 1 2 0 0 2-1 2 0 0 1 0 2 1 4 0-7 1 3 1 0 0 3 0-3 1-4 0 8 1-9 0 10 0 0 2-3 1-3 3-4 1 11 1-9 0 2 0 3 0 0 1-7 0 6 1-6 0 10 1-5 1-5 0 9 0-8 1 0 0 7 1 1 0-4 2 0 0 5 0-1 1-7 0 0 0 6 1 2 1-6 0 0 2 4 0-8 0 6 1-2 0-1 0 1 0 5 2 0 0-10 1 7 0-7 3 10 1-1 0-8 2 2 3 5 2-1 2 2 1 2 13-8-16 9-4 1-1 0 0 1-3 1 0 4 0-7-1 2-1-1 0 2-1 3-1-1-5-2-2 4-1-2-1 5 0-8 0-2-1 11-1-4-1-2-1-4-1 10-1-8 0-1-1 0-2 4 0 2-3-5 0 5-3-4 0-1-2 4 0 1-3-8-5 6-4 4-2 0 17 3 3 0 0 5 6-5 2 8 5-5 0 2 0-1 2-1 2 7 1-7 2 1 1-3 3 8 3-3 5-2-20 11-1-4" fill="none" stroke="none" marker-start="url(#mk1)" marker-mid="url(#mk1)" marker-end="url(#mk1)"/>
<path d="M945 1341l-14-1 0 2-13-3-5 0 0 1 22 13 1 2 6-6-24 12-10 6-15 11 0-9 8 10 1-2 3-8 2 11 2-6 1-6 14 3 8 9-19 6 0 4-2-9-46 47" fill="none" stroke="none" marker-start="url(#mk4)" marker-mid="url(#mk4)" marker-end="url(#mk4)"/>
<path d="M966 1282l2 1 2-4 23 15-5-2-1 2-1-1-5 2-1-2-3-3 0-3 0-1-3 7-2 0 0 0 0-1-2-5 0 8-1-4 0 2-1 1-2 1-1-4-3 3 0-7-1 0-6 17 3-3 0-4 1 1 0 8 0-8 1 5 1 2 0-6 1 6 0 1 0-9 1 3 0 7 0 0 1-5 0 6 1-9 0 2 1 0 1-2 0 0 2 3 1 3 0-6 1 4 0 2 0-7 0 8 0-9 0 3 0 1 0 2 1-1 2 4 1 1 1-5 1 0 3 2 0-4 1-1 1 3 2-5 2 5 0 3 1-6 1-1 1 4 46 18-48-10 0 4-1-5-8 4 0 5 0-8-1 2-2 3-1-1 0-3-1 5-1 3 0-4 0-5-1 8 0-2-2-6-2 7 0-8-1 9 0-4 0 3-1-3 0-3-1-2-2 3-2 5-1-4 0-3-1 5 0 1-6 0-1-4-2 5-38-5 47 12 2-3 3 1 2-1 3 0 0 5 0 6 1-7 2-2 6 0 2 0 4 5-29 6-6 4-1-2" fill="none" stroke="none" marker-start="url(#mk0)" marker-mid="url(#mk0)" marker-end="url(#mk0)"/>
<path d="M951 1304l40 3 3 6-6-1-10 4-2 3-15 13 0 0 4-2 1 2 4-10 4 4 1 0 2 0 2 2 4-6 1 0 21 16-14-5-5 2-2 6-2-6-2 0-1 4-1-3-1 6 0 2 0-4-1 1-1-5-4 1 0 1-1-1 0 5 0 1-8-3-2 1-18-6 19 21 1-4 1-6 3 6 1 2 2-5 0-4 1 8 0-3 1 1 1 4 0-2 0 1 2-7 1 1 0-2 4 1 1-2 0 4 0 5 0-1 0-5 1 1 0 0 3-1 0 5 1-3 0-3 5 3 0 5 1-2 1-3 2 5 2-7 1 13-7 5-2-3-1-3 0 5 0-5-1 4-3-3-1-4-2 10 0-1 0-7-1 4-1 5 0-7 0 2-2-7 0 3-1-1-1 4-1-1 0 4-1-3 0 0-2-5 0 0 0-1-2 7-2 4-1-5-2-5-12 15 6 7 4-6 0 1 5-2 2 8 0-10 1 10 0-3 1-8 0 7 0 1 2-5 0 6 1 2 2-5 0 3 1-3 1-3 1 2 0 2 1-3 0 6 2-10 1 10 2 1 1-11 0 7 0 1 0-7 2 8 0-1 1-8 1 4 2-2 3 0 3 15-8 5-1-5-1-2-1-3-1 7-1-6-2-1-1 10-2-2-2 0-1-6 0 3 0 3-1-1 0-4 0 5-1-3-7-2 0 5-9 9 11-4 1 2 3-1 0 5 3 0 0-1 0-4 4-1 5 5 1 2 0 4-1 2-6-1-8 1-5 0" fill="none" stroke="none" marker-start="url(#mk2)" marker-mid="url(#mk2)" marker-end="url(#mk2)"/>
<path d="M854 1254l26 27 5 0 4-2 3 0 7-3 2 8 1-2 6-7 2 1 7-2 1 10 13-7 9 6-10 1-1 10-1 0-1 2-2-2-3-3-1-4-5-2-1 0-1 8 0 2-1-1-2-6 0-3-1 7-1-3-1 3-2-1 0 0 0 5-1-10 0 10 0-10-1 3-1 2 0 1 0-1-1 3-1-9 0 6-1 4-4-10-2 8-1 0 0-4-1 3-2 2 0-4-3-4 0 6 0 1-2-3-1 6-6-4 2 14 1-9 3 11 3-10 1 8 1 0 0-7 4 1 0-2 1-1 0 5 1-2 0-3 1 5 0-5 2 5 3 2 1-4 1 8 0-3 0-1 1-5 0-1 1 0 0 5 0 2 0 0 1 0 3 1 0-5 0-3 0 8 1-7 2 9 0-1 1-1 1 1 0-1 0 1 1-1 0-4 1 3 0-3 1 6 0-8 1 2 0-5 1 11 1-6 0-4 1-1 0 3 0 3 12 2 7-2-11 11-3 4-4 0 0-5-1 2 0-3-5 3 0 1-1-1 0 0 0 0-2-6 0 4-1 1-2 1-1-2-1 3 0-2-1 2 0-1-3-5-1-2 0 10-1-10 0 10-1-9-2 1 0 5-1-5-1 7 0-1-1 2-2-4-2-5 0 0 0 0-1 4-3 5-19-4 10 10 5 1 1 6 1-2 2-2 1-6 6 7 2-8 5 0 2 1 8 8 3-2 0 3 2-9 0 1 10 3 15 3-32 14-10 1" fill="none" stroke="none" marker-start="url(#mk1)" marker-mid="url(#mk1)" marker-end="url(#mk1)"/>
<path d="M920 1329l26 0-5 12-7 2-8 1-19 10 14-5 10 1 2 5 0-8 1 7 0 1 3-11 1 9 4-9 3 10-10 13-8-5-10-3-7 8-4-4-2 1-18 7 12-2 5-1 3 4 15 4 2 4-7 6-4-2-1 3-6 2 0-4 2 8" fill="none" stroke="none" marker-start="url(#mk4)" marker-mid="url(#mk4)" marker-end="url(#mk4)"/>
<path d="M950 1277l3 3 11-1 1 4 4-5 5-4 3 5 2 0 0 8-1 9-2-7 0 4-2-2-2 1-2-2-2 4-1-6-1 6 0-3-1 3-1 2 0-10-12 10-5-8 3 18 2-1 1 0 2-8 0 9 3-4 2-2 1 3 0-2 1-4 0 2 1 7 1-8 1 0 0 3 0 3 0 2 0-8 1 6 0-8 1 9 1-3 1 4 0-5 1 4 1 0 1-4 0 2 0-2 1-3 0 4 0 3 1-7 0 4 0-5 1 2 0 4 1-5 2 6 0 1 0-2 1-6 0 9 0-1 1 1 0-5 2 5 2 0 4-5 2-2 3 7 7-7-20 18-1-7-1 0 0 5-1 1-1-4-1 7-1-8-3 0-1 5 0-6 0 6-1 0 0-5-1 1 0-3-2 4 0-5-1 2 0 10-1-11-1 10-1-10-1 4-1 2 0-7-1 1-3 4-4-3-4 0 18 11 0 11 3-4 0-3 1-2 1 0 4-1 1 8-13 24-7 51" fill="none" stroke="none" marker-start="url(#mk0)" marker-mid="url(#mk0)" marker-end="url(#mk0)"/>
<path d="M974 1306l20 5-2 5-11-6-25 3 11 18 1 0 5-2 1-2 0-1 2 0 1-1 12 6 8 6-2 1-1-5-9 6 0 1-3-1 0-7-2 7-2-5-1 9 0-8-2 3-1 0-5 4-2-3-5 1-2 5 1 4 5-2 1 5 0-3 0-3 2 0 1 9 1-8 0 3 1-2 2 7 0-10 0 1 1 0 1 9 0-6 1 1 0-2 1 5 2-4 0 5 1 0 0 0 3 1 0-2 1-1 1 4 0-7 1 6 2-2 1-3 2 2 0 3 1-10 2 8 28 15-35-2-1-3-1 2-1 2-2-6-1 3 0-1-1-2 0-1 0 1-3-5-1 8-1-1 0 5-1-4 0-6 0 3-1-3 0 10-1-9 0 4 0 5 0-1-3-8-1 7 0-9 0 2 0 3-1 4-3-2-2-1-4 1-2-1-6 6 6 7 6-1 2-4 1-2 1 2 0 5 3-3 1 4 1 1 2-9 1 10 0-3 0-4 1 0 1-3 0 1 0 6 0-4 1-1 1 3 1-4 1-2 0 7 3-2 0-3 1 4 0 0 1 5 1-6 2 2 1-5 1 4 1 4 3-7 24 11-18 1-9 6-2-7-2 8-2-3-1 3 0-7-2 8-2-1 0-7-1-3 0 8-1-2-2 5-1-8 0 4-3-4-1-1-2 10-3-5-6 1-1-2 10 10 2 4 2-7 0 3 1-3 11 11 2-4 0 4 7-9 15 10-19 0-1 6-26 7-5 13" fill="none" stroke="none" marker-start="url(#mk2)" marker-mid="url(#mk2)" marker-end="url(#mk2)"/>
<path d="M917 1269l-23 3-13 1 21 5 0-2 2 7 4-2 2 0 2 2 2-9 8 8 2 0 2-4 0 4 0 0 2-4 5 1-3 14-2-7-3 9 0-8 0 7-1-7-1 7 0-10-1 11-1-6-1-3-1 8-1-6-1 1 0 2-1-1-1-2 0-1 0 2-1 5-2-7-2 6 0-1-1-2-1 1-1-2 0-4 0 5-1 1 0-5 0 7 0-4-1 1 0-6 0 4-2-2-1 1-1 7-1 0 0-6-1 1-4 5-1-5-3 6-2-7-1 2-3 2-4-1-5 5-5-2 10 5 6-3 3 12 1-3 1 1 1-2 1-1 1 1 1 1 1-4 0-3 2 5 1 2 0-2 1 1 0-8 0 6 1-4 0 5 0 1 1-4 1-3 1 7 0-1 0 2 0 2 0-1 1-4 1-3 0 3 1 0 0-1 0 6 0-1 1-5 0 1 1-2 2 8 2-7 0 4 0-5 2-3 0 0 0 7 1-4 0 7 2 0 0-6 1-1 1 2 1 4 1 2 0-9 0 8 1-9 0 6 1-2 2-3 1-2 1 10 1-8 2 3 1 2 3 2 0 5-1 5-4-7-1-1-1 1-6 5-2-4-2 0-2 0-1 3-2 5 0-9-3 1-1 4 0 2-2 1-1 1 0-4 0 5-2-6 0 2 0-4 0-2-1 9-1-1 0-6 0 1 0-3-1 2-1 4 0 0-2-6-2 4 0 0-2 7-1-1-3-7 0 7-4-9-1 7-1-5-14-2-20 5 34 13 1-4 5-1 1 0 9 0 0 5 3-5 7 0 4 5 1-2 1 3 1-8 2 4 0 2 3-7 4 6-21 11" fill="none" stroke="none" marker-start="url(#mk1)" marker-mid="url(#mk1)" marker-end="url(#mk1)"/>
<path d="M176 1593l5 5-5 1-5 1-17 4-11 0-7 8 1 7 5 0 8 0 2-3 1-8 4 2 2 1 0 9 8-4 1-4 2 6 0-2 5 1 3-1 2-3 5 1 12 17-6-8-10 4 0 4-1 0-3-3-2-3-2 6-2 0-3-7 0 6-1-2-1-6-1 4 0 6-1-6-1 6-2-5 0-3 0 7-2-7 0-2-3 10 0-7-1-3 0-1-1 1-1 3 0 6-2-1-1-1-4 0-2 3-2-1-2-4-1 4-1 0-5-2-3-5-4 3 0 4 0-7 0 0-16 1-1 8 5 6 5-1 1 2 1-5 6-1 1 6 0-3 6 1 0-2 1 1 1 2 2 4 0-3 1-8 1 6 0 5 0-10 1 5 0-3 0 7 2-6 1 2 3 3 0-8 1 4 3 6 1-9 1 8 0-7 0 3 1 0 0-3 1 2 0 5 0-6 1-1 1 0 0 1 1 3 0-1 1 0 3-2 0 1 2 3 0-4 1 3 0-1 0 5 0-7 7 1 1-3 0 6 4 0 1 2 1-10 3 1 10 14-10-1-5-2-6 6-6 5-1 1-1-11-3 5 0 2-1 3 0-11-1 7 0-5-1-2-1 5-1 1 0 1-2 4 0-3-2 4-2-3-1-3-1 6-2-3-1-4-3 6-1-10-1 2-1 5 0 3 0-3 0-5-1-3 0 4-1 7 0 0-1-10 0 2-1 8 0-8-2-2 0 1-2 0-1 8-1-4-1-6-1 2-4 1-26 13 14-3 12 2 2 8 1 0 1-5 3-3 0 7 1-9 2 2 3-2 1 4 1 2 2-7 1 2 1 1 1 2 0-4 2 5 2-2 1 1 1-2 2 5 1-7 1-1 2 11 5-7 2-2 1 7 2-3 0 3 3 3 0-3 3-4 2 6 1-10 12 7 0-8 14 10-20 13-5-9-6 3-3 4-1-8-6 6-3-5 0 10-2-7-2 6-11-2-5-5-1 2-3 1-13-4-6 14 24-1 1-2-30 12" fill="none" stroke="none" marker-start="url(#mk4)" marker-mid="url(#mk4)" marker-end="url(#mk4)"/>
<path d="M184 1543l18 4 10-10 3 11 2-1 2-2 0 2 1 0 9-5 10 17-10-1 0-4-1-1-1 4-4 1-3-8-1 3 0 7-1-2 0-3 0-7-1 8 0-4-3 3-1 3-1-9-2 5-10 0-10 7 12 2 7 0 1 8 1-6 1 0 1 2 3-6 1 3 0 7 1-11 0 2 1 0 3 7 0 1 1-7 1 8 1-8 1 6 0-7 0 6 1-6 0 1 0 0 1 0 1 0 1 6 2-2 0 1 1 1 1-8 1-1 1 2 0 9 0-4 1 0 0-1 1 6 9 7-8-4-1 4 0 3-2-1-1-3 0-2-1-1-1 4 0 1-1-3-1-2-1-3-3 8 0-6 0 5-1-5 0 3-1-2-1 7-1-3-1-5-1 1-1-1 0 5-1 0 0 0-1-6 0 0 0 7-2-8-1 10-1-2 0-8-1 10-2-1-5-7-3 15 15-3 1-1 1 9 2-8 3 9 2-9 0 3 1 7 0-10 1 1 2 0 2-2 0 3 3-2 0 0 0 4 1-5 0 8 2-7 2 5 7 16-5-6-4 3 0-1-3-1 0-3-4 6-2-5-1 0-4-2-2 2-1-2-2 4 0-4-1 1-8-3 18 14 1 4" fill="none" stroke="none" marker-start="url(#mk0)" marker-mid="url(#mk0)" marker-end="url(#mk0)"/>
<path d="M197 1594l52-2 17-1-31 9-7 2-4 4-66 0 59 12 6-5 8 4 1-1 0 2 4 2 10-5 6 5-1 4-3-4-1 5-2 1-2-4 0 7-2-1 0-5-2 6-2-4-2 2 0 5 0 0-1-10-2 9-1-3-1-2-1 2 0 2-1-9 0 3-1 1 0-4 0 3 0-4-1 11-2-10-1 3 0 2-2-4-1 7-2-6-3 5-9 13 5-8 3 8 4 2 1 0 2-5 0-1 0 2 0 2 1-4 2-1 1-3 0 7 1-4 0 3 1-3 2-1 3 9 1-6 1-1 0 1 1 4 1-10 0 7 1 4 1-3 1-1 0 1 3-1 1-1 1-1 1 4 0-7 1 9 2 8-2-4-1 2-2-2-2-3-1 4 0 3 0 0 0 2 0-6 0 1-3 4 0-4 0-2-1 5 0-6 0 10-1 0 0-6-1 1-1 1 0-7-1 6 0-4-1 4 0 6 0-4 0 1-1-5 0 5 0 2-1-3 0-5 0 4-2 0 0 3-2 2 0 0-1 0 0-5 0 2-1 1-1-9 0 3 0 8 0-9-4 9-1-8-1-1-19 2-11 16 24 0 0-3 7 4 0 2 2-1 1-2 1-4 2-1 0 0 0 5 0-6 1 0 0-1 1 0 1 8 0-5 1 7 2-11 1 0 1 4 0 3 1 0 1 0 0-6 0 3 0-2 0 8 1-1 0-2 0 2 0 2 0-2 1-7 0 0 1 0 0 5 0-2 0-4 1 7 0-5 0 8 1-7 0-2 4 2 1-1 2 3 9 13-2 4-5-1-1 0 0-5-1 0 0-2-2 4-1-6-1 1-2-2-1 1 0 4-1-3 0-1-1 2-2 4-1-2-1-3-1 5 0-2 0 2 0-5-2 6 0 1 0-7-1 5 0 3-1-7-1 0-1 0-1-2-1 0-2 10-6-5-1-2-5 4-14-5 16 17 7-4 3 4 1-3 1 0 1-3 1-2 1-1 0 10 0 0 1 1 0-3 1 0 0 2 2-9 0 9 2-8 0 2 1 3 2-4 1 0 2 4 1 1 3-1 1 1 1 2 0 1 1-2 3 0 1-1 29 8-5-1-28 0-3 0-1 0-2 0-4 5-1-3 0 1-1-4-2 0-3-1-2 8 0-8-1 7-1-5-1-1-35 1 31 13 1 3 1-6 0 8 0-7 2 2 6 2 3 3 1-3 3 4 2-4 0-4 1 0 1 5-1 5-19 11-29 2 39 4 6-2 31 6" fill="none" stroke="none" marker-start="url(#mk3)" marker-mid="url(#mk3)" marker-end="url(#mk3)"/>
<path d="M149 1535l-17 0-2-10-1 5-18 6-33 9 9-4 5-4 1 7 16 0 5 0 3 0 0 2 5 0 0-4 0 4 2 1 3 0 3-9 0 5 0-6 0 6 2 3 0-4 1 3 3-5 3 4 2-2 6 0 3 3 25 2-4 3-11 1-1 0-3 4-1-4-1 5-4 3-1-6-2-3 0 3 0 1 0 0-3 1 0 5 0-7-2 2-4 5-1-7-1-4 0 7-2-5-1 7-1-4 0-6 0 10-1-6-1 6-1-6-1 0 0 2-1 3 0-9-2 2-2 10-3 0-1-2-1-5-1 3-1 0-4-3 0-4-2 4-3 7 0-3-3-7-3 3 0-5-3 5-2-2-4 1-5 1-7 17 3 0 3-7 8 3 3-1 3 3 2-5 1 4 1-3 2 5 0-2 0-1 0 3 1 2 0-9 1 3 0 0 0 3 2-1 1 1 0-7 1 4 2-5 0 3 0 4 4-6 0 3 1 1 1 6 2-5 0 6 1-1 0-6 1-2 1 8 4-1 0-9 1 0 0 3 1 6 1-6 0 3 4 1 0 0 1-4 1-1 0 2 0-1 0 6 2-2 0 1 1-4 0 0 0 2 0 4 1-10 1 8 0-9 1 3 1-1 1 2 2 5 2-4 4-3 1 6 2-7 3 6 10 1 9 3 18 10-25-6-7-2-3 2-2 5 0-6-3-1-1 4-7-1 0 3-1 1-2 2-3-10-1 3-1-1 0 3-1 0 0-4 0 1-1 5-2 0-1 3-2 2 0-8-1 0-1 3-2 0-1-4 0 1 0 7-1-9 0 9 0-7-1 2 0 4 0-5-1 0 0-4 0 3-1-3 0 0-1 5-1 0-1-1 0 0-2 1-1-4-1 0-1 9-1 0 0-5-2-5 0 6-2 1-1-6-2 5 0-5 0 3-6-5 0 6-2 0-1 0 0 3-6-3-3 0-1 5 0-4-1 4-2-3-2-7 1 12 5 0 4 4 16-2 2 0 1 7 5-9 0 6 0-2 0-4 1 4 2-4 2 1 2 7 1-8 1 1 1 3 2-3 0 10 1-7 0-3 0 4 1 4 1-4 2 3 1-9 3 5 2-2 0 7 9-2 2-3 15 4-16 12-1-2-27-4-4 1-1 1-10 1-11-2-33 7 43 8 11 0 2-3 6-4 7 1 8 2 12 7 7 1" fill="none" stroke="none" marker-start="url(#mk1)" marker-mid="url(#mk1)" marker-end="url(#mk1)"/>
<path d="M170 1594l5 13-11 0-1-11-3 11-1 0-3-11-3 7-30 10 7 0 31 5 2 2 1-7 4 6 5-9 0 1 1 4 1-4 3 4 0-6 11 10 14-1 0 5-8-1-6 7-5-3-6-1-1 5-4-3-2-7-3 4-1 3 0-2-2 7-3-2 0-4-3-2-1 8-1-12-3 3 0 2-1 1 0-1 0-5-1 2-1 0 0 4-1-5-1 9-3-10 0 4 0 0-1 0-1-2 0 2-2 7 0-2 0-2-1 3-2-3-3-4-1 5-2 3-9-4-4 5-6 9 4-3 3-2 6-1 0 1 4 3 4-1 4 1 0 1 3-2 1-2 1 3 0-5 1 10 0-11 2 9 1-4 1-2 1 7 0-1 1 2 1-7 1-2 0-3 2 11 1-8 0 0 1 7 0-2 3 1 0-4 1 0 1-1 0 1 3 2 0 1 0-5 3-1 2 8 0-2 2-2 2-5 2 1 2 4 2-5 1 3 1 5 0-4 0-1 1 0 0-4 5 2 1 1 4 9 0-5-4 7-4 3-3-2-3 1-2 2-2-3-2-2-4 5 0-5-1 11-3-8 0-2-1 4-1 5 0-8 0-1 0 9-3-7-3-2 0-1 0 5-1 1 0-7-1 11 0-5-1 1 0-2-1 5 0-5-1 1 0-3-1-3-1 12-1-5-1-5 0 9-1-1 0-9-2 5-2 3 0 3-1-9 0 1-1 4-2 2 0 1 0-2-1-9-1 1-1 4 0-4 0 8-1-5-1 4-4-6 0-2 0 12-5 0-1-4-17 7 10-2 9 7 2-8 0 11 1 1 0-9 2 2 1 5 0-1 0-4 1-4 1 1 0-2 0 5 0-1 1 6 2-8 1 4 1 2 1-8 0 7 0-1 2 1 2-5 1 3 1 3 0-6 2 1 2 6 0-9 4 3 2-2 0 4 2-4 0 0 0 4 1-1 1-2 1 1 3-1 4-1 2 1 8 7-9 11-2 4-5-2-2-9-9 7-1-3-4-1-3 0-1 4 0-3 0 0-8 1-5-2-6 3-5 3-1-8-1 0-5 4-8-3-3 0 21 10 6 10 8-5 5-5 4 1 16-2 20 39" fill="none" stroke="none" marker-start="url(#mk4)" marker-mid="url(#mk4)" marker-end="url(#mk4)"/>
<path d="M221 1527l-1 9-10-7 0 3-11-4 4 18 6-1 1-3 5-6 3 9 4 1 2 1 1-4 38 15-26-4 0-4-6-1-3 1-6 7-5-7-1 9-1-5-2 4-2-2-2 0 0 3-2-9-3 9 2 2 3 9 2-4 0 3 2-4 2 2 2 1 1-5 3 3 2 5 0-5 0 4 1-8 0 9 1-3 1 1 0-5 0 6 2-5 0 3 0 4 2-12 1 5 1 7 1 0 0-6 1-1 8 4 2 2 2 0-4 8-2 5 0-5-1 4 0-4-1-1-1-3-3 2-2-4-1 1-1 5 0-7-2 10-2-1 0 2-1-2-1 1 0-7-1 2 0-3-1 5 0-6-2-1-2 2-2 2-1 2 0 1-1-3-4 0-1-1 0 3-13 14 7 0 14 3 0-9 4 1 1 2 1 3 2 0 2-3 1-3 1 0 3 3 1-1 0 6 2-6 4-4 1 4 8 6 11 6-4 4 0 2-12-3-1 0-1 4-2-6-1 0-1 2 0 3-2-5-8 0-1-4 0 3-9 3 0-3 15 10 1 5 30 12" fill="none" stroke="none" marker-start="url(#mk0)" marker-mid="url(#mk0)" marker-end="url(#mk0)"/>
<path d="M215 1579l35 22-8 2-18-2-8 12 8 0 0 3 2-4 1 5 0-1 1 4 2-10 6-1 5 1 6 9 1 13-1-5-8 4-4-4-1 3 0-3-4 5-1-2 0 0-1-10-2 11-2-7-1 7-4 0-1-6-2-2-14 1 0 14 12 2 4 0 1 1 4-6 1 8 0-9 1 8 0-9 1 6 1-1 1 3 2 2 0-9 1 7 0 1 2-4 0 0 0-1 2 1 0-6 3 4 0 0 4 3 1-2 12 5-11 5-1 8-1-7 0-1-2 5-1-1-1 5 0-11-1 8 0-7 0 5-1-1 0 3-1-3 0 3-1 0 0-5-1-4-1 4 0 1 0-2 0 4-1-3-2 1 0 6 0-9 0 2 0 1-1 4 0-2-1-3 0 4 0-7 0 0 0-1-1 4 0-2-1 8 0-10-3 4 0-1-1 9 0-11-2 4 0 4 0-4-1-3 0 1-1 1-29 0 10 9 12-1 1 3 5 0 7 0 0 7 0-4 0 5 1-1 1-2 0-7 1 7 0-3 0-1 0-3 0 11 1-12 0 8 0 0 1 0 0-3 1-2 0 6 1 1 0-10 0 0 1 10 0-5 1 2 1-1 0-4 1 3 1-3 0 3 1 4 0-8 2 2 0 1 1 4 2-6 0 1 1 2 8-2 2 10-1 11-1-2-2-6-4 3-1 2 0 3-1-11 0 8-1 1-1-4 0 0-1 5 0-3 0 3 0-2-1 0 0-3-1-3-1 0 0 3 0-2 0-3-1 7 0 0 0 0-1-5-2 8 0 1 0-3-1 1 0 1 0-3-1 4 0-1-1-11 0 8-1-1 0-3-2-1-3 6 0 3-1-11 0 7-1 3 0-6-1-1 0 6-5 0-8 0 4 12 3-8 4 3 5 6 0-1 2-3 1 3 2-2 0 1 1 0 1-3 0 2 0-6 2 4 2-4 1 4 0-6 1 1 0 8 2-8 0 1 0 6 0 0 2-4 1 3 1-3 1 2 1-2 0 12-4-3-3 4-1 0-1-4 0-1-2 1-1 3-1-2 0 2-1 7 0-2-1-3-2-4-4 6-2-5-30 1 12 15 8 2 9-9 1 3 0 1 5 1 1 5 1-5 4 3 2 4 0-10 4 3 5 1-17 16 8 6 2-2" fill="none" stroke="none" marker-start="url(#mk3)" marker-mid="url(#mk3)" marker-end="url(#mk3)"/>
<path d="M129 1521l16-5-2 19-6-3-12 0-2 3-9-2-7-6-18 10 7 6 16 1 3 0 0-6 8 8 0-2 0-3 4-1 2 7 4-4 7 3 1-6 2-1 4 7 0-6 1 1 3-3 45 15-22-5-3 2-5 4-1 5-1 0-1-4 0-4 0 7-8-1-3 1-1-5-1 0 0 3-1 1-3-1-3-2 0 5-1-7-2 3-1 2 0-3-3 6 0-7-4-2-1-1 0 2-2 3 0 4-1-3-1 0-2-7-2 2-1 3-2 1-2 2 0-1-1-2 0 2-1-2-2-4-2 4-2 6-1-12-1 9-1 1-1 2 0-1-3-11 0 10-2-6-1 0-1 7-7-5-4 4-5-6-3 11 12 8 2-5 4-3 0 2 2-2 1 4 3 5 3-1 2-10 0 2 3 2 0 0 0 4 2 2 0-5 1 6 1-5 0 0 1-3 0 2 1-6 2 6 1-5 1 7 1-6 1 0 0 9 1-1 1-4 1 1 0 0 1-6 1 2 1 5 3-5 1 1 1-3 0 4 0-4 1 11 1-6 0-2 0 3 1-2 0-4 1 11 0-11 1 3 1 0 2 2 5 2 0 1 3-6 1-1 3 3 0-2 3 5 2-2 5 4 31-8-17 19-23 1-2-8 0 3 0-2-1 8-1-7-1 7-2-6-1-4 0 11-1-3-1 2-4-4 0 4-2 0-2-10-1 6-1 1-3-7-2 7 0-5-1 4-1-7 0 4-2-3-1 1-1 5 0-4-1 5-1 2-1-2-1-1 0 0-1-3 0 0-1 4-4-8 0 4 0 0-2-1-1 4-1-1 0 5-3-7-1 8 0-1-1-9-2 2-1 4 0 2-5-8-2-1-1 5-6 0-5 9 9 4 6-4 14 4 0 2 3 0 1-6 3-2 0 2 2 0 0 8 1-8 0 1 2-3 3 4 1 6 5-4 1-3 0 2 2-1 2 7 3-4 4-8 0 1 1 1 1 2 1 8 6-11 8 14-10-1-1 3-8-3-9 1-1-1-4 2 0-1-3-1-2 4 0 4-2-8-4 4-4-4-5 3 0 7-6-3-22 11 30-4 1-3 17 4 1 0 23 9-22 1" fill="none" stroke="none" marker-start="url(#mk1)" marker-mid="url(#mk1)" marker-end="url(#mk1)"/>
<path d="M178 1583l-20 11 8 12 0-1-4-3-12 5-1-1-6 1-8 0-45 11 29-1 14 0 1-8 6 9 0-9 1 4 3-3 1 9 2-1 1-2 0 2 3 0 1-5 1 5 4-4 2 6 1-9 1 6 6-8 6 9 3-6 8 8 9 7-5-4-4 4 0-6-4 2 0 0-4 7-2-7-5 2-1 5-1-5-3 2 0 5-4-8 0 1-1 3-1 0-1-2 0-2 0 0-1 6-1 1-1-8 0 4-2-3 0 8 0-8-4 5 0-9-5 6-1-6-22 6-7-3-1 21 4-10 1 4 8 5 1-5 2-1 0 1 2 2 3 2 1-5 1 2 0-3 2-1 0 1 1 5 0 1 2-1 1-4 0 4 0 0 3-6 1 1 1-1 1 4 1-1 1 2 1-7 0 3 1 3 2-3 0 6 1-2 1 1 0-4 0-5 0 5 1-1 0 4 1-3 1-3 1 0 3 7 0 1 0-9 1 9 2-6 2 0 0 7 2-11 1 11 1-1 1-3 4-6 4 4 0 3 1 4 16-3-5 5-3 2-16 0-9 1 0 1-1 3-1 1 0-9-2 3 0 8-1-9 0 4 0 5-1-9 0 9-2-8-3-1 0-1-1 4-1 5-1-8 0 4 0-4-3 4-1 1 0-4 0-3-1 9 0-2-1-2-1 5-1-1-1-8-2 7-1-3 0-2-1 5 0 1-2-2 0-3-1 4 0-3 0 2 0-7-2 8 0-7-4 1 0 5-4-7 0 10-1 0-1-4-3-7-2 8-3 0 3 5 5 4 4 5 3-10 3 6 0-3 4 3 4-3 1 1 1 3 2-6 1-1 1 3 2-1 1-1 2 3 0-2 3 10 5-1 13 0 3-5 5-6 27 14-31 10-3-5-6 3-1-5-1-3-8-1-4 0 0 9-11-10 0 5-5-3-6 6-1 0-3-6-5 1-7 7-12-2 24 14 4 0 13-5" fill="none" stroke="none" marker-start="url(#mk4)" marker-mid="url(#mk4)" marker-end="url(#mk4)"/>
<path d="M265 1526l-51 8-10 12 0-7 4 5 0-6 3 6 0-7 3 3 0 8 2-5 13-3 24-1-20 20-1-5-5 6-4 0 0 0-1-6-2 5 0-6-3-3-1 9 0-4-3-2-6 3-9-4 3 8 3 3 2 8 6-5 2 3 3 0 1-3 0-4 0 10 0-3 0 2 1-2 2-8 1 0 0 1 2 4 0 4 0-6 1 0 1 7 1 0 3-1 1-8 2 3 0-3 26 10 22 3-35 8-10-6 0 1-4 0-1-1-2-4 0 9 0-1 0-4-2 0-2 3 0 0 0-6-1-2 0 11-1-5 0 2 0-4-2-1-1-1 0-1-2 0-1 4 0 1-1-1-2-3-4 5-10-4-1 9 10 9 6-8 5 0 1 9 0-3 0-6 3 1 3 2 0-4 5 6 1 5 0 0 0-4 2-4 3 6 0-3 0-1 2 6 2-5 0 7-5-1-5 5-4-2 0 0-8 0 23 11 6 13-6-2-24 8" fill="none" stroke="none" marker-start="url(#mk0)" marker-mid="url(#mk0)" marker-end="url(#mk0)"/>
<path d="M222 1544l37 26-8 38-2-11-9 3-2-1-12 15 2 4 1 1 0-1 1 2 1-7 1 6 4-7 1 1 15-2 1 7-7 4-1 4-5-4-3 3-1 3 0 0-3 0 0-6 0 9-1-5-2 5 0-2-3-2-2-6-2 8-2-1-14 10 8-6 6 10 2 1 0-2 1-5 0-1 1-2 0 5 0-5 1 3 0 3 2 4 1-2 0-7 1 2 1 3 1-6 1 9 0-3 1-6 0 10 0-10 1 3 0 5 0-8 0 7 2-3 0-2 2 2 0 3 20 11-2 5-4-4-5 4-1-6-2 4-1 1-1-3-1-2 0-4-1 8-2 0 0-6-2 4-1-5 0 3 0 2 0-3-1-3-1 0 0 5-1 2 0 3 0-5 0-5-1 2 0 0 0 7 0-4-2 3 0-7-1 9 0-8 0 4-1-3 0 2 0-6 0 3 0 8-2-5-2-1-1 4 0-7 0 8-4-4-3 4-4 10 1-9 5 11 0-6 0 4 1-3 2-4 0 6 1-1 0-5 1 4 0 2 1-2 1 5 0-7 1-3 1 4 0 1 1-1 0 0 0-3 1 5 1 1 0-6 0 7 1-3 1-4 0 4 1 0 0 4 1 0 2 0 0 1 0-7 1-3 1 5 0 4 0-3 0-5 1 9 0-11 2 2 1 3 0 6 0-1 1-7 2 5 4-8 1 9 3 9-5-5 0 8 0-4-2 2-1-3-2 0 0-4-2 4-3 4 0-5-1 4-1-5 0 4-1-3-1 1-1-1-1 8 0-6 0 7-1-9 0 2-1 3-1-3 0-3 0 6-1 0 0 3-1-5 0 1-2-3-1 4-1 1-2-1 0-7-1 0-3 4-3-2 0 2-1 3-10 1-2-5 13 13 0 6 1-9 5 0 0 7 2 2 0-10 1 3 3 6 0 0 1-8 1-2 1 3 1-2 1 9 0-1 1-5 3 5 1 2 0-2 1-5 1-3 0 7 2 1 1-1 3-4 5 16-1 2-1-7-4 4-1-7-4 7-4 0-1-1-1-2 0-3-1 4 0 2-1-6-5 8-1-5 0 3 0-2-5-5 0 2-3 2 5 14 2-5 6 1 6 5 11-6-30 23" fill="none" stroke="none" marker-start="url(#mk3)" marker-mid="url(#mk3)" marker-end="url(#mk3)"/>
<path d="M96 1522l67 1-8 3-32 5-3 1-8-4-22 8-2-6-2 13 0 3 3-5 9 5 3 1 0-2 3-8 0 8 4-3 0 3 4 1 1-3 7-2 0-1 2 5 2 1 7-3 0-4 2 3 0 1 1 0 1-4 0 8 1-4 12 3 2-3 8-4 6 7-2 3-2 2-4 9-1-6 0 0-5 5-4-9 0 0-1 6 0 3-1-2-1-3-1-3-1 7-1 1-1 1 0-4 0-3-2-4 0 9-2 0-2-6-2 2-1-3 0 4-1-3-3 6-3-5 0-1-1-3-1 11-3-4 0-4 0 2-3 4-2 2-3-4-2-5-2 8 0-7-1 1-1 0-6 7-2-10-4-2-4 1-2 9 0-1-4 2 0-3 3 16 5-11 13 3 2-1 1 1 0 0 0 0 1-4 0 6 2-2 0 4 1-4 1 1 0 1 0-1 1 1 1 1 2-6 0 10 1-8 0 0 0 2 1 0 1 5 0 0 1-7 0 3 1-2 1 0 0 5 1-3 1 5 1 0 1-11 1 2 0 3 1 2 0 0 0 3 1-8 2 4 0 0 3-4 1 6 2 3 0-4 1-5 1 9 3-9 4-1 0-1 1 11 0 0 0-1 3-4 1-3 0 0 1-1 0 7 2-3 1 0 1 3 11-9 5 8 3 7-2-2-1 5 0-2-2 2-1 1-4-4-4 2-3 1 0-1 0-2 0 4-2 3-3-6-1-3-1 5-2-5 0 1-1 9-2 0-1 1-1-3 0-4-1 2-3-6 0 2 0 2 0 2 0-2-1 6-1-7 0 3 0-7-2 4 0 6 0-10 0 11-2-10-5 1-2 6 0-8 0 5-2 5-1-8-3 5 0-2 0 6 0-5-1-5 0 0 0-1-1 1 0 7-1 0-1-8 0 3 0 8-1-7 0 8-2-10-1 1 0 5-1-6-1 6 0-2-5-1 0-4-1 0-1 5-7-4 0 10-3-10-1 5-9-5-4 9-15 10 25 1 8-6 0-4 1 1 4 7 9-7 2 9 1-8 3 0 0 5 0-1 4 2 1-2 1-1 1 0 0 3 3-3 2-3 1 8 0-9 0 2 4 5 0-5 1 2 0-3 3 2 0 1 1 5 0 0 6-3 1-2 0-2 1 9 2-7 4-2 6 2 0 5 13 5-17-1-14 4-3-3-5 1-2 1-2-2-4 0-3-2-3 0-4 0-4 3-1-3-33 1 0 5 40 7 5 3 31-1" fill="none" stroke="none" marker-start="url(#mk1)" marker-mid="url(#mk1)" marker-end="url(#mk1)"/>
<path d="M451 1583l-21 5 27 6-23 6-26 23-3 9-9 3 16 0 4 3 13 16-3-8-1 3-8-4-13 5 5 17 9 0 15-8" fill="none" stroke="none" marker-start="url(#mk4)" marker-mid="url(#mk4)" marker-end="url(#mk4)"/>
<path d="M422 1520l49 15-11-5-1 5-2 0-3-5-5 5-2-6-2 8 5 11 1-1 2-8 0 6 1-8 4 3 1 6 1-9 1 3 8 5 4 2 2-3 1-6 10 20-9-3 0-6-7 3-1-1-2 2 0 6-1-10 0 10-1-6 0-2 0 5 0 3 0-2-2 0-1-8 0 0-1 9-1-10-3 0 0 8-6 2 1 9 4-4 1 5 2-3 1-1 0 2 2 5 1-3 1-7 0 8 1-8 1 10 0-5 0 5 0-6 1 3 0-3 0 3 1 1 0-8 0 0 0 8 1-5 1 5 1-7 2 1 2-1 0 3 4-3 1 3 1-3 0-1 2 7 2-4 3 8-2 2-3 3 0 1-1-2-3 1-1 2-3 1 0 1-2 1 0-3 0 5-1-10 0 0 0 0 0 5-2 3 0 1-1-10 0 0-1 10-1-6-1-1 0 6 0-10-1 4 0 3 0-4 0 5-1-7 0-1 0 8-1-5 0 4 0-4-2 0-1 1 0 0-1-1-13 18 4-1 6-4 7 3 0-5 1 2 0-1 5 6 4-5 2 5 3-7 0 4 0-1 0 5 1-2 3 0 0-2 3-3 5 18-9-3-2 1-6 3-1-10-4 3-2 6-10 5 25 3 0-2 3 1-5 13-1 0-5 34" fill="none" stroke="none" marker-start="url(#mk0)" marker-mid="url(#mk0)" marker-end="url(#mk0)"/>
<path d="M467 1592l17 2-2 14-3-10-7 16 11 3 17 6-4-1-3 4 0 5-2-3-5 1-2 1-1 0-2 1-2-3-4 0-1 3-5-6-6 7-4 5 2-2 6 7 1-1 1-8 0 5 1 5 0-11 1 5 2-4 3 8 1-3 2 2 0-1 0 2 1 2 1 0 2-3 2 1 0-5 0 7 1-10 0 4 2-1 14 19-1-3-3 3-2-4-2 2-2-9 0 12-2 0 0-1-1-6-1 2 0-5-1 1-1-1-1 7-1-2-1-4-1 7-2-1 0 0-1 0 0 0 0-9 0 6 0 1-1 3-1-9-1 7 0 0 0-1-3 2-1-8-3 11-1-12-1 11-1-7 0 0-2-1-1 0-1 7-5 7 0 1 6 4 2-5 0-2 2 4 1-4 0-2 2 6 1-3 1-3 0 9 1-6 1 7 2-3 0 0 0-3 1-3 1-2 0 7 0-4 1 5 0-7 0 7 1 2 0-1 1-3 0 4 0-4 0 1 1 5 3-5 0 3 5 1 0-9 9-2-5 13-1 6-9 0-2-6-1 6-1-3-3-1 0 2-1 3 0-8-3 2-1 8-2-9 0 7-2-4-3 1 0 1-3 6 0-10-8 1-1-2-5 18 7-5 11-2 1 3 1 8 0-8 3 5 1-5 0 1 2 1 5 6 1-10 1 0 7 0 14 9 21-7-49 20-14-10 17 15" fill="none" stroke="none" marker-start="url(#mk3)" marker-mid="url(#mk3)" marker-end="url(#mk3)"/>
<path d="M379 1519l34-3 24 11-17 3-11 4-3 1-54 11 7-5 9 6 0-2 5 2 2-8 1 9 7-8 2 1 8 5 6-9 1 4 2 3 6-4 14 5 0 2 2-8 2 3 4-4 15 11-23 5-1 4-1-10 0 10-5-10 0 0-1 7-5-3 0 7-1-1-2-5-1-5-1 1 0 9-1-5-2 6-2-4-1-2-1-2-4 4 0 5-2-6-1-4 0-2-2 8-2 3 0-2-4 3-2-5 0-4-2 2-12 4-6-6-18 9 22 9 3-2 4 4 1 0 3-4 0-4 3 3 1 3 2-9 5 1 3 7 0-4 0-3 2 8 2 3 0-10 0 0 1 9 0-6 3 0 8 0 1-2 1 1 3 4 1-1 1-5 0 10 1-10 1 8 1-9 0 1 1 5 2-7 1 7 5 4 2-4 3-4 6 3 6 8-2 9-10-7 0-3 0-1-3 3-1 4-1 4 0-7-3 1-1-2-7 5 0-5 0 3-1 2-2-3 0 2-3 3-1-5-2 7-2-8-2 6-7-5 0 0 0 2-1-4-3 3-2 6-7-3-3-2-5-2-6 6-3-11 7 23 5-2 0-8 2 3 4-2 4 4 2 2 2-4 0 0 6 5 1-9 2 9 6 2 3-6 5 6 4 0 1-9 8 2 17 0-21 11-5 6-3 1-2-3-6-5 0-1-6 1 0-1-41 6 55 7 13 0-13 24" fill="none" stroke="none" marker-start="url(#mk1)" marker-mid="url(#mk1)" marker-end="url(#mk1)"/>
<path d="M452 1594l-35 4 5 14 5 18-10-10-12 22 16 2 4-6 1 5 1-2 12 5-6 4-14-3-1 0-9 5-3-3-8 5 0 10 15 4-19 1" fill="none" stroke="none" marker-start="url(#mk4)" marker-mid="url(#mk4)" marker-end="url(#mk4)"/>
<path d="M454 1504l14 30-6-2-4-7-5 2-15 5 3 10 7 1 2-3 2 7 1-1 0-5 2 1 0 2 1-3 1 6 0-2 0 0 1 1 1-5 2 5 0 1 5-8 0-2 1 4 1 7 1-3 0 3 6-9 30-2 13 15-31 6-9-4-3 2-2 0 0 0 0 0-3-6 0 6-3 1-1 3-1-3 0 2-1 0 0-7-1 1 0 0-1-3-1 7-2 1-1-1-1 2-2-4-2-1-1 1-2-2-4-4-1 4 10 15 0 0 1-6 4 2 0 4 2-3 0-2 0-1 1 4 2-3 0 2 0-4 1 9 1-7 0 6 0-2 0 2 1 3 0-6 2-5 0 3 0 0 0 2 2-3 0-3 1 10 3-9 1 7 1 0 1-2 4-1 7 19-5-9-1 7-2-1 0 3-1-7-2 7 0-2-2-1 0 2-1-10-1 2 0-2-2 1 0-1-1 11 0-4-2 1 0 1-3-6-1-1-2 8 0-6 0 0-1 2 0-5-2 8 0 0 0 1-4-2-3-4-3-4-28 11 17 5 10-3 12 0 1 9 7-7 1-4 1 3 0 5 2-5 2-2 0 1 2 2 1 4 3-4 5 7 10 10-17-7-2 8-5-3-3-4-1 9 0-3-2 2-1-5 11 11" fill="none" stroke="none" marker-start="url(#mk0)" marker-mid="url(#mk0)" marker-end="url(#mk0)"/>
<path d="M491 1600l-8 1-1 4-23 2 11 12 2-3 1 2 9 0 2 0 7 1 3-2 12 4-6 0-3-1-4 5 0 1-2 2-2 0-4-1-2-1-5 0-1 1-3-3-2 4 0-7-1 7-1-5-4 6 4 9 2 4 0-9 1 9 0-8 0 7 2-5 1 7 0-8 2-2 1 8 1-5 4 0 2 6 1-9 1 10 1-4 0-6 1 5 3-5 2 5 6 6 0-5 21-1-16 17-8-4-3-2-1 1-2 2 0-4-2 6 0-4 0-1-1-1-3-2-2 2-1-3 0 9-1-3-1 5-2-8 0 4 0-2 0 0-1-2-2 2-2-1-2 0-1-1-2 7-1-2 0-6-5-2-3 6-5-3-1 17 14-7 2 4 2-5 2 1 0 5 1-5 1-2 1 1 0 6 0 2 2-4 0-4 0 9 2-2 1-6 0 2 0 2 0 1 3-3 0 6 1 2 3-12 0 10 0-4 1-4 2 5 1-1 1 5 3-2 3 8-3 2-5-2-1-3-2-1-1 10-1-8-2 4 0 4-4-1-2 0 0-5 0-1-3 8-3-8-1 3-1 2-1 2-8-9-1 4 0 1 0 4-5 10 12-4 2 3 3 1 1-7 2 8 2-5 3 1 0 3 0-8 9 7 4 1 0-7 8 1 9 6-4 7-18-1-10 8-8-8-2 1-1-1 23 10" fill="none" stroke="none" marker-start="url(#mk3)" marker-mid="url(#mk3)" marker-end="url(#mk3)"/>
<path d="M400 1519l4-3 13 3 6 13-17 2-25-4-6-6-19 21 18-1 1 2 2-7 8 3 0-3 5 8 2-2 3 3 1-3 0 2 2-1 1 1 1-11 6 7 1-5 2 3 2 6 3-11 7 0 12 20-4-1-4 1-7-3-2 0-4 6 0-2-1 2-2-3-2 3-1-5 0-5-1 9-3-8-3 10-1-7-1-5 0 6-2-3-1 0-2 7-2-8 0 6-2 0-1-5-2 7-1-3-6-4-7 9-9-5-15 1-1 6 23 0 3 1 2-3 2 9 12-6 1-2 0 8 3-4 0 1 3-3 1 4 0 5 0-7 1 6 4-9 2 6 0 2 1-1 1-2 0-1 2-1 0 2 5-3 1 2 2-3 5 3 5 0 4 4 9-6-4 12-4 7-7-8-1 3-3 2-5 4 0-2-5-9-2 5-1 5 0-3-1-8-1 9-1-9-3 1-2 6-3-2-1 6 0-10-9 4-2 6-1-11-5 3-1 4-1-5 0 1-5 6-5-9-5 1 15 12 0 2 1-2 2 2 3 3 2 5 2-6 5 2 2-2 4 0 2-3 1-2 1 11 6-10 0-1 1 2 2 3 9-2 1 3 8-1 0 0 6 2 0-4-22 11-30 8 20 14-16 20" fill="none" stroke="none" marker-start="url(#mk1)" marker-mid="url(#mk1)" marker-end="url(#mk1)"/>
<path d="M427 1629l9 12 0 2-12 8-2-3-3-2-8-1-2 12" fill="none" stroke="none" marker-start="url(#mk4)" marker-mid="url(#mk4)" marker-end="url(#mk4)"/>
<path d="M458 1506l-1 4 13 11 6-3 3 13-8 0-10-2-2-1-2 2-11-3 1 18 4 1 0-3 1 3 1-2 0-7 1 6 3 0 2-5 0 9 0-6 1 3 1-5 0 7 7-10 1 5 0 5 1 0 4-2 11 15-5-6-3 4-2-1-1-5-3 9-4-10-1-1-1 4 0-2-1 6-2-2 0-1-1-3-1-1-1 2 0 3 0-6 0-1-3 11 0-10 0 8-1-8-1 0-6 4 2 8 3 6 0-6 2 10 1-5 2 4 3-6 2-1 1-2 2 0 0 11 1-3 0 0 0-8 0 5 2 2 0-6 1 9 1-4 1 2 0-8 2 10 1 1 0-6 6 0 1-2 0 1 1 4 4-4 5 3-4 16-5-1-2-4-1-4 0 1 0-2-1 4 0 5-2-3-2 3-1-2-1-4 0-1-1 4-1 2 0 0-3-5-1-2-1 1 0-3-1 3-1 6 0-3 0-2-2 7 0-2 0-4-3-5-1 4-1 2-1-2-2 0 1 9 1 1 7 1 0-1 0 4 2 3 0-8 0 9 1-3 2-5 0 1 1 8 1-10 1 1 1 3 2 5 0 1 1-3 2-8 1 2 0 2 4-1 3 3 23-1-20 8-6 6-3-6-1 8-3-8-3 3 0 5-2-10-1 7-15 3 20 6 0-3 0-1 9 18" fill="none" stroke="none" marker-start="url(#mk0)" marker-mid="url(#mk0)" marker-end="url(#mk0)"/>
<path d="M486 1594l-16 21 1 3 14-2 10-8 5 4 11 13-13-4 0 5-3 6-4-11-2 8-2-4 0 6-7-9-2 5-1 2-2-3 0-3-11 3-7 16 5-5 0 0 5 6 0-1 1-1 0-5 2 2 1 2 0 1 1 1 3-6 1 8 1-3 1 2 1-6 0 5 1 0 2-5 1 3 0-1 1 0 2-4 6 0 1 6 2 1 1 2 3-2 5 12-2-3-3 3-1-3-5-7-2 2 0 9-1-10 0 10-1-2-1 2 0-8-1-2-1 10-1-6-1 4-1-1 0-5-1 4-1-7-1 9-2-4-1 1 0-1 0 1 0-3-1 0-1 1-1 5-1-2-1-3-2 1-4-5 0 8-1 4-2-5-1 2-2-7-5 10 3 9 3 2 1-6 2-4 2 8 0-7 4 1 0-1 1-2 1 4 0 5 1-5 1 7 0-10 2 4 2-4 0 5 0-3 1 2 2-2 0 5 1-5 0 6 0-1 0 4 1-5 0-5 1 1 1 2 1 1 1 0 1 4 0-7 0-1 1-1 1 0 0 4 1 2 2-4 1 7 1-7 0 0 2 0 2 4 0-3 4 3 4-4 11 11-20 8-7-7-1 0-2 9-1-7-3 0-2 0 0-4 0 0-1 8-3-5 0 0 0 5-1 1 0 2 0-1 0-2-1-8-1 2-1 6-1-8 0 8-4-4-2 1-1 3-2 1-2-1-2-3 5 12 2 3 1-3 9-4 1 9 1-5 0-1 2 3 1-3 5-2 1 6 0 1 12-8-11 22-12-7-1-2-5 6 12 6 4 7" fill="none" stroke="none" marker-start="url(#mk3)" marker-mid="url(#mk3)" marker-end="url(#mk3)"/>
<path d="M444 1521l-41 13-2-3-2-2-3 6-1-10 0 1-41 8-3 4 10 5 39 4 6-2 10 0 1-3 1 4 3-1 30 13-4-6-6 2-10 0-6-2-3 7-3-4-3 1-2 2-1-6-4 4-1 1 0-9-1 3-1-3-4 4-1 8-2-5-9-3-1 4 0-4-2-3-1 8-2-7-3 4-1 5-23-5-3 1 1 10 11-1 4-1 5-2 3 5 2-2 2-2 1 9 0-3 1 2 1-2 0 2 1 1 1-7 0 2 2-6 1 9 0-1 1 3 0-6 7 0 2-5 1 5 1 4 1 1 1-1 0-2 1 5 0-5 1-3 2-3 2 9 2-5 0-3 1 2 0 3 2 2 2-4 1 6 1-3 1-4 4-1 1-2 3 5 0-3 10 3 1 0-11 10-4 7-1-10-3 8-4 0-3-2 0-6-1 6 0 3-4-1 0-6-1 5 0 1 0-3-1 0-1 6-3-10-4 3-1 1-1-5-6 11-7-9-1 2 0 1-9-2-1-4 0 3-1 1-3 5-1 1-1-3-6 5-9-1-1 0 4 7 9 5 2-11 5 3 6 0 2 1 5-1 4-2 12 1 1 6 9-5 3 4 5-3 6 4 13 1-50 13-15 4 42 0-62 25" fill="none" stroke="none" marker-start="url(#mk1)" marker-mid="url(#mk1)" marker-end="url(#mk1)"/>
<path d="M669 1599l-10 13 3-3 5 14-3 4-8-5-8 4 0 4-18 1 18 9 2 3 6-5 6 0 0-2 3 3 7 5 5-10 7 18-1 0-4-4-4 2 0-3-1 4 0-4 0 0-9 0-1 1-15 18 1-2 3-8 2 3 14 1 4 5 4-8 1 9 1-5 11 2-6 16-9-9-6 7-9-4-2 2-12 10 16-1 10 5 14-8" fill="none" stroke="none" marker-start="url(#mk4)" marker-mid="url(#mk4)" marker-end="url(#mk4)"/>
<path d="M708 1526l-3 9 18 20-4-2-4-3-25 15 18 7 1-8 1 1 3-4 2 7 1 3 9-5 3-3 9 8 1 1-2 7-1-3-3-3-1 9-4-8-1 6-3-3-2 6-3-9-3 5-1-5-3 4-3-1-1 3-13-1-20 13 30-8 8 6 1-1 0 0 1 2 1 3 2 1 0-2 2 0 0-2 2 0 2-5 6 9 1-3 1 3 2-8 5 8 3-4 8 1-3 6-7 3-1 5-1-1-2 1-3-4-5-4 0-2-1 5-5 6-1-3 0-3-1 0-1 1-1 3-3-2-2-7-7 6 2 18 5-8 6-1 2-1 2 0 3 2 1 2 4 0 4-5 0 5 1 0 0 4 0 0 1 1 10-3 4 14 0-7-8-2-6 6-4-7 0 2-3 2 0 6 0-4-1-4-4 4-1-6-1 6-2-4-1 7-1-7-9-1-2 7 19 13 1-7 1 3 0 1 15 0-3 7-8 4" fill="none" stroke="none" marker-start="url(#mk0)" marker-mid="url(#mk0)" marker-end="url(#mk0)"/>
<path d="M727 1541l0 26 1-2 10 7 2 5 0 5-4-4-1-3-3 6-5-5 0-1-1 4-3-3-4 3-2 0-6 15 8-3 3 1 0-3 6-2 1 8 3-10 4 7 1 2 4-3 1 8-7 5-3 1-1-1-2-1 0-5 0 3 0 6-1-10-2 11-1-11-2 2-1-1-1 3 0 5-3-1 0 2-2 1-12-4-2 14 12-3 4-2 9-3 0 8 1 1 2-8 1 5 0-3 1-4 1 0 1 5 0-1 3 0 2-3 19 4-12 15-4-7-4 6-1-1-2-6 0 10-2-4-1-1-6 3-3-8-17 2-22 15 31-4 5 4 2-5 1 7 1-6 2-1 0 1 1-1 3 10 1-2 4 0 1-6 0-2 4 6 0-3 5 0 4-1 1-2-2 22-3-10 0 3-3 2-2-1 0 6 0-7 0 2-2 0-1 5-1-10 0 10-1-2 0-3-1-2-1 5-2 2-1-8 0 0-6 8-1-10-3 8-8-1-4 12 3 1 2 2 6 0 0-3 1 1 2-8 0 2 3 1 0 0 3 5 0-2 1 3 1-3 1 5 1-6 0 2 1-4 0 6 0 1 4-2 2-8 0 10 0-1 1-3 0-7 0 3 43-1-26 19-5-6-4 0-4 3-4 2 0-7-3 9 0-7 0-2-2 2-1 7 0-4-1-4-2 10-1-5-2 1-2 2-3-2 0-2-1 5-1-1 0-8-1 5-27 4 24 4 4 4 2 3 9-8 0 1 4 1 4-3 2 10 8-11-14 18-2-4-1 4-3-1-6 0-6-5 9 14" fill="none" stroke="none" marker-start="url(#mk3)" marker-mid="url(#mk3)" marker-end="url(#mk3)"/>
<path d="M664 1528l-1 6-39 4 10 4 10 1 24 8-13 7-2-2-13-5-1 2-12 3-8 15 13 1 12-10 0 2 4 8 0-2 2-10 1 9 3 1 1-3 2-6 1 9 0-4 1-3 1-2 0 10 1-4 1-7 0 11 3-3 1 4 1-4 1-2 1 2 2-3 1 6 6-2 18 0-7 4-6 10-5-5-1 3-4 0 0 1 0-6-2 5-1 2 0-1 0-9-2-1-1 6 0 5 0-5-2-5-1 6-1-7 0 4-1-1-1-1-1 6 0 2-1-10-1 9 0 1 0 2-1-5 0 4-2-2-1 2-2-4-2 1 0-7-1 10-2-4 0 2 0-2 0 4-1-5 0 0-3-2-1-3-3 9-2 2 0-3-10-3-2 2-15-1-2 11 21-4 0-2 3 5 1 2 3 2 2-4 1 1 0 3 3-4 1 0 0-1 2-3 0 4 1-1 1 4 2-4 1-3 1 1 2-1 0 10 0-4 0-3 0 1 1 0 0 4 0-7 1 1 0 7 0-3 1 3 2-10 0 4 4 3 1-6 2 9 0-6 1 6 2-3 1 0 2-1 1-4 0 8 1-3 2 2 4-5 2 1 2-5 16 6 1 3-4 6-8 3-4-3-6 7-1-1-1 0-1-5-6 0-4 5-1-9 0 3-1 3 0-6-1 2-1-1-2 1 0 1-2-1 0 9-1-2-1-2 0-7-2 12-1-5-1-6-1 1 0 0-4 4 0-4-2 1-5 0 0-2-2 4-1 4-22-4 1 7 22 1 2 0 4 0 1 3 0 0 3-1 6-1 1-1 4 2 4-1 8 4 3 5 3-8 0 4 3 1 15 1-41 4-1 1-6 1-26 11 26 7" fill="none" stroke="none" marker-start="url(#mk1)" marker-mid="url(#mk1)" marker-end="url(#mk1)"/>
<path d="M656 1594l14 0-11 9 9 7 10 10 10-6-2 17-13-5-3-4-2 2-3-2-47 6 34 12 2 0 1 4 3-3 0-8 0 10 1-5 8 4 0-7 7 8 0-5 5 6-3 2-8 8-4 1-3-11-1 11-2-3-6-8-3 0-3 6-1 9 6-3 10 10 0-2 14 0 13-6 3 5-18 12" fill="none" stroke="none" marker-start="url(#mk4)" marker-mid="url(#mk4)" marker-end="url(#mk4)"/>
<path d="M697 1537l12 11 24-8-3 8-6 10-4 0-6-1-1 0-1 3-1 0 3 10 2 1 2-11 3 11 0-3 0 3 18 2-5 4-2 2-6 0-1 0-1-1-1-1-4-3 0-1 0 11-1-9-1 7-1 1-2-1-7-6-4-3-8 7-17 8 22 3 1-4 3 2 0-5 1 2 2 8 3 0 0-9 0 8 3-5 1 8 0-3 3-8 2-1 1 3 1 0 3 3 1-5 1 10 0-11 0 11 1-9 0 2 0 6 3-1 2-5 1 5 15 12-8 0-3-8-2 10-1-1-3 2 0-10-2 3-1 1 0 0-1-5 0 4-2-1 0 2-1 5 0 1-2-11-1 2 0 2 0-1-2 4 0-4-2 3-2-4-1 5 0-3-1 5 0-10-1 9-3-4-8-2-5-1 16 14 2-3 1 8 1 0 2-2 2-4 0 7 1-5 1 5 0-1 4-1 6-7 1 10 1-9 1 9 1-8 1 6 0-1 9-7-10 20 0-9-1 4 0 0-4 2-3-1-1-1-4-1-2 8 0-10-1 3-5-3-6 8-7-2 23 15 8-6 2 5 1 0 7-8 2 6 12-4-22 21-12-8" fill="none" stroke="none" marker-start="url(#mk0)" marker-mid="url(#mk0)" marker-end="url(#mk0)"/>
<path d="M731 1559l-6-5-9 6-6 10 1-9 2 4 10 2 3 2 11-6 7 14-9 7 0-6-3 6-1-2-3-6-4 5-1 3-1-6-2 5 0-6-3 4-4-8-2 1-29 10 26 5 3-4 2-1 4 7 1 3 1 1 0-2 2-6 2 7 2-2 1-3 3 5 0 1 3 0 20 4-12-1-13-1 0 4-2 4-1-6-1 4 0 0-7-4-1 3-3-2 0 8 0 1 4 4 1-4 4 4 5 2 1-6 6 3 0 6 3-9 5 3 8-3-5 18-1-5-19 7-3-3 0-5-3 1-12 18 10-3 3 4 2-9 2 12 2-9 3 1 7 1 2 4 1-5 6-3 5-1 10 2-6 18-6 2-7-6-2 1-1 6 0-4-1 1-2-7-2 7-1-3-1 1 0 6-1-1 0-1 0-8-3 4-2 4-2 0-1-10-5 10-1-1-1-2-28-4 23 16 3-3 2 4 0 4 5-1 0-7 2-1 1 3 0 1 1 0 1 0 0 2 2-4 0 6 1 0 1 1 1-9 1-2 1 8 1-1 0 3 2-11 2 12 0-6 1-5 0 8 2-4 0-3 2 7 1-6 0 6 3-1 1-1 0-5 0 2 25 11-26-3-2 11 0-8-2 0-1 2-1 2 0 0-2 1 0 0 0 2 0-8-4 10 0-6-1-2-1 7-1-3-1 4-1-4-1 1-1-2-1-1 0-1 0-4-1 5 0 2 0-5-5 6-1-5-1-2-2 7-1-7-1-2-11 14 18 0 6-1 3 5 1 0 5-1 10 2 5-5-9 19-6 1-1-3-2 0-2 1-6-3-9 0 23 38" fill="none" stroke="none" marker-start="url(#mk3)" marker-mid="url(#mk3)" marker-end="url(#mk3)"/>
<path d="M678 1533l-23 3-9 12 4-12 10 11 27 12-7-1-11-1-1-5-2-2-6 7-1 2 0 1-3-1-6-5-1-1-5 1-3 5-1-7 0 13 1-4 2 11 0-12 2 1 2 3 1 1 3 6 1-3 2-3 1 6 3 0 2-10 1 1 1 8 1-3 4-3 1 7 0-4 1 5 1-5 1-2 2 6 5-10 3 5 13 1 29 16-39 0-1-2-2 2-1-1-4 0-1-1-3-4-1 1 0-2-2 0-3 3-2-3-2 0-1 2 0 2-1 2 0-7 0 0-1 4-1-4-1 3 0-6-2 6-1 5-2-6 0 5 0-7-1 0-1-3-2 10 0 0 0-10-2 5 0 0-1-2-2 6-1-9-2 10 0-1-4-2-2-5-1 5-11 4-3-6-6 4-8-3 13 9 10 7 5-5 1 6 1-10 0 8 1 2 2 0 0-1 1-7 2-1 1-1 2 1 2-1 1 4 0-2 3 3 1 0 0 2 2 0 0 0 4 0 1 2 0 2 1-10 0 5 3-4 0 5 1 4 1-7 1 4 1 2 0-7 0 2 1 2 1-6 5 4 0 2 2-6 5 4-2 8-4 0-3 9-2-8-2 0-2 3-1-2-1 5-1-1 0-7-1 0-2 10-4-3-3 3-3 0-1-4-2-2-4 5-3-2-2 0 0 3-4-5-5-3-16 1 34 10 0 0 0 9 2-1 1-3 1 0 2-2 4-2 0 8 1-5 0 5 1-8 1 7 1-1 0 2 3-7 3 1 1-1 4-1 6 4 20 7-19 1-23 12 20 4" fill="none" stroke="none" marker-start="url(#mk1)" marker-mid="url(#mk1)" marker-end="url(#mk1)"/>
<path d="M663 1584l14 17-33 5 39 15-7 8 0-3-14-5-15 13 8-1 7 2 0 1 4 6 5-8 3 7 0-5 2 0 3 4 2 0 3 10-10 5-5-7-3 0-1 3-3-5 0 2-11-2 0 0-11 14 7 5 15 0 0 1 2-9 1 3 0-1 7 0 2 2 15-4-16 13-2 9 0-8-9 12 0-1 3 4" fill="none" stroke="none" marker-start="url(#mk4)" marker-mid="url(#mk4)" marker-end="url(#mk4)"/>
<path d="M719 1529l2 9 16 17-8 1-9 4-3-8-13 16 2-6 3 8 2-6 0 5 1-3 6 1 1-4 16-2 3 9-2 14-5-9-1 5-4-5 0 0-4 5-1-2-1-5-1 6 0 5-2-4-1 2-4 0-6-8-11 18 11-7 1 4 3 3 1-4 2 6 1-5 0 1 5 2 1-2 1-6 3 7 2 2 1-8 1 10 0-8 3 5 0 0 4-3 1 5 5 2 1-2 0 2 0-4 3-4 0 17-7 2-5-2-4-1-2 3-1-2-1 2-2-9-1 0-2 4-1 3 0-5 0 7-1-4-1-4-2-2-2 0-1 2-1-3-1 7 0-3-4-1-8-3 0 6 14 13 6 2 2 1 1-7 2-2 0 10 1-3 2-5 1 3 3 5 0-4 3 2 2-7 1-1 7 20-3-5-8-3 0 3-1 0-4-2 0 0-2 6-1-6-9 8-6 0 11 5-14 10" fill="none" stroke="none" marker-start="url(#mk0)" marker-mid="url(#mk0)" marker-end="url(#mk0)"/>
<path d="M727 1556l-14 0-4 15 4-2 23 7-1 8-9-5-2 5-5-12-2 9-6 2-11-9 15 18 1-8 0 9 3 2 0-1 2-4 0-5 0 2 1 4 0 4 1-4 1-7 1 11 2-6 6 2 6-5 2 16-2 4-4-9 0-1-4 11 0 0-2-5-2 3 0-5 0-3-2 9-1-9-3 7-3 0-1-7-1 3-1-3-8 21 10-6 3 4 6-1 1 5 1-5 1-1 10 5 5 12-5-9-1 9-1-8-4 4-2 4 0 1 0-7-3 2 0 1-2-6-2 4-2 1 0-1-2-1-11 17 6-2 4 3 2-2 1-7 0 6 3-2 1 0 3-1 2-2 1 0 0 4 4 1 0 2 1 1 1-1 0-7 1 9 0-4 3-4 2 7 2-8 3 6 0 0 2 13-1 0-1 0-2-9-2 8-1-4-1 1 0 3-3-6-1 2-1-5 0 9-1-7-2 10 0-2-2-3 0-6 0 6-1 0 0-7-1 12 0-2-2 0 0-9-4 0-1 7-1-2-4-4-1-1-2 8-2 2 0 9 4 0 0-7 6 10 1-10 2 4 2-4 0 9 3 1 3-4 0-2 1-3 1 1 0 7 6-1 0 0 4-7 1 4 2-2 2 9-4 7-3-7-1 2-3 6-6 0-2-2-3-4-2 5-2 2-2-3-3 1 0-8-1 1 0 9-1-7-2-2-1 9-8 1-1 7 3 4 15-10 5 2 4 7 3-8 0 9 1-8 3 10 3-5 3-4 5 7-12 4-2 6-11-1-5-1-7-1 25 18-4 2-22 7" fill="none" stroke="none" marker-start="url(#mk3)" marker-mid="url(#mk3)" marker-end="url(#mk3)"/>
<path d="M633 1536l23 11 23 4-2 7-2 1-6-10-1 5-4-5-7 1-6 3-34 5 13 9 1-1 2 4 2-3 2 0 0-5 1 8 1-4 1 0 1 3 4-2 1 0 2-2 2 1 3-1 2-5 0 11 0-9 3 10 0-4 7-6 4 4 0 0 1 1 1 2 4-6 3 8 7 8-4 5-6-2-1-2 0-1-2-4-2 1 0 3-6-6-1 3-1 4-2 2 0-3 0 3-1-3-1 3 0-1-1-5-2-1-1-2-3 9-1 1 0 1-1-2 0-9 0 1 0 7 0-3 0-1-1 3 0-1-1 4 0-6-3 4-2 0 0 1-2 0-1-7 0 7-1-1-1-5-1 6 0-9 0 0-2 10-1-5-27 8 17 4 2-5 0 2 5-1 2 9 4-9 1 9 1-1 2-2 0-2 1 6 0-1 1 0 0-5 1 0 1 6 0-4 2-6 2 7 0-8 2 0 0 9 2-8 2 6 1-2 1 4 1-1 0-8 0 6 0 0 1-1 1-4 0 8 0-8 1 0 0 9 4-9 2 4 0-6 1 12 2-10 1 9 2 1 1-10 1-1 3 1 0 9 0 1 1-11 20 18-13-1-3-4-10 4-1-4-2 7 0 3-3-4-1-1-1-2-2 3 0-7-1 8-3-6-1 7-1-5-1-3-3 7-2 2-3-3-1-6 0 0 0 3-4-3-1 0-4 2-1 1-22-4-6 1 26 11 8 1 2 10 3-10 4 6 20-5 4-3-10 23-1-6-8 9 14-1-12 15" fill="none" stroke="none" marker-start="url(#mk1)" marker-mid="url(#mk1)" marker-end="url(#mk1)"/>
<path d="M930 1642l0-8 0 9 2 0 1-2 6 2 4-5-6 7-5 5-2-5 0 5-4 4-1-6-5 5-1 1-2-7-3 7-5-6-3-2 0 15 6 2 2 1 0 2 6 1 2 0 2-5 1 4-24 6-4-4-2 9-22 13" fill="none" stroke="none" marker-start="url(#mk4)" marker-mid="url(#mk4)" marker-end="url(#mk4)"/>
<path d="M984 1559l-3-5 0 0-3 3 0 2-18 7 2 4 1-1 3-2 2-4 1 5 1-2 0-1 0 1 1-6 0 6 3 2 5-7 1 8 1-7 5 15-1-3-1 5-1 3-3 0 0-6-1 4-3 3-1-8 0 9-2-2 0-2-2-7 0 11-1-3-2-1 0-5 0 7-1-1-1-7 0 5 0-2-1 4 0 1 0-7-1-2-3 9-1 0 0 1-2-7-1 5-6 8 2 6 3-3 2-7 1 4 0 0 2 1 1-5 2 9 0-9 1 1 0 5 0-6 1 6 0-4 0-2 1 3 0 2 1-3 0 0 0-1 1 4 4-1 0 5 0 1 2-5 1-3 2 5 0-6 2 9 20-1 10 1-26 5-4-1-2 5 0 1-1-7 0 2-1 2-1 0-2-5-2 5-2-5-1 4-2-1-1 2-2 0-2 0-1-5-7 3-4 0 19 16 1-8 1 4 1 1 1 2 2-6 3 9 11-1-23 15" fill="none" stroke="none" marker-start="url(#mk0)" marker-mid="url(#mk0)" marker-end="url(#mk0)"/>
<path d="M967 1576l4 12 0 8 3-1 1-3 6 2 3-2 0-2 0 6 2-11 3 4-5 16-14 0-1-4 0-4 2 19 2-5 2 6 1-4 11-1-2 9-2-1-20 21 5-9 3 10 0-1 0-4 2 4 2 0 18 0 6 13-6-4-1 4-2-9-3 0-4 10-4-10 0 2-1 2-1-4-2 9-3 0 0-3 0 1-1-1-2 3-1-3-2-5 0 2 0-1 0 3-9-4-1-2 5 14 2 5 2 0 3-5 1 9 1-3 0-2 1 0 1-4 1 7 1-6 1-1 0 4 1-2 0 6 2-6 0-2 1 3 0 5 1 0 1-2 2 3 2 0 1-4 1 1 2-2 0-2 1 2 0 5 0-8 0 0 1 6 0-1 2 1 2-9 1 10 4-5 1 7 2-10 15 18-15-5-1-2-6 1-8 1 0 2 0 5 0 1-1-9-2 1-1-3 0 9-2-6 0 6 0-8 0 10-1-7 0-4 0 3 0-2 0 3-1-4 0 9 0-6-1 4 0 4-2-10-1 8 0-1-1-7 0 7-1 3-1-5 0 1-1 3 0-9 0 7-1 1 0-1-1-5-2-3-1 8 0-3-2 0-13 3 5 11 3 3 6-8 1 5 1 1 0-5 4 0 2 5 0-6 0 8 2-8 1 3 2-4 0 9 0-8 0 9 2-9 0 9 2-10 1 4 2-3 2 4 1 0 3-2 0 3 1-5 0 0 1 9 2-10-4 16-3 5-2-7-10-2 0 9-3-1-4 1-14-6 21 17 4-4 1 4" fill="none" stroke="none" marker-start="url(#mk3)" marker-mid="url(#mk3)" marker-end="url(#mk3)"/>
<path d="M941 1549l-22 9-16-9-7 11 5 6 4 6 2-10 2 5 2-5 0 8 1 1 0-2 3 3 0-5 1-2 3 3 4-4 1 1 8 2 1-6 4 13-4-1-3 4-2 7-2 0 0-5 0 0 0-3-1-4-1 2-5 6 0-3-1 6 0-5-1-1-1-3 0 1 0 3-1 5 0-10-2 6-1-3 0 1 0-1 0-1-1 2 0-3-1 3 0-1-3 2 0-2-1 1 0-4 0 10 0 0-1-10 0 3-1 5 0-1-2-7-1 5 0 1-1-1-1 4 0-2-1-4 0-1-1 5-1 2 0 1-3-5-1 2-1-1-1-5 0 0-5 0-3 9-3-9-5 0-6 15 16 5 0-3 4-1 4 6 0-4 1 1 0 2 1-2 1-5 2 7 2-1 0-5 1 5 1-7 4 8 1-9 0 2 1 7 2-5 1 1 1-3 0-1 0 8 1-5 0-2 0 4 0 3 1-9 0 3 1 1 0 1 0-4 0 7 0-8 1-2 0 5 0-2 1 1 1 7 0-10 1 5 1-3 0 6 0-7 0 6 1 2 0-6 2 5 2-4 0 2 1 1 0-7 1 1 3 9 5-11 7 0 5 5 6-3-24 10-1 4 0-3-3 5 0-1-3-3-1-2-1 7-2-1-1-4 0 9 0-1 0-4-1-1-1-5-1 3-2 2-3 2-1 0-1-3-1 5 0 2 0-6-1-3-3 5-3-3-2 1 0-2-1 1-1 5-4-2 0-1-2-4 0 4-2 2 0-6 5 12 3-1 3 7 3-6 13 2 1 4 5-7 6 5 12 2 18 10" fill="none" stroke="none" marker-start="url(#mk1)" marker-mid="url(#mk1)" marker-end="url(#mk1)"/>
<path d="M930 1617l21 12-7-5-17 8-7-3-20 9 18 1 3-2 3 2 2 2 9-4 7-1-3 10-1-1-1 4-4 0-3 7-3 0-3 0-5-10 0 4-9-1-9 13 5 3 1 1 5-7 3 8 2-3 3 1 7-9 4 3 10-1-9 12 0 3-12 3-3 4-1-1-9-8-3 9-3-9-5 17 11 4-3 4" fill="none" stroke="none" marker-start="url(#mk4)" marker-mid="url(#mk4)" marker-end="url(#mk4)"/>
<path d="M971 1559l-18-4-3 14 2-2 9 3 2-4 0 1 2-3 1 1 0 4 3 1 0-3 1-3 1 5 8 2 0-6 6 3 5 2 15 3-17 5-4 2-1 0-1 1-1-4 0 4-1-8 0 8-3-5-1-4-2 8-4-1 0 0-1 1-1-2 0 0-1-3 0 7-1-8-2 7 0-7-1 2-1 6 0-7-5 7-2 9 2-1 2 2 0 2 0-3 1-5 3 2 2-3 0-1 2 12 0-6 1 2 0-5 1-1 0-2 0 9 1-5 1 7 1-9 0 9 0-7 0 6 1-9 0 2 0 6 1-3 0-1 1 5 1-1 4-9 1 7 0 2 2-1 1-2 2-1 4 2-5 16-3-1-1-8-1-1-1 5-2 3-1-6-4 6-1-2-1-1-1-4 0 8-1-6-4 2-2 4-2 0-8-10-2 2 3 14 7-3 2 11 2-7 0 0 8 0 1-2 2 3 5 2 7-8-7 19-3-7-8 7-3 2 0-6-33 6" fill="none" stroke="none" marker-start="url(#mk0)" marker-mid="url(#mk0)" marker-end="url(#mk0)"/>
<path d="M974 1595l6 0 14 1 10-9 14 15-22-5-13 9-3-2-3-1-2-5-3 2-3-4-1 0-13 1-5 6 20 15 4-2 1 1 5 1 4 2-4 0-25 20 12 4 5 0 1-2 0-4 7 5 1-4 0-2 1-5 9 8-3 13 0 1 0-6-1-2-1 5 0-2 0-3-2 10-1-9 0 3-1-6-1 8 0-6-1 7 0 2-2-2-2-3 0-3 0 8-1-9-1 9-1 0 0-6-1-1-2 7-1-5 0-6-1 6-2 1-2 16 1-9 1 4 1 2 4 1 0-4 3 1 0 5 1-7 2-3 0 3 0 1 1-1 0 4 0-6 1 10 1-2 1-5 2 2 0 0 1 5 0-12 1 8 1 3 0 0 1-8 2 0 2 1 1 1 2-4 2 4 6 1 2 17-10 0 0 0 0-9-2 0 0 3-1-3 0-1-3 7-1-3-1-5 0 11-2-8-1 1 0-1-1-1 0 5 0-1 0 1-1 1 0-1-2 3 0-6-1-1 0 1 0 1 0 3-1 4 0-8 0 1-1 1 0-5-2 4 0 1 0-2-1-3 0 3-1 4 0-8 0 11-2-3-3 4-3-10 2 12 1 6 1-7 1 1 0-1 1 1 1 0 2 0 1 5 3 3 0-9 1 0 1 2 0 1 0-3 0 10 0 0 0-1 2-4 0-5 6 8 0 1 0 2 2-2 0-9 0 3 1 3 0-6 4 6 0-5 27 1-30 21-5-7-3 3-2-7 0 10-1-4-2-1 0-6 0 0-2 1-1 6-5-6-1-1-1 3 0 9 4 10 9-9 1 0 3 4 0-2" fill="none" stroke="none" marker-start="url(#mk3)" marker-mid="url(#mk3)" marker-end="url(#mk3)"/>
<path d="M911 1547l6 12-4-6-8 3-10-1-5-4-17 7 2 2 20 7 1 2 1-3 0 5 1-5 2 4 3-7 2 4 1 5 0 0 0-4 3 3 4 0 3 1 0-1 0-4 4-3 3 5 1 1 3 2 2-7 0 7 2-1 6 5-1 4-3 0 0-4-1 5-3-1 0-1-3 0-2 4 0-8 0 0-1 9-1-7-4-3 0 7-1-6 0 6-2-6 0 3-1-1 0 2-2 3 0 0 0-7-1 8-3-6 0 6-2-2-1-2 0-1-1-1 0 7-5-11-4 9 0-1 0 1-1-5-1 5-2-4-2-5-3 0-3 9-3-3-1-3 4 15 1 0 2 2 1-3 0 0 2 2 1-1 0 0 5-6 0 7 1-6 0 1 0 3 1 3 2-8 0 2 1 8 1-7 1 3 3 2 0-5 2-3 1 9 1-5 0 2 0 1 0-5 1 5 0-5 0 7 0-3 1 2 0 1 0-3 1-3 0 4 0 4 0 0 1-9 0 1 0-1 0-2 2 0 1 1 2-1 0 10 1-2 0-7 0 0 2 5 1 3 1 0 0-10 4 11 4 0 1-2 0-6 0-1 3-1 7 11 1-10 18-1-12 15-12 0-4 5-11-8-2 3-2 4 0-6-4 3-1 4 0-2-1-5-1 6-2-2-2-5-1 5-1-3-2-3-1 12 0-4-1-5-3 1 0-2 0 3-2-4 0 1-3-1-1 2 0 1 0-3-1 2 0 4-2-4-3-3-1 3-2 1-15-4 25 13 2 5 1-2 3 3 5 2 10-4 2 3 0-6 2-1 8 14-5 2-10 9" fill="none" stroke="none" marker-start="url(#mk1)" marker-mid="url(#mk1)" marker-end="url(#mk1)"/>
<path d="M934 1617l-18 6 1 17 2 2 7-7 2 3 4 1 0 2 3-2 4-3 11 5-5 10-3-6-1 2-9-2-2 2-3 2-4 5-3-3 0-6 0 1-3 3-2-3-1 7-5-8-26 15 5 4 9-7 3 0 0 5 7-2 3 4 3-7 1 9 3-4 1 1 2-7 5 2 3 1 3 3 0-5-23 11 0 1-20 1-15 3 13 17" fill="none" stroke="none" marker-start="url(#mk4)" marker-mid="url(#mk4)" marker-end="url(#mk4)"/>
<path d="M979 1527l-16 15 22 18-12-9 0 4-8 4-7-4-14 15 9 1 5 1 3-2 2-9 0 1 2 2 2 1 0 5 3-6 1 3 2-3 2 8 1-4 0-5 1 4 0 5 3-6 3 3 1-1 43 7-29 7-1-9-7 9-6-1-1-4-5 3 0 0-1-4-1 0-1-4-1 2 0 2 0 1 0 6-1-9 0 1-1-2-1 11-1-5 0 0 0 2 0-2 0-5 0 7-1-3-1-1-1 1-3-2 0 1-1-1-2 1 0 1-2 5 0-6-4-3-7 9 12 12 1-6 0 2 2 1 0-4 1 0 0 2 1 6 2-8 0-3 0 7 2-4 0 1 1-1 1 7 0-8 0 1 0 3 1-2 4 6 1 0 1-10 1 4 2-3 0 1 0 8 3-3 1-2 1-6 0 3 4 6 0-4 37 6-43 3-5 7-2-2-1-3 0-1 0-1-1 6 0-8-3 7 0-3 0 1 0-1-3 3 0 3-4 0-8-8-7 5-2-6 13 11 6 8 1-4 2 1 3 0 17-1-13 8-16 3-30 19 38-9" fill="none" stroke="none" marker-start="url(#mk0)" marker-mid="url(#mk0)" marker-end="url(#mk0)"/>
<path d="M1003 1570l-16 8-9-3-1 4-6 10 1 2 0-2 7-2 4 8 6 2-7 4-2-4 0 1-1 6-2 0-1 2 0-9-1 1-2 8 0-4-3 10 2 7 8-3 1-7 0 2 18 19-2-3-20-6-5 2 4 16 0 4 3-3 0 1 3-8 0 10 1-4 1-4 6 5 0 3 8 8-2-5-4 4-2 2-5-2-1 3 0 1-1-2 0 1-1 2-3-4-1 2-2-6 0-1-1 5 0 3-3-2-1-2-2 2-22 0 11 10 5 2 2-4 0 2 0-4 3 7 0-4 1-3 3 4 1-6 0 4 1 4 2-6 0 5 1 0 1-5 0 0 3 6 0-5 0 0 2 1 3 4 1-1 2-3 1 5 1 1 2-7 6 6 5 2 1 1-8 3-1 7-2-3-1-5-1 3 0 5-1-8-2 0 0 5-2 2 0-1-2 4-1-6 0-1 0-1-2-3-1 4 0 6-1-1-1-1-1-8-1 8-1-1-2-3 0 1-1 3-3-1-1-5-2-3-1 5-3 4-1-2-11 3 10 3 1-1 1 8 1-2 3-4 2-2 2 7 0-1 1-5 1 7 0 3 1-4 0 2 0 2 1-7 2 8 0-1 0-5 1-4 0 1 0 3 1-3 0 3 0 4 1-1 0-8 1 0 1 6 1-1 0 2 0-7 3 4 1 2 2-7 1 7 1-5 2 8 5-9 2 8 2 6-7-3-10 10 0-9 0 1-3-1-2 1-1 2-1-1 0-2 0 8-2 1-3-7-4 5-3-3-2-4 6 13 3 0 1 2 5-2 6 0 7 0-13 13-10 9 34 0" fill="none" stroke="none" marker-start="url(#mk3)" marker-mid="url(#mk3)" marker-end="url(#mk3)"/>
<path d="M928 1558l-11-5-11 5-7 0-17-9 2 19 4-6 10 4 1 3 1 0 1 1 4 1 2-5 0 6 3-1 3-2 1 3 0-3 6 1 0-8 5 3 2-2 1 4 1 3 2-2 11 0 1 12-6 3-3-3 0 3 0-9-4 8 0-7-2 5-1-5 0 7-2-4-2-1-1 1-1-3-1 6-1-1 0-2-3 2 0 3-1-3-1 4 0-7-1 0 0 1-1 1 0 0-1-5-2-2 0 6-1-1-2-1-1 5-1-3 0 6-1-5 0 0 0-3 0 7-1 1-1-7-1 6-3-5-2 6 0-7-4-4-2 5-2 6 0-6-2-1-1-3-2 3-18 3 7 11 2-3 2 2 10 0 6 2 1 1 0 0 3-3 2 3 1-6 0 2 1-1 0-1 2 0 0 8 1-1 0-2 1-6 1 0 1 6 0 1 0-2 1 2 1 1 1-8 0 8 4 0 0-5 0-1 0 5 0-6 1 0 1 6 0-5 1-4 0 9 0-8 1 9 0-8 0 0 4 4 1 5 1-3 0 1 1-1 1 2 0-9 4 0 1 7 2 2 1-2 7-4 4 6 2-2-4 7-6 1-2 2-4 2-3-1-1-4-1 2 0-5-1 8-1-8-1 2-2 2-1 7-1-6-2-3-1 1-1 6-3-2 0-2 0 7-3 0 0-1-2-7 0-1-3 8-4 0 0-7-1-3 0 8 0-5-1-3-1 8 0 0-1-5-1-2 0 6-4 0-2-3 0 9 2-2 2 8 0-6 2-1 11 0 7 6 18 3-18 5-1-3 25 21" fill="none" stroke="none" marker-start="url(#mk1)" marker-mid="url(#mk1)" marker-end="url(#mk1)"/>
<text x="1091" y="1162" font-family="'Liberation Sans', Arial, sans-serif" font-size="46" font-weight="bold">d</text>
<rect x="1574.5" y="1140.6" width="18.5" height="8" fill="#7F7F7F"/>
<text x="1598" y="1151.3" font-family="'Liberation Sans', Arial, sans-serif" font-size="23.8">NT</text>
<rect x="1644.4" y="1140.6" width="18.5" height="8" fill="#E69F00"/>
<text x="1666.3" y="1151.3" font-family="'Liberation Sans', Arial, sans-serif" font-size="23.8">CD46</text>
<rect x="1742.4" y="1140.6" width="18.5" height="8" fill="#56B4E9"/>
<text x="1763" y="1151.3" font-family="'Liberation Sans', Arial, sans-serif" font-size="23.8">CD55</text>
<rect x="1836.4" y="1140.6" width="18.5" height="8" fill="#F0E442"/>
<text x="1858" y="1151.3" font-family="'Liberation Sans', Arial, sans-serif" font-size="23.8">CD71</text>
<rect x="1928.3" y="1140.6" width="18.5" height="8" fill="#CC79A7"/>
<text x="1949.9" y="1151.3" font-family="'Liberation Sans', Arial, sans-serif" font-size="23.8">CD46/CD55/CD71</text>
<path d="M1145 1218.8V1463.8H1389.5" fill="none" stroke="#000" stroke-width="2.2"/>
<line x1="1139" y1="1441.2" x2="1145" y2="1441.2" stroke="#000" stroke-width="2"/>
<text x="1134.5" y="1450.2" font-family="'Liberation Sans', Arial, sans-serif" font-size="24.5" text-anchor="end">5</text>
<line x1="1139" y1="1383.6" x2="1145" y2="1383.6" stroke="#000" stroke-width="2"/>
<text x="1134.5" y="1392.6" font-family="'Liberation Sans', Arial, sans-serif" font-size="24.5" text-anchor="end">6</text>
<line x1="1139" y1="1326" x2="1145" y2="1326" stroke="#000" stroke-width="2"/>
<text x="1134.5" y="1335" font-family="'Liberation Sans', Arial, sans-serif" font-size="24.5" text-anchor="end">7</text>
<line x1="1139" y1="1268.4" x2="1145" y2="1268.4" stroke="#000" stroke-width="2"/>
<text x="1134.5" y="1277.4" font-family="'Liberation Sans', Arial, sans-serif" font-size="24.5" text-anchor="end">8</text>
<line x1="1188.2" y1="1463.8" x2="1188.2" y2="1470.3" stroke="#000" stroke-width="2"/>
<line x1="1241.6" y1="1463.8" x2="1241.6" y2="1470.3" stroke="#000" stroke-width="2"/>
<line x1="1295" y1="1463.8" x2="1295" y2="1470.3" stroke="#000" stroke-width="2"/>
<line x1="1348.4" y1="1463.8" x2="1348.4" y2="1470.3" stroke="#000" stroke-width="2"/>
<path d="M1402.2 1218.8V1463.8H1646.7" fill="none" stroke="#000" stroke-width="2.2"/>
<line x1="1396.2" y1="1441.2" x2="1402.2" y2="1441.2" stroke="#000" stroke-width="2"/>
<line x1="1396.2" y1="1383.6" x2="1402.2" y2="1383.6" stroke="#000" stroke-width="2"/>
<line x1="1396.2" y1="1326" x2="1402.2" y2="1326" stroke="#000" stroke-width="2"/>
<line x1="1396.2" y1="1268.4" x2="1402.2" y2="1268.4" stroke="#000" stroke-width="2"/>
<line x1="1445.4" y1="1463.8" x2="1445.4" y2="1470.3" stroke="#000" stroke-width="2"/>
<line x1="1498.8" y1="1463.8" x2="1498.8" y2="1470.3" stroke="#000" stroke-width="2"/>
<line x1="1552.2" y1="1463.8" x2="1552.2" y2="1470.3" stroke="#000" stroke-width="2"/>
<line x1="1605.6" y1="1463.8" x2="1605.6" y2="1470.3" stroke="#000" stroke-width="2"/>
<path d="M1659.4 1218.8V1463.8H1903.9" fill="none" stroke="#000" stroke-width="2.2"/>
<line x1="1653.4" y1="1441.2" x2="1659.4" y2="1441.2" stroke="#000" stroke-width="2"/>
<line x1="1653.4" y1="1383.6" x2="1659.4" y2="1383.6" stroke="#000" stroke-width="2"/>
<line x1="1653.4" y1="1326" x2="1659.4" y2="1326" stroke="#000" stroke-width="2"/>
<line x1="1653.4" y1="1268.4" x2="1659.4" y2="1268.4" stroke="#000" stroke-width="2"/>
<line x1="1702.6" y1="1463.8" x2="1702.6" y2="1470.3" stroke="#000" stroke-width="2"/>
<line x1="1756" y1="1463.8" x2="1756" y2="1470.3" stroke="#000" stroke-width="2"/>
<line x1="1809.4" y1="1463.8" x2="1809.4" y2="1470.3" stroke="#000" stroke-width="2"/>
<line x1="1862.8" y1="1463.8" x2="1862.8" y2="1470.3" stroke="#000" stroke-width="2"/>
<path d="M1916.6 1218.8V1463.8H2161.1" fill="none" stroke="#000" stroke-width="2.2"/>
<line x1="1910.6" y1="1441.2" x2="1916.6" y2="1441.2" stroke="#000" stroke-width="2"/>
<line x1="1910.6" y1="1383.6" x2="1916.6" y2="1383.6" stroke="#000" stroke-width="2"/>
<line x1="1910.6" y1="1326" x2="1916.6" y2="1326" stroke="#000" stroke-width="2"/>
<line x1="1910.6" y1="1268.4" x2="1916.6" y2="1268.4" stroke="#000" stroke-width="2"/>
<line x1="1959.8" y1="1463.8" x2="1959.8" y2="1470.3" stroke="#000" stroke-width="2"/>
<line x1="2013.2" y1="1463.8" x2="2013.2" y2="1470.3" stroke="#000" stroke-width="2"/>
<line x1="2066.6" y1="1463.8" x2="2066.6" y2="1470.3" stroke="#000" stroke-width="2"/>
<line x1="2120" y1="1463.8" x2="2120" y2="1470.3" stroke="#000" stroke-width="2"/>
<text transform="translate(1113.5,1348.6) rotate(-90)" font-family="'Liberation Sans', Arial, sans-serif" font-size="24.3" text-anchor="middle">CD55</text>
<path d="M1145 1498.3V1743.4H1389.5" fill="none" stroke="#000" stroke-width="2.2"/>
<line x1="1139" y1="1715.5" x2="1145" y2="1715.5" stroke="#000" stroke-width="2"/>
<text x="1134.5" y="1724.5" font-family="'Liberation Sans', Arial, sans-serif" font-size="24.5" text-anchor="end">4</text>
<line x1="1139" y1="1674" x2="1145" y2="1674" stroke="#000" stroke-width="2"/>
<text x="1134.5" y="1683" font-family="'Liberation Sans', Arial, sans-serif" font-size="24.5" text-anchor="end">5</text>
<line x1="1139" y1="1632.6" x2="1145" y2="1632.6" stroke="#000" stroke-width="2"/>
<text x="1134.5" y="1641.6" font-family="'Liberation Sans', Arial, sans-serif" font-size="24.5" text-anchor="end">6</text>
<line x1="1139" y1="1591.1" x2="1145" y2="1591.1" stroke="#000" stroke-width="2"/>
<text x="1134.5" y="1600.1" font-family="'Liberation Sans', Arial, sans-serif" font-size="24.5" text-anchor="end">7</text>
<line x1="1139" y1="1549.6" x2="1145" y2="1549.6" stroke="#000" stroke-width="2"/>
<text x="1134.5" y="1558.6" font-family="'Liberation Sans', Arial, sans-serif" font-size="24.5" text-anchor="end">8</text>
<line x1="1139" y1="1508.1" x2="1145" y2="1508.1" stroke="#000" stroke-width="2"/>
<text x="1134.5" y="1517.1" font-family="'Liberation Sans', Arial, sans-serif" font-size="24.5" text-anchor="end">9</text>
<line x1="1188.2" y1="1743.4" x2="1188.2" y2="1749.9" stroke="#000" stroke-width="2"/>
<text x="1188.2" y="1770.5" font-family="'Liberation Sans', Arial, sans-serif" font-size="24.5" text-anchor="middle">5</text>
<line x1="1241.6" y1="1743.4" x2="1241.6" y2="1749.9" stroke="#000" stroke-width="2"/>
<text x="1241.6" y="1770.5" font-family="'Liberation Sans', Arial, sans-serif" font-size="24.5" text-anchor="middle">6</text>
<line x1="1295" y1="1743.4" x2="1295" y2="1749.9" stroke="#000" stroke-width="2"/>
<text x="1295" y="1770.5" font-family="'Liberation Sans', Arial, sans-serif" font-size="24.5" text-anchor="middle">7</text>
<line x1="1348.4" y1="1743.4" x2="1348.4" y2="1749.9" stroke="#000" stroke-width="2"/>
<text x="1348.4" y="1770.5" font-family="'Liberation Sans', Arial, sans-serif" font-size="24.5" text-anchor="middle">8</text>
<text x="1266.2" y="1798.5" font-family="'Liberation Sans', Arial, sans-serif" font-size="24.3" text-anchor="middle">CD46</text>
<path d="M1402.2 1498.3V1743.4H1646.7" fill="none" stroke="#000" stroke-width="2.2"/>
<line x1="1396.2" y1="1715.5" x2="1402.2" y2="1715.5" stroke="#000" stroke-width="2"/>
<line x1="1396.2" y1="1674" x2="1402.2" y2="1674" stroke="#000" stroke-width="2"/>
<line x1="1396.2" y1="1632.6" x2="1402.2" y2="1632.6" stroke="#000" stroke-width="2"/>
<line x1="1396.2" y1="1591.1" x2="1402.2" y2="1591.1" stroke="#000" stroke-width="2"/>
<line x1="1396.2" y1="1549.6" x2="1402.2" y2="1549.6" stroke="#000" stroke-width="2"/>
<line x1="1396.2" y1="1508.1" x2="1402.2" y2="1508.1" stroke="#000" stroke-width="2"/>
<line x1="1445.4" y1="1743.4" x2="1445.4" y2="1749.9" stroke="#000" stroke-width="2"/>
<text x="1445.4" y="1770.5" font-family="'Liberation Sans', Arial, sans-serif" font-size="24.5" text-anchor="middle">5</text>
<line x1="1498.8" y1="1743.4" x2="1498.8" y2="1749.9" stroke="#000" stroke-width="2"/>
<text x="1498.8" y="1770.5" font-family="'Liberation Sans', Arial, sans-serif" font-size="24.5" text-anchor="middle">6</text>
<line x1="1552.2" y1="1743.4" x2="1552.2" y2="1749.9" stroke="#000" stroke-width="2"/>
<text x="1552.2" y="1770.5" font-family="'Liberation Sans', Arial, sans-serif" font-size="24.5" text-anchor="middle">7</text>
<line x1="1605.6" y1="1743.4" x2="1605.6" y2="1749.9" stroke="#000" stroke-width="2"/>
<text x="1605.6" y="1770.5" font-family="'Liberation Sans', Arial, sans-serif" font-size="24.5" text-anchor="middle">8</text>
<text x="1523.5" y="1798.5" font-family="'Liberation Sans', Arial, sans-serif" font-size="24.3" text-anchor="middle">CD46</text>
<path d="M1659.4 1498.3V1743.4H1903.9" fill="none" stroke="#000" stroke-width="2.2"/>
<line x1="1653.4" y1="1715.5" x2="1659.4" y2="1715.5" stroke="#000" stroke-width="2"/>
<line x1="1653.4" y1="1674" x2="1659.4" y2="1674" stroke="#000" stroke-width="2"/>
<line x1="1653.4" y1="1632.6" x2="1659.4" y2="1632.6" stroke="#000" stroke-width="2"/>
<line x1="1653.4" y1="1591.1" x2="1659.4" y2="1591.1" stroke="#000" stroke-width="2"/>
<line x1="1653.4" y1="1549.6" x2="1659.4" y2="1549.6" stroke="#000" stroke-width="2"/>
<line x1="1653.4" y1="1508.1" x2="1659.4" y2="1508.1" stroke="#000" stroke-width="2"/>
<line x1="1702.6" y1="1743.4" x2="1702.6" y2="1749.9" stroke="#000" stroke-width="2"/>
<text x="1702.6" y="1770.5" font-family="'Liberation Sans', Arial, sans-serif" font-size="24.5" text-anchor="middle">5</text>
<line x1="1756" y1="1743.4" x2="1756" y2="1749.9" stroke="#000" stroke-width="2"/>
<text x="1756" y="1770.5" font-family="'Liberation Sans', Arial, sans-serif" font-size="24.5" text-anchor="middle">6</text>
<line x1="1809.4" y1="1743.4" x2="1809.4" y2="1749.9" stroke="#000" stroke-width="2"/>
<text x="1809.4" y="1770.5" font-family="'Liberation Sans', Arial, sans-serif" font-size="24.5" text-anchor="middle">7</text>
<line x1="1862.8" y1="1743.4" x2="1862.8" y2="1749.9" stroke="#000" stroke-width="2"/>
<text x="1862.8" y="1770.5" font-family="'Liberation Sans', Arial, sans-serif" font-size="24.5" text-anchor="middle">8</text>
<text x="1780.7" y="1798.5" font-family="'Liberation Sans', Arial, sans-serif" font-size="24.3" text-anchor="middle">CD46</text>
<path d="M1916.6 1498.3V1743.4H2161.1" fill="none" stroke="#000" stroke-width="2.2"/>
<line x1="1910.6" y1="1715.5" x2="1916.6" y2="1715.5" stroke="#000" stroke-width="2"/>
<line x1="1910.6" y1="1674" x2="1916.6" y2="1674" stroke="#000" stroke-width="2"/>
<line x1="1910.6" y1="1632.6" x2="1916.6" y2="1632.6" stroke="#000" stroke-width="2"/>
<line x1="1910.6" y1="1591.1" x2="1916.6" y2="1591.1" stroke="#000" stroke-width="2"/>
<line x1="1910.6" y1="1549.6" x2="1916.6" y2="1549.6" stroke="#000" stroke-width="2"/>
<line x1="1910.6" y1="1508.1" x2="1916.6" y2="1508.1" stroke="#000" stroke-width="2"/>
<line x1="1959.8" y1="1743.4" x2="1959.8" y2="1749.9" stroke="#000" stroke-width="2"/>
<text x="1959.8" y="1770.5" font-family="'Liberation Sans', Arial, sans-serif" font-size="24.5" text-anchor="middle">5</text>
<line x1="2013.2" y1="1743.4" x2="2013.2" y2="1749.9" stroke="#000" stroke-width="2"/>
<text x="2013.2" y="1770.5" font-family="'Liberation Sans', Arial, sans-serif" font-size="24.5" text-anchor="middle">6</text>
<line x1="2066.6" y1="1743.4" x2="2066.6" y2="1749.9" stroke="#000" stroke-width="2"/>
<text x="2066.6" y="1770.5" font-family="'Liberation Sans', Arial, sans-serif" font-size="24.5" text-anchor="middle">7</text>
<line x1="2120" y1="1743.4" x2="2120" y2="1749.9" stroke="#000" stroke-width="2"/>
<text x="2120" y="1770.5" font-family="'Liberation Sans', Arial, sans-serif" font-size="24.5" text-anchor="middle">8</text>
<text x="2037.8" y="1798.5" font-family="'Liberation Sans', Arial, sans-serif" font-size="24.3" text-anchor="middle">CD46</text>
<text transform="translate(1113.5,1601) rotate(-90)" font-family="'Liberation Sans', Arial, sans-serif" font-size="24.3" text-anchor="middle">CD71</text>
<line x1="1148" y1="1207" x2="1380.6" y2="1207" stroke="#000" stroke-width="2"/>
<text x="1265" y="1197.7" font-family="'Liberation Sans', Arial, sans-serif" font-size="23.5" text-anchor="middle">Cas13d</text>
<line x1="1405.2" y1="1207" x2="1637.8" y2="1207" stroke="#000" stroke-width="2"/>
<text x="1522.2" y="1197.7" font-family="'Liberation Sans', Arial, sans-serif" font-size="23.5" text-anchor="middle">Cas9-nuclease</text>
<line x1="1662.4" y1="1207" x2="1895" y2="1207" stroke="#000" stroke-width="2"/>
<text x="1779.4" y="1197.7" font-family="'Liberation Sans', Arial, sans-serif" font-size="23.5" text-anchor="middle">KRAB-dCas9</text>
<line x1="1919.6" y1="1207" x2="2152.2" y2="1207" stroke="#000" stroke-width="2"/>
<text x="2036.6" y="1197.7" font-family="'Liberation Sans', Arial, sans-serif" font-size="23.5" text-anchor="middle">KRAB-dCas9-MeCP2</text>
<path d="M1230.5 1310.5l4 0 4.5-1 7.5-3 6-4 3.5-3.5 5-7 7.5-7 1-2 0-3.5-4.5-8-1-8.5-1-2-7-6.5-3.5-3-6-1.5-8.5-0.5-23.5 0.5-4.5 1-10.5 5-9.5 7.5-3 3-5 9.5-5.5 7-0.5 3.5 1.5 2 12.5 11.5 10.5 6 10.5 3.5 12 0 7.5 1zM1217.5 1304.5l16 1 5.5-1 4-1.5 5-4 5-9 7-6 1-3.5-4-7-1.5-9-3-4.5-4-3.5-4-2-5.5-0.5-15 1-14 2-5 1.5-4.5 2.5-5 4.5-4 4.5-5 9.5-1 3.5 1 3.5 4 6.5 3.5 4 5.5 3 12.5 4 5.5 0.5zM1221.5 1301l11 0.5 7.5-2 3.5-3 9-12.5 0.5-2.5-0.5-3.5-4.5-8-2-7-3-2.5-3-1-15-1-8.5 0.5-6.5 1.5-4 2-3.5 3-10.5 14-1 3.5 0.5 3.5 2.5 4.5 3 3.5 5.5 2.5 19 4zM1217 1298l9 0.5 11-2 5-3.5 6-8 1-4.5-1-3.5-9.5-10.5-3-2-5-2.5-5.5-1-7.5 0.5-5.5 1.5-3.5 2.5-4.5 8-7.5 7-1 2.5 0 2 1.5 3.5 2.5 2.5 3 2 14.5 5zM1217.5 1295.5l7.5 0.5 10.5-2.5 6-4 4-5.5 0.5-3.5-2-3.5-11.5-10.5-4.5-2-7-1-7 2-2.5 2.5-3.5 6.5-6.5 6-1 2.5 0 3 2 2.5 15 7zM1218.5 1293l3.5 0.5 4 0 12-4 3-2.5 2-3 0.5-2.5-1-2-8.5-6-7-6-5-1-5 1.5-2 2-3 6-4.5 4.5-1 2.5 1 2 11 8zM1220 1289.5l5 1 10.5-3.5 3.5-2.5 0-3-2-2-12-6-3 0-4.5 4.5-1.5 3.5 2 6 2 2z" fill="none" stroke="#E69F00" stroke-width="2.0" stroke-linejoin="round"/>
<path d="M1238.5 1379.5l2.5 1 3.5-0.5 10.5-5.5 14.5-12 3.5-4 9-12.5 2.5-4.5 3-10.5 5-12.5 0-3.5-2-2-14-8.5-3.5-0.5-6.5 1-9.5 3-8.5 4.5-16 14-2 4.5 0 12-6 11-0.5 5 2 8 2 5.5 10.5 7zM1241 1370.5l5.5 1 6.5-2.5 5-4 11-11 7-10 3-7 3-14 0-2-1.5-2.5-4-1.5-14-1.5-5.5 0.5-6.5 2.5-6.5 7-3.5 5.5-7.5 22-1 4.5 0.5 3.5 1.5 3.5 3 3 4 3zM1242.5 1364.5l5 1 5.5-2 4-3.5 9-9 5.5-8.5 3-6.5 0-6-0.5-2.5-2-2-9.5-3-5.5-1-4 1.5-4 3.5-12 26.5 0 3.5 0.5 3.5 2 2.5 3 2zM1245.5 1360l4 0 3.5-1.5 7.5-7 4-5 3-5 2-4.5 0-3.5-2.5-3.5-4.5-2.5-4.5-1-3 0.5-3.5 2.5-5 13-4 7-1 3.5 0.5 4.5 3.5 2.5zM1250.5 1349.5l2.5 0.5 3-1.5 3-2.5 3-3.5 2-3.5 0-2-0.5-2.5-2-1.5-4.5-1-3 2.5-2.5 6-1 9z" fill="none" stroke="#CC79A7" stroke-width="2.0" stroke-linejoin="round"/>
<path d="M1320.5 1321l4 0.5 5-2.5 5.5 0 7.5-6 8.5-15 3.5-14-7.5-12.5-6.5-6.5-12-5.5-7.5-1.5-4 1-5.5 5.5-2 1-7.5 0.5-1 2 0 6.5-3.5 12 0.5 2 2 6 0 8 2 4.5 5.5 5 13 9zM1319 1316l2 1 2.5 0 5-3.5 6.5-0.5 4.5-2 4-5 3-7 1-4.5 0.5-11.5-1-5-2.5-4.5-3-3.5-4.5-3-12.5-5-3.5 0.5-3 1-10.5 8.5-4.5 6-1.5 6 2 8 0 9 1 3.5 4 4.5 10.5 7zM1318.5 1313l3.5 0.5 5.5-2.5 7.5-1 3.5-1.5 3-4 3-8 1-15-2-6-2.5-3-4-3-12.5-5-5.5 1-6.5 4.5-6 7-2.5 6 1.5 9 0 8 1 3.5 3 3.5 9 6zM1320 1310.5l2 0 5.5-1.5 6.5-1 3-1.5 3.5-4 2-7 1.5-14-2-5.5-2.5-3-3.5-2.5-11.5-4-5.5 1-5.5 4-5.5 6.5-2 6 1 15 0.5 3.5 3 3 9.5 5zM1320.5 1308l12.5-1.5 2-0.5 2.5-2.5 2.5-5.5 2-15-0.5-5-3.5-4.5-5-2.5-8.5-3-5.5 1-5 3.5-4.5 5.5-2 6 0.5 15 1.5 3.5 3 2.5 8 3zM1319 1306l5.5 0.5 9-2 3.5-3.5 1.5-4.5 2-13.5-0.5-5-1.5-2-3.5-2.5-9.5-4-5.5 0.5-4 2-4.5 5-2.5 6 1 17 2.5 3.5 6.5 2.5zM1320.5 1304.5l9 0 4.5-2 2.5-4.5 1-9.5 1.5-5.5 0-3.5-3-4-6.5-3.5-5-1.5-4.5 0.5-4.5 2.5-3.5 4.5-2 6 0.5 12.5 1 3.5 3.5 3 5.5 1.5zM1322 1303.5l6.5 0 4.5-2.5 1.5-3 1-9.5 2-7-1-3.5-2.5-2-5.5-3-4-1.5-4.5 0.5-4 2.5-3.5 5-1 4.5 0 11.5 1 3.5 3.5 3 6 1.5zM1322 1302.5l6.5-0.5 3.5-2 1-3.5 0.5-9 1.5-6-1-3.5-2.5-2-4-2.5-4-0.5-4.5 0.5-3 2.5-2.5 3.5-1 4.5 0.5 11.5 0.5 2.5 3.5 3 5 1.5zM1321.5 1301l5 0.5 3-1.5 2-2 0.5-3.5 0-7 1-6-0.5-2-3-3.5-5-2-4.5 0.5-3 1.5-2.5 3.5-1 3.5 1.5 14 2 2.5 4.5 1.5zM1321.5 1300l4 0.5 3-1.5 2-2.5 0.5-2 0-15-2.5-2.5-4-2-3.5 0-3 1.5-2.5 3-1 3.5 2 13.5 2 2.5 3 1zM1321.5 1299l5 0 2-2 1-2.5 0-14-2-3-3-1-3.5 0-3 1.5-2 2.5-0.5 2.5 2 12.5 2 2.5 2 1zM1322 1298l2.5 0 2-0.5 1.5-2 0.5-2.5-0.5-12.5-1.5-2-3-1-4.5 1-1.5 2-1 2.5 2 11.5 1.5 2 2 1.5zM1323 1296.5l2.5 0 1.5-2 0-11.5-1.5-3.5-3.5-0.5-3 1.5-1 3.5 2.5 10.5 2.5 2zM1323 1294.5l1.5 0 1-1.5 0-9-1-2.5-2.5-0.5-1.5 0.5-0.5 2.5 2 9 1 1.5z" fill="none" stroke="#7F7F7F" stroke-width="2.0" stroke-linejoin="round"/>
<path d="M1331 1428l2 1 1 0 4.5-3.5 6-2.5 4.5-4.5 2-4 2-5 2-16 0-9.5-3-26.5-0.5-18.5-1-3-2.5-3.5-6.5-6.5-3-1.5-11 1-2 1.5-1 1.5-8 29-2.5 20 1 20 5 5.5 5 14.5 3.5 7.5 2.5 3zM1331.5 1417.5l2.5 1 8.5-3 2-1.5 3.5-5.5 2-9.5 0.5-23-3-31-1-3.5-2-3.5-3-3-2-1-8.5 0.5-3.5 2.5-2 4-3 8.5-3 15 0 9.5 2 16 7 22 3 5.5zM1333.5 1410.5l2.5 0.5 5.5-1.5 2-2 1.5-2.5 1.5-7 2-22-3-22-3-9-1-2-2-1.5-7.5-1-3.5 1.5-2.5 5.5-3 11.5-1 9 1 15 1.5 8 6.5 16 2.5 3.5zM1334.5 1404l1.5 0.5 3.5 0 2-1 1-2 3.5-17.5 1-9-2.5-14-3-10-3-4-6.5-2.5-3.5 2-2 5-2 9.5-0.5 8 1.5 14 1.5 7 4 9 3.5 5zM1336 1399l3.5 0 2-3.5 3-14.5 0.5-8.5-2-10-2.5-7-4.5-5-4-2-2.5 1.5-1 2-1.5 5.5-1 9.5 0.5 10.5 1 6.5 1.5 6 4 6.5 3 2.5zM1335 1393.5l2 0.5 1.5 0 1.5-3 2.5-9 1-8-1-7-2-6.5-3.5-4.5-4-2.5-2 1-2 4.5-1 6.5 0 7 2 13 2 4.5 3 3.5zM1334 1387.5l2 1 1 0 2-2 1.5-6 1-6.5-1-6-1-4-2.5-2.5-3-1.5-2 1-1 2.5-1 8 1 10.5 3 5.5zM1334.5 1382l1.5 0.5 1-0.5 1.5-2.5 0.5-4.5-1-6-1-1.5-2-1-1 0.5-1 2-0.5 3.5 0.5 5.5 1.5 4z" fill="none" stroke="#56B4E9" stroke-width="2.0" stroke-linejoin="round"/>
<path d="M1475 1353l6 0 11-3.5 11.5 0 21.5-4 4-2 4.5-3.5 5.5-5.5 3.5-4.5 2.5-8 0-3.5-1-3.5-10-15-6-8-8-8-3.5-7.5-2-2-3.5 0-6.5 3.5-21 6.5-11 5-4 3.5-12.5 16.5-1 4.5 1 5.5 11 16.5 1.5 4.5 2 9 2 2.5 2.5 1zM1480.5 1344l10.5-0.5 11.5 1 18-2.5 4.5-2 3-2.5 7-8.5 2.5-4.5 1-5 0-3.5-1.5-3-4.5-7-9.5-12.5-10-8-5-1.5-6.5 0-16 5-6.5 2.5-5.5 4.5-11 15.5-1 4.5 1.5 5 7.5 9 6.5 11 3.5 3zM1499 1340.5l4.5 0.5 11-0.5 7.5-2.5 3-2 4-5 4-6.5 1.5-5 0-3.5-2-4.5-12-15-6-5-7.5-2.5-4.5 0-5.5 0.5-11.5 3.5-5.5 2.5-3.5 3.5-4 8-4.5 7-0.5 2 1.5 5 10 11.5 3 2 6.5 1.5 10.5 4.5zM1501 1337l4.5 1 7.5 0 4.5-1 3-1.5 4-4.5 4.5-8 1.5-4.5 0-3.5-3.5-5.5-7.5-8.5-3.5-3-4-2.5-5-1.5-6.5-0.5-7.5 0.5-6.5 1.5-4.5 2.5-2.5 3-5.5 14-0.5 3.5 3 4.5 4.5 4.5 10 3 7 5.5 3 1zM1506 1334.5l8.5 0.5 3-1.5 2-1.5 3-4.5 3-6.5 0.5-3.5-1.5-3.5-9-10.5-6.5-4.5-5.5-1.5-7.5-0.5-5 0.5-5 1.5-3 2-2 5-2 9 1 4.5 3.5 3.5 9.5 3.5 8.5 6.5 4.5 1.5zM1507.5 1331l5.5 0 2.5-1 1.5-3.5 0-2-2.5-6-1.5-8-2-3.5-4-3.5-10-3-5-0.5-4.5 1-2.5 2.5-1.5 4.5 0 6 1 3.5 2 1.5 7.5 4 8.5 6 5 2zM1503 1324.5l2.5 0.5 2-2 0-5.5-2-4.5-11.5-9-3-0.5-2.5 1-1.5 3.5 1 5 11 9 4 2.5z" fill="none" stroke="#E69F00" stroke-width="2.0" stroke-linejoin="round"/>
<path d="M1461.5 1408.5l11 0.5 11-1.5 7-3.5 1.5-2.5 0-2.5-2-3.5-2.5-2-8.5-4-10.5-1-9.5 1.5-4.5 2-3 2.5-2 2.5 0 2 1 3.5 2.5 2.5 8.5 3.5zM1507.5 1379.5l11 1 15-0.5 20.5-1.5 15-2 9.5-3 8-4.5 5.5-4.5 1-2 0-2.5-3.5-3.5-10-4-47-11.5-16-1.5-16 2-9.5 3-8.5 5-3 3.5-2.5 3.5-0.5 6 1 3 2 2.5 7 5.5 8.5 3.5 12.5 2.5zM1466 1404l5.5 0 5.5-1 3-2.5 0.5-2.5-2.5-2.5-4.5-1.5-5-0.5-4.5 1-4 2.5-0.5 2 1.5 2.5 5 2.5zM1515.5 1377.5l11.5-0.5 22.5-1.5 17-2.5 6.5-2 5.5-3 3-3.5 0-3.5-3-3.5-7-3.5-40-9.5-15-1.5-14 1.5-9.5 3.5-6.5 4.5-3.5 5-0.5 3.5 0 2.5 4 5 7.5 4.5 9.5 3 12 1.5zM1512 1375l15 0 34.5-3.5 9.5-3.5 3-2.5 1-3-2.5-3.5-6-3-36-9-13-1.5-12 1-8.5 2.5-6 4-4 4.5-0.5 5 3 4.5 5.5 3.5 7.5 3 9.5 1.5zM1507.5 1372.5l14.5 1 34-3.5 5.5-1 5-2 2-2.5 0.5-2-1.5-2.5-5-2.5-33.5-8.5-10.5-1.5-10.5 0.5-7.5 2-6 3-3.5 3.5-1.5 4.5 1.5 3.5 3.5 3.5 6 3 7 1.5zM1510 1371.5l13 0 30-3.5 7.5-2.5 1.5-1 0.5-2-2.5-2.5-2.5-1-30.5-9-9.5-1-8.5 0.5-6.5 1.5-6 3-3 3.5-1 3.5 1.5 3.5 4.5 3.5 5 2 6.5 1.5zM1513 1370.5l11-0.5 24.5-4.5 4-1 1.5-1 0-1-4-2.5-25-8.5-8.5-1-8.5 1-5.5 1.5-4 2.5-2.5 3.5-0.5 3.5 3 3 3 2 5.5 2 6 1zM1507.5 1368l8 1 9.5-1 13-3.5 2.5-2 0-1.5-3-2-10.5-5-8.5-2-8.5 0.5-8 3-3 2-1 2.5 0.5 2.5 1.5 2 3.5 2 4 1.5zM1509 1367l7.5 0.5 7.5-1 6-2 2-1 1-2.5-3-3.5-7-3-7.5-1-6.5 1-3.5 1-3 2-1 1.5-0.5 2 2.5 3.5 5.5 2.5zM1512 1365.5l6.5 0.5 5-1.5 3.5-2 0.5-2.5-2.5-2.5-6.5-2-5.5 0-5 1-3 2.5-1 1 0.5 2.5 3 2 4.5 1zM1511.5 1363.5l7 0 2.5-1 1-1.5-0.5-1-1-1-3.5-1.5-6 0.5-2 1.5-0.5 1.5 0.5 1.5 2.5 1z" fill="none" stroke="#CC79A7" stroke-width="2.0" stroke-linejoin="round"/>
<path d="M1576 1341.5l5.5 1 3-2 4.5-10 7.5-5.5 2-2.5 2-5 1-6-3-10.5-1-9-1.5-3.5-9-8-7.5-4-3.5-1-3 1.5-4 4-2.5 0-3-1-2 0.5-8 15-5 16 0 3.5 1 4.5 3.5 7 1.5 8 2 3.5 1.5 1.5 2 0.5 5.5-2.5 2 0 8.5 4zM1573 1336l4.5 1 3-1.5 5.5-8.5 9.5-7 1.5-2.5 0.5-3.5-1-7-4.5-10.5-4-5.5-4-7-3.5-2.5-3-0.5-2.5 0.5-5 4.5-6.5 0.5-2.5 2-5 9.5-4 16 0.5 4.5 6 7 1.5 7.5 5.5-1 2 0.5 5.5 3.5zM1576 1333.5l3-1 4.5-7 9-7 1.5-2.5 0.5-3-0.5-6-2.5-6-10-13.5-3-2-2.5 0.5-5 3-5.5 0-3 2-2.5 3.5-2 5.5-3 14 1 3.5 5 4.5 3.5 4.5 8.5 6 3 1zM1573 1330l3 0.5 2.5-1 4-6 7.5-6 2.5-6-0.5-4.5-2-4.5-8.5-11-3-2-6.5 2-7.5 0.5-3.5 4.5-2 7-0.5 8 0.5 3.5 7.5 10.5 6.5 4.5zM1573 1327.5l2 1 2.5-1 4-5 6.5-5.5 2.5-5.5 0-3.5-2-4.5-7-9-3-2-13 2-3 3.5-2 5.5 0.5 7 4.5 10.5 2.5 3.5 5 3zM1572.5 1325.5l2.5 0.5 2.5-1 9-9 2-4.5 0-4.5-1.5-3.5-5.5-7-3-2-12 1.5-2.5 2-2 4.5 0 5.5 4.5 10.5 2.5 4 3.5 3zM1571.5 1323l3.5 1 2.5-1 7.5-7 2-4.5 0.5-3.5-1.5-3.5-4.5-5.5-3-2.5-11 1.5-2 1-2 3.5 0 4.5 3.5 9 2 4.5 2.5 2.5zM1573.5 1322l2.5-0.5 6.5-5.5 2.5-2.5 1-3-0.5-3.5-1.5-3.5-3.5-3.5-3-1.5-10 1.5-1.5 1-1 2.5 0.5 4.5 2.5 8 2 3.5 3.5 2.5zM1572.5 1319.5l2.5 0.5 2.5-1 4.5-4 2-3.5 0.5-2-0.5-3.5-2.5-3-3-2.5-3.5 0-5 1-2.5 1.5-0.5 1.5 0 3.5 1.5 6 1.5 3.5 2.5 2zM1572 1317.5l2 1 2-0.5 4-3 2.5-3.5 0.5-2-0.5-2.5-3-3.5-2-1-3.5 0-3 1-2 1-0.5 2.5 0 3.5 1.5 4 2 3zM1573.5 1316l2.5 0 4.5-4.5 0.5-3.5-2.5-3-5-0.5-3 2.5-0.5 2.5 0.5 3.5 1.5 2 1.5 1zM1574 1314l2-0.5 2.5-3-0.5-2.5-2-1-2 0-2 2.5 0 2 2 2.5z" fill="none" stroke="#7F7F7F" stroke-width="2.0" stroke-linejoin="round"/>
<path d="M1578 1416.5l1.5 1 2-0.5 5.5-6 8.5-5.5 3-3 3-10.5 1.5-10 4.5-9.5 0.5-18.5-1-4.5-3-4.5-8.5-7-3.5-1.5-2 0-9.5 3.5-10.5-0.5-10 5.5-2.5 3.5-1.5 3.5-1.5 11.5-2.5 8 0 4.5 2 8 0.5 9.5 1 3.5 7 7 8.5 4 7 8.5zM1578 1407l3.5 0.5 9.5-4 4-4.5 2-5.5 4.5-30 0-7-1-3.5-2-3.5-3-3-3.5-2-18 0.5-3 0.5-8 4-1.5 2-1.5 2.5-1 9.5-3 8 0 3.5 3.5 17 1.5 3.5 2.5 2.5 8 3.5 6.5 5.5zM1580 1401.5l6 0.5 4-2 3.5-4.5 2-8 2.5-23-0.5-4.5-0.5-3.5-2.5-3.5-2.5-2-3-1-13-0.5-4 1.5-4.5 3-3 4-5.5 16 0 3.5 2 9 2.5 6 3 2.5 13.5 6.5zM1580.5 1398l5.5 0.5 2-0.5 2-2 2.5-6 2-9.5 1-15-0.5-5.5-1.5-3-2.5-2.5-5-1.5-8.5 0.5-8 4-3.5 5-4 11.5 0 3.5 1 5.5 3 7 7 5 7.5 3zM1581 1395.5l5 0 3-3 2.5-6 1.5-8 0.5-11.5-1-6-2.5-3.5-2-1.5-3-0.5-7.5 1.5-7.5 4-3.5 5-2 8 1 7 4 8 5 4.5 6.5 2zM1578.5 1393.5l4 0.5 4-2 2.5-4 2-6 0.5-7 0-10.5-2.5-4.5-3-1.5-5.5 0-8 4-3.5 3-1.5 5 0 7 3.5 9 3 4.5 4.5 2.5zM1577 1391l3.5 1 4-1 2.5-2.5 2-4.5 0.5-5.5 0-11.5-1-3.5-2.5-2.5-4.5 0-6.5 2.5-3 2-2 3.5-0.5 6 2.5 9 2 4.5 3 2.5zM1578 1390l2.5 0.5 3-1 2.5-2.5 1.5-4 0-15-1.5-3.5-2.5-1-3 0.5-5.5 3-2 2-1 2.5 0 3.5 2 10.5 1.5 2 2.5 2.5zM1580 1389l1.5-0.5 2-1.5 2-4 0-3.5-1.5-9-1.5-2.5-2 0-3 2.5-2 4.5-0.5 5.5 1 5 1.5 2 2.5 1.5zM1580 1386.5l2.5-1 1-2.5-1-3.5-2-1.5-2 1-1 3 0.5 3.5 2 1z" fill="none" stroke="#56B4E9" stroke-width="2.0" stroke-linejoin="round"/>
<path d="M1754.5 1324.5l6.5 0.5 7.5-0.5 36.5-13 6-1 15-1 8.5-2.5 4.5-2.5 3.5-3.5 0-10-1.5-3-4.5-2.5-5-1.5-7.5-1.5-12-0.5-14 3.5-5-0.5-5.5-2.5-11.5-8.5-7.5-2.5-6.5 0-6.5 1-19.5 6.5-7 4-3.5 4.5-0.5 9 2.5 11.5 3 6 4.5 4 5.5 2 14 4.5zM1757.5 1319.5l6.5 0 6.5-1.5 35-13.5 15-0.5 5.5-1 3-2 2-2 1.5-3.5 0-3.5-2-2.5-2.5-0.5-7.5-1-7.5 1.5-10.5 4.5-8.5-0.5-8.5-3.5-8.5-7-5.5-4-7.5-2.5-7.5 0-14 4.5-5.5 3-3.5 4.5-2 8 1.5 8 3.5 7 4 3.5 6.5 2.5 10.5 2zM1751 1315l12 1 11.5-3 7-2.5 6-3.5 3.5-3.5 0-2.5-2-2-7-4.5-9.5-8-6.5-3.5-3.5-1.5-4 0-11 2.5-4.5 2.5-3.5 3.5-3 5.5 0 4.5 1 4.5 4 6 4.5 3 5 1.5zM1756 1313l9-0.5 9.5-2 5.5-3.5 1.5-2.5 0-2-7.5-9.5-5.5-3.5-4.5-1.5-5.5-0.5-5 0-4.5 1.5-4 2-3.5 3.5-1.5 3.5 0.5 4.5 2 3.5 3.5 3.5 4 2 6 1.5zM1759.5 1310.5l9-1 6-2.5 1-1 0.5-2.5-3-5.5-4.5-5-6.5-2-8.5 0.5-6.5 2.5-2.5 2.5-1 2.5 0.5 3.5 1.5 2 5.5 4 8.5 2zM1754 1307l7 1 5-0.5 4-1.5 1-1.5 0-2-2.5-4.5-4.5-3.5-5.5-1-5 0.5-4.5 2.5-1.5 3.5 0.5 2.5 1 1.5 5 3zM1756.5 1304.5l7 0 1.5-1 0.5-2.5-1.5-2-3-2-3.5-0.5-3 1-2 1.5-0.5 2 2 2.5 2.5 1z" fill="none" stroke="#E69F00" stroke-width="2.0" stroke-linejoin="round"/>
<path d="M1767.5 1383l5 1 6.5-2.5 10.5-7 3-3 1.5-3.5 1-4.5-2.5-9.5 0-4.5 6.5-12.5 1.5-6-2.5-3.5-7.5-6-3-2-4.5-0.5-4 1-10.5 5.5-3.5 1-3 0-5.5-1.5-3 1-3.5 3-3 5-3.5 12-5 5-2 3-0.5 5 2 10 1 3.5 1.5 2.5 6.5 3.5 14 2 6.5 2.5zM1768.5 1376l6 1 6.5-1.5 6.5-3.5 3.5-5 0.5-4.5-2-13 0.5-3.5 3-7 0.5-4.5-3-4.5-5-3.5-3.5-0.5-4 0.5-12 4.5-9.5 1.5-3 1.5-3.5 4-1.5 9.5-5.5 6.5-2 3.5 0 5 1 4.5 1.5 3.5 2.5 2.5 4 1.5 11-0.5 7.5 2zM1768.5 1372.5l6 1 6.5-1 5.5-3 2.5-4 0.5-4.5-2-12.5 2-11.5-2-4-4.5-3-3-0.5-3 0.5-11 5-7.5 1.5-3 1-2 3-2.5 8.5-6 10 0 5.5 1 2.5 2 2 3 1 7.5-1 10 3.5zM1773.5 1371.5l5.5-0.5 4-1.5 3-2.5 1.5-3.5-0.5-4.5-1.5-11.5 1-9.5-2-3.5-3.5-2-5 0.5-9 5-8.5 3-2 2.5-7.5 16.5 0 2.5 1 1.5 7.5 1 9.5 5 6.5 1.5zM1770 1369l4.5 1 5.5-1 3.5-2 2-3.5 0.5-4.5-2.5-13 0-7-1.5-2-2-1.5-4 1-15 7.5-3 3.5-2.5 5.5-0.5 4.5 1.5 2.5 7.5 6.5 6 2.5zM1771 1368l5 0.5 4-1.5 3-2.5 1-2 0.5-5-1.5-6.5-3-9-2-2-3.5 0.5-10.5 5-3.5 3-2 4.5 0 3.5 2 4.5 5.5 4.5 5 2.5zM1772 1367l4 0 3-1 2-1.5 2-3.5 0-5.5-2-6-2-4-3-2-5.5 1-5.5 3-3 3-1.5 3.5 1 5 2.5 3.5 3 2.5 5 2zM1772.5 1365.5l3.5 0 3-1 2-2 1-3.5-0.5-5-1.5-4-2-2.5-3.5-1.5-4 0.5-3.5 2-2.5 2.5-1.5 3 0 3.5 2 3.5 3.5 3.5 4 1zM1773 1364.5l3 0 3-2 1.5-2.5 0.5-2.5-0.5-3.5-1.5-3-2-2-3.5-1-3 0.5-3.5 2-1.5 2.5-1 2.5 0.5 3.5 1.5 2 3 2.5 3.5 1zM1770 1362.5l2.5 1 3.5-0.5 2-1.5 1-1.5 0.5-2.5-0.5-3.5-1-2-2-2-2.5-0.5-3 1-2 1.5-1.5 2-0.5 2.5 0.5 2.5 3 3.5zM1771 1361l3.5 0.5 3-1.5 0.5-2.5 0-2-2-3.5-3.5-0.5-2 1-1.5 1.5-0.5 3.5 1 2.5 1.5 1zM1771 1359l2.5 1 2-1 1-2.5-1.5-2.5-1.5 0-2 0.5-1 2 0.5 2.5z" fill="none" stroke="#CC79A7" stroke-width="2.0" stroke-linejoin="round"/>
<path d="M1825.5 1333.5l2.5 0.5 2-0.5 11-7 6-10.5 3.5-9.5 4.5-7.5 0.5-6-2.5-11.5-2.5-5-2-1-4.5-1-5-3.5-4.5-1-8.5-6-5.5-1-3 1.5-2 2-9.5 14-2.5 9-1 17.5 1 6 7 5.5 4 8 11 7zM1827 1329l2 0 8.5-5.5 6.5-8 7.5-16.5 0.5-4.5-2-8-2.5-4.5-5.5-2.5-16-11.5-4.5-1.5-3 1-2 2-8 13.5-2.5 8-0.5 12.5 1 4.5 2.5 3.5 18 17.5zM1827 1323l2 0.5 3.5-1.5 7.5-5.5 3-3.5 6.5-15 0-5-1-4.5-3.5-4-19-13.5-4.5-1.5-2 0.5-2.5 2.5-5.5 9-3 9.5 0 10 1 6 3 4.5 6 5.5 8.5 6zM1828 1319.5l3.5-0.5 8.5-5.5 2-2 5.5-13.5 0.5-5-2-4.5-3-3.5-9.5-7-8.5-5-3.5-1-3 1.5-4 6-3 10-0.5 7 1.5 10.5 2.5 4.5 4.5 4 8.5 4zM1824 1316l3 1 3 0 10-6 2-4 4-10.5 0-3.5-1.5-4.5-4.5-4.5-7.5-5-8.5-4-2.5-0.5-3 2-2.5 4-1.5 6-1 8 1 11.5 1 3.5 3 3.5 5.5 3zM1825 1315l3 0.5 2-1 9.5-6.5 4.5-11.5 0.5-3.5-1.5-4.5-6.5-5-6.5-3.5-8.5-2-3 2.5-1.5 4.5-1 9.5 0 11.5 1 3.5 1.5 2 3 2.5 3.5 1zM1822 1313l4 1 3-0.5 7.5-5.5 3-3.5 3.5-9 0-3.5-2-4-5.5-4-5.5-2.5-7 0.5-2.5 1.5-1.5 3-2 10 0 9.5 1.5 3.5 3.5 3.5zM1822 1311.5l4 1 4-1 7-7 3-4.5 2-5.5-0.5-3.5-2.5-3.5-4.5-2.5-4.5-1.5-4 0.5-3 2-2.5 3-2 7.5-0.5 8 1.5 5 2.5 2zM1822 1310.5l4 1 3-1 3-2.5 5.5-6.5 2.5-5 0.5-3.5-1-3.5-3-2-4-1.5-3.5 0-4 1.5-3.5 3.5-2 5.5-1 7 1 4 2.5 3zM1822.5 1309.5l2.5 1 2-0.5 2-1 2.5-2 7.5-10.5 0.5-3.5-2-3.5-3-1.5-3 0-5.5 1.5-3 2.5-2.5 4.5-1 6 1 4.5 2 2.5zM1822.5 1308l3.5 1 2-0.5 2-2 7.5-11 0.5-2.5-1.5-2-3-1-7.5 1.5-2.5 1.5-2 3.5-1 4.5 0.5 5 1.5 2zM1823 1307l3 1 3.5-2 5-10.5 0-2-7.5-0.5-3 1.5-2 3.5-0.5 3 0 3.5 1.5 2.5zM1824 1306l3 0 3-3.5 0-4.5-2-2.5-2.5 0-2 2.5-1 4.5 1.5 3.5zM1824.5 1303.5l1.5 1 2-2 0.5-2.5-1.5-2.5-1 0-1.5 1.5-0.5 2 0.5 2.5z" fill="none" stroke="#7F7F7F" stroke-width="2.0" stroke-linejoin="round"/>
<path d="M1823 1409.5l2 1 3.5-3.5 3-1 8.5 3 3-0.5 3-1.5 5.5-5.5 4.5-10 4.5-6 1-3.5-0.5-11.5 2-14-1.5-10.5-2-7-2.5-4.5-5.5-3-5.5-7-6-6-4.5-7.5-3-2-2.5 1-3 4-5.5 12.5-10.5 11-2.5 6.5 1 12.5-1 11.5 0.5 6 8.5 27.5 2 4 3.5 4zM1839.5 1402.5l2.5 0.5 3-1.5 3.5-3.5 2.5-4.5 5-14 1-18.5-2-14.5-1.5-3-5-5.5-3-7-2.5-3-9.5-8-2-0.5-3 2.5-14.5 24-1 5-1 19.5 7.5 24 2 3.5 3.5 2 8.5 1 6 1.5zM1838.5 1398l3.5 0 2-1 2.5-2.5 3-4.5 4.5-18.5 0.5-9-2.5-9.5-6.5-9-4-10.5-5-4.5-4-2.5-3.5 2-3.5 5-8.5 16-2 8-0.5 11.5 1.5 6 8 18.5 4 2.5 10.5 2zM1836.5 1394.5l3.5 0 3-1 4-4.5 1.5-5 3.5-13.5 1-7-1-4.5-1.5-3.5-7-9.5-5-10-3-3.5-3-1-3.5 1.5-2.5 3-7.5 15-2 6.5 0 8 1.5 8.5 7.5 16.5 3 2.5 7.5 1.5zM1831.5 1391l4 1 4.5-0.5 2.5-1.5 2-2.5 3-7 3-11.5 0.5-4.5-0.5-4.5-1.5-3.5-7-8.5-5.5-10-2-2-2-1-3.5 1.5-3 4-6 12.5-1.5 8 1 9.5 7 16 2.5 3.5 2.5 1zM1832.5 1389l3 0.5 3.5-0.5 3-1.5 2-2 3-8 2.5-13-1-4.5-2-3.5-11.5-16-1.5-1.5-2-0.5-3.5 2-5.5 10.5-2 5.5-0.5 4.5 1 7 7 16 2 3.5 2.5 1.5zM1833 1386.5l2.5 0.5 3.5 0 2-1.5 2-2.5 3.5-9 1-9.5-1-4.5-3-4.5-9-12.5-3-1.5-3.5 2.5-3.5 7-2.5 5.5-0.5 4.5 1 6 6.5 15 2.5 3.5 1.5 1zM1834 1384l2.5 1 2.5-0.5 3-3 3-7.5 1-8.5-1.5-5.5-3.5-6-6.5-8-3-1.5-2.5 1-3 5.5-2.5 5.5 0 4.5 1 4.5 5.5 14.5 2 3 2 1zM1835 1382l4 0 3-3.5 2-7 0.5-6-1.5-5.5-3-5.5-5.5-6-3-1.5-2.5 1.5-2.5 4.5-1.5 4.5 0 3.5 7 17.5 3 3.5zM1835.5 1378.5l1 0.5 2.5-0.5 2-2 2-6 0-6-1.5-4.5-2.5-5-4.5-4-3-1-2.5 2-1 2-1 6 6.5 16 2 2.5zM1836.5 1374l1 0.5 1.5 0 1-2 1.5-4.5-0.5-4.5-1-4-2.5-3-3-3-2-0.5-2.5 2.5-0.5 4.5 1.5 4.5 5.5 9.5zM1836.5 1368l1 0.5 1.5-0.5 0-4.5-1.5-4-3-2.5-1.5 0.5-0.5 3.5 2 4.5 2 2.5z" fill="none" stroke="#56B4E9" stroke-width="2.0" stroke-linejoin="round"/>
<path d="M2022.5 1332.5l5 0 3.5-1.5 3-2 1.5-2.5 3.5-8 8-8 1-4.5-2.5-7-1-8-2-7-2-3.5-2.5-1-8-1-6.5-2-4.5-0.5-9.5 2-6.5 3.5-7.5 5.5-4 4-2.5 3.5-0.5 3.5 8 27.5 19.5 2 6.5 5zM2025 1325.5l1.5 0 1-0.5 2.5-4 7.5-7 3.5-4.5 1-3.5-1-10.5-3.5-8-2.5-3-12.5-3.5-5.5 0-6.5 2.5-13 8-3 5 0.5 7 2 7 5 8 2 2.5 4.5 1.5 12.5 1 4 2zM2011 1319.5l6 1 5.5-1.5 9.5-5 3.5-3.5 1-3.5 0.5-11.5-4-6-3-2.5-9-3.5-5 0.5-6 3.5-8 6.5-2 3-1.5 4 1.5 6.5 7 10 4 2zM2012 1316l4 1.5 4-1 10-5 2.5-3.5 1-8-1-3.5-7.5-8-4-2-4 0-4 2-9.5 12.5-0.5 2.5 1 2.5 8 10zM2014 1313l4 0.5 4.5-2 5-3 2-2.5-1-4-6-4-1.5-2.5-0.5-3.5-1.5-1.5-2 0-2 1.5-6 10.5-0.5 2 1.5 3.5 4 5zM2014 1308l2 1 3 0 3-2 1-2.5-5-4-3-0.5-2.5 3.5 0 2.5 1.5 2z" fill="none" stroke="#E69F00" stroke-width="2.0" stroke-linejoin="round"/>
<path d="M2023 1402.5l5.5-1 4.5-3.5 9.5-11.5 7.5-11.5 8.5-9.5 3.5-5.5 2.5-10.5-0.5-11.5-2.5-7-2-2.5-3-2-4.5-1.5-17-2-4 0.5-3.5 1.5-3 2.5-3.5 4.5-4 10.5-2 3.5-16.5 15-4 6-1.5 3.5 0 4.5 1.5 4.5 2.5 3.5 15.5 16 5.5 2.5 5 1zM2019.5 1397l3 0 3-0.5 5-3 4.5-6 9-13.5 9.5-9.5 3.5-4.5 2.5-7 0.5-9-1.5-7-2-3-2-1.5-4.5-1.5-6.5-0.5-8.5 1-5 2-3.5 4-2 7.5-2 3.5-13 9-6 6-3 4.5-1 6 2 5.5 10.5 12.5 4 3.5 3.5 1.5zM2018 1392l5.5 1 4-2.5 3.5-4 8-14 11-9.5 3.5-4 2.5-6 1-7-1.5-5.5-3.5-4-3-1.5-3 0-4.5 0.5-4.5 2-3.5 3-4 9-3 3.5-13 6-3.5 3.5-4 4.5-1.5 5.5 1 5 7 10 5.5 4.5zM2020 1389l3.5-0.5 3.5-3 5.5-13 2.5-3.5 12-7.5 4.5-5 2-4.5 0-4.5-1-5-2.5-2.5-4-1-5.5 1.5-3.5 3.5-4.5 10-2.5 4.5-3.5 1-9.5 2-3.5 2-3 3.5-1.5 5.5 1 6 5 7 2.5 2 2.5 1.5zM2020 1383l2.5-0.5 1-2 2-8-1.5-4.5-1.5-1.5-2.5-0.5-2 0.5-2.5 1.5-2 4.5 0.5 3.5 1.5 3.5 2.5 2.5 2 1zM2039.5 1357.5l2 1 2-0.5 3-1.5 2-2.5 1-2 0.5-3.5-0.5-2.5-1.5-1.5-2-1-2.5 0.5-3 3.5-2 5.5 0 2.5 1 2z" fill="none" stroke="#CC79A7" stroke-width="2.0" stroke-linejoin="round"/>
<path d="M2078 1336l2 0.5 2 0 5.5-3 6.5-2 2-1.5 2-3.5 9-18.5 1-4.5-1-7-2.5-5-6.5-5-5-7-3.5-2-5.5-1.5-4 0.5-8.5 3.5-4.5-0.5-2 1 0 2.5 2.5 3.5 0 2-7.5 9.5-2.5 5.5 0.5 6 2 8 2 2 5 4 11 12.5zM2078 1332.5l2 1 2-0.5 12.5-6.5 9-19.5 1-4.5 0-3.5-1.5-3.5-6-5-4.5-5.5-3-1.5-9.5-2.5-3.5 0.5-2.5 2.5-4 7-7 8-1.5 3.5-0.5 3.5 0.5 4.5 2 4.5 14.5 17.5zM2078.5 1330l1.5 1 2 0 11.5-6.5 1.5-3 2.5-7.5 3.5-8 1-3.5-1.5-4.5-9-10.5-3-1.5-7.5-1.5-3 0-3.5 3-8 10.5-2 4.5-1 3.5 1 4.5 3 5.5 11 14zM2079 1327.5l2 1.5 2-0.5 7.5-4.5 2-2 2-3.5 4.5-15-1-4.5-6.5-9-3-2.5-5.5-1-4 0-4.5 3.5-6 8-2.5 6.5 0.5 5 2.5 5.5 10 12.5zM2080.5 1326.5l2.5 0 8.5-5.5 1.5-3.5 4-13-0.5-4.5-5-8-4-3.5-4.5-1-4 1-4.5 3-5 6.5-2 6.5 1 5 2 5.5 6 8.5 4 3zM2080 1324.5l3 0 7.5-5 2-4.5 3-9-0.5-5-3.5-6.5-3-3.5-4.5-2-4 0.5-4.5 2.5-4.5 6-2 5.5 0.5 4.5 2 6 5 7 3.5 3.5zM2079 1322l2 1 2 0 4-2 2.5-2.5 2.5-4.5 2-8 0-5-3-5.5-3.5-4-3.5-1.5-4 0.5-3.5 2-4.5 5.5-1.5 4.5 0 4.5 1.5 4.5 3.5 6.5 3.5 4zM2080.5 1321l3.5-0.5 5-3 2.5-4.5 1.5-7-0.5-5-2-4.5-3-3.5-3.5-2-3 0.5-4.5 2.5-3 4-2 4.5 0 4.5 2 4.5 4 7 3 2.5zM2080 1318.5l3 0.5 4.5-2 3-4 1.5-6 0-4.5-1.5-3.5-3-4.5-3.5-2-3 0-4.5 3-2.5 3.5-1.5 3.5 0 3.5 1 3.5 3 5.5 3.5 3.5zM2080 1316l3 1 3.5-1 2.5-3 2-6 0-4.5-1.5-3.5-2.5-3.5-3-2-3 0.5-3 2-3 3-1 3.5 0.5 5.5 5.5 8zM2081 1314l2 1 3.5-1 2-2.5 1.5-4.5 0-3.5-1-3.5-2.5-3.5-2.5-1.5-2 0-3 2-2.5 2-1.5 3.5 0.5 3.5 1 2 4.5 6zM2082 1311.5l2 1 2.5-1 1.5-2 1-3.5 0-3.5-1.5-3-2-2.5-2.5-0.5-2 0.5-2.5 2-2 4 1.5 4.5 4 4zM2082.5 1309.5l1.5 0.5 2.5-1 1.5-3-1-5-3-2.5-3 1-2 3 0.5 3.5 3 3.5zM2083.5 1307l2 0 1-2.5-0.5-2-2-1.5-2 0.5-1 2 1 2.5 1.5 1z" fill="none" stroke="#7F7F7F" stroke-width="2.0" stroke-linejoin="round"/>
<path d="M2098 1409.5l2 0.5 3-1.5 5.5-17.5 3.5-18.5 0.5-25-1-8.5-7-19.5-8.5-5-5.5-1-4 2-6 5.5-7 10-2 5-1 6.5 0 15-1 18.5 1.5 6 4.5 7.5 4.5 13 3 4.5 3.5 2 6.5-1.5 5 2zM2086.5 1402.5l11.5-0.5 2-2 5-11 2-7 1.5-8 1.5-18.5-1-7-3.5-8-3-11-6.5-7.5-2-1.5-3.5-0.5-2 0.5-2 1.5-7 9-4.5 9.5-1.5 7 0 18 0.5 8.5 6 14.5 2.5 9.5 1.5 3 2.5 1.5zM2086.5 1398l2 1 3-0.5 4.5-1.5 2-2 6-11 2.5-11.5 1-17-0.5-4.5-8-19-4-5-3.5-1.5-3 1-8 9.5-3 8-1.5 8-0.5 12.5 1 8 8 22 2 3.5zM2089 1395.5l2.5 0 3-2 7-8.5 2.5-5.5 1-7 0.5-16-0.5-4.5-6.5-16-2.5-3.5-2-1-4.5 1-7.5 5.5-3 7-1.5 8 0 11.5 1 8 7.5 19.5 1.5 3 1.5 0.5zM2088.5 1392l2 0.5 3.5-2.5 3-4.5 4.5-5 2-6.5 0.5-16.5-1-5.5-5-12.5-3-3-8.5 2-3.5 2-2.5 4.5-1.5 7-0.5 9 1.5 9.5 6.5 18.5 2 3zM2089 1389l1.5 0.5 2-2 3.5-5.5 4-4 2-5.5 0-19.5-4-9.5-3-3-11 2-2.5 3.5-1.5 6 0 8 1 8 6 17.5 2 3.5zM2088.5 1384l1 1.5 2-1 3.5-6 4-4.5 1-3.5 0.5-17.5-2.5-6-1-1.5-2-1.5-11 2-2 2.5-1 3.5 0 5.5 0.5 7 7 19.5zM2089.5 1379.5l1 0 1-1 5-8 1-3.5 1-13-1.5-5-2-1.5-9.5 1-2.5 2-0.5 2.5-0.5 6 1 5.5 6.5 15zM2089 1372.5l1.5 1 1-0.5 2-4 1.5-4.5 1.5-9-1-2.5-1.5-1.5-7.5 0-1 0.5-1.5 2-0.5 3.5 0.5 5 2.5 5.5 2.5 4.5zM2088.5 1367l1 0.5 1 0 1-1.5 1.5-6-1.5-3.5-3-1-2 1-0.5 2.5 0.5 3.5 2 4.5z" fill="none" stroke="#56B4E9" stroke-width="2.0" stroke-linejoin="round"/>
<path d="M1211.5 1612l5 1 6.5-0.5 14-6.5 13.5-3.5 4-3.5 5.5-10 2.5-3 11-7 1.5-2.5-0.5-3.5-5.5-7-1-2.5 1.5-11-1-3.5-2.5-1.5-9.5-4-9-7-21.5-6.5-5 0.5-7.5 1.5-16 6.5-4.5 0.5-7.5-1.5-2 0.5-2 2-3 5-2.5 12.5 1 9-0.5 11.5 1 7 2.5 3.5 4.5 3 10.5 2 3.5 1.5 5 10.5 4.5 4.5 3.5 2zM1217 1604l6 0.5 5-0.5 10-3.5 7-3 6.5-6 12-13.5 1.5-2.5-0.5-2.5-3-6.5 0.5-10.5-1.5-3.5-16-11.5-14-5-4.5-0.5-5 1-26.5 8.5-4.5 2.5-2 3.5-0.5 16.5-1 4-2.5 6 0.5 5 2 2.5 2 1 12 3 3 3 5.5 8.5 3 2 5 1.5zM1218 1600l5 0.5 5-0.5 6.5-2 5.5-2.5 10-7.5 6-7.5 2-4-1-10 0-8-1.5-4.5-7-5-14-8-4-1.5-4.5-0.5-5 1-22.5 9-3 3.5-3 10-1 14 1 3.5 2.5 2.5 9 5 8 10 6 2.5zM1222.5 1596.5l5.5 0 4.5-1 10.5-6 7-6.5 2.5-4 1-3.5-0.5-15.5-2-5-4.5-4-8.5-3.5-6.5-4-3.5-1-3 0-4 1-10 5.5-9.5 4-4 5-2.5 7 1 10 2.5 5 7.5 5.5 7.5 8.5 4 2 5 0.5zM1218 1592.5l9 0.5 6.5-2 11-7 2.5-3.5 1-3 1.5-16-1.5-5-3.5-3.5-8.5-3-8-4-5 0.5-8.5 5-11 4.5-4 3.5-2 4.5 0.5 7 3.5 7 12 12 4.5 2.5zM1218.5 1589l5.5 0.5 6-1.5 8-4 3.5-3.5 1.5-4 3-14-0.5-4-2.5-2.5-4-2-13-3-7.5 3.5-12.5 3-4.5 3.5-1.5 2.5-0.5 3 1 4 2 4.5 3 4 6.5 6 3.5 2.5 3 1.5zM1217 1585l4 0.5 4.5-0.5 8-4 3.5-3 2-3 3-11 0-3-1.5-2.5-3.5-2-6.5 0-8.5 2-13 0.5-3 1.5-3 2-1 2.5 0 2.5 2.5 5.5 5.5 7 7 5zM1217 1581.5l4 0.5 3-1 6.5-4.5 6.5-10 0.5-2.5-0.5-2.5-3.5-0.5-9.5 2.5-13-2-3 1-2 1-1 2-0.5 2 2 4 5.5 6.5 5 3.5zM1218.5 1578l2.5 0 3-1.5 1-3.5-0.5-2-3.5-2.5-5.5-2.5-3.5-0.5-2 0.5-0.5 2.5 2.5 5 3 3 3.5 1.5z" fill="none" stroke="#E69F00" stroke-width="2.0" stroke-linejoin="round"/>
<path d="M1234 1683.5l4 0 9.5-2.5 16-0.5 5-2 3.5-5 3.5-14 2-3.5 2-1.5 8-5 3-3.5 1-4 0-14-1-4-11.5-14.5-6-4.5-7.5-2.5-8.5-0.5-19 6.5-4.5 3-6.5 8.5-10.5 7.5-6 7-1.5 6 2 7.5 0 8 2.5 8.5 0.5 9 3.5 3.5 16.5 6.5zM1230.5 1673.5l6.5 0.5 10.5-2.5 11.5-1.5 3.5-1 3-3 6.5-14 9.5-8 2-3.5 1-4 0-5-1.5-4.5-10-12-4-2-12-1.5-5.5 0-6 1.5-6 3.5-9 10-9 6.5-3 2.5-1 2.5-0.5 3.5 1 15.5 1.5 7.5 1.5 3.5 2 2.5 3 2 4.5 1zM1232 1668.5l7 0 17-3.5 4.5-2 3-3 5.5-11 7.5-9.5 1.5-4 0-2.5-1.5-2.5-8.5-9-5.5-3-6.5-2-5.5-0.5-4 1-4 2.5-7.5 8.5-11 9-1 2.5-1 3.5-0.5 11.5 0.5 5 1.5 4 2 2.5 2.5 2 4 0.5zM1232.5 1665.5l7.5 0 14-3.5 4-2 3.5-3 8-16.5 1-4-0.5-3.5-1.5-3.5-3-3.5-3-3-7.5-3.5-4.5 0-3 1-20 18.5-1.5 3-1 3.5 0 12.5 2.5 5 5 2.5zM1234 1663l6 0 6.5-2 9-3 4-3.5 5.5-12.5 1-5.5-1-3.5-1.5-3.5-5.5-5-4-1.5-4.5 0.5-7.5 7.5-9.5 7-3 3.5-1.5 5.5-0.5 9 2 4.5 4.5 2.5zM1235.5 1660.5l4.5 0 5.5-2 8.5-3.5 3-3.5 4.5-9 1-4.5-1.5-5-4-4.5-3-1-3.5 1-8.5 7.5-7.5 5-2 2.5-2 6 0 6 1.5 3 3.5 2zM1235.5 1656l2.5 1 3-1 2.5-2.5 0.5-1.5-5-3.5-3 0-1.5 2-0.5 2.5 0.5 2 1 1zM1250 1648.5l1.5 0 2.5-1.5 2-2.5 2-4 0-4-1-2-2-1.5-2 0-2.5 1-3 4 0 5 1 4 1.5 1.5z" fill="none" stroke="#CC79A7" stroke-width="2.0" stroke-linejoin="round"/>
<path d="M1331 1617l3 0.5 10.5-2 3.5-2.5 3-5 1-4-1.5-10 0-14-0.5-7-9-21.5-9-11-15-11-3.5-2-3 0-4 2.5-4 6-3.5 7.5-2.5 9-0.5 6.5 3.5 12.5 1.5 16.5 2 3.5 5.5 4.5 6.5 11.5 3 2 6.5 2.5 6.5 5zM1331 1611.5l3 0.5 7.5-0.5 3-1.5 2-2.5 1-5 0-19.5-1-10-5.5-14.5-4-6-9-9-7-5.5-7.5-5-3 0-3 2.5-3 4.5-2 5-1.5 6-0.5 9 3.5 16.5 2.5 7.5 6 9 2.5 7.5 1.5 3.5 2.5 2 6.5 2.5 5.5 3zM1333 1608l5.5 0.5 3-0.5 2-1.5 1-2.5 1.5-21-2-10.5-4.5-12.5-4-6-14.5-12.5-5-3-4.5-0.5-2.5 2-2.5 4-2 13.5 0 6.5 2 14 2.5 5 5.5 8.5 2.5 8.5 2 2.5 2.5 1.5 11.5 4zM1333.5 1605l6 0.5 2-1.5 1-2.5 2-18.5-0.5-5.5-2-6-3.5-10-3.5-5-8-6.5-7-6.5-3-1.5-3.5 0.5-2 1.5-1.5 2.5-3 12.5 0 10 1 8.5 2.5 5 5.5 8 4 9.5 4.5 2.5 9 2.5zM1333 1601.5l5.5 0 2-1.5 0.5-2.5 2-13.5-0.5-6-1.5-5.5-3-9-3.5-5-8.5-7-6-5.5-2-1-2 0-2.5 1.5-1.5 2.5-3 10-0.5 10 1 8.5 2.5 5 10 15.5 4.5 2.5 6.5 1zM1326.5 1597.5l8.5 0.5 2-0.5 1.5-1 2-3.5 1-5-0.5-10-3.5-12-3.5-6-3-3-6-3.5-5-5-3-1-3.5 3-2 7-1.5 10 0.5 7.5 1 4 2.5 4 8 11.5 4.5 3zM1328 1595l7-0.5 3.5-2 1-3.5 1-4-1.5-10-2.5-9-3.5-5.5-13-9.5-3-0.5-2.5 3-2 6.5-1.5 9 1 6.5 2.5 6 6.5 9 3.5 3 3.5 1.5zM1325.5 1591.5l6.5 0.5 3-0.5 2-1.5 1-2.5 1-3.5-1-7.5-2.5-9-3-6-4-3-8.5-5-2-0.5-2 2-2 5-1.5 8.5 0.5 6.5 1 4 2 3.5 6 6.5 3.5 2.5zM1327.5 1590l5.5-1 3-3 1-5.5-1-8-2-6-3-4.5-4.5-3-7.5-3-2 1-2 5.5-1.5 7.5 0.5 5.5 2 4.5 4 5 4.5 4 3 1zM1325 1587.5l4.5 0 4-2.5 2-4.5-0.5-6.5-2-6.5-2.5-4-4-3-6.5-2-2 1-2 4-1 6.5 0 5 1 3 2.5 3.5 3.5 4 3 2zM1325.5 1585.5l3 0 3.5-2.5 1.5-4 0-6-1-4.5-3-4.5-4-2.5-4.5-0.5-2 1-1.5 3-1.5 5 0 4 1 3.5 2 3 3 3.5 3.5 1.5zM1326.5 1584l2.5-1 2-2.5 1.5-4-0.5-4-1-4-2.5-3.5-3-2-3.5-0.5-2 1-1.5 3-1 4.5 0 4 1.5 3 2 3 3.5 2.5 2 0.5zM1324 1581.5l2.5 0.5 2-1 2-3 0.5-4-0.5-3-2-4-2-1.5-3-1-3.5 2-1 3.5-0.5 3 1.5 5 4 3.5zM1325 1580l1.5 0 1.5-1 1-2.5 0.5-2.5-1.5-5-1.5-1.5-2-1-2.5 1-1 1-1 4.5 1.5 4.5 3.5 2.5zM1323.5 1576.5l2 1 1-1 1-2.5-1-3.5-2-1-1.5 0.5-1 2.5 0 2.5 1.5 1.5z" fill="none" stroke="#7F7F7F" stroke-width="2.0" stroke-linejoin="round"/>
<path d="M1334 1723.5l2 0.5 2.5-1.5 10.5-16.5 1.5-4 5.5-21.5 0-9.5-2-18-2.5-15 2.5-20-1-4-1-2-1-1-4 0.5-2.5-0.5-5-7-6.5-0.5-6.5-1.5-3 2.5-3.5 7-4 5.5-1.5 5-2.5 13.5-0.5 14-3 12.5 0 16 1.5 9.5 5 12 2 13 2 5.5 2 2.5 6.5 0 6.5 3zM1330.5 1714.5l4.5 0.5 3.5-1.5 8.5-12.5 2.5-6.5 3-15 0.5-5-4-35-0.5-16.5-1.5-2-5.5-2.5-7-8-3.5-2-3.5-1-2 1-2 3-5.5 11.5-1.5 5-2 14-2 32.5 0.5 8.5 4 12 3 16.5 2 2.5 5.5-0.5 3 1zM1331 1709.5l3 0 3-2 8.5-10.5 2.5-7.5 2-15-2-26-3-19-10-14-3-3-3.5-1-2 0.5-2.5 3.5-4.5 11-2 8-1.5 11-1 27.5 1 7.5 5.5 26.5 2 1.5 7.5 1zM1330 1705l3 0.5 2-1 9.5-10 2.5-7.5 1-12.5-1.5-26-2.5-13-3-7.5-4-6-4.5-5.5-4-2-2 1.5-2 3.5-3.5 9.5-2.5 8-1.5 10 0 20 0.5 8.5 5 24.5 2 3.5 5.5 1.5zM1330 1702l3 0 2-1.5 8-8.5 2.5-7 1-10.5-1-25-2-10.5-3.5-9.5-3-4.5-5-6-3.5-1-2 1.5-2 3.5-4.5 15-1.5 9-0.5 16 1 9 4.5 24 2 4 4.5 2zM1329 1698.5l3 0.5 2-1 7.5-8 2.5-6.5 1-10-0.5-21.5-1.5-9-6-15-3-4-4.5-2.5-2 0.5-1 1.5-4.5 10.5-2 10.5-1 11.5 0.5 12.5 4.5 23.5 2 4 3 2.5zM1328.5 1695l2.5 1 2-0.5 7.5-8 2.5-6.5 0.5-9 0-19-1.5-9-3.5-10-2.5-5-3-2.5-3.5-1.5-1 0.5-2 2-3.5 8-2 10-1 11.5 0.5 11 5 21.5 1 3 2 2.5zM1330.5 1692.5l1.5 0 2-1.5 5-6 2-3 1.5-7.5 0.5-17.5-1-10-4-11.5-3-5-2-1-2-0.5-3.5 1.5-3.5 6.5-2 10-1 11.5 1 9.5 5 19.5 1.5 4 2 1zM1329.5 1688.5l1.5 1 2-1 5.5-5.5 2-5 1-7 0.5-15.5-1-7.5-4-11-2-3.5-2-1-4.5 1.5-3 4-2 7.5-1.5 10 1 11.5 5 18 1.5 3.5zM1330.5 1685l1.5 0.5 1-0.5 5.5-6 1.5-4.5 0.5-8.5 0.5-10.5-1-7.5-4-10-1-1.5-2-1-4.5 2.5-2 2.5-2.5 6.5-1 9 0.5 10 5 16 2 3zM1330.5 1681l1.5 1 1-0.5 4.5-5.5 1.5-5 1-8 0-8.5-1-6.5-3-7-1-1.5-2-1-3.5 2-2.5 3.5-2 5.5-1 6.5 0.5 8.5 6 16.5zM1331 1677l1 0.5 2-0.5 3-4 1.5-4.5 0.5-8 0-7-1-5.5-3-5.5-2-1-3.5 1.5-2 2.5-2 5.5-0.5 6 1 7.5 5 12.5zM1332 1672l2 0.5 2-2.5 1.5-4 0.5-7.5 0-5-1-5-2-3.5-2-1-2 0.5-3 3.5-1.5 4-0.5 5 1 6.5 5 8.5zM1331.5 1666l1.5 1 2-1 2-7.5-1-7.5-1-2.5-2-2-2 1-1.5 1-2 7 0.5 5.5 3.5 5zM1331.5 1661l1.5 0.5 1-1 1-3.5-0.5-4-1.5-3-2 1-1.5 3.5 0 4 2 2.5z" fill="none" stroke="#F0E442" stroke-width="2.0" stroke-linejoin="round"/>
<path d="M1514 1609l3.5 0 2-1.5 7-7.5 13-7.5 2-2.5 0.5-2.5 3.5-21-0.5-7.5-1.5-3-7-7.5-5.5-12-3-2.5-3-1.5-18-6.5-5.5-0.5-4.5 1.5-5 4.5-3.5 2-9.5 2-13 5-8.5 1-2 1.5-2 3.5-0.5 7.5 0.5 2.5 3 7 0.5 6.5-1.5 12.5 1 3 1.5 2.5 7 6 7.5 4 8.5 2.5 14 2 19 6.5zM1502 1599l7 1 5.5-1 16.5-9 2.5-2.5 2-3.5 3-14 0-5-1.5-4-10.5-18.5-4.5-3.5-12-5-4.5-1-4 0.5-8.5 4.5-13 4-6 4-9 16.5-1.5 6.5-1 6.5 0 5 1.5 4.5 3.5 3.5 4 3.5 7.5 3 14 1.5 9 2.5zM1500.5 1594l5 0.5 5.5-0.5 6.5-2 6.5-3 4-3.5 2.5-3 2.5-5 1-5 0-5-1.5-5-2.5-6-5-8-5.5-4.5-8.5-4-4-1.5-4.5 0.5-14 4.5-5 2-3.5 2.5-2.5 3-7 12.5-2 5-1.5 5.5 0 4 1 4.5 2.5 3 4.5 3.5 6 2.5 12 1 7.5 1.5zM1505.5 1590.5l9-1 4-1.5 4.5-3 3-3.5 2.5-4 1-4.5 0-4.5-0.5-5-1.5-4.5-6-8-3-3-6.5-3-4-2-4.5-0.5-12.5 3-4.5 2-4 3.5-3 4-4.5 9-2 7-1 4.5 2 6 2 2.5 3 2 4.5 1 8.5 0 13.5 3.5zM1506 1587.5l4 0 4.5-1 3-1.5 3.5-3.5 2.5-4 2-6 0.5-5-1-4-1.5-4-3-4.5-4-3-4.5-2.5-8.5-2.5-9.5 1.5-7 3.5-4.5 5-3 8 0 7.5 1 2.5 3 2 8.5 4 9 5.5 5 2zM1506.5 1584l5.5 0 3-1.5 2.5-2.5 4.5-11.5 0-4.5-0.5-3-2-3.5-3-2.5-7.5-4-8.5-1.5-7.5 1.5-5 3-3 4.5-1.5 5 1 5 3 4 19 11.5zM1507.5 1580l3 0 2.5-2 4.5-8 1.5-5-1.5-5-4.5-3.5-5-1.5-11-0.5-5 2-2.5 2-1.5 3 0 3.5 1 2.5 3 2.5 15.5 10zM1507 1572.5l2 0 2-1 3.5-5 0-4-3.5-2.5-2-0.5-3.5 1-3.5 2-2.5 2.5 0 1.5 2 2.5 5.5 3.5z" fill="none" stroke="#E69F00" stroke-width="2.0" stroke-linejoin="round"/>
<path d="M1511.5 1685l5 0 4-1 18.5-9.5 6.5-5.5 4.5-8 3-10.5-0.5-10-2.5-8.5-7-13-1-7 1.5-4 3-2 2-0.5 7.5 2 3 0 4.5-2 3.5-5 1.5-7.5-0.5-7.5-3.5-6.5-2-2.5-3.5-2-3-0.5-3.5 0.5-9.5 7.5-2 0-6.5-1.5-3 0-4.5 1.5-4 3-6.5 6.5-7.5 14-11.5 13.5-5 8-2.5 9.5-2.5 23-0.5 7.5 1.5 6 2.5 5 4 3.5 5.5 1.5 11 2zM1510.5 1679.5l5 0 4-1 18.5-8.5 3.5-3 3.5-4 3.5-9.5 1-8-1-7.5-3-6.5-10-17-1.5-6.5 0.5-10-1-2.5-2-1-4.5 1-5 4-9 11-10.5 10-4.5 6.5-3.5 8.5-3 23 0.5 6 1 4.5 2 4 3.5 2.5 4 2 8 2zM1555 1598l2 0.5 2.5-0.5 2-1.5 1-3.5 0-3-1-3.5-2.5-2.5-2-1-2 0.5-2 1.5-2 5 1 5 3 3zM1511 1675.5l4.5 0 4-1 17-7.5 6-6 2.5-4 1.5-5 0.5-9-3-9-4.5-7-8-10-3.5-3.5-3-2-2 0-3.5 1-14 10-5 7-3.5 9.5-2 17 0.5 6 1 4 2 3.5 3 2.5 9.5 3.5zM1513 1672l7.5-1 10-3.5 5-2.5 3.5-3 2.5-3.5 3-7.5 0-9-3-8-4-6-5-5.5-4.5-3-3-1.5-3 0-4.5 1-9.5 6-5.5 6.5-3.5 9-1.5 14 0.5 5 1.5 4 2 3.5 3 2.5 4.5 1.5 4 1zM1512 1668.5l4.5 0.5 4-1 13-4.5 5.5-5 3.5-6.5 0.5-8-3-8.5-6.5-8.5-4.5-3.5-3-1-6.5 0-8.5 4-6 5.5-3.5 7.5-1.5 11.5 1.5 9.5 1.5 3 2.5 2.5 6.5 2.5zM1511.5 1665.5l7 0.5 12-3 5.5-3.5 4-6 1.5-7.5-1.5-7-5.5-8.5-6.5-4.5-6-1-7.5 2.5-6 4.5-4 6-2 9 0.5 9 2.5 6 6 3.5zM1513 1663l7.5 0.5 8.5-2 5.5-3 4-5.5 1.5-7-1.5-6.5-4-6.5-6.5-4.5-3-1-3 0-6.5 2.5-5.5 4-4 5.5-1.5 7.5 0.5 7.5 3 5.5 5 3zM1518.5 1661l6.5 0 6.5-2.5 3.5-3 2.5-5 0.5-6-1.5-5.5-4-5.5-5.5-3.5-5 0-6.5 2.5-5.5 4.5-2.5 6-1 7.5 2 5.5 3.5 3.5 6.5 1.5zM1517 1658.5l6 0.5 6-1 3.5-2.5 3-4.5 1-5-1-5.5-3-4.5-4.5-3.5-5-0.5-5.5 1.5-4.5 3.5-3 5-1.5 6 1 5 2.5 3 5 2.5zM1520 1657l5 0 4-1.5 3.5-2.5 2-3.5 0.5-4-1.5-5-3-4-3.5-2-4-0.5-5.5 2-3.5 3.5-2.5 4.5-0.5 4.5 2 4.5 2.5 2.5 4.5 1.5zM1519.5 1654.5l3.5 0.5 4-0.5 3.5-2 2-3 0.5-3.5-0.5-4-2-3.5-3.5-2-3-0.5-4 1-3.5 2.5-2 3.5-1 3 1 4 2 3 3 1.5zM1522.5 1653l2.5 0 3-1.5 3-3.5 0-2.5-0.5-3.5-2-2.5-2.5-1-3 0-2.5 1-2.5 2.5-1 2.5-0.5 2.5 1 2.5 2 2.5 3 1zM1522 1649.5l4 0 2-2 0-3.5-2-2.5-3 0-2.5 2.5-0.5 3 2 2.5z" fill="none" stroke="#CC79A7" stroke-width="2.0" stroke-linejoin="round"/>
<path d="M1582.5 1621.5l2.5 0.5 3-4 6-18 2-17.5 0.5-13.5-1-6.5-2-6.5-7.5-9.5-4-11.5-3-5-3-2.5-6-1.5-5.5-4.5-3-0.5-9 6-2.5 2.5-2.5 4-1.5 6.5 0.5 11.5 5 17.5 2.5 19 2 4.5 6.5 6.5 8 14 3.5 3.5 8.5 5zM1577 1613l5.5 0 3.5-2.5 5-14 2-12.5 0.5-13-0.5-7-1.5-5-6.5-8-5-11-2.5-4-3.5-3-4-1.5-5.5-4.5-3 0-6.5 4-4 5-2 7.5 0.5 8 3 11.5 3.5 18.5 2 5 13.5 22.5 2.5 3 3 1zM1575 1608l3.5 0.5 5-3 2.5-3 2.5-7 2-5.5 1-7-0.5-17-2-5-5-7-8-14.5-11.5-8.5-3-0.5-4.5 2.5-4 4.5-2 6.5 0.5 7 8 34 12.5 20 3 3zM1575 1603l3.5 0 4-1.5 3-3.5 2.5-5 2-10.5-1-15-1.5-4-12-21-11-8.5-3-0.5-4.5 2.5-3 4-1 5 0 6 3 10 3.5 18 2 6.5 5 8.5 8.5 9zM1575.5 1598l3 1 3-1 2.5-1.5 2.5-4 1.5-5 0.5-5-1-11.5-1.5-5-11-20-10.5-9-3-1-3.5 1.5-2 2.5-1.5 3.5 0 3 0.5 4.5 3 10.5 3 17.5 2 6.5 3.5 6 3.5 3 5.5 3.5zM1576 1595l3.5 0.5 2-0.5 3.5-3.5 2-8.5-0.5-9-7.5-17.5-5-9-9.5-8-2-1-2.5 0.5-3 3-1 5.5 3.5 13.5 3.5 20.5 2 5 2.5 4 8.5 4.5zM1577 1592.5l2.5 0.5 2-0.5 3-3.5 1.5-6-1-6.5-7-18-4-8-2-2.5-7.5-6-3-1-3 2.5-1 4 3.5 14 3 20 1.5 4 2 3 2.5 1.5 7 2.5zM1577.5 1590l2 0 2.5-1 1.5-3 0.5-3.5-0.5-4.5-6-17-3-7-2.5-4-7.5-5-2-1-1 0.5-1.5 1.5 0 3 2.5 11.5 1 16 1.5 5 1.5 3.5 2.5 2.5 8.5 2.5zM1578.5 1587.5l2-1 1-1 0.5-4-5.5-20.5-3-6-2.5-3.5-4.5-2.5-3-0.5-1 3 2 24 1 5 1 2.5 2.5 2.5 9.5 2zM1570.5 1584l8-0.5 1-1.5 0-3-3-14-2-6-3.5-5.5-2-1.5-2.5 0-1 1.5-0.5 2.5 0.5 19.5 2 7 3 1.5zM1569 1581.5l3 0.5 3-1.5 1.5-1.5 0.5-3.5-1-8-1.5-6-2.5-4.5-3-2.5-1.5 0.5-1 2.5-0.5 12.5 0.5 7.5 2.5 4zM1570 1580l2-0.5 2-1.5 1-2.5 0.5-4-1.5-8-2-4.5-2-1.5-1 0.5-1.5 2-0.5 10 0.5 7 2.5 3zM1570 1577.5l2-0.5 1-1 1.5-5-1.5-7-1-2-2-1.5-1.5 3-0.5 6.5 0.5 5 1.5 2.5zM1570.5 1574l1.5-0.5 1-3.5-1-4-1-2-1 1-1 3.5 0.5 4 1 1.5z" fill="none" stroke="#7F7F7F" stroke-width="2.0" stroke-linejoin="round"/>
<path d="M1579 1706l3.5 0 6.5-6 5.5-2 2-2.5 4.5-7 5-4.5 1-3 1.5-10 3.5-9 1-4-0.5-6-5.5-16.5 1.5-13.5-1-5-2.5-3-2-1.5-2-0.5-5.5 1-2-0.5-2.5-3-3-6-1 1-2.5 5-1.5 2-8-1-2 1.5-2 2.5-10 22.5-4.5 27.5 0.5 8.5 4.5 13 9.5 14 4 4 4 2zM1576 1697.5l4.5 0.5 3-1 10.5-8.5 8-12.5 6.5-16.5 1-3.5-0.5-4-5.5-15.5 0-13.5-1-2.5-1.5-1.5-17.5-0.5-6-2.5-2.5 0.5-2 3-9 19.5-1 6.5-2 20 0.5 8 2.5 7.5 5.5 11 3.5 4 3 1.5zM1578 1692.5l3.5 0.5 3.5-1 6.5-7 9.5-14 4.5-10.5 0.5-5-0.5-5-4-11.5-1-11-1-2.5-3-2-10.5 0-7.5-2.5-2.5 0.5-1 1-7.5 15.5-2 7.5-0.5 8 0 18.5 1.5 6.5 5.5 11.5 2 2 4 0.5zM1578.5 1688.5l5 0.5 2.5-1 3-3.5 10.5-15.5 3-8 1-5.5-0.5-5-4-11-2.5-10-3-2-7.5 0-6.5-2-3.5 1.5-6 10-2 7-1 8 0 6.5 3.5 22 3 5.5 1.5 1.5 3.5 1zM1580 1685l2.5 1 3.5-1.5 11-15 3-6.5 1.5-7.5-1.5-7-6-15.5-3-2-10.5-1.5-2 0.5-2.5 2-4 6-2.5 6.5-0.5 8.5 0.5 6.5 3 10 1.5 10 2 3.5 4 2zM1581 1682l1.5 0.5 2.5-0.5 3-3.5 9-13 2-4.5 0.5-5-1.5-8-6-12-3-1.5-7.5-1-4 1.5-3.5 4-2.5 5.5-1 8.5 1 7.5 5 15.5 2 3.5 2.5 2.5zM1581.5 1678.5l3.5 0 4-4.5 7.5-11 1.5-7-1.5-7-5-9.5-3.5-2.5-5.5-0.5-4 1-3.5 3.5-1.5 5-1 7 0.5 5 1.5 5 4.5 12.5 2.5 3zM1582.5 1675.5l2.5 0 4-4.5 5.5-9 1.5-6-1-5.5-4-7-3-3.5-4.5-1-3 0.5-3.5 3.5-1.5 4-1 6.5 0.5 5 1.5 5 3 8 3 4zM1582.5 1672l2.5 0.5 3-2.5 4-7 2-7-1-4-3.5-6.5-2.5-3-3.5-1-3 1-2 2-1.5 4-0.5 5 0 5 1 4.5 3 6.5 2 2.5zM1583 1669.5l3 0 2-2.5 2-5 1-5-0.5-4-2-5-2.5-3-2.5-1-2 0.5-2 2.5-1.5 8.5 1.5 8 2 4.5 1.5 1.5zM1583 1666l2 1 2-1.5 1-2.5 0.5-4.5 0-4-1.5-4-1-2-2.5-1.5-2.5 1.5-1.5 6 1 6.5 2.5 5zM1583.5 1663l1.5 0 1-0.5 0.5-4-0.5-5-2.5-2.5-1 0.5-0.5 1.5-0.5 3 0.5 4.5 1.5 2.5z" fill="none" stroke="#F0E442" stroke-width="2.0" stroke-linejoin="round"/>
<path d="M1754.5 1624.5l4 1 5.5-0.5 10.5-4.5 9-1.5 3-3.5 5.5-14 1-7.5 2.5-9-0.5-6-5-8-2-9.5-1.5-3-9.5-8.5-4.5-2-21.5 1.5-5 2-10.5 12.5-4.5 10.5-5 8.5 0 3.5 1 3.5 10.5 19.5 11.5 12 5.5 3zM1755 1619l3.5 0.5 4.5-0.5 17.5-7.5 2-2.5 2-5 6.5-18.5-0.5-5-4.5-7.5-4-9.5-5-4.5-8.5-3.5-4.5-0.5-5.5 0.5-8.5 2.5-4 2.5-4.5 4.5-3 4-5.5 15 0 3.5 0.5 5 2.5 6.5 3 6 3 4 7 6.5 6 3.5zM1754.5 1613l4 1 4.5-1 9.5-3.5 4-2 4.5-7 6.5-15-0.5-5-7.5-14.5-3.5-3-10-3.5-3 0-4.5 1-7.5 2.5-4 3-5.5 7-4.5 11 0 8.5 3 8 3.5 4.5 11 8zM1757.5 1607.5l3.5 0.5 4 0 5.5-1.5 3-2 4-4.5 5.5-12.5 0.5-5-4-11-2.5-4-3.5-2-9.5-2-9.5 3-4.5 2.5-3 3-3.5 4.5-2.5 4-1 4.5-0.5 5 0.5 4 1.5 3.5 3.5 3.5 12.5 6.5zM1765 1604l5-1 3.5-3 2.5-5 3.5-12.5-2-7-2.5-4.5-3.5-2.5-6.5-1-8.5 1.5-6.5 4-6 7.5-1.5 7.5 1 6 2.5 3 8.5 3 6.5 3 4 1zM1762.5 1600l3.5 0.5 3.5-1 2-2 1-3.5 1.5-16.5-2-4.5-5-2-6 0.5-7.5 2.5-5.5 5-2.5 6 0 4 1.5 3.5 15.5 7.5zM1763.5 1596.5l2.5 0 2.5-2 1.5-13-1-5-2-1.5-2-0.5-7.5 1-4 2-3 3-1.5 4.5 0 2.5 2 2.5 8.5 5 4 1.5zM1759.5 1590.5l3.5 0.5 2-2.5 1-6-1-2.5-1-1-3 0-4.5 1-3 2.5-0.5 2.5 1 1.5 5.5 4z" fill="none" stroke="#E69F00" stroke-width="2.0" stroke-linejoin="round"/>
<path d="M1770 1697.5l3.5 0.5 4.5-1 9.5-7.5 5.5-2 3-2.5 7-14 1.5-9-0.5-7.5-5-15.5-0.5-18.5-1.5-6-2-3-7-6-4-10-3.5-5-4.5-4-5.5-2.5-4.5 1.5-4 5-2.5 6-4 13-4.5 6.5-3.5 8-2.5 10-2.5 24.5 2 9.5 6.5 13 6.5 5.5 7.5 8.5 5 2.5zM1770.5 1692.5l4 0 4.5-2 12.5-12 8-9.5 1-3.5 1-4.5-0.5-5.5-5-15-2.5-16-1-4-2.5-3.5-8.5-7.5-5-9.5-4-2-4 0.5-3.5 2.5-5.5 14.5-6.5 7.5-2.5 4-3 10-1.5 19 1 7.5 3 7 8.5 8.5 6.5 10.5 2 2 3.5 1zM1768.5 1687.5l3 1 3-0.5 6.5-4 5-5.5 6-8.5 4.5-4.5 2-6-1-6-6-24.5-2-5.5-4-4.5-12-9.5-3-1.5-3.5 1.5-5.5 10-7 6.5-2 3-3 8-1 13.5 0.5 9 2 6 2.5 3.5 6 5.5 5.5 9.5 3.5 3.5zM1769.5 1683.5l3 0.5 3.5-1 6-4 12-17 1.5-5-0.5-6-3.5-14-3.5-10.5-5-5.5-8.5-5.5-3-1-3 1-5.5 7-9 8-2.5 6.5-1 9 0.5 10 2 7 1.5 2.5 6.5 5.5 5 9.5 3.5 3zM1771 1678.5l7-0.5 5-3.5 8.5-14 1.5-7-2.5-14.5-4-11-2-3-3.5-2.5-5-2.5-3.5-1-3 1-14 12-2.5 6-1 7.5 0.5 8 2 6.5 7.5 8 5 8 4 2.5zM1772 1673.5l6 1 4-2.5 7-12.5 2-7.5-1.5-12.5-4-9.5-2.5-2.5-3-2.5-4-2-3.5-0.5-4 2-11.5 8.5-2.5 5-1 7.5 0.5 7.5 2.5 5 5.5 5.5 5 7.5 5 2.5zM1775 1670.5l3 0 2-0.5 3-3 5.5-11 1-8-1.5-9-3.5-7.5-4.5-3.5-7.5-2-5.5 2-9 6.5-2.5 5-0.5 6.5 0.5 4 1.5 3.5 9 12 3.5 3 5.5 2zM1776 1667l4-0.5 4.5-5 3-8 0.5-8-1.5-6.5-3.5-6-4-2.5-7.5-1.5-5.5 2-6.5 4.5-2.5 5-0.5 5.5 2 6 8.5 11 3.5 2.5 5.5 1.5zM1776.5 1663.5l2.5 0 2-1 3.5-5.5 2-6.5-0.5-7.5-1.5-5.5-3.5-3.5-7.5-2-4 0-5.5 2.5-3.5 3.5-2 4 0 4 2 4.5 8 10 3 2 5 1zM1772 1659.5l6 0.5 3-1.5 3.5-5.5 1-7-1.5-5.5-3-3.5-3-1.5-8.5-1-3.5 1-3 2.5-2 3.5-0.5 3 1.5 3.5 4 6.5 3.5 3.5 2.5 1.5zM1772 1656l6 0.5 3-2 2-4 0.5-6-1.5-3-2-2-8.5-2.5-3 0.5-2.5 1-2 2-0.5 4 1 3.5 2.5 4 2.5 2.5 2.5 1.5zM1772.5 1652l3.5 0 3-1 1.5-2.5 0-2.5-1.5-2.5-9.5-3-2.5 1.5-0.5 3.5 3 4.5 3 2z" fill="none" stroke="#CC79A7" stroke-width="2.0" stroke-linejoin="round"/>
<path d="M1843 1654.5l2-0.5 2.5-1 7-7.5 3.5-5 2.5-6.5 1-5-1-11 0.5-15-0.5-9-1.5-6.5-5-9.5-3.5-14.5-6.5-12-3-3.5-5.5-1.5-6.5-4.5-3-0.5-8 2.5-2.5 2.5-1.5 3.5-8.5 22.5-5 7.5-1 7.5 0.5 10 2.5 7.5 6 5.5 1.5 2.5 1 4-0.5 12.5 1 4.5 2 3 3 2.5 4 0 3.5 1.5 7.5 9.5 2 1.5 9.5 2.5zM1835 1646l4 0.5 5-1 6.5-5.5 3-3.5 1-5 1-14.5 2-11.5 0.5-9-1.5-6-5-9-2-10.5-2-5.5-2.5-2-5-3.5-5-6-5-4-3-2-3 0-3.5 1-2 1.5-5 8-8.5 28-1 9 1.5 4.5 5.5 6.5 2 5 1.5 5 0.5 10 1 3 1.5 2 6.5 4 8.5 9 2.5 1.5zM1834.5 1641.5l3 0.5 4.5-1.5 5-4 3-4.5 2-6.5 3-22.5 0-5.5-1-5-4.5-8.5-1.5-10-2-4-2-2-5-2.5-9.5-11.5-2.5-1.5-3-0.5-3.5 1-2 1.5-4.5 8-5.5 22.5-0.5 8 1 4.5 6 13 4 15 7 8.5 8.5 7.5zM1835 1638l2.5 0.5 4.5-2 4-3.5 3-4 2-9.5 1.5-16.5 0-5.5-4-10-2.5-11-1.5-3.5-7-4.5-8.5-10.5-3-2-3-0.5-2.5 1-2 2-3.5 6.5-4 18-0.5 9.5 2 7.5 9 24 6 8 7.5 6zM1836 1635.5l4-0.5 3-2 3-3.5 2-3 2-11 0.5-10.5 0-6-7.5-22.5-6.5-6-7.5-9-3-2-3 0-4 2-3 7-3.5 16.5 0 10 3.5 10.5 7.5 18.5 5.5 7.5 4.5 3 2.5 1zM1835.5 1633l3.5 0 3-1.5 3-2.5 2-3.5 2-10-0.5-14-5.5-19-2-4.5-12-13-2-1.5-3-0.5-3.5 1.5-2.5 5.5-4 16.5 0.5 10 2.5 9 8 18.5 5 6 5.5 3zM1834.5 1630.5l3 0.5 3.5-1 3-2.5 2-3 2-8-0.5-11.5-5-18.5-2-6-10.5-12-3-2-2 0-2 1-2 2.5-4.5 12.5-1 6.5 0 7.5 2.5 9 7.5 16.5 4 5 5 3.5zM1833.5 1628l3 1 3.5-1 4-3.5 2.5-7.5 0-9.5-4.5-18-2.5-6.5-8-11-3.5-2-2-0.5-2 1.5-1.5 1.5-4.5 11.5-1.5 6 0 6.5 2.5 8.5 7 15 3 5 4.5 3zM1835.5 1626.5l3 0 2.5-1 3-3.5 1.5-5.5 0-7.5-4.5-17.5-2-6.5-7-9.5-3-2.5-2-0.5-3 2.5-5 10.5-1.5 6 0 6 2.5 8 8 15 3.5 4 4 2zM1836.5 1624l4-1 2.5-3 1-3.5 0-6-4-17.5-1.5-5-7-10.5-2.5-1.5-2-0.5-3 3.5-4.5 8.5-1 5 0.5 5.5 2 7 7 13.5 3.5 3.5 5 2zM1832.5 1619.5l3 0.5 4.5-1 2-2.5 0-4-2.5-16-1.5-5-6.5-10.5-3.5-2-3 2-3.5 5.5-2 5 0 5 1.5 6 4 7.5 4 7 3.5 2.5zM1830.5 1614.5l3 1 2.5-3.5 2-5.5 0.5-6.5-1-4-1-3.5-6.5-8.5-2-1-2 0.5-3 4-2 4-0.5 5 1 4.5 2.5 4.5 4 7 2.5 2zM1830 1610.5l2.5 0 1.5-2.5 1.5-4 0.5-5-1.5-4-5.5-6-2-1.5-2 1-2 3-1 6 3 7 5 6zM1828.5 1605.5l1.5 0.5 1.5-0.5 1-2.5 0-3-3.5-5.5-3-1.5-1.5 2-0.5 3 2 4.5 2.5 3z" fill="none" stroke="#7F7F7F" stroke-width="2.0" stroke-linejoin="round"/>
<path d="M1845 1717l2.5-0.5 2-2.5 6.5-13.5 5.5-9.5 2-5 2-14 0-23.5-2.5-19.5-7-23-2.5-26-2-9-4-8.5-5.5-5-4.5-6-2-1-7.5 6-5-2-2.5 0.5-3 4-2 7.5-1 13.5 0.5 28 2.5 23.5-3 25.5 0 19 0.5 6 1.5 5.5 6.5 13.5 11.5 10.5 10.5 5.5zM1842.5 1707.5l3.5-0.5 3.5-3.5 10.5-20 2.5-13 0.5-18.5-2.5-19-5.5-15.5-2-6-2.5-27.5-1.5-8.5-3-5-5-4-4.5-5-2-0.5-6.5 3.5-6.5 1-2 3.5-1 4-1 12 0.5 17.5 4 28-0.5 6.5-3.5 19-0.5 12.5 1.5 12 3 8 3 5 9.5 10 4.5 3 3.5 1zM1839.5 1701l4.5 0.5 3.5-2 3.5-5 5-10 2.5-6.5 1.5-7 1-17.5-2.5-17-6-16-1.5-6.5-3-26-1-6.5-2-3.5-4-4-4.5-5-3-1.5-4.5 2-5 3.5-2.5 3.5-1 5-0.5 10 0 11.5 4 20 0.5 6.5-1 9.5-3.5 18-0.5 10 2 11 4 10.5 6 6.5 8 6zM1841 1697l3-0.5 3.5-2 4-6 3.5-7.5 3.5-13 0.5-15-2.5-15-8-22.5-3-23-1.5-6-7.5-12-2-2-2 0-4 1.5-3 3.5-2 4-1.5 6.5 0 16 4 17.5 0.5 6.5-1 11.5-3.5 19-0.5 9.5 2 10 3.5 8 5.5 5.5 8.5 5.5zM1840 1692.5l3 0.5 3-2 3.5-3.5 3.5-6.5 3.5-13 1-14.5-1-8-2-7.5-8.5-21-2.5-19.5-1.5-7-5.5-11-2-2.5-2-0.5-3.5 1-2.5 3-2 5-1 6 0.5 13.5 4 14 0.5 6.5-1.5 13.5-3.5 20.5 0 8.5 1.5 8 3 7.5 5.5 5.5 6.5 3.5zM1842 1689.5l3-1.5 2.5-2 3-4.5 2.5-5.5 2.5-11.5 0-12.5-1.5-8-2-7.5-8-16-2-20-2.5-9-4-9-2-2-2 0-2.5 1-2 3.5-2 9 0.5 10 4.5 12.5 1 6.5-1.5 12.5-4 24-0.5 9 2 8.5 3 5.5 6.5 5 5.5 2zM1838 1685l3 1 3-0.5 3.5-2.5 2.5-4.5 3.5-10.5 0.5-13.5-1.5-10.5-3-9-3.5-4.5-5-3.5-2-2.5 1.5-15-1-10.5-2-6.5-2-5-2-2.5-2-0.5-2.5 2-1 2.5-1 5 0 5 1 5 6 13 2 8.5-3.5 11-4.5 18-1 7.5 0 6 1 6.5 2 4.5 3.5 3.5 4.5 2.5zM1840 1683l4-1 4.5-4 3-7 1-8 0-10-1.5-10-3.5-7.5-3.5-2-2 0.5-2 1.5-5 7.5-4 9-2.5 11 0.5 7.5 2 5.5 4 4.5 5 2.5zM1834.5 1608l1 1 1.5-1 0.5-3-0.5-4.5-1.5-6.5-1.5-2.5-1.5-1.5-2.5 1.5-0.5 6 1.5 5 3.5 5.5zM1839.5 1679.5l4.5-0.5 3.5-3 2-5 1.5-6.5 0.5-8.5-1-9-2-6-3.5-3.5-3 1-3 3.5-6.5 14-1.5 7 0 5.5 1.5 5 3 3.5 4 2.5zM1838.5 1675.5l3.5 0.5 3-1.5 2.5-3.5 2-5.5 1-7.5-1-8.5-2-5.5-2.5-2.5-2 0.5-3 4-6.5 17 0 4 1 3.5 1 2.5 3 2.5zM1839.5 1671l2.5 1 3-1.5 2.5-3.5 1-3.5 0.5-5.5-0.5-7-1-3.5-2.5-2-2 0.5-2 3-3.5 10.5-0.5 7.5 2.5 4zM1842.5 1666l1.5 0 1-1 2-4.5 0-6-2-4-2 1-2.5 6.5 0 5.5 2 2.5z" fill="none" stroke="#F0E442" stroke-width="2.0" stroke-linejoin="round"/>
<path d="M2003 1616.5l4.5 0.5 8.5-1.5 6.5 1 3 0 18.5-11.5 3.5-3.5 2.5-8.5 3.5-5 0.5-4-1.5-5-2.5-6-4-6.5-3.5-3.5-4-2-6.5-1-21.5 0-4 2-6.5 6-7.5 3-4 3-0.5 1.5 0 2.5 2.5 7-2 5.5 0 2.5 2 8.5 2.5 5 3.5 5.5 3.5 3 3 1.5zM2003 1611.5l3.5 0 8.5-1 11.5-0.5 10-5 4.5-3.5 2-4 1-7.5 3.5-5 0.5-3.5-1.5-6-5-6.5-4.5-2.5-7-1.5-18.5 0-3.5 1.5-5 5-7 4-0.5 2.5 1.5 4.5 0 2.5-4 6.5 0 6 1.5 5 2 3.5 3.5 3.5 3 2zM2003.5 1607.5l10-1 12 0.5 4.5-1.5 6.5-4 3-4 0.5-8.5 3.5-7.5-0.5-3.5-1.5-2.5-4.5-3.5-11.5-4.5-9.5 0.5-3.5 0.5-3 2-8 7.5-0.5 7.5-4 6-1 2.5 0 4 1.5 4.5 2.5 3 3.5 2zM2004.5 1604l9-1 12 1 4.5-1.5 4-2.5 2-2 1-2.5-0.5-7.5 2-7.5-1.5-3-7.5-6-5-2-7.5 0.5-5 2.5-6 6.5-2.5 8.5-4.5 7.5 0 3 1 2.5 2 2.5 2.5 1zM2020.5 1600.5l5 0.5 4.5-1.5 3-2 1-3.5 0-11.5-1-3.5-2.5-3.5-2.5-2.5-5.5-1.5-6.5 1.5-5 4.5-2.5 4-1.5 8.5-4 6.5 1 2.5 1 1 7.5-1.5 8 2zM2021.5 1598l4 0 4-1.5 1.5-2.5 0.5-3.5-0.5-7.5-1-4-3.5-4-4-1.5-3.5 0.5-2.5 1.5-2.5 3.5-0.5 3.5 0 7.5 1 3 2.5 3.5 4.5 1.5zM2022 1595.5l2.5 0 3-1.5 1.5-2.5 0.5-3.5-0.5-4-2-4-2-2.5-2.5-1-2.5 0.5-1 2-2 11 1.5 4 3.5 1.5zM2021 1592.5l3.5 0 2-2.5 0-4-2-2-2 0.5-2 3-0.5 3 1 2z" fill="none" stroke="#E69F00" stroke-width="2.0" stroke-linejoin="round"/>
<path d="M2011.5 1685l5.5 0.5 11.5-1.5 14-7.5 5-3.5 13.5-19.5 3-6.5 0.5-5-0.5-5-2-5-2.5-3-4-2-12-3-4-0.5-6.5 1-5.5 2.5-6.5 7-8 6.5-5.5 9.5-11 11-1.5 4.5 1 5 7 9 4.5 4 4 1.5zM2020 1678.5l6.5 0 5.5-1.5 9-5 5-5 11-14 2.5-5 0.5-4 0-3.5-2-4-2.5-2.5-3.5-2-6-2-5.5-1-5.5 0.5-6.5 3-11.5 10.5-5.5 10-6 7.5-1 3-0.5 3.5 2 5 3.5 3.5 4 2 6.5 1zM2017.5 1674.5l7 0.5 5.5-1 7-3.5 5.5-4.5 11-13 2.5-4.5 1-3 0-3.5-2.5-5-3.5-2.5-4-1.5-5.5-1-4.5 0.5-6 2.5-9 7-2.5 3.5-4.5 9-4.5 6-1.5 4 0.5 3.5 1.5 3 2.5 2 4 1.5zM2021 1672l5.5 0 5.5-2 6.5-3.5 4.5-4.5 9-11 1.5-3 1-3.5-0.5-2.5-2.5-4-7-3-7.5 0-6 3-7 6-3 4-2.5 6.5-4 6.5-1.5 3.5 0.5 2.5 1.5 2.5 3 1.5 3 1zM2021 1668.5l4.5 0.5 5-1 5.5-3.5 5.5-4 9.5-13 0.5-4.5-2-3.5-5-2.5-6 0-6 2.5-6 5-3 4-6 15 1 3.5 2.5 1.5zM2024 1664.5l2.5 0.5 3.5-0.5 5-2.5 4.5-3.5 8.5-10.5 1-3.5-1.5-3-4-2-4 0-4.5 2-5.5 4-2.5 3-1.5 3.5-2.5 10 1 2.5zM2030.5 1658l3.5 0 4.5-3 6-7 0.5-2.5-0.5-1.5-2-1.5-3 0-7 4.5-2 2.5-1 3.5 0 3 1 2z" fill="none" stroke="#CC79A7" stroke-width="2.0" stroke-linejoin="round"/>
<path d="M2078.5 1633l2.5 0 4.5-6 5-1 2.5-1 4-8.5 4-3.5 1-2.5 1-9 4-10 0.5-6-1-8-5.5-17.5-3.5-6.5-4.5-2.5-6.5 0-14 4.5-9.5 12-1 2.5 0.5 10.5-3.5 15 0 6 2 4 5 3.5 2 3 3.5 6 4.5 11.5 2.5 3.5zM2080.5 1621.5l7-0.5 3-2 3.5-5.5 4.5-6 5.5-17-1-12.5-4.5-14.5-2.5-5.5-2-2-2.5-0.5-6 0-7.5 1.5-3.5 1.5-2 2.5-6 11.5-1.5 12.5-2.5 10.5 0 2.5 1 2.5 5.5 4.5 7.5 13 4 3.5zM2084 1618l2.5-0.5 2-1 8-11 4.5-13 1-7-1-9-6-14-3.5-2.5-8.5-2-4 1-3.5 1.5-4 5.5-3 9-2.5 18 0.5 4.5 5 5 6.5 11.5 3 3 3 1zM2083 1614.5l2.5 0.5 2-1.5 7.5-8.5 4.5-13.5 0.5-7.5-1-7.5-5-10.5-2.5-2-3-2-6.5-2-5.5 2-2 2-2 3.5-3 9-2 14 0.5 3.5 1.5 2.5 4 5 6.5 10.5 3 2.5zM2083.5 1611.5l2 0 2-1 4-4 2.5-3.5 3.5-11.5 1-8.5-1.5-6.5-4-8-5.5-4.5-5.5-2-3 0.5-2.5 1.5-3 4.5-3 9-1.5 12.5 1.5 5 10.5 14.5 2.5 2zM2083.5 1608l2 0.5 2-0.5 3-2.5 2.5-3 1.5-5 2-15-1.5-6-4-6.5-5.5-5-4.5-1-4.5 2-2.5 5-2.5 9-1 9 1.5 5 11.5 14zM2084 1605.5l2.5 0.5 2-1 2-2 1.5-2.5 1-4 1.5-15-1.5-5-4-5.5-4.5-4.5-3.5-0.5-3.5 1.5-3 5-2.5 8-0.5 7.5 0.5 3.5 1.5 2.5 10.5 11.5zM2084 1603l2.5 0.5 2-1 2.5-3.5 0.5-18.5-1-4-2.5-4-4-3.5-3-1-3 1.5-3 4.5-2 7.5-0.5 6.5 2 5 9.5 10zM2084.5 1600.5l3 0 2-3 0-17-1-4-2-3-3.5-3-2-0.5-3 2-2.5 3.5-1.5 7-0.5 5.5 2.5 5 8.5 7.5zM2083 1597.5l2.5 0.5 2-1.5 1-4-0.5-9.5-0.5-4-1.5-3.5-3-2.5-2-0.5-2 1-2.5 3-1.5 5-0.5 5.5 1 3 1 2 6.5 5.5zM2082 1595l2 0.5 2.5-2 0.5-8.5-1.5-7.5-2.5-2.5-2-0.5-2 1-2 2.5-1 4.5-0.5 4 2 5 4.5 3.5zM2080.5 1592.5l1.5 0.5 2-0.5 1.5-2 0.5-3-1-7.5-2-2.5-2-1-1.5 1-1.5 1.5-1.5 6 1 4 3 3.5zM2080.5 1590.5l3 0 1-1.5 0.5-2.5-1.5-6-1.5-1.5-1-0.5-2 2-1.5 4.5 1 3 2 2.5zM2080.5 1588l1.5 0.5 1.5-2-0.5-3.5-1-1-1-0.5-1 1-1 2.5 1.5 3z" fill="none" stroke="#7F7F7F" stroke-width="2.0" stroke-linejoin="round"/>
<path d="M2090.5 1719.5l4.5 0 3-2 10-13 4.5-10 6-18.5 1-9-1.5-9-8.5-18.5-2.5-4-4.5-4.5-2-4.5-0.5-8.5 1.5-22.5-1-8-2.5-3.5-9.5-3.5-3 0.5-2.5 1.5-2 3-1 5-1 10 2 25-1 5-6 12.5-2 7.5-1 10.5-0.5 22 2 9.5 8.5 18.5 3.5 5 6 3.5zM2090.5 1712.5l3.5 0.5 3-1.5 10.5-14 4-10.5 2.5-18.5-1.5-9-5.5-15-13-17-7.5 2.5-7.5 10-3.5 10.5-2 13 0.5 18.5 2 10.5 3.5 7.5 3.5 6 4 4 3.5 2.5zM2087 1620.5l2.5 0.5 3.5-1 1-1 2-7 1-11.5-0.5-5-1.5-3-5.5-3-3-0.5-2.5 1-1 2-1 8 2 14.5 3 6zM2091.5 1708.5l2.5 0 2-1 10.5-14 3-8.5 1.5-12-1.5-13.5-3.5-11-2.5-4-7.5-8-3-1.5-5.5 1-2 1-5.5 6.5-3.5 9.5-1 13 0.5 16 2.5 10 2.5 5.5 3.5 5 4 4.5 3 1.5zM2090 1704.5l3 0.5 2-1 10.5-13 2.5-6.5 1-10-1-12.5-3-10-2.5-4-6.5-7-2-1.5-2.5 0-4 0-2 1-4.5 5.5-2.5 7.5-1.5 11 0.5 15 2 9 4 8.5 6.5 7.5zM2091 1702l2 0 2-1.5 9.5-13 2.5-6.5 0.5-10-1.5-10-2.5-7.5-8.5-9.5-2-1-3.5-0.5-4 1.5-2.5 2.5-2 4-2 9-0.5 11.5 1 10 1.5 7 5.5 9.5 4.5 4.5zM2091.5 1699.5l1.5 0 2-2 8.5-13 2-6 0.5-8-1.5-8.5-2.5-6-7-8-2.5-2-3-0.5-2 0.5-2 1.5-3.5 6-1.5 8.5 0 12.5 0.5 7.5 2 5.5 5 9.5 3.5 2.5zM2091.5 1697l1.5-0.5 2-2 7-12.5 1.5-5 0.5-6.5-1-7-2.5-5.5-6.5-7.5-4.5-2-2 0.5-1.5 1.5-3 5.5-1 7.5 0 12 0.5 6.5 2 5 4 7.5 3 2.5zM2091.5 1694.5l1.5-0.5 2-2 4.5-10 2-6 0.5-5.5-1-6-2-5-5-5.5-4.5-2-3 1.5-2 4.5-1 7.5-0.5 10 1 5.5 1.5 5 3 6 3 2.5zM2091.5 1692l2.5-2 3.5-7 2.5-7 0.5-5.5-1-5-2.5-4.5-4-4.5-3.5-1-2 1.5-2 4-1 14.5 1 5.5 1.5 5 2.5 4.5 2 1.5zM2090.5 1688.5l1 0.5 1.5 0 2-3 2.5-7.5 1-6.5-0.5-4.5-1.5-4-2.5-2.5-3.5-1.5-2 1-1 2.5-1.5 10 1 9 3.5 6.5zM2091.5 1686l1.5-0.5 2-3 2-9.5-1.5-6-1.5-2-2.5-1-2 1-1 2-1 7.5 1.5 7.5 1.5 3 1 1zM2091.5 1682l1.5-0.5 1-1.5 1-4.5-0.5-4.5-1.5-2-2.5 1.5-1 4 0.5 5 1.5 2.5z" fill="none" stroke="#F0E442" stroke-width="2.0" stroke-linejoin="round"/>
<text x="-1" y="1860" font-family="'Liberation Sans', Arial, sans-serif" font-size="46" font-weight="bold">e</text>
<defs>
<marker id="me0" markerWidth="5.8" markerHeight="5.8" refX="2.9" refY="2.9" markerUnits="userSpaceOnUse" overflow="visible"><circle cx="2.9" cy="2.9" r="1.9" fill="#F0E442"/></marker>
<marker id="me1" markerWidth="5.8" markerHeight="5.8" refX="2.9" refY="2.9" markerUnits="userSpaceOnUse" overflow="visible"><circle cx="2.9" cy="2.9" r="1.9" fill="#D55E00"/></marker>
<marker id="me2" markerWidth="5.8" markerHeight="5.8" refX="2.9" refY="2.9" markerUnits="userSpaceOnUse" overflow="visible"><circle cx="2.9" cy="2.9" r="1.9" fill="#999999"/></marker>
<marker id="me3" markerWidth="5.8" markerHeight="5.8" refX="2.9" refY="2.9" markerUnits="userSpaceOnUse" overflow="visible"><circle cx="2.9" cy="2.9" r="1.9" fill="#56B4E9"/></marker>
<marker id="me4" markerWidth="5.8" markerHeight="5.8" refX="2.9" refY="2.9" markerUnits="userSpaceOnUse" overflow="visible"><circle cx="2.9" cy="2.9" r="1.9" fill="#CC79A7"/></marker>
<marker id="me5" markerWidth="5.8" markerHeight="5.8" refX="2.9" refY="2.9" markerUnits="userSpaceOnUse" overflow="visible"><circle cx="2.9" cy="2.9" r="1.9" fill="#0072B2"/></marker>
<marker id="me6" markerWidth="5.8" markerHeight="5.8" refX="2.9" refY="2.9" markerUnits="userSpaceOnUse" overflow="visible"><circle cx="2.9" cy="2.9" r="1.9" fill="#E69F00"/></marker>
<marker id="me7" markerWidth="5.8" markerHeight="5.8" refX="2.9" refY="2.9" markerUnits="userSpaceOnUse" overflow="visible"><circle cx="2.9" cy="2.9" r="1.9" fill="#009E73"/></marker>
</defs>
<rect x="146.7" y="1855.2" width="366.2" height="36.4" fill="#fff" stroke="#222" stroke-width="1.6"/>
<text x="329.8" y="1882.2" font-family="'Liberation Sans', Arial, sans-serif" font-size="23.8" text-anchor="middle">Cas13d</text>
<rect x="546.4" y="1855.2" width="366.2" height="36.4" fill="#fff" stroke="#222" stroke-width="1.6"/>
<text x="729.5" y="1882.2" font-family="'Liberation Sans', Arial, sans-serif" font-size="23.8" text-anchor="middle">Cas9-nuclease</text>
<rect x="946.1" y="1855.2" width="366.2" height="36.4" fill="#fff" stroke="#222" stroke-width="1.6"/>
<text x="1129.2" y="1882.2" font-family="'Liberation Sans', Arial, sans-serif" font-size="23.8" text-anchor="middle">KRAB-dCas9</text>
<rect x="1345.8" y="1855.2" width="366.2" height="36.4" fill="#fff" stroke="#222" stroke-width="1.6"/>
<text x="1528.9" y="1882.2" font-family="'Liberation Sans', Arial, sans-serif" font-size="23.8" text-anchor="middle">KRAB-dCas9-MeCP2</text>
<path d="M394 1945l48 24-227 15-7-1-27 6 8 2 3 1 3-5 5 0 1 1 0 4 8-2 4-1 1 0 2 3 3-1 11-4 3 1 1-1 0 2 163-2 57 8-207-2-1 3 0 1-5 1 0-5-16 2 0-3-1 4-2-4-1 1-4 2-2-2-27 5-1-2-2 4-2 1 11-1 3 1 1 6 4-1 1 0 0 1 4-3 7-2 4 2 0 2 0-5 2 5 12-5 4 6 5-1 2-3 10-1 2-1 0-1 4 2 1 12-2 0-1 1-7-7-3 0-1 5-3-3-1 3-1-2 0-3-2 2-4 3-2-1-2-3-2 4-5-4 0 5-3-1-8-2-7-2-1 5-3-4 0-1-3 0-2 0-1 2-2 1-12 3-5 5 15 4 8 0 1-1 0 0 7-5 1-2 4 2 0-1 1 0 2 4 2 0 4 3 6-1 1-7 7 2 1 1 1 1 1 0 6-1 1-2 6 0 3 0 8 5 4-1 3 2 1-3 0 3 0 1 3-3 98-4 120 7-19 7-191-1-1-1-2 0-4-4 0-1-12 7 0-3 0-4-4 2-12 1-3 4-6 0-1 0 0-2-4-4-4 5 0-4-7 6-2-2-1-3 0-3-5 7 0 1-1-2-1-6-5 5-3-5-1 7-4-3-3 3-1-5 0 3-1-4-4 0-1 2-4 0-5-1-3 10 1 1 3-4 2 0 1 6 16-2 2-4 1 3 2-3 10 6 8-3 9 4 1-6 4 2 2 2 0 0 1-4 3 6 3-5 1 2 5 2 1 1 7-5 4-1 2 1 2 5 2-4 1 0 0-1 5-2 1 3 2-1 6 3 2 0 3-5 5 1 2 11-2-2-2 1-1 0 0 0 0-1-6 5-13-5-8-3-1 1-7 6-8-2-12 0-14-2-4 1-5-1-8 4-1-6-2 3-4-4-3 5-10-1-3-2 0 2-5 3 15 4 1 5 6-5 2-1 12-2 9 3 1 1 0-2 1 5 1-6 2 2 3 0 3 2 1 1 0 0 1 1 5-2 3-5 6 4 8-3 5 7 5-5 11-2 12 1 1 4-16 2-6 1-14 6-2-2-6-4-1 2-9 4-22-7-4 0-21 1 28 13 22-5 2 5 4 2 1-3 0-4 4 0 7 7 2-5 1 2 2-3 2 3 0 1 5-3 170-3-167 10-7 0-9-1-1 1-17 0-6 6 24 7 1-5 10-1 15 1 19 4 103 9-129-2-4-3-5-1-2 2 0 0-9 0-44 11 52-4 30 0 35-1 4 1-46 10" fill="none" stroke="none" marker-start="url(#me0)" marker-mid="url(#me0)" marker-end="url(#me0)"/>
<path d="M376 1931l17 18-56 17-3-3 41 23-30 23-88-1 128 33-183 3-22 11 1-1 4 1 2-7 16 6 10-2 41-2-68 13-2 0-1-1-3 1-3 7 1 0 1-2 1-3 4 1 1 5 0-2 7 0 0 2 4-4 0-2 0 0 3 0 1 1 0 2 2 0 9 0 6-2 2 3 6-4 33 7 22-5 114 1-131 8-9 2-9-1-12 2-10-4-1 3-4 1-1 0-5 0-6-6-2 2-5-2-1 4-3 2-4-5-8-1-3 1 6 14 1-4 1-3 0 2 2 4 6-3 5-1 3-2 5 5 0-4 2 0 6 6 3-2 1-5 0 0 3 5 6-6 8 4 1-4 5 8 4-4 8 1 16 7-15-4 0 7-2-6-8 2-2 0-1 0-8 0-1 2-4-4-1 1-7 5 0 0-1-7-4 7-1-6-1 4-3-3-1 4-4-3-2-2 0 0-17 4 0 2-7-7 7 15 3 0 1-6 5 4 3-3 3 1 2 2 0-5 1 7 1-3 8-2 9-1 0-1 6 4 4 1 4-2 1-1 2-2 11 1 1 6-2 8-22-6-1 3-6 0-7 3-7-6-1 1 0 1-4 4-2-2-7 1-1 1-8-1 9 2 0 2 2 0 6-2 9 8 0-3 3 3 1-6 16-2 7 3 8 1 50 3-54 8-8 0-3-4-4 0-5-1-2 4-5 0-2 1-6-6 11 10 3-2 5 7 1-6 5 2 1-2-8 9 0 3-1-1 90 18-51 8 5 14 15-4" fill="none" stroke="none" marker-start="url(#me1)" marker-mid="url(#me1)" marker-end="url(#me1)"/>
<path d="M345 1954l74 23-32 3-8 20-142 19 69 18 11 8 0 1-6-2-2 1-2-3-1 5-1-7-3 1-8 10 4 2 17-2 77 11-44 0-5 0-3-4 0 3-1 1-2-4-6 2-5-1-2-1-7 3-8-2-1 2-3-4 0 7-2 0-2-1-1-4-3 4-19-3-1 2-10 2 6 2 13 3 10 3 3-6 1 2 1-3 4 6 2-4 3 5 2-3 1-4 2 5 1-4 1 5 1 0 6-7 6 6 9 1 1-6 3 6 8-5 8-1 9 12-2 1-3 0-1 0-4-1-5 1-1 2-6-3-2-4 0 5-3-1-7 2-2-2-1 2-1-1 0-3-10 5-12-1-5-1-1-5 0 2-3-3-5 2-3 4-1-2 0 1-3-3-3-1-1 6 0-4-2-1-12 3 2 10 6-3 1 1 5 1 7 0 3 1 2-2 2-1 1 2 2 1 8-4 0 3 4-2 14 2 5-6 4 1 0 0 1 2 6 2 3 2 4-1 18 2 8-6 1-1 2 6 2-1 4 1 0-2 6 6-1 4-7-2-5 0-3-2 0 3 0-6-2 2 0 3-1 0-1-2 0 5-8-4 0-3 0 2-5 2-10 2-4-3-11 2-3-1-2 2-6-2 0-2-3 1-7 0 0-3-1 3-11-3-14 3-1 0-1 2-1-3-6 0-11 8 17-2 8 0 1 6 2-3 4-3 1 4 5 2 7 1 4 0 1-1 9 0 0 0 1-4 1 4 2-4 1 3 2-2 8-2 3 6 0-6 0 2 3-1 7-1 1 1 10-1 0 5 10-1 0-1 11 9-3-2-7 1-3-3-7 5-1-6-4 0-3 4-4 1-3-1-3 0-2-2-18 5-1-5-13 3 0-5-3 6-1-1-4-5-2-1-11 2-16 2-7-4-7 6-15 0-13 8 34-4 23 5 1-6 2 1 11 0 4 3 4-4 5 0 0 0 1 5 3 0 2 1 2-3 17 2 0 0 17-1 0-5 1 7 5 1 1-1 5 0 0-4 3 4 3-4-1 5-11 6-3 2-7-3-5 2-6-4-1 0-1 3-10-6-6 2-2 3-1-5-1 5-5 2-5-2-30-2 21 8 3 3 8-2 3 1 3 0 7-2 2 1 3 2 9-2 5 0 12-3-8 9-2-1-7 7-12-2-1-2-17-3 27 8 2 1-96 22" fill="none" stroke="none" marker-start="url(#me2)" marker-mid="url(#me2)" marker-end="url(#me2)"/>
<path d="M370 1944l39 18-38 4-1 19 98 16-244 52 217 7-33 1-206 14 67 12 10 8-10 1 8 7 1 1 11 3-11-2-10 1-3 4-6-1-4-1-5 11 5 0 9 0 2-1 5 0 9-5 3 4 2 0 20-2 53 10-48-2-15-1-11-2-2 5-2 2-6 0-3 0-6-7-1 6-4 1-1-1-12-2-2-1-24 5 3 6 14-3 7-1 3 2 1-2 5-1 11 2 8 3 2 1 10-5 4 2 25 4 38-2-23 8-4-2-5 0 0 1-1 0-9-1 0 3-3-1-2-5-2 3-6-2-14 0-1 2-12 1-7 3-3-6 0 0 0 3-2 1-3-2 0-1-4 3-1 1-1-7-2 3-11 1-3 3-3-2-5-2-3 3 8 8 0-3 2 1 4 3 4-4 1 0 9 4 12-6 3 7 6-2 5-1 9-1 2 4 2-5 10 0 7 1 2 1 9 1 3-3 1-2 5 4 5 3 2-1 4-2 2 2 0-6 0 9-2 6-1-2-10-5-1 5-1 1 0-6-1 6-2 0-2-7-3 7-1 1-1-4-3-1-3 2-1 0-4 1-1-6-4 4 0-2-7 4-1-4-2 4-1 0-5-2-5-1-6 2 0 2-1 0-2 0-2-7-8 1-11 2-2 3-3 1 0-2-4-5-7 0-1 5 14 10 13 0 15-4 4 1 3-2 3 3 7-2 8 1 2-2 2 4 1-6 3 5 3-1 7 0 0 2 1-4 0 5 1-3 1-2 4 1 3 3 3-3 3 1 2-4 1 2 2-1-8 10-1 0-6 0-5 3-10 0-3-1-7-2-8-2-4 5-3-3-2 5-2-5-1 1-4 3-7-3-12 3-7-2-2-1 0 4-4-3-1 0-2-5-2 0-4 0 12 11 0-1 2 0 0 0 11 5 7-4 3 0 4-2 0 2 5 2 4 0 2 3 21-2 2-3 9 4 1-2 0-1 1 4 7-7 1 7-6 1-5 0-7-1-5 4-7 1-4-1-6 4-2-2-1-3-6 2-6-3-3-1 0 0 25 9" fill="none" stroke="none" marker-start="url(#me3)" marker-mid="url(#me3)" marker-end="url(#me3)"/>
<path d="M355 1935l-14 8 8-7 2 5 1 2 2-1 0 1 3-6 1 5 1 1 5-1 6 4-7 5-5-1-2-1-2-3-1-2-6 5-2 1 0-5-1 2-2 5-3-1-2-4-9 4-15 7 15-5 1 5 2-4 14 4 6 0 2-2 2-3 0 1 8 3 1 2 14 9-7-4-5 3-2-3-1 2 0-6-1 6-6-5-2 3-3-1-3-1-6 2-4-3-2 7-3-6-1 2-5 0-1 1-2-3-3 5 0-6-3 4-8 10 3-4 0-3 8 2 10-1 0 6 4 0 1-4 1 0 0 4 4-7 0 5 9-3 1 2 4-1 6-2 6 1 4 3 3 0 2-4 10 15-2-1-6 1-10-7-4 3-3-4-14 4-2 4-7-6-4-2-1 5-1 0-1-2-4-2-1 0 0 2-3 1-3 1-3-4-2 5-1-3 7 12 0 0 6-4 3 3 1-5 1 1 0 4 3-5 5 2 2-1 0-1 1 0 5 0 5 1 1-1 7 4 10-4 4 3 9 2 1 2 3-3 10 3 13-3 22-1 28 3-75 6-6-2-1 3-6 0-2 0-2-6-4 8-7-1-1-1-5-2-10 1-2-2-7 4 0-2-2-3-2 4-2-3-3-1-4-2-127 13 149 0 0 0 6-4 5 3 1 3 0-2 1 0 0-4 9 4 4-5 2 5 6-5 1 3 2 1 8-4 2 1-13 9-3-2-18 2 115 8-7 20-241 3 42 23 62 3 45 22" fill="none" stroke="none" marker-start="url(#me4)" marker-mid="url(#me4)" marker-end="url(#me4)"/>
<path d="M374 1919l-25 7 1-4 1 2 1-1 3 1 2-3 4 6 1-7 6 1 3 1 5 5 2-3 3-2 7-1 4 2 1 4 0 0 3-6 2 3 2 2 2 0 2-4 6 4-1 8 0-4-6 3-5 1-3-1-2 0-9 2-2-3-2-3-1 1-2 3-3 0-12-3-5 0-4 2 6 11 7-3 2-3 3 0 2 4 5 3 1-4 10 0 3-1 3 5 1-7 5 3 0-2 0 1 1 2 1 0 1-2 1 0 2 4 1-6 13 11-1-1-1 0-6 4 0 0-2-6 0 5-2-4-2 2-2 2-3-2-10-2-4-1-6 4-3 1-5-2-13 1-13 3 20 4 2-4 3 2 18 4 0 2 6-3 3 0 2 0 9-1 1 3 2-3 5 0 1 1 2 0 1 0 0 2 3-3 4 3 7-2 8 2-12 4-4 3-2-4-3 5-2-2-1-4-2 3 0 0-8-1-4 0-1 2-2-2-7-1-3 1-1 1-5 0 0 0-8 0-1-4-1 3-3 3-4-4-1 2 15 10 1 1 2-2 4-1 0-2 2 0 3 3 2-1 2 0 3 4 11-6 0 4 2-5 7 4-4 7-9-4 0 3-5 2-2 2-5-2-3 3-1-4-9 1-2-3-3 0 19 7 7 7 1-6 3 2 7 0-21 5-16 0-8 7-23-5 54 6 26 14 55 2-285 48 47 1 107-1-39 25-34 27 12-4 30 21-39 20" fill="none" stroke="none" marker-start="url(#me5)" marker-mid="url(#me5)" marker-end="url(#me5)"/>
<path d="M336 1954l98 0 1 0 18 7-3 2-26 6 6 0 2 3 0-2 2 2 1-2 1 6 3-5 0 0 0 4 3-4 3 2 1 1 11 0 1 0 3 1 1 0 3 1 0-3 0 0 17 11-5-3 0 0-4 0-1-2-4 3-5-5-5 4-5 3-2-5-3 4 0-1 0 0 0 0-4 2-4-6 0 5-3 0-1-5-1 1-4 0-4 3 0 2-10-2-59 7 54-4 11 2 3 0 4 4 1-1 2 1 0-7 9 3 2-1 3 2 2 4 0-5 8 1 1 2 0-3 2 1 1-3 5 6 7 1 8-4 5-1 1 9-1 3-1 1 0-6-2 2-1 1 0 2-5-5-8 5 0 1-6-7-5 3-2-3-2 1-2 0-4-1-6 5 0-4-1 5-6 1 0-5 0 4-1-2-6-1-9 3-2-3-13-4-196 11 131 0 10 2 55-2 17 1 1 3 0 0 1-3 5-4 2 4 7-4 3 8 10 0 3-2 1 0 17-4 2 1 2 3 3-2 1-4 11 2 1 5-1 3-4 4 0-3-5 2-3-5-3 2 0 4 0 1 0-3-2 1-1 2-2-1-1-5-1 2-5 0-1 0-1 3-3 0-3-4-3 3-1-4-2 6-3-3-2-3-1 3-9-2-5 2-1-3-8 2-6-2-3 4-1-3-1 5-178 2 172 1 8 3 4-5 7 0 4 1 4 6 1-1 1-4 3 5 1 0 3-5 0 5 1-6 8 3 3 2 8 1 0-3 3-3 5 3 10-4 1 1 0 0 2 7 2-3 1-3 0 3 3-3 4 3 1 0 1-5 1 1-2 9-2 3 0 0 0-1-5 1-14 2-2-1 0-1-4 2-13-5-3-1-3 3-1-3-2 4-2 3-2-4-2-2-4-1-1 6-4-7-1 5 0-3-1-1-3 3-6 3 21 5 2-3 5 1 1 0 1-1 0 2 0 5 7-7 2 0 1 5 3 0 1-3 5-2 3 6 0 0 2-2 2-1 2-3 0 6 2-7 1 2 2 6 2-5 8 2 1-3 0 6-1 6-2-1-5 0-6-4-7 4-2-3-1 2-3 3-4 0-2-6-3 7 0-2-2-4-8 5-1-6-3 6-199 5 8 0 154 0 35-2 9 3 1-2 0-1 0 4 3-2 1 3 2 1 6-1 8-3 0-4 2 7 0-1 1 1 2 0 4-1 3 0 1-2 2 1-14 6-5-2-5 2 0 1-8 3-1-6-6 4-102 14-65 11 18 20" fill="none" stroke="none" marker-start="url(#me6)" marker-mid="url(#me6)" marker-end="url(#me6)"/>
<path d="M360 1932l18 41 19-4 15 11-181 9 92 1 96-4-12 10-4 2-25 10 5-2 0-2 5 2 1 1 13-2 0-1 3-3 0 13-4-4-1-1-3 7 0-6-15 4-1-3-2 1-4 2 0-5 0 3-3 1-2-1-141 6 144 2 10-1 1-1 3 3 7-5 3 1 0 7 1-4 9 0 0-3 3 3 2 1 6 1 2 2 2-1 3 0 6 0 1 7-5-3-2 2-2 2-3-3-4 3-3-5 0 5-6-6 0-1-1 1-1 3-1 3 0-5-2-1-2 6-1 0-12-7-2 4-1-3-1 6-2 0-4-5-2 1-2-2-1 0 0 3-1-2 0 3-74 3 76 7 3 0 1-4 7-2 14-1 3 3 1-1 6-1 0 2 4 0 1-3 1 1 2 2 9 0 2-3 2 6 1-5 5 7 4 0-5 1-5 2-2 1-2 3 0-4-8 5-4-3-5 1-1-3-4-2-4 2-5 1-2-4-1 5-7-2-3-3 0 8-2-2-1 2-3-4-5-1 0 1 5 10 1-6 2 5 1 3 4-7 1 1 2 3 0 1 0 2 4-2 8 0 6-2 4 1 1-2 4 0 0-1 4 4 2 1 6-4 2-1 0 0 7 4 2-1 5-5 0 7 0 0 13-3 1 6-5 5-2 1-5 0-1-1-3-4-4 0-3 1-1 0-1-2-5-1 0 4-5 1-2 0-2-2 0-1-1 1-1 3-1-3-3 3-1-3-6 4-1-5-1 1-2 0 0 2-2-3-2 3-1 0 0 0 0-5 0 1-6 5-1-6-4-1-6 5-1-5-1 2 0 3-101 6 105-3 4 4 4-2 5 0 3 4 2 0 7-5 4 0 0 5 2 1 7-4 0-1 2-2 9 1 1 3 0-2 8 3 4-1 3 4 1-5 0 6-7 0-2 6-3-5-6 0-5 0-8-1-1 3-2-2-3-1 0 2-2 3-3-3-3 3 0-6-4 3 0-1-2 4-1-6 0 6-1 1-4-2-4 1-1 0-3 5 5 2 6-5 2 2 1 4 2 0 0-3 4 5 0-3 2-3 2 4 0 0 1-2 1 1 1 1 2 0 4 0 3-1 8 2 0-2 2-2 2 0-8 6-5 5-1-1-1-2-1-1-15 4 0-1-2-2 0 4 0-3-1 3-3-4-175 5 51 2-20 6-40 5 22 25 71 11 6 21-46 5" fill="none" stroke="none" marker-start="url(#me7)" marker-mid="url(#me7)" marker-end="url(#me7)"/>
<path d="M349 1921l36 3-62 50 11-1 23 0 74 11-225-1-21 9 6-5 4 3 5 1 7-5 2 1 5-1 10 3 0-4 2 0 1 3 4 1 7-1 2-1 174 0-162 13-4-6-10 5-4-4-8-3-3 4-1 0-7-1-1 3-2-1-1-1-6 0-4-4-1 8-2-2-18 9 0-4 4 4 8-2 0-1 3-1 1-2 3 2 2 3 9-5 0 5 2-5 2 2 1 1 1 3 2-6 2 1 0-1 12 3 9-4 2 6 1 1 3-5 14 3 3 3 89 0-89 3-3 4-9-1-9 0 0 0-3-6-4 7-3-3-2 4-2-2-3 2 0-4-7-3 0 4-6-2-2-1-5 0-1 4-3 1-2-7-4 6 0-3-1 4 0-2-4-2-5 5-1-3-5 0 2 7 1-3 4 5 1-3 0 4 1 0 2-7 0 4 2 1 1-4 3 4 9 3 9-5 1 2 3 2 0-3 1 1 1 3 7-5 2 4 1-7 2 2 8 1 4 1 0-1 1 2 1 0 0-3 4 4 0-6 1 3 1-2 0 5 4-1 3 2 2-4 3 5 0-3 1-2 7-1 8 1 6 4 1 9-4-1-3-5-6 3 0 0-1-1-1-1-4 3-1-5-2 5-9-5-16 4-1 1-2-6-1 2 0 3-3-3-10 2 0 2-1-4-8 3-11-4-1 7-2-4-7-1-12 0-4 2-1 5 6-1 7 2 6 5 0 0 3-6 17 3 8-1 3 3 1 0 8-1 2-3 1 4 4-4 3-2 2 0 2 4 13 2 1-3 0-3 5 5 7 1 0-3 2-3 8 2 0 3 5-3 2 1 1-1 1-2 2 11-2 0-10-1-5 1-6 0-6 2-1-5-1-1-6 1-3 0-2 3-4-1-2-3-4 3-1-3-1 3-11 4-2-7-1 1-2 0-2 6-1-3 0-2-16 1-3-2-7 5-11-4-11 1 13 10 6-5 10 5 6-4 0 6 9-2 1-1 4 0 0 1 2 3 4-7 5 5 12 0 4-3 6 2 0-4 10 0 1 3 3 4 1-4 4 1 2-3 4 1 2 0 8 1 3 3 2-6 2-1 92 11-67-3-35 7-11 0 0-2-3-2-3 2-4-3-6 2-3 1-2-5 0 1-5-1 0 8-4-3-1 3-3-5 0 4-6-3-2 0-5-2-10 1 0-1-3-1-8 1-5 0-7 0-25 0 56 10 10-2 2-2 1 2 5 3 1-2 3 5 2-1 3-3 2 3 6 1 3-3 2-4 2 0 0 1 10 6 15-4 137 5-151 2-29-2-19 2-2-2-5 12 20-2 2-2 9 5 1-5 8 1 11 4 136-4-151 8-11 2 3 11-9 4-11 15 80 36 2 14" fill="none" stroke="none" marker-start="url(#me0)" marker-mid="url(#me0)" marker-end="url(#me0)"/>
<path d="M365 1927l-6 28-181 83 18-5-18 9-4 10 2 2 2-5 0 0 1 2 1-1 10 0 10 1 6-2 4 5 102 0 21 2-26 2-92 3 0 1-8-2-4 2 0-3-5 5-6-1-1-5-17 14 7-6 3-2 5 5 2 1 7-6 0 2 4 4 6-3 2 2 2 2 6-2 1-1 3 3 1 0 5-5 0 4 167 5-143 2-8 1-2 0-3-1-4 3-6-5-3 1-4 2-1-3-1-1-2 4 0 1-2-4-1 1-3-2-5 4-1-4-4 1-10 1-8 0-2 3-2-4-1-2-4 2 7 12 2-4 16 1 12-4 8 4 11 1 3 1 2 0 9-2 0 3 0 0 1-5 1 2 7-1 2 3 65 4-56 4-7 1-6 1-10-2 0-1-3-3-1-1 0 6-3 0-2-2-3-2-1 4 0-6-1 1-3 4 0-5-1 4-2-2-4-1 0-2-3 3 0 4-6-5-2-1-3 0-5-1-2 7-1-6-1 4-8-3 1 11 5 2 4-3 25 1 0-5 4 2 0 5 8-7 1 4 1-2 14 4 8 0 2 0 30-3-17 11-14-1-4-3-3 3-5-2-4-2-1-1-4 5-4 2 0-3-8-3-9 2-6-2-3 5-1-4 0 4-3 0-3 1-5-3-1-3-2 3-4-3 9 10 2 1 7 0 1-4 4 4 0 0 4 1 7 3 1-3 1 3 7-4 3 0 2 1 1-5 3 6 2 0 2-2 8-2-12 11-11-2 0 4-3-4-6 4-3-2-10-2 0 3-1-2 14 5 0 4 3-1 5-2 1 4 1-1-5 4 7 7 79 6-30 38" fill="none" stroke="none" marker-start="url(#me1)" marker-mid="url(#me1)" marker-end="url(#me1)"/>
<path d="M351 1936l-24 22 32 42 126 15-209 9 207 1-84 1-115 14 27 7-2 0-5 1-20 8 8-5 8 1 9 1 9 0 4 0 8 1 1 2 1-2 6 0 10 8 0 1-6 0-2 1-15 0-5-6-1 0-3 4-1-5-3 7-6-3-2-3-6-2-7 6-1 2-3-7-3 6-105 1 97 7 17-2 0-5 2 5 2-3 3 1 1-1 3-2 3 4 1 2 2-4 3 0 3 4 7-3 0 3 5-6 3 2 1 0 10-1 3 0 0 7 4-7 20 14-3-7-10 4-2 1-5 1-4-1 0 2 0-1-1-1-7-2 0-2-4 2-1 1-4 3-7-6-5 1-1-1-1 1-10 2-1-2 0-1-14 1 0 5-2-6-9 8 1 6 4 1 0-5 1-1 1 1 3-3 10 7 15-2 3 0 3-2 7 5 5-7 0 1 4-2 5 5 7-2 2-2 6 5 0-5 2-1 6 3 1 1 0-1 3 1 3 0 1 2 8 2 0 5-16 3-2-5-4 0-5-2-1-1-10 2-4 2 0-3-1 1-8 2-3 2-3-3 0-1-7 1-6 4-5-2-2 1-11 0-1-3-3-2-2 4-1 1-1-5-1 6-6-1 0-6-4 7-2-5-1 3-6 1 15 8 3 1 1-7 2 7 8-3 4 4 13-6 2 0 2 4 1-2 5-4 1 1 10 6 5 1 2-3 1-2 2-2 8 0 2 0 4 4 7 0 5-3 2 6 1-5 0 2 1 0 4-4 4 5 2-6 0 6 4-2 3-1-3 9 0 1-1-5-3 3-5 2-1 2-1-3-9-4-7 1-3-1-4 2 0 0-6 1-2-1-13 1-2-1-4 1-2-2-3 1-5 5-1-7-1 1-2 0-7 3-4-2 8 14 9-2 2-2 1 3 0-6 7 6 0-1 28 2 4-7 6 0 1 3 7 4 0-6 1 2 11-1-19 11 0-2-3-1-9 3 0 2-8-7-4 2 0 1-1-3-4 1-1 1 0-2-14 3 0 3-2-7-2 5-1 0-9 1-3-5-3 6-9-5-2-2-74 5 97 6 9 0 1 0 11 0 8 2 0-1 1-1 0-1 5 4 4-2 1-1 9 1 1-3-11 8 0 4-8 0-3-3-4-1-14 0-11 14-27 2-20 1-5 8 33 15" fill="none" stroke="none" marker-start="url(#me2)" marker-mid="url(#me2)" marker-end="url(#me2)"/>
<path d="M445 1963l-103 6 14 12 28 12-21 6-177 8 179-7 80 11-63 5-203 19 97 36 156 7-175 20 6-2 3 7 1 0 5 0 37-4-32 11-3 2-13-1-3 1-4-4-12 7 2 2 4 0 1-1 3 2 1-3 3 1 2 3 9-4 0 0 5 0 2 0 2-1 4 1 0 0 9 3 4 1 48 4-27 0-10 4-5-3-14 1-1 0-9-4-2 1 0 0-1 1-4 4 0-1-8-1-1 1-1-2-3 4-5-4-21 12 11-6 4 5 2 1 1-3 0 1 2-5 0 4 2 3 13-3 0 2 29-4 1 2 4-3 1-2 0 5 5 0 9-3 6 4 0-3 38 6-14 5-4-5-1 1-2 5-2 0-20-4-3 4-2-5-5 6-10 0-1-1-1 1-1-3-1-5-7 6-6 1-1 1-1-5-5 0-8 2 0-2-3-2-1 2-1 1-1-3-6 3-5-3-4 2 0 4-6-3-7 0-1 0 7 10 5 1 7 0 2-3 1 0 3 0 6 3 7-5 0 4 2 0 1-1 2 1 18-3 4-1 12 0 3 5 0 0 5-4 2 3 7 2 4-3 2-2 0 5 3-7 2-1 8 7 0 2-4 4-2-2-2-2-5 1-2 1-1 3-4-4-4 4-13-3-9-1-1 0-3 5-1-2-2-5-9 1-14 1 0 0-17 2-2-1-3 1-1 3-4-2-2 3-2-4 6 11 2-1 2 0 1 0 4 2 1-8 3 4 7-1 2 4 2 0 1-4 7 1 2-1 1 3 8 0 3-5 7 0 1-1 1 7 8-1 4-3 0-1 5 2 2 2 1 1 2-3 2-2 4-2 1 1 2 2 3-1 2 5 2 0-1 2-2 0-6 5-6-5-6 4-4-1-3-1-1 4-5-6-6 0-3 5-1-1-1-2-1 4-6 0-5-5-13-2-1 3 0 4-1-5-1 6 0-2-2-2-12-2-4 3-7-1 5 5 1 1 3-1 12 6 4 0 7-4 0 5 15-7 1-1 5 5 6-3 0 2 2 1 11 1 2-4 1 4 5-2 2 1 6-2 1-2-9 8-9 2-2 1-16 0-21 1 9 4" fill="none" stroke="none" marker-start="url(#me3)" marker-mid="url(#me3)" marker-end="url(#me3)"/>
<path d="M357 1932l-6 4-1-5-5 12 65 7-40-5-9 1-10 1-2 2-4-1-6 4-22 6 19-1 3 0 1 0 6-4 2 6 4 0 3 1 0-8 1 7 0-6 11 6-1 3-2 5-4-3 0-2-3 1-1 1-5-3-10 6-1-1-2-2-3 3 0 0-2-4-1 4 0-5-8-2-8 5 0 3-5-5 0 12 0-1 1-3 1 5 1-4 2 3 1-3 1-1 5 4 6-4 1-2 0-1 1 7 3-4 5 2 1-3 4 6 3-3 0 2 10-4 1-3 0 8 1-8 4 6 2 0 6-2 1-2 3 3 16-3 24 12-28-2-2 1-3-2-8 3-6 0 0 0-3-2-1 4 0-3-1-4-4 4-6 0-1-1-5 4 0-5-3-2-2 0-2 0-6-1 0 6-1 1-5-3-4 0-6-1 0 5-2-3 0 1-1-1 0 3-3-7 4 12 1-3 2 4 0-6 2 4 0 1 1-3 2 3 3 1 1 2 1-2 2 1 0-1 2-1 0-1 1-3 8 3 4 1 1-4 2 3 3 3 0 1 1-6 7 3 4 3 3-8 1 4 3 4 4-7 2 4 2-1 19 3-12 8-13-1-3-4-10 1 0 1-2 2-1-3-1 1-2 3-10 1-7-5-1 3-3 2-2-3 0 2-2-4-1-1-4 1-93 6 106 1 9 5 1-4 9 4 12 1 0-6 1 6 5-7 1 1 3-1 3 2 1 4 10 1-19 3-1 2-1 1-5-5-13-1 14 12 66-3-199 24 48 9-78 22-13 4 126 19-33 10-47 18 99 16-64 1" fill="none" stroke="none" marker-start="url(#me4)" marker-mid="url(#me4)" marker-end="url(#me4)"/>
<path d="M394 1920l-40 1 0 0 9 3 8 1 3-3 4 4 1 2 3-4 1 3 1-3 0-3 6 6 2 0 3 0 1-3 0 2 3-5 18 13-5-2-4 2-5-2-2-2-15 5-3-2-3-4 0 3-8 2-4-4-7 5-3-1-3-2 0 1-2 1-4-2 4 7 5 3 8 0 4-1 4-2 10 2 2 0 1-2 2 0 1 0 4 0 1-3 2 2 0 4 1-4 1 4 4-5 0 3 5-3 3 6 5 1 1-5 14 12-3-3-1 4-1-5-4-1-1 1-1 1-7-2-4 3-1-3-1 2-4-3-1 3-10-3-3 5-1 1-3 0-7-5 0 3 0 1-1-6-1 7-5-6 0 6-13-1 11 8 1 2 3-3 2 2 3-3 2 1 9 1 0 1 1-7 3 0 1 4 2-3 3 2 5 2 5-2 5 4 0-3 6-1 0-2 2 6 1-6 8 2 2 0 0 5 19 6-7-4-16 6-7-6-1-2-2 8-4-5-3 3-1-4 0 5-6-6-1 7-6-1-2-3-1-3-6 1-4-1-7 2-1-1-3 0-13 10 23-2 2 5 0 0 2-5 12 6 0-7 0 0 5 3 2-4 1 4 3-3 4 1 11-1 7 3 0-2-6 10-3-1-7 3-1-3-7 3-1-1-8-4-10 0-12 0-8 1 8 8 15 2 2-1 3-2 6 6 14-1-12 9-14-4-4 3-6-5 1 9-40 6-72 7 20 16 107 17-84-4-38 14 90 17-123 13 161 10-203 8" fill="none" stroke="none" marker-start="url(#me5)" marker-mid="url(#me5)" marker-end="url(#me5)"/>
<path d="M349 1938l112 30-15-3 0-4 0 4-3 1-1-5-10 6-14 6 12 0 4 1 0-2 0-1 0 3 2-4 9 5 2-5 1 0 0 2 9 4 1-3 0-3 4-2 2 8 2-2 2 5-4 5-3-6 0 1-7 0 0-2-1 2 0 0-1-2-9 3-1 4-1 0-2 0-1-2-4 1-6 0-1-2-1 2-7 1-1 0-85-1 76 6 2-4 2 0 4 5 5-5 5 0 4 6 0-3 7 3 0-2 4-4 1 6 0 0 1-5 1 6 1-7 4 7 0-4 2 4 0 0 0-2 2 0 0-5 1 7 2-3 1-4 3 4 3 0 0-4 2 2 0 2 2 0 2-5 3 6 10 1 3 0-1 1-1 5-1-1-1 2 0-6-3 5 0 3-2-1-1-4-2 4-2-5-2-2-4 3-3 3-2 2-1-6-1 3-2-1-2-1-2 4 0 1 0-2-4 2-2-8-3 2-2 0-2 3-5-2 0 1-5 0-1 2-2-2 0 1 0-3-1-2-1 7-3-5-1-1-2 6-51 0 30 8 8 1 1-7 1 5 1-3 12 4 0-1 1-6 0 0 4 7 4-3 2 2 3-5 6 4 5 1 3 0 2-2 1 3 2-2 7 0 6-5 1 6 0-1 1-2 4-1 1 1 5 4 1-5 2 4 1-4 2 5 2-4 0-1 1-2 5 7-1 2-4 6-1-3-1 1-4 0-1 1-1-1-2-4-4 0-1 4-3-4-7 5-1 0-1 0-4 2-1-3-3-3 0-2-4 5-3-3-2-1-2 2-1 4-1-4-3 5-3-5-1 2-5-5-3 2 0-1-5 1-153 2-9-3 148 11 16 4 2-4 2 1 7-1 3-2 0-1 0 5 7-4 7 5 1 0 7-2 8-2 2 1 3-2 3 2 2 0 2-4 2 7 7 1 3-4 1-3 3 0 4 8-3 2-3 2-1 3-1-3-4 0-1-5-2 7-1 0-1 1-8-5 0 4-4-3-2-2 0 4-1 1-2-1-1-4-3 4-4-3 0 2 0-2 0-3 0 4-2 3-3-5-7-1 0 3 0 0-1 3-8-4-2-2-3 0-4 0-10 3-5 0-123 7 148-1 1 4 3-1 4 3 1-3 4-4 0 0 2-1 0 3 2 4 6-4 4 3 1-2 2 2 2-4 1 2 1 3 11-5 2 4 5 1 0 0 1-1-5 6 0 2 0-4-1 3-5-2-2 3-1-5-3 1-3 0-3 0-10 2-5 0-5 3-1-1 0-4 0 0-8 2 7 12 1-4 1-1 5 5 1-7 5 6 1-5 0 4 6-1 2 1 6 2 8-2 5-4-11 10-9 2-5 1-11-6-8 2-1 4-97 0-14-5 122 8-42 14-104 28-72 20 88 16" fill="none" stroke="none" marker-start="url(#me6)" marker-mid="url(#me6)" marker-end="url(#me6)"/>
<path d="M469 1975l-88 2-28 10 39 13-2-2 0-1-5 1 1 4 1 6 1-4 6 3 2-5 2 5 7-2 0-5 3 3 24 5 52 2-60 1-6 3-1-2-8 1-5-3 0-1-8 2-8-1-6 3-12-1-12-1-169 6 183 7 2-4 10-2 3-1 0 0 2 6 2-6 0 6 1 0 5-1 3 1 7-4 2 2 1 2 3-6 4 1 5-2 6 6 53-5-59 13-1 1-1-2-1 0-2-2-3-1 0 4-3-2-2 2-3-2-1 0-1-1-4 2-2-2 0 5-1-7-1 0-4 0-7 1 0 0-4 5-3-5 0 1-9 1-1 2 5 6 0-2 6 6 4-6 1 2 2 3 5-4 11 4 2 1 1-6 4 4 6-4 1-1 1 1 4-1 0 1 1-1 0 6 1 0 4-3 10 3 46 4-50 4-11 0-3-3-6-2-7 0-7 3 0 3-1-2-7-4-1 3-3-2-2 1-8-1-1 4-3 0-2 1 2 4 6-2 2 1 4-2 0 3 4 1 1-4 7 7 2-1 4-4 1 1 4 1 0 1 14-1 0-3 4 2 0-1 1 1 8-1 2 3 20 0 15 4-15 6-4 0-5-1-2-1-7-1-3-5-1 8-3-6-3-1-3 0-1 1-2 3-1-1-1 3-2-5-1 1 0 0-5 2-5-2-1 2-3-1-1 2-5-5-5 4-8-5-3 2-36 9 33 5 1-2 0-5 5 7 4-1 2-6 6 5 0 0 1-4 4 3 3-1 1 2 2-3 1 4 0 0 1 0 1-3 1-1 4-3 1 6 3-5 1 2 1-2 3 3 0-4 6 5 0-2 2 3 1-2 7-1 1 2 16-4-21 8-2 6-4-5-2 0-1 4-2-3-5 1-8-3 0 3-5-3-2 7-1-6 0 5-2-1-6-4-2 3-4 1-6-3-5 0-126 5 130 4 0-1 2 3 5 1 5-4 2 0 2 5 1-2 2 1 1-6 2 3 6-2 0 2 6-1 0 0 3 5 4-7 6 2-16 7-2 4-8 2-2-2-2-5-3 2 0-2 0 3 0 1-2 1-32-2-66 36-29 1 67 10-38 13" fill="none" stroke="none" marker-start="url(#me7)" marker-mid="url(#me7)" marker-end="url(#me7)"/>
<path d="M374 1954l46 8-11 16-19-2-178 6-15 5 8 0 1-3 3 8 3-8 4 4 7-2 1 5 6 0 1-4 0 3 9-1 97-3 35 8-118 3-2-3-3-1-10 2-1-3-1 6-2-4 0-1-1 5-2-4 0 2-24 4-7-5-1-2-1 1-4-2-1 5-7-3-5 12 12 0 1-4 1 1 2 0 1-1 9 5 1-2 3 0 0-2 7 0 6 2 0 3 6-7 2 7 1-1 10-7 2 3 12-1 6 5 110 5-115-2-12 6-6-6 0 0-4 2-3-1-3 0-5-2 0 1-6 0-7 2-1 3-11-1-1-5-1 4 0 1-1-3-1-2-14 3-6 4 9 1 9 3 3 2 3-1 2 3 5-3 20-3 1 3 2-3 1-1 2 5 4 1 0-7 1 0 0 2 1 0 3 4 2-4 1-2 1 1 2 2 1 0 0-3 5 4 8 3 1 0 5 1 0-1 0-7 2 3 6-1 5 5 11 7-11-5-6 3 0 3-4-7-1 0-1 4-3 0-14-2-11 0-2-1-5 0 0 6-6-6-10 4-6-4-6 2 0 1-6 0-4-1-9 4-3-5-4 3-6 3 0 7 4-6 0 3 0 2 10-5 4 2 4 4 0-7 5 8 12-7 12-1 1 8 10-4 7 1 1-4 3 4 4-2 2-1 3 0 9 2 1 4 1-6 0 0 0-1 1-1 5 2 2 4 1-1 1 1 3-6 25 10-24 6-2-3-2-3-5 5 0-7-5 2-10 6-2-2-3 2-4-6-7 2-4 0-10-2-1 4-6-6-2 7-2-3-3-3 0 2-5 4-1-6-4 0-17 0-1 2-4 4 2 5 2 3 4-1 18-2 14-1 2 4 5-2 8-1 2-3 2 4 11-3 1 1 2 1 4-1 1 3 2-1 1-4 1 3 4 1 1 1 3-2 2 2 10-6 0 8 6-2-3 3-2 0-4 1-1 3-6 1-4 0-2-5-3 4-1-3-5 1-3 4-3-4-2 4-3-3-1 1-8 0-5-5-9 7-1-2-1-1-6-3-12-1 14 8 13 6 11-5 7 2 6 4 1 0 1-3 16-4 0 7 13-7 23 2-34 10-3 1-1-2-7 0-28-2 5 10 22 3 3-3 0 5 7-5 1 3 3 1 16-1 119-3-150 9-10-3 6 12 55 2-102 8 50 32 5 9" fill="none" stroke="none" marker-start="url(#me0)" marker-mid="url(#me0)" marker-end="url(#me0)"/>
<path d="M387 1968l-24 8-46 2 18 10 112 6-195 13 152 19-111 4-115 9 3 0 197 5-198 6 12-2 2 1 1 0 14 5 9 0 12-2-12 10-7 2-1-2-2-1-4 0-5-5-8 7-5-5-2 0-1 2-1-3-6 2 2 11 1-2 1 3 3-5 0 4 3-3 5 3 0 1 5-5 3 3 1-4 5 6 2-5 3 2 2 2 7 1 2 0 1-1 6 0 4 0 4 1 16 5-1 1-3 1-2-4-8 3-5-4-6 5-7 2-6-3-9-1-5 1-2 1-6-2-3 4-1-4-5 2-2-2-4 1-1-2-1 6 6 1 2 2 6-2 2 4 11 2 0-5 4 0 0-1 7 6 5-6 5 0 8 5 1 1 4-1 1-1 9-2 4-1 9 1 93 4-66 7-29-5-1 2-5 1-6 1-1 1-11 0-11-7-14 6-6-6-10 2-5-1-2 5-3-2 4 6 7 4 2-1 5-1 0 4 1-4 4-1 1 1 11 1 1-3 1 4 1-1 3-3 2 5 5-5 3 1 9 3 5-1 0 0 2 0 1 0 17-3 73 3-85 6-1-1 0 1-1 2-4 1-3 0-3-5 0 6-3-5-4 6-11-7-2 2-1 3-8 1 0-4-1 4-2-5-1 5-8-7-7 6-5-3 0 0-2 0 9 7 5 4 4 1 2-6 1 1 2 4 6-6 3 4 4-3 3 2 1-1 9 1 0 1 2-2 7 5 5-6 101 5-117 6 0 0 0-3-1 1-1-1-11 4-2-3-2-1-6 3-2 1-2-3 0 1 7 6 2 4 1-3 1 5 12 0-2 8-6-4 5 12 2-3 74 35-20 9" fill="none" stroke="none" marker-start="url(#me1)" marker-mid="url(#me1)" marker-end="url(#me1)"/>
<path d="M346 1944l115 39 27 19 6 18-304 9 104 10 86-6 74 4 5-2-150 9-3 1-1-1-6 3-5-1-2 1-9-6 3 13 9-3 6-2 3-1 6 1 1 4 3-3 4 4 2 1 5-2 10 1 135 3-35 1-74 5-2-3-4 1-11 3-4-5-4 0-1 4-3-7-1 6-12 0-7-6 0 5-2-3-3 1 0 4-3-6-2 5-1-3-1 0-2 3-2-2-1 3-9-1-3 2-11 6 20 0 3-5 1 2 2 4 3-1 3-2 2 3 3 1 6-7 0 1 2 2 3-1 9 0 11-3 2 6 6-4 1 3 4-4 5 3 0 0 15 8-9-1 0-1-6 0-17 0-25 0-1 1-5-2-1 6-2 1 0-5-1 0-2 2 0-1-3-2-1 5-1-3-5-1-8-3-11 0-2 2-11 9 5-1 13 2 1-2 0-1 3 5 2-6 10 4 0-1 3 3 20-3 0-2 4 1 0 2 3 2 0-1 1-4 1 0 0-1 7 2 12 6 13-3 9 1 1 2 1-1 2-1 1 1 15 8-16-5 0 1-3 1 0 2-1-2-8-4-3 2-9 5-1 1-8-6-4 2-3 2-4-5-2 1-7 6-7-6-2 1-1 0-2 0-4 4-2-1-2-3-1 1-3-3-8 2-1-2-3 6-3-2 0 1 0-5-4 1-1 4-13-3-2 12 5-6 5 6 15-4 2 3 3-3 4 3 1-1 8-5 0 3 5 0 2 1 4-2 1-1 1 3 6 1 2 2 2-2 2-1 0-2 4-1 4 3 3-2 2 2 11-1 2 2 14-1 5 3 9-6-1 13 0-3-1 3-1 0-3 1-5-4-6 0-2 1-3-4 0 3-3-1-1 4-3-3-1 1-5-1-2 1-3 2-1-3-1 4-4-3-1 3-1-4 0 4-4 0-6-5-1-1-1 2-9 3 0-4-4 6-2-3-1-1 0 4-5-8 0 4-11 0-15 1-3 9 15-5 6 0 3 5 2-6 12 3 1-3 3 7 9 1 1-3 1-3 2 3 0-3 0 4 1-2 3-2 3 1 0 0 3-2 2 0 1 5 4 0 0-6 5 3 2 0 4 1 7 1 2-1 5 1 3-3 3 1 3 5-1 1-1 2-9 2-1 1-1 2-4-2-2-6-11 3-15-2-5 1 0 4-12-4-1-1-1 1-7 4-36-5-43 4 87 4 12 4 2 3 6-5 0-1 2 1 4 0 1-1 3 2 1 4 5-3 8-3-3 7-8 4-3 0-5 0-4 1-6-6-11 6-50 3 54 4 8-4 0 5-1 4-48 32" fill="none" stroke="none" marker-start="url(#me2)" marker-mid="url(#me2)" marker-end="url(#me2)"/>
<path d="M370 1940l77 21-74 29 71 10-188 13-28 3 198 11-50 3-199 7 112 16 149 11-201 4 40 3 8 9 14 7-24 7-11-3-1 10 0 0 14 1 77 0-58 6-14 3-3-2-1 0-2-3-10 2-5 2-12 1-57-5 60 11 3-4 2 6 4 0 2-7 1 8 2-3 5-2 2 3 8 1 17 0 18 6-1-2-8-3-3 6-1-2-10-2-4 5 0-1-3-1-5 3 0-4-12 2-4 1-1-4-1 1 0 0-7-3 0 5-2-3-1-3-1 5-2-3-1-1-2-1-1 7-5-3-5-3-4 2 6 8 6 2 1-1 4 1 1 0 2 1 0 0 4-5 5 6 3-2 3-1 4-1 1 3 5 2 6 0 4-7 3 1 2 2 2-2 0 3 5-4 4 2 9 2 1-5 24 6 1-1-3 3-2 7-5 1-1 0-1-2-1-5-2 4-2-4-1 3-3 1-2-4-3 1 0 0-4 3-6-3-8 0-2-1-1 4-8-2-1 1-2 0-10 3-1-5-2 3-3-1-1 4-3-6-6 4-1-6-4 0-4 8-1-8-3 5-7-3-6 8 9-1 11 6 8-3 2 0 10-2 6 3 1-5 5 0 4 6 1 0 2 1 2-6 2 4 1 0 9 0 0-2 0-3 2 8 2-5 8 2 4-2 0-1 9 5 4-6 3 7 3-1 9-2-10 8-3 3-1-1-4-3-18 3-15-5-1 2-6-3-4 6-1-4-7 2 0 2-7-2-6-4 0 4-6-1 0-3-1 1-3-1-7 6-2 1-2-5-4-2-2 7-1-5-4 4-1-3 5 7 1 3 3 1 11-6 11-1 1 4 1-1 7-1 15 0 2-2 1 7 0-5 6-1 0 2 2 3 9 2 5-7 5 0 8 4 1-1-9 8-2-2-2-1-1 3-2 0-4-3-12 4-3 2-6-5-6 6-8-1-1-6-7 3 0 4-1-7-6 5-7-2-4-3-6-1 0 6 1 3 11 1 1 3 4-4 2 0 1 4 1-2 3-2 3 2 6 1 2-2 2 6 2-1 5-6 4 5 8 1 2 0 10-5 1 2 3-2 3 2-8 4-2 2-8 5-4-7-6 8-9-7" fill="none" stroke="none" marker-start="url(#me3)" marker-mid="url(#me3)" marker-end="url(#me3)"/>
<path d="M351 1918l15 18-6-5-12 10 6 2 14 7-3 2-6-5 0 3-7 0-13-2-2 2-1 1-5-1-1 1-7 5 2-1 2 2 3 3 0-2 4-4 4 3 0-1 0 1 11 1 2 1 0-2 1 2 2-2 8-3 2 5 27 1-16 4-3-1-2 2-2 3-10-7-5 3-1-1-4 1 0 0-2 1-12 3-2 0-7-4-3-3-4-1-4 4-4-1-2-2 13 8 2 5 0-2 0 2 3 1 6-1 0-3 3 2 0-4 2 3 2-3 1-1 1 6 1 1 7-3 6 1 5-1 0-2 4 4 8 2 0-8 51 10-38 5-4 0-7 1-3-1-1-2-11-3-2 1-1 3-20-5-1 4-1 1 0 0-4 1-1 0 0-1-1-6-15 6 4 7 1-4 1 1 4 1 0 4 0-3 0-1 2-2 1-1 1 7 2-3 1-4 11 2 1 3 4 3 1-2 8 1 2-2 2-1 2-4 2 6 4-2 5 0 2 0 2 2 1-2 2 4 3-1 1-3 17-2 76 9-49 0-37 2-7 3-2-4-2 3-4 0 0-1-1-5 0 2-7-1-7 5 0-4-4 1-1-2-1 4-1 2 0 0-2-8-5 8 0-1-3-7-4 8 0-6-1 5-2 0 0-5-1 1-1 3-4-5-5 2-2-1 0 1-81 6 98 3 3-1 1-2 3 3 3 1 4 1 1 0 3 1 1-6 7-1 1 5 1-1 0 2 9 0 0 0 3-2 8 3-15 4 0-3-4 4-1 3-2-7-3 5-7-4-2 2 0-3-4 0 16 10 18-2 22 2 77 6-274 11 252 6-210 14 61-5 123 6-78 9 63 0-206 20 65 4-24 5 89 15-54 10 44 4-72 7 14 25 17 14-19 1-28 10" fill="none" stroke="none" marker-start="url(#me4)" marker-mid="url(#me4)" marker-end="url(#me4)"/>
<path d="M368 1918l-11 1-9 8 5-3 0 1 9-1 1 3 2 0 2-3 7-3 1 4 1-1 9 1 4-1 2 2 7-5 0 4 4-1 7 11-4-2-3 3-4-1 0-1-5 0-7-2-2 2-7-3-3-1-2 3-1-3-5 4-5-5-1 6-6 2 1 0 1 0 6 2 0 4 5-7 1 6 1-2 1 4 1-7 11 2 0 5 1-8 0 4 2 1 4-3 1 5 1 0 0 0 3-5 7 2 3 0 2 3 3-3 0 3 1 1 6-4 15 12-5-5-12 3-2-1-18-4-4 6-1-2-2-4 0 6-5 1-1-1-7-4-1 0-3 4 0-6-10 0 2 11 1 2 3-1 4 1 5-3 3 0 3 1 1 2 12 2 1 0 3-8 1 0 1 1 2 6 0-3 6-2 1 4 2-3 2-2 1 5 1-2 5-3 4 4 0-1 5 1 1-1 0-2 2 4 3-4 2 3 4-2 5 4-4 2-2 3-17 3-3 1-5-5-1-2-13 6-12-2-2-4-9-1-5 5-5-4-12 6-35 8 54-5 12 0 2 4 6-2 2-3 5 5 0-3 3 4 1-3 5 1 1 2 1-2 3 0 4-4 5 0 1 3 2-1 2-1 2 1 8 2 31 8-43-1-3-3-12 3-1 0 0-3-7 0-1 0-1 1-1 5-14 0-15-4 24 8 1 3 1-5 2 2 4-1 2-1 1 2 13-1 11 4 25-4-3 9-53 1-1-1-4-2-40 3-33-4 143 22-89-5 42 10-146 9 102 18-54 12-69 15-75 2 167 12-63 3-18 20 37 4 53 4" fill="none" stroke="none" marker-start="url(#me5)" marker-mid="url(#me5)" marker-end="url(#me5)"/>
<path d="M447 1960l7 6-5 0-2-2-1 0-6-3 0 2-1 3-1-2-44 6 27 5 8 0 1-7 7 1 2 5 2 2 2-8 1 0 2 6 0 2 3-6 0-2 2 3 4 2 1 0 4 0 2-2 2 4 11 3-4 4-11-1-1-2-1 1 0 3 0 0-8-1-1-2 0 3-3-4-4 4-2-2-1-4-5 5-2-5-3 4 0 2-3-4-5 2 0-4-238 12 234 3 3-2 5 0 3-2 0-3 7 0 3 6 4-1 2-2 1-3 8 4 5 3 4-6 4 3 3-3 4-1 2 5 2-4 1 1 1 1 1 0 4 6-2 3-5 2-1-2-8 1 0-4-2 4-5-1-2-2-1 1-5-1-6 3-3-5-1 0-1 3-5-3-4 4-4-3-1 6-4-3 0-1-5 0-1-1-6-1-7 4 0 2-1-5-10 4-51-6 68 11 2-1 2 2 5 1 0 1 1-1 1-2 3 1 1 3 4-1 11 0 0-5 5 5 2 0 2-6 2 3 4-4 4 4 2-3 8 1 2-2 1 3 1-3 2 2 8 5 4-3 2 3-6 2-6 4-8 1 0-1-1-4-2 6-3-5 0 2-1 3-2-4-3 4-1-7-1 7-5-3-9 1-5 2 0 0-4-1-2-5-2 3-2 3-2-6-1-1-2 5 0-3-1-2-3 1-5 3-11-1 13 11 11-1 6 3 8-6 4-1 2 6 5-2 6-3 1 3 7-1 2-2 0 5 0-1 2-3 2 5 0-4 2 1 4-3 3 5 0 1 1-3 2-2 2 0 0-2 3 3 1-3 0 4 4-3-1 12-1-6-1 6-9 0-1-4-2 1-1 2-2-1-1 0-2 3-4-2-4 2-5 0-2-1-1 0-1-4-8 3 0-1-4-2-2 5 0-7-4 5-2-3-3 0 0 4-4-4-6-2-4 3 22 11 4-5 5 4 1-2 0 0 11 1 2 3 1-6 3 0 3 6 2-6 7 0 1 3 7 2 0 1 2-5 1 1 3-2-2 8-3 4-2 1-1-4-8 4-3 0-2-1-1 0-2 1-6-3-1 2-2-4-2 2-3-1-13 6-1-4-7 1-221-4 226 8 6 0 1 5 2-3 5 2 0-2 4-2 3 6 8 0 3 1 0-2 2 2 3-4 0 3 7-1 2-5-20 12-2-1-8-2 0 3-15-5-193 11 142 2 57-4 2 6 5-5 1-1 6-1-126 35 45 6-65 7-64 20-26 6 42 39" fill="none" stroke="none" marker-start="url(#me6)" marker-mid="url(#me6)" marker-end="url(#me6)"/>
<path d="M383 1928l-20 8 13 31-64-6 98 30 4 5-30 9 7-1 1-3 6 5 0-2 18-3 6 12-10 3-7-6-14 4-1 0-12 1-3-6-7 10 9-1 1 0 1 0 6 1 4 1 4 2 1-6 4 3 4-3 3 8 0-8 4 7 2-5 0 2 5 4-1 4-6 3-1-1-2-3-6 2-9-5-2 1-3 7 0-4-1 1-6-2-1-3-1 0-1 6-2-1 0 2-2-2-3 2-89 6 88-4 4 5 2-5 3 3 2 4 1-3 4-5 0 4 1 3 0-4 1 2 3 3 5-8 1 5 2 3 0-5 5 5 5-1 2-1 6-1 0 0 6 3 2-7 2 5 2 1 11-5 5 4-9 3-6 5-2 0 0 2-1 0 0-5-3 3-4-2-1 2-1 0-1-4 0 5-1 0-3-1-1 0 0-2-2 0-10 0-1 2-2-5-4 2-8-1-3 0 0 6 0 0-2-5-4 4 0-5-3 4 3 8 1 0 0-5 0 4 4-2 1-1 1 1 1 2 2 0 1 2 2 0 0-7 2 1 1 3 1 2 4-6 7 5 6 1 0-2 9-1 7-3 4 0 1 7 0-6 3 0 1 0 2 4 2 1 2 1 4-4 24 4-10 9-2-3-11-1-1-3-1 3-13 3 0-3-2 4 0-2-2-3-4 3-7-6-6 8-6-5-1-1-1 3-2-3 0 5 0-3-3-1-10 3-5-3-2 1-2 6 1 1 4 1 1 3 1-5 1 5 4-5 10 1 4-2 3 4 4 2 2-5 1 5 1-1 9 1 2-4 1-1 1 3 9-5 5 4 2 4 1-4 1-2-2 10-5 2-4-5 0 2-7 3-4 2-2-5-1-3-8 6-2-3-1 4-5-5-3 1-6-2-2 1-5-1-1 4-1 3-1-3-6-4-174 7 11 3 139 2 27-4 1-1 0 6 1-3 0 0 3 0 6-1 1 3 3 0 5 2 2-7 4 8 7-1 5 0 0-1 9-3 1-1 2 2-8 6-5 1 0-1 0-1-8 3-4 3-1-6-3 1 0 2-8-2-1-1-3 0 17 8-204 16 68 37-9 5" fill="none" stroke="none" marker-start="url(#me7)" marker-mid="url(#me7)" marker-end="url(#me7)"/>
<path d="M611 1984l-12-1-5 8 23-5 4 1 18 5 10 8-1-4-4-2-5 5-4 0-47-3-6-2 10 7 11 2 1 1 0-3 2 5 0-3 9 3 18 2 16 0 7-6 8 9-4-1-4-1-1 0-4 2-5-3-13 4-5 0-8-2-2 3-6 3-12 2 9 1 4 4 7 0 3-7 5 2 6 0 13-1 0 5 10 0 22 6-22-2-13 2-17-3 0 0-11 0-4 3-3-3 0 1-2 0-3 0-1 2-3 3-21-3 6 11 0-4 19 1 3 4 18-2 10 0 230-3-201 5-6 4-25-3-13-1-8 5-4-1-6 3-3-4-19-1 31 10 28 0 18 11-9-5-2 3-16 5 20 1 50 1 112 1-209 7 76 110" fill="none" stroke="none" marker-start="url(#me0)" marker-mid="url(#me0)" marker-end="url(#me0)"/>
<path d="M608 1995l-12 18-11 9 7 1 8 5-21 2-4 8 6-2 6 3 5-7 24 5-10 5-21 6-4-4-1 0 5 5 13 0 8 7 1-5 3-1 6 3-19 11-5-4-5 2-1-5-10 2-1 0-1 4 1 6 11 1 9-3 0 4 1-3 18 4-22 2-7 0-2 0-3 13 7-1 23-4-13 9-10 2 0-1-1 8 9-2 79 4-82 8 72 47-1-1" fill="none" stroke="none" marker-start="url(#me1)" marker-mid="url(#me1)" marker-end="url(#me1)"/>
<path d="M750 1938l-14 8 54 14-35 14-172 16 20-2 205 40-118 2-27-2-4 0-27 8 10 3 26-4 1 2 3-1 0 3 9 0 20-1 165 2-157 3-4 0-8 1-14 3-7-7-7 8-10-4-18 6 25-1 9 3 4 3 0-2 1-3 45 1 60 7-50 3-1-4-28 7-2-6-27 1-8 4-4-1-2 0 0-6-3 1-3 5-10-5 10 14 15-6 21 7 24-4 11 3 14-1 1 2 2-6 4-1 23 11-14 1-5 2-3-1-7 0-3 1-2-2-5 0-2-1-1-1-2 2-6 0-2 0-4-5-1 3-15 3-7-4-25-1-30 2 5 7 3-2 27 5 18 1 15-2 2 0 1-3 0 2 9 2 28 2 7-4 14-2 5 3-4 12-13-3-21-4-1 3-8-2-3 4-3-6-8 4-2-1-4-3-4 2-4 3-1-5-24 10 52 2 10 1 4-3 18 4 12-5 1 0 2 2 10 0 3-2 2 6 0-1-1 3-2 4-2-2-3 3-1-1-7-2-3 3-4 1-17-2-1-4-33 6-11-5-10 5-34-1 52 5 1-2 12 4 1 3 3-2 5 0 0-1 3-4 4 7 37-1 2 4-7 0-4 2-4-4-29 5-13-5 31 16-7 1-4-1-66 4 66 9-33 24" fill="none" stroke="none" marker-start="url(#me2)" marker-mid="url(#me2)" marker-end="url(#me2)"/>
<path d="M771 1919l50 44-221 26 133-2 136 13-254-6-10 8 281 12-4 6-195 28-10-4 177 16-55 0-127 2-28-2-16 12 10-2 8 0 3 0 0 1 9-5 9 4 34-2-33 7-15 4-2 0-1-5-3 0-20 0-2-2-13 6-10 6 2-2 29 0 127 12-55-1-43 2-8-5-5-2-4 2-19 5-21 1-12-1-1 1 34 6 1-3 10 0 14 0 5 3 1 0 2 1 37-3 0 4 12-1 12-3 59 8-38 4-32-8-13 8-4-6-18 2-17-2-9 5-6-1-24 0-12-6-5 1-4 2-1 7 11 3 11-2 15 0 14 2 2-3 1 0 1 4 1 0 2 0 5-5 5 3 11 3 4-6 4 2 6-2 8 6 6-2 14-5 7 6 16 2-31 5-1 1-4-4-11 3-3 0-20-3-1 6-15 0-19-6-6 0 3 14 19-8 5 6 30 1 6 0 4-2 7-1 8-1 29 8-49 0-4-2-16-1-15 8-16 2 1 1 3-3 3 3 3 1 27 0 1 3 10-3 2 0 16-4 1 0 13 7 2-6 0 5 5-4 4 0 12 0-5 8-21 2-5-1-27-2-1 2-6-2 0 3-10 0-13-1-22 0-1-2-2 3 6 10 13-5 3 5 9-5 7 5 4-5 10 2 6 3 6-4 11 5 2-1 2-5 3 1 1 4 6-1 3-3 5 12-9-1-9-5-14 7-5-1-1 2-2-5-4 3-1-5-24 5-3 9 0-2 5 0 15 2 4-5 9 3 2 1 3-3 8 0 7 3 9-2-4 5-9-1-28 2 7 6" fill="none" stroke="none" marker-start="url(#me3)" marker-mid="url(#me3)" marker-end="url(#me3)"/>
<path d="M765 1935l-6 8-18 7-1-5 1 9 7 1 6-2 8 0 57 7-29 3-32 1-6 1-6-2-8 2-9 1-3-2-2 1-2-1-5-3-8 4 2 6 13 1 11-4 1 1 1 6 2-4 7 4 17 0 13-3-4 4-4 6-5-1-8 0-11-4-19 5 0-2 13 10 17-5 35 13-49-6-17 1 9 9 0-1 52 14 111 10-254 29 186-2-161 9 103 24-20 17-96 16 73 0-75 3-27 5-6-2" fill="none" stroke="none" marker-start="url(#me4)" marker-mid="url(#me4)" marker-end="url(#me4)"/>
<path d="M771 1921l6 4 2-5 12 7 2-4 2 2 1 0 3 1 11 2-9 8-10-4-12 1 0-5-11 1-2 5-6-5-5 8 2 6 2-4 22 1 15-4 13 0-5 11-4-2-7 5-4 1-6-2-17 0-3-2 0 2-3-5-28 13 45 3 5-4 13 0 18-2 3 1 9 5-6 4-2 0-3 2-34-1-35 5 44-2 12 4 1-1 13-1 22-2-21 9-222 25 31 4-33 44 114-1 67 11-81-2-95 25 13 3 104 4-68 12 12-3" fill="none" stroke="none" marker-start="url(#me5)" marker-mid="url(#me5)" marker-end="url(#me5)"/>
<path d="M813 1946l-6 0 8 13 12-5 9 3 19 11-16 0-17-5-1 2-22-2-29 7 44 0 7 2 0 1 3 1 13-4 19 2 10 3 15 9-7-2-4 1-27-4-5-3 0 6-17-3-3 3-5-1-12-1-51 3-9 1 64 2 50 6 5-2 2-4 6 2 8 0 4-3 4 0-11 11-10 2-16-5-13 2-26 11 58-6 11 3 7-1 1 1 7 8 0 3-6-5-9 7-40-1-5-5-26-1-29 4-154 9 207-2 1-1 15 2 9 2 12 1 23 2-15-1-1 0-14 6-10-5-1 3-203 4 126 4 59 2 1-2 3 1 5-5 6 6 10 0 13-6 21 3-34 9-19-4-167 13 190-4 3 3 10-4 4 4 2 2-17 8-24 8-111 16 23-2-64 57 26 23-26 28" fill="none" stroke="none" marker-start="url(#me6)" marker-mid="url(#me6)" marker-end="url(#me6)"/>
<path d="M784 1919l19 52 11 8-3-1-11 4-25-1-2 11 39-3 9 10-15-5-4 0-9-1-1 5-1-5-14 5-7 0 14 4 6 4 17-1 6 6-10 3-7 0-6-3-7 1-4-4-6 6-3-5 6 15 39-4 1-1 13-3 3 3 0 0 11 1-27 7-11 3-2-2-3 0-10 4-11-6-1 4-7 8 8-1 2 3 8-5 6 1 0-1 2-2 4 1 8-2 22 1 11-1 14 13-3 3-3-6-2 3-4 1-13-3-12 2-4-4-4-1-9 6-7-4-14-1-7-1 0 10 3 6 7-2 7-4 5-1 2 5 2-5 2 6 1-2 3-2 11 4 7-4 25-2 6 7-22 6-11 1-21-3-4 0-15-4-6 2-135 9 137 3 1-2 1 4 22-7 1 4 9-1 1-2 2 1 3 2 11 11-4-5-38 5-2-7-67 9 67-1 5 6 0-6 9 3 6 2 11 2 8-4 2 0-25 12-9 1 9-1-161 32" fill="none" stroke="none" marker-start="url(#me7)" marker-mid="url(#me7)" marker-end="url(#me7)"/>
<path d="M602 1984l-12 5 4 3 2-6 25 3 7 1-11 3-2 0-1 2-1-2-19 5 0 0-5-1-2 2 0-5 9 6 4 5 4 1 6-2 6 2 4-1 11 0 27 2 14 7-6-5-21 1-1 1 0-2-20 4-12 2-5-7-5 0-15 5-1-4 0 2-5 13 4-5 1-2 1 0 32 1 17-2 4 3 4 3 203-4-56 7-118 6-3-4-12 2-4-5-2 3-1-1-24-2-2 4 0-2-11 4-15 0-1-3-11 12 2-6 3 4 41 1 8-3 11-1 178 4-193 8-10 2-16-8-4 3-3 0 7 7 6 5 12-4 12-3 16 1 3 7 36-5 84 7-156-1-15 5-23-1 36 4 3 3 5-2 16 3 38 9-73 15 103 39 17-4 4 2" fill="none" stroke="none" marker-start="url(#me0)" marker-mid="url(#me0)" marker-end="url(#me0)"/>
<path d="M883 2013l-12-1-294 6 17 3-1 13 7 6 87 1-81 6-15-1-1 1-6-6-8 2-2 4 20 2 22 10-2-1-7 0-20-2-6 7-9-6 7 8 5 1 4-1 2 1 7 6 28-4 120 1-1 5-140 1-8 0-11 2-3 2-3-6 0 2 23 8 24 1-29 10-5-4-4 8 0 3 71-1-46 7-23-1 154 7-78 43" fill="none" stroke="none" marker-start="url(#me1)" marker-mid="url(#me1)" marker-end="url(#me1)"/>
<path d="M816 1952l-88 11 149 18-213 24 168 7-34 1-145 9 16 0 6 1-25 2 7 15 33 0 1-8 3 4 4 1 8 2 0 2-14 2-6-3-104 3 68 8 5 0 9 2 1-1 9 1 8 2 1-6 31 4 3 2 3-4 135 12-122-4-1-2-1 4-6 0-12-4-6 6-4-4-50 5-19 0 23 5 4-4 13 1 20 3 30-1 17 3 7-2 1-4 21 12-4-4-5 4-11-2-1-1-9 6-3-5-2 3 0-2-11 3-5-5-8 1-8 1-6 1-8 2-10-3-24 0-12 3 31 7 13-1 10-2 12 4 14 1 3-7 28-1 23 0 1 7-8 2-30 2-11 1-12 1-4-2-10-2-12 0-24-1-34 2 11 7 30 1 9 6 24-3 6 3 8-6 2 2 1 1 9 2 9-4 9 0 2-2 5 2 3 4 1-4 8 0 4 0 3-3 7 4 2 2-8 3-4 6-2-6-2 5-2-6-2 6-4-5-15 6-7-6-1 4-1-3-22 1-2 3-5 1-34-4-25 5 31 1 3 2 31-1 10-1 24-1 3 6 2 2 14 0 9-6-15 10-23-3-2 4-11 0-7-3-1-1-5 7-71-1 69 1 12 3 6 5 9-2 3-1 5 3-4 4-45 7 24 7-11 9 4 0-52 11 40 3" fill="none" stroke="none" marker-start="url(#me2)" marker-mid="url(#me2)" marker-end="url(#me2)"/>
<path d="M834 1992l35 14-182 40-20-4-28 4-39 0 40 11-10 4 0 2-1-2-15 5 14 6 41-7 14 8-3 1-13 2-7-2-1-1-21 3-9-2-50 5 20 2 11 5 8 1 0-7 2 1 8 2 4 0 5 3 7-1 3 2 11 1 5-2 3-4 11-1-2 13-11-4-5-1-8 1-3 3-13-3-5-1-4 4-16 0-15 0-9 4 22 0 7 6 7-5 14-2 0 7 1-6 9 2 13 4 6-1 1-2 0-1 1 4 1-6 14 2 7 7-1 1 0-2 0 1-7 2-4-1-14 4-16-1 0-1-1-5 0 1 0 6-7-3-2 0 0-3-4 3-2-1-6-2-1 5-35-3 22 6 3 0 20 6 4 0 1-6 4 2 4-1 4-1 7 2 12 3 2-3 4 5 5-3 3-1 7 0 7 3 15 1 12-1 7 1 7-6 0 9-15 2-6 0-36-4-2 2-3 0-9-1-6 0-8-1-2 3 0-1 0 4-11 0-6 0-1-5-6-1-6 7-3-6-9 2 0 2 21 3 6-1 15 7 1-5 35 1 2 3 3-4 3 2 14-3 2 5 8-1 20 10-9-2 0 1-43-1-19-1-11-3-12 3-7 1-1 0-10 2-2-4 10 7 12 5 5-6 0 2 2-1 12 2 7-2 1 1 6-1 6 4 6-5 14 1 5 6 1 0 2-3 29-5-15 8-56 4-7-3-12 1-3 2-5-3-3 1-4-1-7 2-2 7 13 1 22 3 6 2 2-2 3-6 2 6 16-5 9 6 24-2 2 8-7 1-1-1-3-4-3 0-1 5-2-4-6 6-4-1-18-1-1 0-29-3-3-1-8 9 10 1 4 0 10 3 1 0 3-7 3 5 3-2 4 5 3-3 22-5 4 5-37 9" fill="none" stroke="none" marker-start="url(#me3)" marker-mid="url(#me3)" marker-end="url(#me3)"/>
<path d="M752 1933l-3 2-3 8 14-3-10 9-9-4-26 11 3 2 11-1 2 1 26 0 5 6-13 3-4-1-13 1-15-3-1 1 0-2 8 7 8 4 3 1 11-1 11-5 15 11-5-2-5 3-38 0-6 9 16-6 1 7 13-7 9 6 1-5 5 3 14 12-36 6 5-5 2 2-153 27 34 2 55 23 76 8-100 2 112 43-94 11 76 13-54 15 2-3" fill="none" stroke="none" marker-start="url(#me4)" marker-mid="url(#me4)" marker-end="url(#me4)"/>
<path d="M769 1921l3 3 38 8-3 2-8 0-1 0-21-2-16 1-2 0-2-1-2-2 0 3-13 9 14 0 5-4 1 3 2-3 3 0 8 3 11 0 15 3 21-4-18 6 0 1-5 2-8-2 0 2-31 2-19 1 21 1 8 3 9 0 6-4 9 3 6-2 4 2 17 3 9-4 4 6 6-1-40 5-3 4 0-5-6 1-14-2-3-1-151 49 203 61-16 8-201-1 72 3-34 28 36 34 3 48-11-3" fill="none" stroke="none" marker-start="url(#me5)" marker-mid="url(#me5)" marker-end="url(#me5)"/>
<path d="M822 1957l2-1 1-3 0 1 19 11-48-1 6 8 4-2 22-2 18 2 11 1 10 10-5 1-5-4-5 0-2 2 0 0-5-3-4 6-4-7-9 1-14 4-11 0-3 2-2 4 34 2 15-1 6-2 23-1 10 2-1 11-1 1-2 1-5 0-9-5-24-3-13 6-37-4-212 4 193 6 31-3 14 2 3-1 10-1 6 2 1 0 41 8-4 3-12-1-17-4-4 3-4 1-2-2-3-1-2 6-3-3-4 1-12-5-11 8 19 2 24-1 5 0 1 3 4-3 12 3 19 0-5 6-5 2-25 0-9 0-202 3 46 2 156-2 9 1 8 7 5-5 18-2 3 13-4 0-1 0-4 1-3-6-6 1-20 5 10 5 9 3 9-3-15 7-10-2-6 1-8 9 8-2 6-1-206 20 97-4-89 23 125 11-45 39-65 15-20 3" fill="none" stroke="none" marker-start="url(#me6)" marker-mid="url(#me6)" marker-end="url(#me6)"/>
<path d="M764 1931l58 38-8 13-55 1 3 8 2-3 30 2 33 2-4 5-22-3-39 1-150 2 146 7 1-3 9-1 11 5 10 0 7 0 0 1 17 1 4-3 9 5-26 2-9 3-4-5-2 2-6 0-1 3-24-4 14 12 14-6 7 2 6 4 5 2 36-4 2 4-15 3-27 0-29 3 11 2 29 1 17 5 13-2 27 1 0 0 3 1-19 3-31 7-6-4-30 7 3 3 0-4 15 1 5-2 32 5 6-4 0 1 8-1-25 7-43 0-5 4-190 3 118 8 74 0 4-7 5 0 2 0 10 5 9-2 6 0 3 0 7-2 5-2 2 3 16-3-9 11-9-2-3 0-43 7 0-5-92-2-28 13 119-2 11 1 8 1 7-2 4 0 4-3-15 13-6-1-178 34" fill="none" stroke="none" marker-start="url(#me7)" marker-mid="url(#me7)" marker-end="url(#me7)"/>
<path d="M790 1930l19 47-217 11 23 2 1 1 0 0 0-2 1 1 3-3 17 4 4 7-1-2-2 2-10-1-26 1-6-2 0-2-5 0-8 0 11 12 6-6 24 5 3 2 0 1 1-7 9 6 16-4 5 0 1 2 12 8-17 1-2-5-3 2-6-2-2 1-4-1-2 5-21-4-10 1-10 3-4-5-11 4-1 3 11 2 20 1 6 4 1-5 19 1 5-1 10 5 6 8-14-2-8-5-11 6-1 2-7-5-5-2-3 5-13-4-17 10 34 0 1-4 2 7 6-6 24 4 12-4 168 1-131 10-52-3-14 4-3 1-9 2-6-5 8 10 22-4 1 11-2 3-16-3-4-3-1 3-9 6 106 5-103 4-5 6 19 5 43 6-58 0 78 66" fill="none" stroke="none" marker-start="url(#me0)" marker-mid="url(#me0)" marker-end="url(#me0)"/>
<path d="M800 1961l-218 37-4 3 5 13 19 4 21 3-39 8-1 0-8 5 1 2 6 3 4-4 58-3 189 13-259 4 0 1 31 1 9 0 200-2-2 14-105-6-78 7-6-4-20-3-10 7 13 7 0-3 8-1 63 3-75 9-16 1-2-2-5 4 8-2 8 0 21 10-28 10 48 0 127-4-90 60-29 14" fill="none" stroke="none" marker-start="url(#me1)" marker-mid="url(#me1)" marker-end="url(#me1)"/>
<path d="M752 1938l46 20 40 4-35 1-153 39 174 0-151 15 18 15-4-3-7 2-1-6-3 1 12 7 87 3 42-4-120 10-10 4-12-1-2 2-14-5-6 4-1-6 0 1-48 4 59 4 4 6 1-4 2 2 23 0 9-5 5 1 1 5 1 0 2-3 0 0 0 2 131 5-59-1-32 6-2-2-46-2-4 0-14-1-5 3-26 1-17-2 27 4 2 6 20 1 2-1 2-1 17 1 6-2 2 3 16-5 21 1 0-3 7 6 7 1 6 3-6 5-36-3-1 2-10 0-7-2-21 0-16 0-56 6 37 1 14-3 7 2 8 6 16-4 9 1 16 2 20-3 4-3 2 5 3-1 0 3 15-4 1 2 2-1 15 5-3 3-12-2-3 1-3-2-14 4-4-5-11 7-7-7-3 2-6 3-5-1-14 2-6 0-3-1-6-6-9 2-3 2-5-1-69 11 15-6 67 4 25-1 13 0 0-2 5 5 10-4 0 3 18-2 3 3 7-2 3-1 4-2 1 6 9 1-3 7-7 1-6-3-5 0-3 2-9 1-6-7-25 1-8-2-5 7 16 7 1-4 3 3 17 2 7-3 4 0 2 0 12 7-6-3-3 8 0-5-1 1-3 2-13-3-7-2-4 4-11-3-114 2 106 10 3-1 4 0 8 3 3-4 8 3 18-7 10 1-20 8-18 0-18 6-5 3 6 0 0 19 3 13" fill="none" stroke="none" marker-start="url(#me2)" marker-mid="url(#me2)" marker-end="url(#me2)"/>
<path d="M789 1925l18 9-44 55 30-2-1 20-140 25 53 8-36 7-37-2 32 4-34 11-4 11 27-2-25 11 0-1-9-5-9 2-27 2 13 9 7 0 3-3 10 2 1-3 3 3 15-6 3 0 10 2 4 0 9 5 31-1 8-3 114-2-50 8-47 5-50-5-11 5-2-2-17-2-2 0-6 1-19 0-1 5-2-8-15 2 0 7 12 4 9-3 8 3 4 1 6 1 3-2 4 1 16 0 4-5 12 4 9-3 5 0 53-1-29 15-22-6-39 3 0 0-4 1-12-5-23 3-1 2 2 9 6-1 1 1 6-2 8 3 0-7 5-1 0 4 12 4 3-1 2-2 14-3 9 2 12 2 2-3 0 0 15-1 59 12-14 1-14-4 0 3-2-5-3 4-4-1-12-1-11-1-11-2-3 5-5 0-19-1-1 1-10 3-21-2-6-2-5 7 1 2 22-1 5-4 0 5 4 0 7-4 4 3 0-1 2 3 6-4 2 5 3-3 4 4 1-6 0 5 21-3 6-3 1-1 3 4 5 2 6-4 9 5 8-3-7 10-9-5-5 7-1-6-7 2-17 3-12-1 0-2-12 0-15 4-4-5-23 0-7 0 37 6 9 2 28-1 20 4 4 1 2 1 17-7 0 2 5-2 1 1-17 13-8-6-5 6-1-2-15 2-7-2-7-1-10-2-1-1-1 3-5-1-2 0-6 3-8 1-8-4-2 2-3 0-4 6 13 3 20-5 10 6 0-4 1-1 3 3 8 0 15-1 3 2 14-2 0 11-7-4-4 0-2-3-13 2-18 5-10 0-1-2-5-1-3-3-3 1-21 5 3 6 9-2 7 4 2-3 10 0 0 3 2-1 5 0 10 0 6-4 3 5 2-2 17-3 3 6 5-6 3-1 2-1-22 11-5 0-12 5-3-2-2 1-3-1-6-4-10 1-5-2" fill="none" stroke="none" marker-start="url(#me3)" marker-mid="url(#me3)" marker-end="url(#me3)"/>
<path d="M750 1935l3 5-14 11 1 3 10-2 1 8 4 0 2 0 34-5 4 2-30 8-15-2-9 3-3-5-16 2-2 0 0 3-2 1-3-2 0 1-6-3 3 12 7-3 1 4 21-3 8-5 2 5 4 6-5 0-5-1-2 2-3-3-9 6-18-2 1 4 73 8-15 7-27-1-8-6-8-1-2 0 163 34-306-1 238 18 24 12 25 2-211 42 41 2 29 14-30 8-29 20-3 25" fill="none" stroke="none" marker-start="url(#me4)" marker-mid="url(#me4)" marker-end="url(#me4)"/>
<path d="M754 1926l7-4 6-1 14 3 20 3 1 0-2 4-7 0-2 1-4 4 0 0-39 7 4-1 8-2 0-3 7 2 29 0 11 4 2 4-6 0 0-1-30 6 3 0 1 6 3-6 21 1 26 15-16-7-40 2-9 3 0 11-4 7 128 9-252 5 209 33-188 6 18-4 30 3 25 26 118 10-213 26 144 4-64 58" fill="none" stroke="none" marker-start="url(#me5)" marker-mid="url(#me5)" marker-end="url(#me5)"/>
<path d="M804 1936l17 15-65 6 91 6-10-2-6 6-4-7-3 1-20 0 14 10 4 3 8-5 2 2 5 1 18 0 3-2 7 5 7 9-3-7-4 1 0 3-2-3-8 4-7-6-4 1-5 2-4 2-38 0-3 2-9-3 24 7 10-2 7 4 19 1 20-3 1 2 16 4-4 4-4 1-12 0-13 0-14 1-5 0-23-3-43 1 36 7 4 0 28 4 7-7 8 2 39-2 3 15-9-4-23-3-1 4-3-3-3-2-9 7-3 0-25-5-6-1 6 9 69 6 2-7 7 12-21-1-3-4-5 0-3 7-8 0-2-4-25 5-16 3 19 0 25-1 7 3 2-5 5 7 3-4 3 5 3-7 9-1 2 10-15 6-10-2-21 1 3 4 11-3 2 5 20-1 3 3-29 4-121 5-27 0 124 15-44-4-3 0-171 1-19 7 11-1 64 15 71 0-88 13 81 25 37-5-130 20 104-4-63 41" fill="none" stroke="none" marker-start="url(#me6)" marker-mid="url(#me6)" marker-end="url(#me6)"/>
<path d="M777 1968l-57-4 22 9 16-3 19 1 13-2 24 1 16 5-34 6-2 1-49 10 18-2 19 0 17-3 3 2 12-2 0-1 23 5-34 8-14-5-1 5-10-1-3 1-4-4-26 0 4 10 4-1 57-4 23 15-6-1-3-4-9 5-37-4-6 5-11-4 6 5 19 2 14-1 20 2 5 2 1-3 9-1-4 10-6 2-28-3-7 3-1-5-2 7-3-8-14 15 11-2 12 2 15-3 5-1 10-2 0 1 4 3 13 2-7 3-13 5-7-4-1 0-3 0-2 0-3-1-10 1-3 2-2-1-2 0-9 3-6 1-109-6-71 9 102 5 77-2 4-4 24 1 7 3 7-2 5 0 3 1 14-1 1 1 0-4 11 4 10-5 8 2 11 7-12 0-25 2-17 1-3-1-2 4-14-2-1-3 0 3 0 0-5-2-2 2 0 3-6-2-5 2 0-1-158-3 154 8 7-1 8 3 2-3 4 0 1-3 20 2 3 5 4 1 4-2-18 6-6 0-89 6 87-1 0 5 10-1 3-1 3-2 4-1-8 7-11 6-9 0-8-1-149 55 56 14 8 15" fill="none" stroke="none" marker-start="url(#me7)" marker-mid="url(#me7)" marker-end="url(#me7)"/>
<path d="M994 1990l5-4 1 4 11-3 2 2 3-1 9 2 13-1 3 1 5-1 0 1 2 1 179-3-194 11-1-6-9 1-1 3-2-5-4 3-2 4-2-6-5 6-5-6-1 0-3 3-6-2-2 0-7 2 7 8 1 4 6-5 5-2 5 5 1-1 14 1 26-1 1-1 2 2 2-3 0 2 2-2 2 4 2-1 146 6-140-3-14 1-1 4-15-5-4 2-11-1-5 4-11 0-15 1-6-4-1 1-2 4 16 5 0-1 1 2 13 1 2 0 13-3 9-1 0 4 2-3 1 1 3-4 1 1 1 4 8 1 2-3 9 2 12 1 107-1-99 5-14 1 0 3-18-6-21 3-3 0-7-1-5-3-5 5-7 0-2-2-19-3-6 13 10-2 15-1 11 3 6 2 5 0 3-4 12 3 3-1 10 2 6-6 150 10-134 0-5 3-15-1-4-4-1 4-3 2-3-5-14 2-6-1-20-2-16 7 9 3 7 4 6-1 11-5 5 6 5-2 6 3 2-5 5-2 6 0 14 0 175 4-184 7-45 7 24 1 6 2 18-6 99 5 73 5-188-1-12 2 151 17-183 1 130 12-64 36" fill="none" stroke="none" marker-start="url(#me0)" marker-mid="url(#me0)" marker-end="url(#me0)"/>
<path d="M1217 1954l-4 8-179 32-33 45-11 4-1 2-12-1 8 8-10 13 10 7 12-5 12-1 11 4 89-3-92 11-7-1-6-1-15-3 0 4-1-5 0 4-2 2-9-1 5 8 2 0 7-2 6 0 192-2-188 10-6 1-4 9 10-3 6 3 193 0-204 4-7 4 94 10 7-4-18 41-1 8 42 11-12 5" fill="none" stroke="none" marker-start="url(#me1)" marker-mid="url(#me1)" marker-end="url(#me1)"/>
<path d="M1156 1923l13 13-5 36 25 4 47 52-144 1-7 2-5 0-5-4-4 4 7 9 16-2 92 0-88 9-4-6-11-1-4 7-14-6 10 14 7-2 11-3 15 2 12 2 14 2 45-6-30 10-7-4-10 3-23-3-1 5-8-1-1-3 0 0-2 2-4 1-1 1-32-3-67 4 65 4 16 1 0 2 8-3 3 4 7-4 2-1 0 7 9-6 5 0 0 1 1 1 29 2 1 0 15-4 6-1 41 14-23 1-18-5-2 1 0 4-8-2-2-1-29-2-22 1-15 2-5 0-1-1-7 1 30 5 4 2 5-4 8 5 2 1 2 0 18-1 6-3 8 0 2-2 8 6 10-7 8 5 3 5-22 5-3-3-15-3-1 2-5 0-13 5-4 0-11-3-16 8 7-3 2 2 1-2 8-2 4 7 13-3 4-3 4 7 6-2 12-4 0-1 0 7 1-2 4-2 2 2 12 2 1-3 8-5 3 14-1-1-5 1-3-4-1 3-3 3-1-8-3 4-5-3 0 4-6-4-7 3-5 0-2-2-10-1-6 3-14 1-5-5-1 8-94-7 91 8 10 1 18 2 21 3 2-1 3-5 1 6 22 1-8 3-7-3-6 2 0-2-12 5-3 3-7-3-3-2-15 4-4 4 6 0 15 0 20 4-18 5-4 0-1-4-23 2 1 27" fill="none" stroke="none" marker-start="url(#me2)" marker-mid="url(#me2)" marker-end="url(#me2)"/>
<path d="M1152 1941l26 8-1 12-65 0-94 30 181 10-137 15 196 19-234 21 77-3 103 8-125-2-18 3-2-1-3 1-14-6-27 0-18 9 29 6 9-4 8 3 11 0 3-5 4 1 49 8-27 3-11 2-19-4-11 3-1 0-17-3-31 13 1-2 18-1 24-2 4 3 3 1 5 1 0 0 17-3 2 2 5-6 62 1-50 10-1-1-19 4-4-6-1 3-17-1-16-1-3 0-13 4 0-5-2 4-19 2 8 3 5 2 22-1 8 1 4-1 6 4 18-6 1 4 26 2 19-1 4-1-21 8-22-2-2 3-22-2-9 1-8 2-17 1-6-6-3 0 3 6 4 4 3 3 4-6 2 3 5 0 1 3 5-5 1 1 14 3 0 1 5-4 9 1 15-3 15 1 22 3 5 2-23 8-3 1-3-2-10 1-6 0-8-6-5 2-2 2-15-3-26 0-1-2-5 0 14 8 21 2 8 0 9 5 4-4 8 3 6-3 6 3 21-4 8 2 2 2 1-3 22-1 5 13-2-1-40 0-1-1-1 0-2 0-5-1-1-2-13 4-10 0-22-1-8 3-1-3-4 1-6 0 4 9 6-1 6-4 16 2 23-3 35 0 8 1 15 3 2 6-8 0-3 2-24 2-13 0-2-2-20-4-4 6-5-3-4 0-4 0 0 3-1-4-7 0-1-2-7 9 19 2 7-3 4 5 19 1 2-5 16 6 1-3 20 6-5-3-1 4-4 3-2-6-11 2-4 1-9 0-3 1-23-2-5-2-9 3-10 4 4 0 5 3 11-2 10 2 3 1 1-3 17 6 0 0 13-2 3-2 10-3 2 6 3-6 4 3-22 8-17 2-3 0-11-1-1-3-3-1 20 9" fill="none" stroke="none" marker-start="url(#me3)" marker-mid="url(#me3)" marker-end="url(#me3)"/>
<path d="M1181 1936l8 12-19 2-45 10 86-6-68 8-4 4-6-2-23-3-1 7 6 2 13 3 14 0 2-3 14 3 5-2 19 0-42 13-12-1-10-2-4 2 0 2 2 1 7 4 1 1 3-2 1-2 21-1 2 1 2 2 31 2-14 7-12-4-1 1-24 2-85 5 96-1 7 2 12-1 15 2-138 7 199 7 33 7-62 3-233 8 52 19 230 1 19-2-245 13 42 72" fill="none" stroke="none" marker-start="url(#me4)" marker-mid="url(#me4)" marker-end="url(#me4)"/>
<path d="M1163 1919l-10-1 8 10 2-6 12 2 3-2 5 4 12-5 1 5 5 8-23-5-1 2-7-2-14 5-7-2-2 10 15 1 2-4 2 2 1-2 4 1 4-4 2 7 12 0 0-2 3-1 28 10-12 1 0-7-9 0-8 8-1-8-3 7-1-4-1 1-4-1-5 3-16-2-3 2-1 1-1-1-1-1 9 5 2 2 8 0 1-2 14 2 11 2 0-4 26 5-12 5-10-1-18 1-16 0-5 1-8 2-1-5 13 13 4-5 6 3 8-2 2-2 10 1 29 2-37 8-4-4-34 0 7 15 13-1 20 1 2-3 44 6-40-1-32 10 7 0-158 14 262 0-101 14-165-7 20 50 105 12-10 2-133 4 16 34" fill="none" stroke="none" marker-start="url(#me5)" marker-mid="url(#me5)" marker-end="url(#me5)"/>
<path d="M1173 1921l23 9-11 18 25 9 34 3-7 6-3-1-1-4 0-1-3 3-2 2-2 1-3 1-2-7-6 13 1-2 2-3 3 5 5-3 3 1 3 3 4-4 4 2 5 2 1 0 2 0 4-5 6 6-18 3-1 0-7 1-12 0-13-2-2 5-1-3-2 3-9-1-68 7 5 1 23-2 51-1 9 0 18-1 3 2 6 1 1-2 2 3 6-1 1-2 1 0 3 5 1-7 24 1 0 9-13 4-18-5-13 6-25-3-1 2-9-3-16 7 17 2 7-1 9 4 44-6 1 5 2-3 8-1 8 4 1-2 6 8-3 2-8-1-8 0-10-4-3 3-2 2-7-5-2 3-5 1-4-3-13 4-4 0-9 2 7 1 11 2 5 3 8 2 1-2 6-1 1-3 13-1 8 6 5 0 4-7 3 5 7-2 2 3 1-5 2 5-3 5-1-2-3 7-14-8 0 4-30 3-12 0-3 2 21 4 9-1 9 1 4-4 2 6 12-2 1 0 8-5-11 9-10-1-6 6 0-3-13 2-5-3-4 4 0-2-15-2-154 5 171 6 22-3 5 0 6 2-22 4-2 6-12 10 10-8 3 4-245 5-14 17 189 13-141 33" fill="none" stroke="none" marker-start="url(#me6)" marker-mid="url(#me6)" marker-end="url(#me6)"/>
<path d="M1214 1977l-7 6-26 2 5 3 8 3-8 5-9-3-21 11 20-1 2-2 5 7 5-2 1 1 39-5-21 13-11 0-14-1-6 0-12-2-3-3 0 0 14 10 1 0 11 3 0 1 2-6 2 4 8-4 8 0 4 7 4-1 10-3-9 5-37 0 0 3-14-1 4 7 9-2 19 1 12 1 1 4 4-2 6 0 1 2 9-1 9 3 20 7-19 0-5 0-18-1-7 0-2-4-1 2-24-1-11 2-152 0 123 11 34-8 6 7 6-2 22 0 8 0 8 1 18 9-6-5-8 3-10-2-8 3-2-1-1-3-8 5-5-1-2-2-4 0-9 2-1-1-69-1-27-3 2 11 90-4 6 3 10-2 1 2 4 0 5-1 9-2 0 6 9-4 6 5 20-6 3 2-7 7-5-1-19 0-11-1-1 6-2-6-17 6-64 6 56-2 12 2 2-3 15 0 3 0 0 4 7 2 5-2 1-3-9 11-6-3-14 6-141-5 9 42-38 7 9 15 85 19-62 5" fill="none" stroke="none" marker-start="url(#me7)" marker-mid="url(#me7)" marker-end="url(#me7)"/>
<path d="M1174 1951l14 3 18 24-213 11 1 3 1-5 9 2 7 0 9-3 5 5 3-4 13 4 126 7-118 0-5 0-9 1-41-4-7 5-6-8 5 14 10 0 2-4 11 3 2 2 4-2 7-2 5-3 6 4 3-3 3 2 5-2 4 2 8-2 0 7 10 4-3-2-4 1-4-1-2 6-6-5-1 5-10-4-1-3-5 5-10-4-6 5-3 0 0-1-3-4-22 0-1 5-4 4 11 5 14-6 3 2 12 2 6-3 1-2 4 7 19-7 2-1 193 14-165-3-16 3-2 1-5-5-6 2-10-4-13 0-2 1-11 4-11 1-6-2-9 2-15 6 9-3 5 2 6 3 3-1 0-2 8 0 2-2 3 3 6 0 6-1 1-2 5 6 8-6 28 0-27 12-8 0-6-1-5 4-12-3-3-1-9-4-7 5-3-4 10 12 31-1 4-2 23 2 12 1 210 0-160 8-68-4-11 6-13-5-4 10 26-1 2 4 12 0 0-2 174-3-239 31 43 0 86 27-56 16 13 41" fill="none" stroke="none" marker-start="url(#me0)" marker-mid="url(#me0)" marker-end="url(#me0)"/>
<path d="M1202 1974l7 42-211 30 109 18-103-1-30-5 8 6 3 6 17-3 5 3 10 0 91-6-98 10-1 2-9 2-9 0-1 1-13 1 18 7 1-6 1 0 108 12-119 0-1 9 4 0 9-5 156 5 1 5-101 36 28 23 16 8" fill="none" stroke="none" marker-start="url(#me1)" marker-mid="url(#me1)" marker-end="url(#me1)"/>
<path d="M1171 1943l-38 50-115 22 59 4-19 13 26 6 9-3 110 5-101 1-4 0-13 0-10 9 6 0 2-2 5 7 17-3 5-3 1 3 9 4 4-3 1-2 4 4 42-5-35 7-4 7-18-3-5 0-4-5-8 5-39 4 28 6 14-2 4-1 8 2 14-2 1 2 19-1 0 2 6-6 12 5 74-5-67 13-20 0 0-2-2 1-7-2-6 1-27-3-23 3-15 11 19-6 4 4 0 0 37 1 6-1 37 3 4-1 8 4-2-1-15 5 0-5-12 2-1 4-1-3-17 2-5-3-1-1-32 5-12-2-15-5 3 14 20-7 7 5 6-2 12 2 2-3 0 3 3 0 3-3 15-2 3 4 4 2 3-5 4 7 7-7 6 5 13 2-3 7-1-2-10-2-6-2 0 2-6 3-1 0-6-1-4-5 0 1-9 5-13 1-10-3-4-2-7-2-73 11 67 1 10 2 13-6 3 1 2 1 4 3 13-2 6 5 1 0 3-2 3-5 7 7 3-1 3-3 1 12-3-2-8 0-1-4-28 5-20-5-95 8 107 6 0-1 14-1 5-4 6 5 2-1 2 1 7 0-7 1-55 8-57 16 44 30-24-6" fill="none" stroke="none" marker-start="url(#me2)" marker-mid="url(#me2)" marker-end="url(#me2)"/>
<path d="M1211 1935l-199 80 279 7-202 6-40 1 240 10-220 9-10-5-12 12 5-6 5 7 9-4 144 10-109 1 0 0-48-4-39-1 27 8 41 4 41 0 1-3 38 3-53 3-35 5-31 1-1-7-21 3-2 1-9 2-1-1-11 0 18 4 13 1 3 3 12 1 8 0 10-5 16 1 2 2 17 8-7 4-7-5-52-3-14 1-3 2-5 0 4 11 0-2 9-3 1 4 24 0 3 1 6 0 1-2 2-4 11 3 0 1 4 3 1-1 30 9-4-1-17-5-2 7-4-3-1-1-5-1-7 3-4 1-6-3-10-2 0 3-6 1-8 1-12-2-21-1-2 8 1-3 27 7 0-2 5-5 5 5 7-1 4 1 10 2 11-3 1 2 8-3 8 4 17-6 2 6 20-4 7 6-9 1-8 2-10 0-1 2-6-7-16 8-2-4-8-1-13-2-2 4-5-1-5 0 0-1-8-3-1 2-5-1-7 2-3-2-3-1-2 2 4 13 5-3 10-1 0 5 3-1 0-6 11 5 5 0 2-4 13 0 0-1 32 2 1-3 11 6 6-2 8-1 16 8-13 2-22-4-5 4-4-5-4 2-15 4-12-3-4 0-3 2-6 1-5 1-19-6-4 10 1-2 1 2 33 5 34 0 0-3 0-3 7 1 9 0 9 2 1-2 3-2 0 14-10-6-2 6-1-5-8 2-3-2-6 4-2-2-12-2-12 0-3-1 0 2-27 2 0 9 8-5 27 6 0-6 1 7 12-3 0 2 17 0 3-2 10 2 5-5-9 6 0 6-11-4-12 4-4-5-4 3-6 0-16 3-1-4-9-2 0 11 16 1 5-3 17-1 5 6 1-6 8 7 2 4-12-2 0 5-1-4 0 0-8 0-3 2-4-2-1-3-7 1" fill="none" stroke="none" marker-start="url(#me3)" marker-mid="url(#me3)" marker-end="url(#me3)"/>
<path d="M1199 1925l-58 21-5 2-6 2 4 7 14-1 1 3 1-3-5 7-4 1-3 2 0-5-2 5-10-6-2 1-4 11 11 1 8 2 10-6 8 6-4 3-4 2-11-4 0 7-21-2-6 6 4 4 3-5 3 2 2 0 3-1 11 0 32 0-6 8-9 5 0 0-20-5-2-2 2 10 17 0 8 1 21-3 92 8-44 71-34 2-109 14-90 3 78 41-4 27 0-1" fill="none" stroke="none" marker-start="url(#me4)" marker-mid="url(#me4)" marker-end="url(#me4)"/>
<path d="M1168 1919l-18 7 3 1 11-5 8-1 2 5 4 1 5-4 5 4 2-1 2-5 2 7 15 3-9 2-1-4-13 2-28 0-2 2 0 0-2 1-6 0-2 1 1 7 1-4 18 1 0 5 6-2 3-6 19 7 17-4 16 12-6-3-10-1-2 0-4 3 0 1-3 0-2-6-5 3 0-2-3 6-8-7-1 1-14 4-4 1-8-4-3-1-12 0 14 7 22 3 2-4 5 7 2-4 27 3 3-3 0 7-27 3-43 11 19-1 8 1 7-6 1 0 7 3 8 1 12 1-5 4-17 0-7 2-10-2 23 11-8 8-11 2-119 52 180 16-225 20 110 54-26 34" fill="none" stroke="none" marker-start="url(#me5)" marker-mid="url(#me5)" marker-end="url(#me5)"/>
<path d="M1221 1943l4 16 5-6 0 7 15 2-5 2-3 2-1 0-8 0-2-2-1-3-14 11 1 2 1 0 6-5 7 3 0-2 4 2 11 0 20-1 4 3 7 6-10 1-17 1-5-2-21 0-3 2-222 9 192 1 10-5 1-1 26-1 4 4 0 0 4-2 3 4 12-6 11 5 0 1 14-4 3 0 2-2-1 7-14 4-17 2-9-2-4-3-8 7-17-7-1 5-8-2-10-4-4 2 11 10 3-3 28 0 13 1 1 1 5-3 5 6 13 2 15-8 8 0 4 4-3 9-12-2-3 1-14 0-9-1-9 3 0-4-6-1-6-1-4 0-2 7-6-5 0-1-208 11 230 4 2-2 5-2 3 0 8 3 6 0 1-1 17 0 3 1 5 1 7 7-9-5-3 0-22 3-7 0-6-2-1 2-3-2-13 2-14 0-155-5 133 14 39 2 26-6 2 3 9-2 16 8-9 2-4 1-6-3-3 1-1 0-15-3-3 3-5-2-185 5 172 3 44 3 2 1 14-5-7 8-31 5-4 4 0 0-195 11 182 4-180 9 123 20-125 3 0 38-13 19 46 11" fill="none" stroke="none" marker-start="url(#me6)" marker-mid="url(#me6)" marker-end="url(#me6)"/>
<path d="M1239 1967l-78 9 23 14 80-1-57 5-20 1-14 1-35 10 33 0 3 1 50-5 39 4-50 6-1-3-22 1-10 5-4 0-7 0-3 1 1 4 4 1 16-1 2-4 3 1 7 4 14-4 5 4-6 6-4 1-5 0-15 3-16 3 19 2 8-4 2 3 2 2 8 2 22-4 17 11-28-3-3-2-15 2-6 1-6-3-197 9 186 4 4-4 12 2 29 2 3-3 6 4 16-1-24 8-6-2-9-3-1 2-8 2-9-1-7-1-2 0-207-2 201 12 12-2 1-2 3 3 14-1 2-3 1 2 11 0 0 3 7-1 8 7-1 0-11 3-20-5-1 0-11 3-48 1 48 4 4 5 18-6 20 1-21 11-14 7 9-2-167 40 9 17 9 7-6 12" fill="none" stroke="none" marker-start="url(#me7)" marker-mid="url(#me7)" marker-end="url(#me7)"/>
<path d="M1127 1955l64 19-199 16 7 1 2-2 1-1 11-2 20-1 250 2-259 12-10-4-5 1-12 0-17 4 2 8 1-5 14 3 1-5 3-1 13 3 14-2 2 3 19 3 5-3 114 7-108 4-3-7-26 4-17-4-2 6-11-5-2 5-11-5-5 7-3-2-1 4 1 4 14 1 15 0 13-2 1 3 2-2 2 0 11-5 2 5 19-6 1 5 1 3 8-5 9 2 168-5-172 14-42 1-13-5-10 1-9 4-19 1-5-6 6 12 4-3 9-2 16 1 2 5 1-6 0 1 11 6 4-1 14-4 3 5 1-2 5-3 0-1 14-2 3 6 8-1-25 9-10-3-11 5-6-8-21 3-10 3-4-5-3 11 6-4 25 2 0 1 1 0 4 3 0-5 1 0 2 1 13-1 8 1 25-2 36 9-25 4-7-5-26 7-9-1 0-4-7 1-6-1-1-2-24 1-13 4 10 8 10 0 13 1-30 6 31 6 111 28-72-6 61 16-46 38" fill="none" stroke="none" marker-start="url(#me0)" marker-mid="url(#me0)" marker-end="url(#me0)"/>
<path d="M1220 1946l-15 4-58 4 81 6-24 0-185 43 10 9 237 33-293 5 7-2 37 13-18 3-7-1-12-3-3 2-2-2-2 2 0 9 1-4 3-3 186 3-143 12-12-5-2 3-12-3 0 5-1-7-1 7-1-1-2-4-5 0-10-1 41 15-7 4-8 0-4-2 0 1 0 1-4 0-1 1 15 5 95 1 51 13-49 1-25 13-55 2" fill="none" stroke="none" marker-start="url(#me1)" marker-mid="url(#me1)" marker-end="url(#me1)"/>
<path d="M1253 1989l-55 10-25 3-4 7-74 23-13-1-5-5 9 6 5 7 2-4 10 5 5-1 111 0 48 5-159 3-10-2-3-5-6 7-1-4 0-2-3 4-20 8 2-4 8 1 16-1 9 1 20 2 1 2 15 3-2 4-18-2-6-2-1 3-14-4-1 6-2 1-3-7-6 2-8-1-5-1-2 7-80-2 87 4 13 3 28 3 10-2 5-1 24 3 91-7-77 11-9-2-18 2-19 1-48 3-2-5-2 3 5 10 31 0 0-5 3 2 1 2 0-4 18 1 3 4 2-2 4-4 9 7 15-5 8 1 19 9-8 3-4 0-1-6-9 0-18 3-2-4-2-1-3 0-16 0-4 0-1 6-5-1-20-4 11 8 10 0 18 4 15-3 0 0 6 1 1 1 13 2-14 3-5-1-9 6-1-3-5-1 0 6-10-6-3 2-15 4-5-2-2 2 0-4-80 3 84 7 1-5 37 4 12-2 7 2 10-3 5 1-9 9-2 1-3 3-2-4-11-3-13 3-12 0-3-2-3 4-2-4 30 14 7-1 3-6 9-1-69 42" fill="none" stroke="none" marker-start="url(#me2)" marker-mid="url(#me2)" marker-end="url(#me2)"/>
<path d="M1164 1945l13 60 31 4-179 16 45 15 98-2 97 7-92 0-123 0-29 10 34-4 2-1 10-1 1 0-5 13-2-2-88 7 57 0 1-1 12-1 21 3 2-3 2 11-6 1-5-5-1 7-19 0-53-5 1 13 31-6 3 5 8-2 8-1 4-1 22-1 5 1 30 7-5 4-25 3-1-3-3-3-7 4-7-2-23 3-2-6-6-1-4 2-6-2-4 13 9-4 1 3 1-1 1-3 18 3 4 1 7 0 5-3 6 2 44 1 8 1-9 7-11 0-16 1-6-4-13 5-2 1-19 0-1-3-10 3-18 0-12-6-1 6 0 3 9 2 0-2 4 1 0-1 29 2 6-3 14 5 9 1 1-5 7 1 2-2 5 5 34-2 6 2 29 2-36 8-5-1-12-5 0 4-17-4-6-2-9 2-2 1-2 3-5-5-4 1-11 4-1 2-2 0-4-2-4-2-2 2-9-3-2 5-2 4 4 2 35 1 6-5 1 6 22-2 1-5 9 1 21 6 31 3-37 3-10 1-3-1-18-6-19 2-7 3-5-5-15 5-1 11 2 0 5-1 3-6 3-1 2 2 34 0 29 6 19-6 1 3 13-2-28 9-1 0-4 2-13-4-8 3-4-4-21 3-2-2-9 5-1 0-7-4-10 8 7-3 13 5 30-3 25 6 3-6 19 2-15 9-3 2-4-1-15 0-9-1-1-4-7 5-26-4 0 2 0 7 2-1 33 4 0-2 20 2 17 0 1 0-19 5-4-1-23 2 0-3-4 4" fill="none" stroke="none" marker-start="url(#me3)" marker-mid="url(#me3)" marker-end="url(#me3)"/>
<path d="M1173 1919l0 5-39 25-1 1-15 9 13 1 8-5 23 3 12-1-1 10-7 1-9-8-16 6-18 0-1-5-3 7 13 7 6-1 23-6 2 4 8 6-1 4-22 0 0 1-12-4-4-2-12 4-6-4 3 8 13 6 32 1 8-2 112 8-76-5-44 2-6-2 0 0-13-1-8 4-6-2-1-1 8 11 6 0 14 1 112 11-88 6 58 41-168 11 31 27" fill="none" stroke="none" marker-start="url(#me4)" marker-mid="url(#me4)" marker-end="url(#me4)"/>
<path d="M1149 1924l6-4 11 5 4 2 2 1 5-1 37 8-3 0-14-1-8-1-1-2-2-1-12 0 0 3-17-3-2 4 9 9 9-4 2 1 3 0 18 0 3-3 2 1 1 1 5 1 8 2-2 7-7 1-7-4-20 4-5-2-7 0-2 0-7 0-10-1-1 5-3 7 19-1 7 1 3-5 10 0 7 4 24-5 0 2 4 13-9-7-15 0-4 2-8 4-14-2-2-3-14 4 7 7 15-1 2 0 7-3 8 4 5 1 7 0-6 8-11-2-7-1-1 5-5-1-12-3 12 7 9 20-154 29 60-4 4 10-86 5 180 9-82 19 95 19-109 5 61 15-68 61-29-3" fill="none" stroke="none" marker-start="url(#me5)" marker-mid="url(#me5)" marker-end="url(#me5)"/>
<path d="M1201 1937l9 4 1 16 20-2 8 4 16 4-12 3-9-2-6 3-10-5-99 12 27-6 53 7 16-7 1 2 6 3 4-2 4 3 3-3 5 0 4 3 10-6 14 7-7 9-8 0-3-3-4-2-4 3-5 0 0-1-5-3-2 2-5 2-10-3 0 9 2 0 10-1 9 4 3-7 9 4 4 0 5-3 4 6 1-3 21 0 4 2 0 7-8-2-1 5-9-2-5-1-1 0-6 0-2-4-5 1-7 2-1-3 0 4-9 1-6-1-15-5-3 8-9-5-20 3-130 6 150-3 11 3 20 2 15-5 2 6 2 1 5-2 10 2 2-3 3-2 0 2 1 0 16 10-4 0-18-3-15-2-18-1 0 5 0 1-8-4-17 2-150 0 172 8 1-4 6 1 3 5 7-3 9-2 1 6 2-6 5-2 1 6 2 2 6-8 5 7 2 1 10 5-2 2-11 1-3 0-6-2-17-1-4 6 18 5 7-7 4 5 1-4 1-1 2 6 5 2-14 4-35 2-252-5 281 13 0 1 5-2 1-5 2 3 9-1-6 7-3 1-15 3-1 2-12-6-88 14 106-6-98 22-115 13 7 1 25-1-16 51 44 8" fill="none" stroke="none" marker-start="url(#me6)" marker-mid="url(#me6)" marker-end="url(#me6)"/>
<path d="M1171 1921l71 44-39 4-31 13 16 4 22 12-2-3-22 1-16-2-9-1-9 6-3 7 20-4 4-2 2 6 9-5 6 3 23-2 6 3-16 5-14 0 0 0-4-2-2 4-15-2-21 0-148 10 27-4 142 8 4-6 6-1 19 5 7 1 12-5 8 0 0 4 4 3-14 1-3-2-15 3-13 4-1 0-102 4 91 5 3-6 0 6 9-4 10-4 57 1-21 12-5 2-2-6-6 5-6-6-3 2-4 6-3-7-1 3-6-3-11 10 2 1 1 4 16-3 1 1 2 1 2-1 3-1 1-2 1-2 10 1 0-2 4 4 6-1 14 4 7 5-9 2-19 0-7 0-1 0-4 2-2-6-8 4-8 0-2-2-2 2-156-3 143 7 1 1 2 2 2-4 16 4 2 0 7 1 3-3 5 2 23-2 7 2 5-2-31 6-8 1-6 2-1 2 0-1-4-3-134 9 118 0 19 5 10-4 4 2 8-6 8 0-13 11-9 2-8 1-9 1 10 4-100 14-32 17 67-1-104 9 79 11" fill="none" stroke="none" marker-start="url(#me7)" marker-mid="url(#me7)" marker-end="url(#me7)"/>
<path d="M1388 1987l4 5 7-3 4-3 16 2 6 4 104-6 154 11-291-5-10 14 1-6 3 2 18 4 8-4 6 0 7 3 4 1 17 1 7-2 6-4 3 14-5 1-1-5-9 5-4-7-15 6-1-4-7 2-3 0 0 2-3-4-4-2 0 4-2 1-1-1 0 0-2 2-21-1-3-5 15 10 1 0 2-1 0 0 2-2 14 3 11 4 2-3 0 2 5 1 8-5 4 2 3-1 12 2 8-2 220 3-224 3-2 2-9 0 0-1-8 2-10-3-5 5-9-1-3-4-1 6 0-2-5 1-1 1-8 3 1 1 11 3 2 1 6-3 8 3 0-6 3 7 13-4 4 2 1-1 1-5 5 8 2-4 1-2 1 5 118 7-121-2-13-2-1 4-7-3-1 2-1 1-6-4-10 2-11-3-8 2-6 2-11-5-3 4-5 6 10 5 11-2 13-4 11 7 8-8 10 0 7 3 5 4 2-3 83 9-73-1-14-3-4 2-3 3-1-6-2 3 0 2-14 0-20 3 7 2 6 4 3-6 2 7 5-5 5-2 5 4 56 4 21-8-67 8-31 3-3-2-7 2-5 2-4-3 10 8 10 5 31-6-64 11 69 55" fill="none" stroke="none" marker-start="url(#me0)" marker-mid="url(#me0)" marker-end="url(#me0)"/>
<path d="M1567 1930l74 32-243 52 181 11-91 6-72-1-34 10 3 9 46 8-27 4-2-4-16 4-10-2-3 8 3 0 6 1 7-3 3 5 1-3 0-3 16 2 129 13-129-2-18-2-1 0-3-2-2 3-5 0-3-1 16 7 1 4 3 2 26 1-25-1-1 1-7 8 1 1 7-2 43 22 75-3-51 18" fill="none" stroke="none" marker-start="url(#me1)" marker-mid="url(#me1)" marker-end="url(#me1)"/>
<path d="M1622 1981l-19 11 28 38-3 1-143-2-1 2-5 5 15 3 1 1 169 2-146 5-3-1-3-3-12 2 0-3-4-2-32 9 10 1 2 0 18 5 19-5 14 3 65 6-41 5-22-5-4 3-4 0-5-2-5-1-15 4-5-5-2 4-2-1-1 2-1-6-1 1-9 1-6 0-2 1-5-2-22 9 33 3 10 1 2 1 1-6 6 0 4-1 40 4 2-1 5 2 3-5 1 0 19 6-7 6-1-4-4 4-4-2-16 0-1-1-17 1-6 2-11 0-22 0-3-3-10 3-63-3 54 7 9 7 8-5 3 3 8-1 3-4 3 3 3-1 3 4 7-1 9 1 4-1 27-3 7 1 14 0 5 4 18 3-11 1-43 0-8 2-10-3-3 2-1 2-7-5-12 0-2 0-21 8 16 4 4 2 12-7 2 4 3-3 10 3 4 1 2-3 24 5 37-1-11 1-19 6-10-2-4 4-7-3-8 1-40-3 7 8 25 1 5 2 1-5 22 5 1-2 18-1 14 2-8 6-9 0-1 0-45 3-20-1 1 9 27-4 8 5 1-5 6-2 2 0 2 8 10 7-6 0-59 12-36 12 6-7" fill="none" stroke="none" marker-start="url(#me2)" marker-mid="url(#me2)" marker-end="url(#me2)"/>
<path d="M1619 1958l48 25-22 12-146 56-33 8-54 0 32 6 13 0 152 6 27-2-178 9-6-1-14-4-30 14 53-7 3 1 6 1 5 2 2 7 0 3-14-1-2-5 0 7-19-4-5-3-15 3-4 1-18 12 6-4 3 0 3-2 2 4 9-3 5-1 0 3 17-4 2 3 11 4 5-7 8 2 14 3 4-1-16 7-4-1-4 2-10-4-1 5-1-6-2 0-6 5-9 1-11 0-24-3 7 9 1 4 7-3 4-3 5 5 10-5 3 1 7 4 14-7 9 7 10-3 20-3 1 0 30 14-12-2-5-3-3 6-2-4-1 0-16 4-10-1 0-6-9 2-3 1-8-3-20 4-24-3 2 13 16-2 2 1 0 0 3-4 17 3 0-2 5 4 1 1 0-3 3-1 8-3 0 2 8 2 2-1 3-3 18 1 12 6 25-5 5 8-26 0-5 3-5 1-4-4-4 0-12 3-2 0-13 0-12-1-6 1-4 2-4-5-10-2-5 2-8 8 4 0 24-1 5 1 4 3 2-2 0-3 3 7 4-8 8 2 1 0 11 2 1 2 7-5 17 5 12 0 1 0 6 5-4-2-8 4-3-5-10 8-3-8-5 8-4-6-6-1-1 2-20 1-5-4-13 7-1 0-9-6-15 0 2 13 4-6 6 2 17 2 19-3 3 6 3-3 8-3 1 5 12-1 5 0 2 0 2-2 7-3 5 16-2-3-1 0-5 0-5 3-7-7-25 0-4 2-5 0-6 4-11-7-2 7-5-5-8 6-4-4-1 0 16 9 3-1 4 3 20-3 12-2 2 0 1 6 12-1 1-7 4 4 0 2-5 4-17-2-7 2-22 0 27 7" fill="none" stroke="none" marker-start="url(#me3)" marker-mid="url(#me3)" marker-end="url(#me3)"/>
<path d="M1531 1949l-17 10 7-1 1-4 12-2 21 8 15 4-17 0-5-3-4 4-13-1-2 2-4-2-4-4-5 5-3 0 14 10 10-4 13 4-4 3-9 2-18-3-6 5 8 2 4 5 15-2 1 4 4-6 4 4 14 7-23-1 0 3-16-4 12 8 0-1 12 2 4 2 39 27-188-1-16 2 43 4 235-2-44 14-114 8 39 9-85 22 66 5-13 5-16 9 18 33-68 11" fill="none" stroke="none" marker-start="url(#me4)" marker-mid="url(#me4)" marker-end="url(#me4)"/>
<path d="M1572 1920l-6-1-1 0-12 4 18-2 3 4 3-3 2-1 0 3 6-1 5-1 1-1 4 4 8 0-47 7-6 2-3 9 30-7 0 4 3-3 5 3 23-2 0 2 6 1 1 5-1 2-12 1 0 0-15 1-4-5-10 3-7 0-1-1-7-2-14 1-2 8 23 5 8-1 10 1 1-2 1-2 0-1 8 0 7 3 5 3-1 5-7 0-1 1-16 2-13-2 0-6-7 12 4-3 15 5 4-5 4 6 6-1 6 2 6-6 0 6-15 7-20 7 3 0 4 0 3-3 17-3-4 9-17 1-10 0 101 17-275 14 5 42 176 10-2 8-63 19-32 13 13 11-8 55" fill="none" stroke="none" marker-start="url(#me5)" marker-mid="url(#me5)" marker-end="url(#me5)"/>
<path d="M1589 1936l25 7 8 1-16 13 19 1 0-3 5 2 0 3 19 4-4-1-3 0-3-2-8 6-11-4-7 1-5 0-1 10 26-3 16-2 4 4 1 3 2-7 8 11-2 3-5-3-1-2-32-1-24 0-3 3-25 8 5 4 14-2 11-3 0-1 7 5 3-2 3 2 7-2 19 0 12-2 4 0 20 1 3 1 4 1 2 1-6 9-7-6-9-1-32 4-15 1-8 0-34-3 30 9 13 2 4 1 5-5 4 6 3-5 4 4 10-6 6 5 4 1 12-3 0 2 3-2 7-2 6 14-7-6-4-1-2 0-1 5-10 0-1 0-19-6-6 6-4-4-5 6-51-8 40 12 1 3 7-3 12 3 10 0 5-6 6 3 0-2 3 2 2-2 8 6 3-1 7-4 1 0 1-2 13 0-2 8-34-1-11 4-13 4-4 1 15 1 6-1 5 6 5-5 6 3 3-5 3 3 9 0 5 2 2-2 0 5-2 0-15 5-7-3-1 0-2-1-8 2-13-1-7 4-5-5 15 9 4 4 13-4 2 2 0 2 16-2-21 11-104 26-70 11 40 20" fill="none" stroke="none" marker-start="url(#me6)" marker-mid="url(#me6)" marker-end="url(#me6)"/>
<path d="M1525 1970l73 14-19 8 61 1-56 7-7-1-192-7 1 8 34 3 153 0 0-1 22-1 17 6 55-2-111 5 11 12 34-1 7 1 8 2 2-1 11 7-15-4-7 4-6 0-4 2-1-6-1 3 0-1-6-2-10 3-1 1 0 7 25 2 10-5 59 3-38 6-7 5-4-2-3 1-8-2-3 0-4-1-8 3-2-5-1 3-4-1-1-4-7 6-1-2-157 5 153 3 3 1 4-3 16 1 7 3 15 2 12-7 12 11-5 0-4-1 0 5-14-2-10-2-9 2-8 1-1-4-18 0 6 13 1-2 1-5 2 2 5 1 14 2 1 2 5-7 1-1 3 8 18-1 12-3 7-4-37 9-28 2-9-1-118 0 122 8 36-1 3 3 5 3-20 8-10 1-6-1-16 4 24-2-123 10-3 17 33 10-21 9" fill="none" stroke="none" marker-start="url(#me7)" marker-mid="url(#me7)" marker-end="url(#me7)"/>
<path d="M1555 1948l11 8 25-2-200 35 8-4 9 4 13-2 5-2 20 9-14 1-2 2-19 3-11-7-4 2 8 6 5 3 1 1 7 1 2-5 15 0 0 4 8-2 4 0 7 3 1-4 12 11-4 2-14-6-3 0-3 0-3-1-12 6-22-4 0 3-1 2-3-2-1-4-7 6-15 8 2-5 3-1 4 1 10-1 2 6 5-4 18 3 1 0 7 1 6-4 2-2 5 6 5-5 1 4 3 2 1-7 9 4 8-2 7 11-20 1-8-7-14 6-27-2-12-1-1 1-13 0-5 2-2 2 2 3 11 4 8-5 0 5 8-7 3 1 0 5 12-5 50 8-20 1-3 1-19 4-15-3-17-2-12-1 16 11 12 0 9-1 7-2 1 3 20 0 7 3 216 1-246 3-19 0-15 9 20 0 4-2 4 4 5-4 198 11-227 3 19 1 8-1 93 1 23 17 15 14-52 7-1 53" fill="none" stroke="none" marker-start="url(#me0)" marker-mid="url(#me0)" marker-end="url(#me0)"/>
<path d="M1531 1973l-134 18 17-4 237 13-4 12-225 6 12 19-60 6 10 7 287 8-271 5-7-5-19-1-1 14 4 0 2 1 6-1 0 1 2-5 9-1 13 7-4 5-5 1-2-3-12-2-9 7 9 1 3 1 10 3 6-2-18 7 9 13 10 10 152 9-37 34 1 20" fill="none" stroke="none" marker-start="url(#me1)" marker-mid="url(#me1)" marker-end="url(#me1)"/>
<path d="M1580 1944l95 70-218-5 192 13-162 7-19-3-6 2 13 10 1 0 0-1 3 1 1 0 3-4 2 2 0-2 5 4 17 9-2 0 0-5-9 3-9-2-3-1-7 4 0 1-4-2-1 0-4-1-1-2-50 1 43 9 3-3 34 4 41 2-1 8-6-6-5 2-3 1 0-1-13-1-5-1-2 0-8 2-2-2-3 2-15 1-2 2-11 0-14-5-17 2 24 12 1 0 1-6 1 2 19 1 1 1 4-2 5-1 1 3 3-4 4 1 12-1 21 3 1-3 19 3 3-1 3-2 4 0 3 4 12 7-12-4-24 8-2 0-1-6-1 2-11-3-1 6 0-7-22 1-2 0-13 2-35-2-62 6 35 7 25-3 28 3 12-4 14 4 7-5 27 5 7-3 5 3 29-4 5 4-1 3-12 0-12-1-6 4-18 3 0-6-1-1-7 7-2-6-1 1-10 4-8 0-2-3-15 3-22-4 9 10 36-1 3-1 5 4 2-1 6 2 13 0 9-4 4-2 5 4 2 0 6 2 7-3 3 2 1-6 0 3 9 2 0 4-3 2 0 1-13-1-12 3-2-4-4 2-3-3-1 1-4 5-13-1-5 2-2-7-1 4-5-1-1-1-12 5-13-3-12-2 26 7 34 5 2-5 1 5 10 0 6 1 7-4 4-3 11 4-1 6-3-3-2 1-1 5-11-2-2-3-6 3-1 3-8-2-13 1-5 1-3-1-12-1-3-4-3-1-7 9 29-1 10 2 4-1 8 4 14-2 2-1-13 10-16 6" fill="none" stroke="none" marker-start="url(#me2)" marker-mid="url(#me2)" marker-end="url(#me2)"/>
<path d="M1571 1938l-12 13-150 54 275 9-307 24 207 2 49 1-159 22-20-3-30 10 39 0 12 4-37 2-8 0-17 10 13-2 3 0 0-4 6 7 12-6 9 4 0-2 8 4 4-7 14 4 93-2-102 12-16-5-8 3-32-4-12 14 4-6 3 1 6 6 1-5 6 3 7-2 2 4 8-4 58 13-14-3-22 3-1-7-4 1-10-1-13 7-1-1-5-3-1-3-5 3-2 0-2 0-8 2-13-2-6-1 0 1 11 10 2 1 4-6 4 0 4 1 5-2 3 2 2 6 10-5 24-1 1 0 9 1 5 2 1-1 11 0 43 12-12-4-6 2-20-5-37 3-18 3-2-5-6 6-3-4-5 1-6-1-2 3 29 2 10 5 15-5 4 4 6-3 0 4 11-4 6 1 4 5 3-7 19 6 31-3-35 10-2-3-1-3-2 5-3-5-4 1-11 7-18 0-9-6-2 1-4 3-2-2-23-2-6-1-1 0-5 8 10 2 8-1 7 0 6 1 3 3 1-2 1-4 22 1 3 6 10-3 8 1 6 1 6-1 1-2 15-2-3 13-54 0-2-5-8 4-2-2-13-1-4 0 0 5-9-1-9-4 3 11 14-3 1 4 14-1 9 1 4-4 18 2 20-2 3 1 4 2 8 2-24 8-5-6-5 6-2-4-4-2-2 1-17-1-1 4-33-2 5 6 6 0 12 2 3 0 2 3 5-1 4 1 3-4 1 1 7 3 16-4 9 3 13-1-20 9-4-1-6-2-14-1-13 0" fill="none" stroke="none" marker-start="url(#me3)" marker-mid="url(#me3)" marker-end="url(#me3)"/>
<path d="M1520 1955l3 3 12 2 1-4 12 5-2 6-11 1-1-2 0-5-2 1 0 6-1-1-12-6-1 0-6 8 6-1 2 4 6 3 13-2 4-3 5 0 71 0-41 8-5-1-36 7-9-1 5 6 7-3 9 2 1-1 5 2 13 7-8 0-1-2-6 5-5 1-2-3-2-4-3 0-7 5 23 9 86 12-152 28 146 10-90 62-104 30 91 9" fill="none" stroke="none" marker-start="url(#me4)" marker-mid="url(#me4)" marker-end="url(#me4)"/>
<path d="M1596 1919l-43 3 2 5 3-6 14 3 4 2 3-5 3 1 0 2 6 0 14 3 9 6-7-4-2 4-6 1-5-5-11 0-3 5-8-5-4 2-3 1-2-2-9 2-2-1-9 13 14-3 6-2 26 2 0-4 0 4 15 0 1-4 3 5 4-2 13 7-2 0-1 2-21-5-2 1-5 1-1-2-9 0-9 5-8 2-2-3-4-1-5 0-12 5-4-4 22 8 3-3 12 6 16-6 9 0 3 2 26 1-13 5-15 5-7 1-9-5-2 4-2-3-4-3-4 5-18 3-1-7 4 9 5-1 3 5 18-2 0 1 1 2 45-7-48 11-8 1-7 1-7-1-2 3 3 4 6 1 2 16 32 18-4 8-175 20 55 11 55 16 2 52" fill="none" stroke="none" marker-start="url(#me5)" marker-mid="url(#me5)" marker-end="url(#me5)"/>
<path d="M1573 1924l44 29 6 6 15-3 8 5-16 4-2-1-7 1-7-1-5-1-78 3 63 10 12-1 2-5 2 3 1-3 6 1 14 5 4-6 0-2 18 3 0 5 26 6-8-1-18-1-4-3-3 0-3 1-6 4-11 0-1-5-13 6-20 7 3-4 10 6 7-7 22 4 15-4 3 1 8 3 5-5 8 5 7 2 7 4-9-2-3 0-9 0-2 1-24 1-4 3-22-3-7-1-2-1-17 7-2-3-15 3-177-3 155 4 25 7 5-6 27-1 0 6 11-3 5-4 3 5 17 2 17 0 3-1 3-4 8 5 2 0 4-1 9 4-2 2 0 4-14-1-1-2-10-2-17 5-3-1-3-2-2 1-8 1-1-6-4 4-5 1-38-5 35 13 10-4 5 0 17 1 5 2 7-1 7 2 7-4 6-1 5 3 4-3-4 15-2-3-10 2-2-4-21 1-12 2-1-6-20 1 21 10 5-1 30 3 12-2 0 3 2-4 5 2-12 5-1-1-23 8-2-7-7 5-1-6-6 2-2 2-6 1 2 8 3-1 2-1 10 5 30-1-7 1-3 6-5-2-10 2-2-6-11 6 3 4 17-1-119 70-25 49" fill="none" stroke="none" marker-start="url(#me6)" marker-mid="url(#me6)" marker-end="url(#me6)"/>
<path d="M1581 1967l-57-3 2 5 63 10-28 12 84-3-57 11-1 1-10-3-140 2 135 4 4 2 8-3 8 4 25 9-15-2-7-4-1 3-29-2-6-1-113 6 135 1 10 1 4 6 3-6 27 10-5 1-22-4-10 6-9-3 4 6 2 1 8 5 5-5 3-1 0 6 11 1 13-1 20 7-23-1-4-2-1 3-1-1 0 1-5-1 0 3-5-1-1 0-3-3-28-2-184 4 199 3 12-1 24 2-16 10-2 4-1-3-1-1-21 3-11 0-44-4 45 7 6 2 6-2 7 4 1-3 20 4 16-2 4 1 7-5 5 6-3 3-14-1-4 3-3 4-22-7-2 0-4-1-10 7-2-3-2 0 6 4 1 7 2-3 15 1 7 3 16-3-6 4-6 1-11-1 0 4 0-1-3-2-4 5-1-1-1-1-117 83" fill="none" stroke="none" marker-start="url(#me7)" marker-mid="url(#me7)" marker-end="url(#me7)"/>
<path d="M1531 1954l-134 37 4-1 8 1 2-4 13 4 2-6 4 4 5 2 99 8-96-3-25 3-2-2-17 3-9 5 15 2 2-1 5-5 9 7 3-4 33-4 15 14-13-6-3 6-1 1-6-4-5 1-6 1 0 2-14-1-3-2-1 0-10 2-9-1-16 2 1 2 2 4 9 3 7-1 10-3 0 4 9-2 1-1 9 2 10-5 9 3 23 1 147-4-136 7-17-1-34 6-4-3-10-3-3 5-1 2-5-6-8 4-5 1-5 1-7-4-1 4-4 0 5 1 19 1 0 3 10-2 2 0 6 6 13-7 13 3 4 0 7 1 4 0 6 1-32 3-4 7-13-2-9-3-8-1-9 0-15-1 16 15 8-4 9 4 3-6 2 6 3-6 16 2 8 0 6 0 11 4 42 0-29 3-13 5-14-6-7 5-19-2-4-1-21-2 8 10 39-4 9 11-1-3-18 4-14-4-11 3 9 12 10 1 141-4-134 48 46 1 19 8" fill="none" stroke="none" marker-start="url(#me0)" marker-mid="url(#me0)" marker-end="url(#me0)"/>
<path d="M1535 1958l56 56-21 12-113 7-57 14-25-7 10 11 8 1 72-1 175-1-267 9 2 13 2-3 8-4 11 3 4 2-6 8-10 7 26 2 3 0 7-2 36-1 37 0 19 11-119 1-9-7 1 7 3 4 142 5-93 59 63 13" fill="none" stroke="none" marker-start="url(#me1)" marker-mid="url(#me1)" marker-end="url(#me1)"/>
<path d="M1568 1952l21 22 61 26-263 3 14-1 67 33 14-2 123 5 54-6-145 16-1-7-14 5-1-4-10 0-11 0-2 4-19-2-3 8 23-2 1 0 18 3 0-3 7 2 7 1 3 1 22-2 1 1 111-5 8 6-111 9-2-3-9 1-4 0-9 3-11-5 0-1-9 5-7-5-18 1-1-1-16 3-12 7 26 1 11 1 18-4 4 1 5 2 1-1 2-3 26 5 5-2 2 3 1-3 15 2-3 4-1 5-3 0-4-2-10-1-2-2 0 5-8-1-4-1-1-2-5 2-3-1-1-4-1 2-7 3-1-2-4 0-2 2-13 0-8-4-15 1 27 11 6 0 16 1 7 0 1-3 23-2 2 2 11 0 16 0 1 2 1-4 9 9-6 4-7-4-4-1-5 0-14 4-7-2-9-1-1 4-4-5 0-1-4 1-4 5-17-4-8 5-3-2-4 1-1-2-2 0-8-1-55 6 55 3 5-4 9 3 14 0 5 2 1 1 7 2 5-2 26 2 23-7 2 1 2 5 10 4-3 0-5 2-12 3-2-8-4 7-2-6-8 3-3-1-12-2-4 5-14-5-3 0-8 5-2-1-6-3-3 2-3 1 12 6 4-3 14 6 7-4 10 4 1 1 2-7 7 6 27-5-18 8-3 1-20 4-5-2-4-1-8 1-5-3-3 9 23 5-72 21 17 34" fill="none" stroke="none" marker-start="url(#me2)" marker-mid="url(#me2)" marker-end="url(#me2)"/>
<path d="M1587 1938l26 56-148 43-9 13 167 17-141 12-33-2-7 1-23 5 2-2 5 6 15-4 0-2 3 6 8 0 17-3 1 0 61 11-55-4-1 0-6 4-3-3-2 2-11-5-13 0-27 8 2 4 5-1 11 4 5-5 12 1 2 4 1-3 4-5 13 2 9 0 4-1-7 15-6-3-12-3-10 1-15 1-4 0-3 4-13-4-18 3 7 2 6 5 4 2 4-1 4 0 3-6 7 4 9 3 5 0 0-5 1 2 15-5 4 2 10 4 4 1 2-1 5-6 7 1 3-1 16 7 50-4 6 8-41 5-24 0-3-6-1 3-19-3-12 1-4-1-1 4-2-3-8 3-18-1-13 1-8-6 6 10 12 4 18-3 5 1 2-1 12 3 6-2 1 1 3-3 4-1 14 2 3-1 0-2 3 5 2 0 6-1 3-4 10 1 4 4 5-1 0 12-3-7-2 2 0 0-30 3-2 1-4-6-5 0-9 3-1 2-1 2 0-2-4 0-8-5-13 0-12 2-5 4-7 0-2-7 7 14 1 2 7-6 2-2 37 2 6-1 5 2 8 2 5 3 18-2 7-5 13 3-5 11-17-6-1 5-11 1-7-2-5-3-2 0-7 5-10 0-7-4-1 0-6-1-10 4-9-1 0-2-4 5-4-2 0 2 6 1 18 1 3 0 11 0 5 4 14 1 8-1 0-3 11 0 0-2 4 0 15 10-13-3-27 7 0-6-11 2-2-1-10 2-6-2-16 3-10-4 33 14 7-6 20 0 0 1 13 2 9 1 4 0 6 2-38 1-13 4" fill="none" stroke="none" marker-start="url(#me3)" marker-mid="url(#me3)" marker-end="url(#me3)"/>
<path d="M1540 1943l14-5-9 11-1-1-14 4-13 5 11-4 7 0 5 5 0-6 1 5 6 1 10 8-18-6-1 7 0-2-8-2-12 5 2 6 17-4 0-1 25 12 0-1-3 3-16-5-3-1-3 0-4 3-20 2-1 4 3-1 1 3 4 0 12-4 1 0 10 4 16 4-2 3-15 2-3 0-5 3 3 3 2 4 0-4 13 1 4-1 94-2-205 36 24 15-31 30-4 19 67 65" fill="none" stroke="none" marker-start="url(#me4)" marker-mid="url(#me4)" marker-end="url(#me4)"/>
<path d="M1571 1918l-20 5 3 2 15-3 12 4 0 0 8-2 0 0 16 6-10 1-4 2-1 3-1 0-2-6-9 1-4 5-6-5-6 4-25 6 13-4 25 2 14-2 2 2 15 2 7 5-4 4-2 2 0-2-6-6-5 0-11 7-4-5-4-1-5 6-1-6-2 6-2 1-2-2-4 0-2-1-3-1-10 2 4 4 5 5 4-1 5 1 17-2 6 2 1-5 2-2 3 6 18-6-38 9-1 6-4-1-8-2-10 0 4 7 18-1 25 1 5 0 1-1 50 9-53 4-12-6-2 2-14 2-1-2-14 7 2 1 4 3 14-2 24-2-19 7 19 25 69 42-174 2 85 15-7 26-137 30 84 14-56 7 5 6" fill="none" stroke="none" marker-start="url(#me5)" marker-mid="url(#me5)" marker-end="url(#me5)"/>
<path d="M1614 1939l15 12-5-1-4-6-1 5-1-2-1-2-58 8 47 1 10 0 3 5 3-3 15 1 6 9-4-4 0 3-4-1-4 3-4 0-2-2-4-2-7-2-12 6-1-7 21 15 1-4 15-2 18-1 16 15-5-7-9 1-10 4-7-3-7 5-12-2-14 0-2 1-22 1-7 4 4 1 9-3 18 5 24 0 8 1 2-1 3-6 1 2 10 3 1 2 1-1 5-2 10-1 10 7 0 2-3-1-5 2-3 0-17-2-5-2-3 4-6-3-5 5-44 0-23 5 5-3 21 4 2 2 0 0 16-2 2-2 9-2 2 1 1 3 4 0 3-4 0 2 5-2 5 2 2-3 3 3 23-1 5-2 7 6 1 2-14 4-6 1-1 0-7 1-7-6-5 8-12-2-3-6-7 3-15 4-168 1 195 5 3 0 3 0 5 1 5-6 6 3 1 3 5-2 0-3 21 2 3-2 10 8-11 7-1-3-8-4-2 4-2-3-3 5-8-3-3 1-6-4-3 0-1 4-2 2-2-7-11 0-2 7-11-4-19-2 14 13 20-2 13 0 2-1 7 1 5 2 0-2 14-3 13-1-13 16 0-4-9 0-9-4-32 2-31 13 48-3 9-2 8 2 19-2-26 14-1-1-246 9 39 0 206-8-120 16-138 32 130 4-14 52" fill="none" stroke="none" marker-start="url(#me6)" marker-mid="url(#me6)" marker-end="url(#me6)"/>
<path d="M1609 1958l4 7-18 7-2 26-24-1-3 4 3 3 3 2 27 0 76 2 12 2-83 6-4-6-9 0-3-2-11 8-6-6-4 3 0-5-2 8-6-8-8 1 16 13 5 1 9-2 15-3 2 0 4-1 5 5 29 10-21-2-3 0-1-2-4 2 0-4-19-1-9 4-11 8 7-5 8 1 5 1 11 4 9 1 12 1 4-8 4 6 39 3-43 6-3-7-1 1-7 1-10 3-3-2-2 1-14 3-11-5-2 13 3-7 5 2 3-1 0 3 11-1 9 0 17 2 15-1 6 2 29-4-50 13-5-2-3-5-1 5-3 0-12 1-3-5-152 3 146 10 10-6 0 2 1-1 13 1 3 3 3 0 1-2 1 0 6-2 16 4 3 1 6-1-18 4-1 0-6 1-4 5-5-5 0-2-15 3-1 3 0-1-2-3-12 4-177-4 189 8 3 5 10-6 11 4-28 6-6-3-156 37 1 3 61 3" fill="none" stroke="none" marker-start="url(#me7)" marker-mid="url(#me7)" marker-end="url(#me7)"/>
<rect x="116.3" y="1909.5" width="214.7" height="33.4" rx="5" fill="#CC79A7" stroke="#000" stroke-width="2.2"/><text x="223.7" y="1934.8" font-family="'Liberation Sans', Arial, sans-serif" font-size="24" font-weight="bold" fill="#fff" text-anchor="middle">CD46/CD55/CD71</text>
<rect x="97" y="1966" width="78.3" height="33.5" rx="5" fill="#F0E442" stroke="#000" stroke-width="2.2"/><text x="136.2" y="1991.3" font-family="'Liberation Sans', Arial, sans-serif" font-size="24" font-weight="bold" fill="#000" text-anchor="middle">CD71</text>
<rect x="419" y="1903.5" width="142.5" height="32.8" rx="5" fill="#0072B2" stroke="#000" stroke-width="2.2"/><text x="490.2" y="1928.5" font-family="'Liberation Sans', Arial, sans-serif" font-size="24" font-weight="bold" fill="#fff" text-anchor="middle">CD46/CD71</text>
<rect x="480" y="1946.7" width="77.6" height="33.3" rx="5" fill="#E69F00" stroke="#000" stroke-width="2.2"/><text x="518.8" y="1971.9" font-family="'Liberation Sans', Arial, sans-serif" font-size="24" font-weight="bold" fill="#000" text-anchor="middle">CD46</text>
<rect x="39.7" y="2098.8" width="143.7" height="33.4" rx="5" fill="#D55E00" stroke="#000" stroke-width="2.2"/><text x="111.6" y="2124.1" font-family="'Liberation Sans', Arial, sans-serif" font-size="24" font-weight="bold" fill="#fff" text-anchor="middle">CD55/CD71</text>
<rect x="410" y="2101.8" width="144" height="33.4" rx="5" fill="#009E73" stroke="#000" stroke-width="2.2"/><text x="482" y="2127.1" font-family="'Liberation Sans', Arial, sans-serif" font-size="24" font-weight="bold" fill="#fff" text-anchor="middle">CD46/CD55</text>
<rect x="373.4" y="2141" width="51.6" height="34" rx="5" fill="#999999" stroke="#000" stroke-width="2.2"/><text x="399.2" y="2166.6" font-family="'Liberation Sans', Arial, sans-serif" font-size="24" font-weight="bold" fill="#fff" text-anchor="middle">NT</text>
<rect x="328" y="2187.4" width="78" height="32.6" rx="5" fill="#56B4E9" stroke="#000" stroke-width="2.2"/><text x="367" y="2212.3" font-family="'Liberation Sans', Arial, sans-serif" font-size="24" font-weight="bold" fill="#000" text-anchor="middle">CD55</text>
<path d="M147 2161V2240.3H228" fill="none" stroke="#000" stroke-width="1.8"/>
<path d="M147 2148.3L140.5 2159.8L153.7 2159.8Z" fill="#000"/>
<path d="M238.4 2240.3L227.4 2233.5L227.4 2246.7Z" fill="#000"/>
<text transform="translate(138,2199.5) rotate(-90)" font-family="'Liberation Sans', Arial, sans-serif" font-size="20.5" text-anchor="middle">UMAP 2</text>
<text x="148" y="2260" font-family="'Liberation Sans', Arial, sans-serif" font-size="20.5">UMAP 1</text>
</svg>
</body></html>
